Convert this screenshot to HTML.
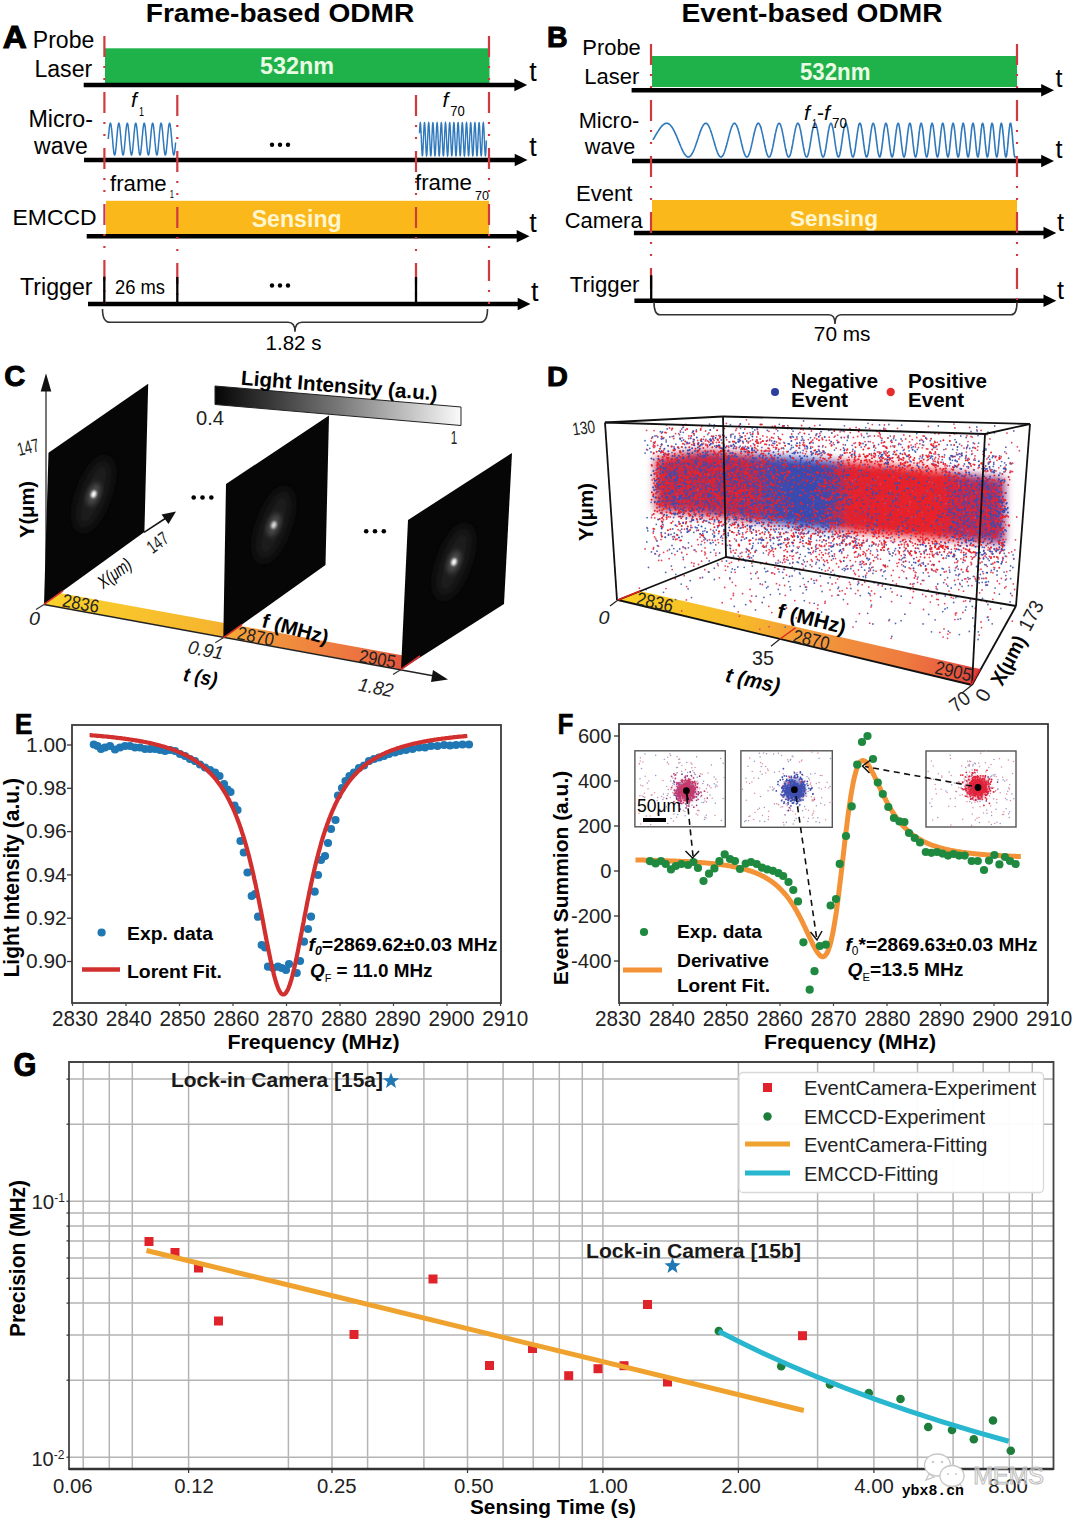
<!DOCTYPE html>
<html><head><meta charset="utf-8"><title>ODMR figure</title>
<style>
html,body{margin:0;padding:0;background:#fff;}
body{width:1080px;height:1520px;overflow:hidden;}
svg{display:block;font-family:"Liberation Sans","Noto Sans CJK SC",sans-serif;}
</style></head><body>
<svg width="1080" height="1520" viewBox="0 0 1080 1520">
<defs>
<linearGradient id="cbar" x1="0" y1="0" x2="1" y2="0"><stop offset="0" stop-color="#050505"/><stop offset="0.5" stop-color="#777"/><stop offset="1" stop-color="#fafafa"/></linearGradient>
<linearGradient id="tbar" gradientUnits="userSpaceOnUse" x1="44" y1="606" x2="418" y2="671"><stop offset="0" stop-color="#fad22a"/><stop offset="0.45" stop-color="#f6b52e"/><stop offset="0.55" stop-color="#f39a3c"/><stop offset="0.85" stop-color="#ec7240"/><stop offset="1" stop-color="#e2483a"/></linearGradient>
<linearGradient id="dbar" gradientUnits="userSpaceOnUse" x1="618" y1="600" x2="980" y2="680"><stop offset="0" stop-color="#f9cf22"/><stop offset="0.35" stop-color="#f7b72a"/><stop offset="0.5" stop-color="#f39c3a"/><stop offset="0.8" stop-color="#ee7a40"/><stop offset="0.93" stop-color="#e9573e"/><stop offset="1" stop-color="#d83a3a"/></linearGradient>
<filter id="b6" x="-1" y="-1" width="3" height="3"><feGaussianBlur stdDeviation="6"/></filter>
<filter id="b3" x="-1" y="-1" width="3" height="3"><feGaussianBlur stdDeviation="2.6"/></filter>
<filter id="b1" x="-1" y="-1" width="3" height="3"><feGaussianBlur stdDeviation="1"/></filter>
<clipPath id="cf1"><polygon points="44,604.4 48.5,452.7 148.2,383.8 144.4,532"/></clipPath>
<clipPath id="cf2"><polygon points="223.3,637.8 226,484 329,415.5 325.5,565"/></clipPath>
<clipPath id="cf3"><polygon points="401,669.5 408,520 512,453 504,604"/></clipPath>
<linearGradient id="dband" gradientUnits="userSpaceOnUse" x1="652" y1="0" x2="1008" y2="0"><stop offset="0" stop-color="#c2304f"/><stop offset="0.25" stop-color="#b02a58"/><stop offset="0.33" stop-color="#5a44a0"/><stop offset="0.40" stop-color="#3b48b0"/><stop offset="0.49" stop-color="#4046ac"/><stop offset="0.55" stop-color="#dc2433"/><stop offset="0.80" stop-color="#e6222a"/><stop offset="0.87" stop-color="#a82e68"/><stop offset="1" stop-color="#90387c"/></linearGradient>
<filter id="b4" x="-0.2" y="-0.5" width="1.4" height="2"><feGaussianBlur stdDeviation="4.5"/></filter>
<clipPath id="ins11"><rect x="634.9" y="750.8" width="90.4" height="76"/></clipPath>
<clipPath id="ins12"><rect x="740.9" y="750.8" width="91.4" height="76.5"/></clipPath>
<clipPath id="ins13"><rect x="926" y="751" width="90" height="76"/></clipPath>
</defs>
<rect width="1080" height="1520" fill="#fff"/>
<text x="280" y="21.7" font-size="26.5" font-weight="bold" text-anchor="middle" textLength="268.5" lengthAdjust="spacingAndGlyphs">Frame-based ODMR</text>
<text x="2.8" y="47.5" font-size="32" font-weight="bold" textLength="24" lengthAdjust="spacingAndGlyphs" stroke="#000" stroke-width="1.1">A</text>
<text x="32.8" y="48" font-size="23.5" textLength="61.5" lengthAdjust="spacingAndGlyphs">Probe</text>
<text x="34.4" y="76.9" font-size="23" textLength="57.8" lengthAdjust="spacingAndGlyphs">Laser</text>
<rect x="105" y="48.3" width="384.5" height="34.7" fill="#1fb24b" />
<text x="260" y="74.4" font-size="24" font-weight="bold" fill="#eafbe4" textLength="74" lengthAdjust="spacingAndGlyphs">532nm</text>
<line x1="83.7" y1="85" x2="515.4" y2="85" stroke="#000" stroke-width="4.5" />
<polygon points="527.2,85 514.4,78.8 514.4,91.2" fill="#000" />
<text x="529.3" y="80.5" font-size="27" textLength="7.5" lengthAdjust="spacingAndGlyphs">t</text>
<text x="28.5" y="126.5" font-size="23.3" textLength="64.5" lengthAdjust="spacingAndGlyphs">Micro-</text>
<text x="34" y="153.9" font-size="23.5" textLength="53.8" lengthAdjust="spacingAndGlyphs">wave</text>
<path d="M108.3 139 L108.4 137.7 L108.5 136.4 L108.6 135.1 L108.7 133.8 L108.9 132.6 L109 131.4 L109.1 130.3 L109.2 129.2 L109.3 128.2 L109.4 127.3 L109.5 126.5 L109.6 125.7 L109.8 125.1 L109.9 124.5 L110 124 L110.1 123.7 L110.2 123.5 L110.3 123.3 L110.4 123.3 L110.5 123.4 L110.7 123.6 L110.8 123.9 L110.9 124.3 L111 124.8 L111.1 125.5 L111.2 126.2 L111.3 127 L111.4 127.9 L111.6 128.8 L111.7 129.9 L111.8 131 L111.9 132.1 L112 133.3 L112.1 134.6 L112.2 135.9 L112.3 137.2 L112.5 138.5 L112.6 139.8 L112.7 141.1 L112.8 142.4 L112.9 143.7 L113 145 L113.1 146.2 L113.2 147.3 L113.4 148.5 L113.5 149.5 L113.6 150.5 L113.7 151.3 L113.8 152.1 L113.9 152.9 L114 153.5 L114.1 154 L114.3 154.4 L114.4 154.7 L114.5 154.9 L114.6 155 L114.7 155 L114.8 154.8 L114.9 154.6 L115 154.2 L115.2 153.8 L115.3 153.2 L115.4 152.6 L115.5 151.8 L115.6 151 L115.7 150.1 L115.8 149.1 L115.9 148 L116.1 146.9 L116.2 145.7 L116.3 144.5 L116.4 143.2 L116.5 141.9 L116.6 140.6 L116.7 139.3 L116.8 138 L117 136.6 L117.1 135.3 L117.2 134.1 L117.3 132.8 L117.4 131.6 L117.5 130.5 L117.6 129.4 L117.7 128.4 L117.9 127.5 L118 126.6 L118.1 125.9 L118.2 125.2 L118.3 124.6 L118.4 124.1 L118.5 123.8 L118.6 123.5 L118.7 123.3 L118.9 123.3 L119 123.4 L119.1 123.5 L119.2 123.8 L119.3 124.2 L119.4 124.7 L119.5 125.3 L119.6 126 L119.8 126.8 L119.9 127.7 L120 128.6 L120.1 129.6 L120.2 130.7 L120.3 131.9 L120.4 133.1 L120.5 134.3 L120.7 135.6 L120.8 136.9 L120.9 138.2 L121 139.5 L121.1 140.9 L121.2 142.2 L121.3 143.5 L121.4 144.7 L121.6 145.9 L121.7 147.1 L121.8 148.2 L121.9 149.3 L122 150.3 L122.1 151.2 L122.2 152 L122.3 152.7 L122.5 153.4 L122.6 153.9 L122.7 154.3 L122.8 154.7 L122.9 154.9 L123 155 L123.1 155 L123.2 154.9 L123.4 154.7 L123.5 154.3 L123.6 153.9 L123.7 153.4 L123.8 152.7 L123.9 152 L124 151.2 L124.1 150.3 L124.3 149.3 L124.4 148.2 L124.5 147.1 L124.6 145.9 L124.7 144.7 L124.8 143.5 L124.9 142.2 L125 140.9 L125.2 139.6 L125.3 138.2 L125.4 136.9 L125.5 135.6 L125.6 134.3 L125.7 133.1 L125.8 131.9 L125.9 130.7 L126.1 129.6 L126.2 128.6 L126.3 127.7 L126.4 126.8 L126.5 126 L126.6 125.3 L126.7 124.7 L126.8 124.2 L127 123.8 L127.1 123.5 L127.2 123.4 L127.3 123.3 L127.4 123.3 L127.5 123.5 L127.6 123.8 L127.7 124.1 L127.8 124.6 L128 125.2 L128.1 125.9 L128.2 126.6 L128.3 127.5 L128.4 128.4 L128.5 129.4 L128.6 130.5 L128.7 131.6 L128.9 132.8 L129 134.1 L129.1 135.3 L129.2 136.6 L129.3 137.9 L129.4 139.3 L129.5 140.6 L129.6 141.9 L129.8 143.2 L129.9 144.5 L130 145.7 L130.1 146.9 L130.2 148 L130.3 149.1 L130.4 150.1 L130.5 151 L130.7 151.8 L130.8 152.6 L130.9 153.2 L131 153.8 L131.1 154.2 L131.2 154.6 L131.3 154.8 L131.4 155 L131.6 155 L131.7 154.9 L131.8 154.7 L131.9 154.4 L132 154 L132.1 153.5 L132.2 152.9 L132.3 152.2 L132.5 151.4 L132.6 150.5 L132.7 149.5 L132.8 148.5 L132.9 147.4 L133 146.2 L133.1 145 L133.2 143.7 L133.4 142.5 L133.5 141.2 L133.6 139.8 L133.7 138.5 L133.8 137.2 L133.9 135.9 L134 134.6 L134.1 133.3 L134.3 132.1 L134.4 131 L134.5 129.9 L134.6 128.8 L134.7 127.9 L134.8 127 L134.9 126.2 L135 125.5 L135.2 124.8 L135.3 124.3 L135.4 123.9 L135.5 123.6 L135.6 123.4 L135.7 123.3 L135.8 123.3 L135.9 123.5 L136.1 123.7 L136.2 124 L136.3 124.5 L136.4 125.1 L136.5 125.7 L136.6 126.5 L136.7 127.3 L136.8 128.2 L137 129.2 L137.1 130.3 L137.2 131.4 L137.3 132.6 L137.4 133.8 L137.5 135.1 L137.6 136.4 L137.7 137.7 L137.8 139 L138 140.3 L138.1 141.6 L138.2 142.9 L138.3 144.2 L138.4 145.4 L138.5 146.6 L138.6 147.8 L138.7 148.8 L138.9 149.9 L139 150.8 L139.1 151.7 L139.2 152.4 L139.3 153.1 L139.4 153.7 L139.5 154.2 L139.6 154.5 L139.8 154.8 L139.9 155 L140 155 L140.1 154.9 L140.2 154.8 L140.3 154.5 L140.4 154.1 L140.5 153.6 L140.7 153 L140.8 152.3 L140.9 151.5 L141 150.7 L141.1 149.7 L141.2 148.7 L141.3 147.6 L141.4 146.4 L141.6 145.2 L141.7 144 L141.8 142.7 L141.9 141.4 L142 140.1 L142.1 138.8 L142.2 137.5 L142.3 136.2 L142.5 134.9 L142.6 133.6 L142.7 132.4 L142.8 131.2 L142.9 130.1 L143 129 L143.1 128.1 L143.2 127.2 L143.4 126.3 L143.5 125.6 L143.6 125 L143.7 124.4 L143.8 124 L143.9 123.7 L144 123.4 L144.1 123.3 L144.3 123.3 L144.4 123.4 L144.5 123.6 L144.6 124 L144.7 124.4 L144.8 124.9 L144.9 125.6 L145 126.3 L145.2 127.1 L145.3 128 L145.4 129 L145.5 130 L145.6 131.2 L145.7 132.3 L145.8 133.5 L145.9 134.8 L146.1 136.1 L146.2 137.4 L146.3 138.7 L146.4 140 L146.5 141.4 L146.6 142.7 L146.7 143.9 L146.8 145.2 L146.9 146.4 L147.1 147.5 L147.2 148.6 L147.3 149.7 L147.4 150.6 L147.5 151.5 L147.6 152.3 L147.7 153 L147.8 153.6 L148 154.1 L148.1 154.5 L148.2 154.7 L148.3 154.9 L148.4 155 L148.5 155 L148.6 154.8 L148.7 154.5 L148.9 154.2 L149 153.7 L149.1 153.1 L149.2 152.5 L149.3 151.7 L149.4 150.8 L149.5 149.9 L149.6 148.9 L149.8 147.8 L149.9 146.7 L150 145.5 L150.1 144.3 L150.2 143 L150.3 141.7 L150.4 140.4 L150.5 139.1 L150.7 137.7 L150.8 136.4 L150.9 135.1 L151 133.9 L151.1 132.6 L151.2 131.5 L151.3 130.3 L151.4 129.3 L151.6 128.3 L151.7 127.3 L151.8 126.5 L151.9 125.7 L152 125.1 L152.1 124.5 L152.2 124.1 L152.3 123.7 L152.5 123.5 L152.6 123.3 L152.7 123.3 L152.8 123.4 L152.9 123.6 L153 123.9 L153.1 124.3 L153.2 124.8 L153.4 125.4 L153.5 126.1 L153.6 126.9 L153.7 127.8 L153.8 128.8 L153.9 129.8 L154 130.9 L154.1 132.1 L154.3 133.3 L154.4 134.5 L154.5 135.8 L154.6 137.1 L154.7 138.4 L154.8 139.8 L154.9 141.1 L155 142.4 L155.2 143.7 L155.3 144.9 L155.4 146.1 L155.5 147.3 L155.6 148.4 L155.7 149.4 L155.8 150.4 L155.9 151.3 L156.1 152.1 L156.2 152.8 L156.3 153.4 L156.4 154 L156.5 154.4 L156.6 154.7 L156.7 154.9 L156.8 155 L156.9 155 L157.1 154.8 L157.2 154.6 L157.3 154.3 L157.4 153.8 L157.5 153.3 L157.6 152.6 L157.7 151.9 L157.8 151 L158 150.1 L158.1 149.1 L158.2 148.1 L158.3 146.9 L158.4 145.8 L158.5 144.5 L158.6 143.3 L158.7 142 L158.9 140.7 L159 139.3 L159.1 138 L159.2 136.7 L159.3 135.4 L159.4 134.1 L159.5 132.9 L159.6 131.7 L159.8 130.6 L159.9 129.5 L160 128.5 L160.1 127.5 L160.2 126.7 L160.3 125.9 L160.4 125.2 L160.5 124.6 L160.7 124.2 L160.8 123.8 L160.9 123.5 L161 123.3 L161.1 123.3 L161.2 123.4 L161.3 123.5 L161.4 123.8 L161.6 124.2 L161.7 124.7 L161.8 125.3 L161.9 126 L162 126.8 L162.1 127.6 L162.2 128.6 L162.3 129.6 L162.5 130.7 L162.6 131.8 L162.7 133 L162.8 134.3 L162.9 135.5 L163 136.8 L163.1 138.2 L163.2 139.5 L163.4 140.8 L163.5 142.1 L163.6 143.4 L163.7 144.7 L163.8 145.9 L163.9 147.1 L164 148.2 L164.1 149.2 L164.3 150.2 L164.4 151.1 L164.5 152 L164.6 152.7 L164.7 153.3 L164.8 153.9 L164.9 154.3 L165 154.6 L165.2 154.9 L165.3 155 L165.4 155 L165.5 154.9 L165.6 154.7 L165.7 154.3 L165.8 153.9 L165.9 153.4 L166 152.8 L166.2 152 L166.3 151.2 L166.4 150.3 L166.5 149.3 L166.6 148.3 L166.7 147.2 L166.8 146 L166.9 144.8 L167.1 143.5 L167.2 142.2 L167.3 140.9 L167.4 139.6 L167.5 138.3 L167.6 137 L167.7 135.7 L167.8 134.4 L168 133.1 L168.1 131.9 L168.2 130.8 L168.3 129.7 L168.4 128.7 L168.5 127.7 L168.6 126.8 L168.7 126 L168.9 125.3 L169 124.7 L169.1 124.2 L169.2 123.8 L169.3 123.6 L169.4 123.4 L169.5 123.3 L169.6 123.3 L169.8 123.5 L169.9 123.7 L170 124.1 L170.1 124.6 L170.2 125.2 L170.3 125.8 L170.4 126.6 L170.5 127.4 L170.7 128.4 L170.8 129.4 L170.9 130.5 L171 131.6 L171.1 132.8 L171.2 134 L171.3 135.3 L171.4 136.6 L171.6 137.9 L171.7 139.2 L171.8 140.5 L171.9 141.8 L172 143.1 L172.1 144.4 L172.2 145.6 L172.3 146.8 L172.5 147.9 L172.6 149 L172.7 150 L172.8 150.9 L172.9 151.8 L173 152.5 L173.1 153.2 L173.2 153.8 L173.4 154.2 L173.5 154.6 L173.6 154.8 L173.7 155 L173.8 155 L173.9 154.9 L174 154.7 L174.1 154.4 L174.3 154 L174.4 153.5 L174.5 152.9 L174.6 152.2 L174.7 151.4 L174.8 150.5 L174.9 149.5 L175 148.5 L175.2 147.4 L175.3 146.2 L175.4 145 L175.5 143.8 L175.6 142.5" fill="none" stroke="#2f78bb" stroke-width="1.5" />
<path d="M419.5 133.3 L419.6 131.6 L419.6 130 L419.7 128.6 L419.8 127.2 L419.9 126.1 L419.9 125.1 L420 124.2 L420.1 123.6 L420.2 123.1 L420.2 122.9 L420.3 122.8 L420.4 123 L420.5 123.3 L420.5 123.9 L420.6 124.6 L420.7 125.5 L420.8 126.6 L420.8 127.9 L420.9 129.3 L421 130.8 L421.1 132.4 L421.1 134.1 L421.2 135.9 L421.3 137.7 L421.4 139.6 L421.4 141.4 L421.5 143.2 L421.6 145 L421.7 146.6 L421.7 148.2 L421.8 149.7 L421.9 151.1 L422 152.3 L422 153.3 L422.1 154.2 L422.2 154.9 L422.3 155.4 L422.3 155.7 L422.4 155.8 L422.5 155.7 L422.6 155.4 L422.6 154.9 L422.7 154.2 L422.8 153.3 L422.8 152.2 L422.9 151 L423 149.6 L423.1 148.1 L423.1 146.5 L423.2 144.8 L423.3 143.1 L423.4 141.3 L423.4 139.4 L423.5 137.6 L423.6 135.8 L423.7 134 L423.7 132.3 L423.8 130.7 L423.9 129.2 L424 127.8 L424 126.6 L424.1 125.5 L424.2 124.6 L424.3 123.8 L424.3 123.3 L424.4 122.9 L424.5 122.8 L424.6 122.9 L424.6 123.1 L424.7 123.6 L424.8 124.3 L424.9 125.1 L424.9 126.1 L425 127.3 L425.1 128.7 L425.2 130.1 L425.2 131.7 L425.3 133.4 L425.4 135.1 L425.5 136.9 L425.5 138.7 L425.6 140.6 L425.7 142.4 L425.8 144.2 L425.8 145.9 L425.9 147.5 L426 149.1 L426 150.5 L426.1 151.8 L426.2 152.9 L426.3 153.9 L426.3 154.6 L426.4 155.2 L426.5 155.6 L426.6 155.8 L426.6 155.8 L426.7 155.5 L426.8 155.1 L426.9 154.5 L426.9 153.7 L427 152.7 L427.1 151.6 L427.2 150.3 L427.2 148.8 L427.3 147.3 L427.4 145.6 L427.5 143.9 L427.5 142.1 L427.6 140.3 L427.7 138.4 L427.8 136.6 L427.8 134.8 L427.9 133.1 L428 131.4 L428.1 129.8 L428.1 128.4 L428.2 127.1 L428.3 125.9 L428.4 124.9 L428.4 124.1 L428.5 123.5 L428.6 123.1 L428.7 122.8 L428.7 122.8 L428.8 123 L428.9 123.4 L429 123.9 L429 124.7 L429.1 125.7 L429.2 126.8 L429.2 128.1 L429.3 129.5 L429.4 131 L429.5 132.6 L429.5 134.3 L429.6 136.1 L429.7 137.9 L429.8 139.8 L429.8 141.6 L429.9 143.4 L430 145.2 L430.1 146.8 L430.1 148.4 L430.2 149.9 L430.3 151.2 L430.4 152.4 L430.4 153.5 L430.5 154.3 L430.6 155 L430.7 155.5 L430.7 155.7 L430.8 155.8 L430.9 155.7 L431 155.3 L431 154.8 L431.1 154.1 L431.2 153.2 L431.3 152.1 L431.3 150.8 L431.4 149.5 L431.5 148 L431.6 146.3 L431.6 144.6 L431.7 142.9 L431.8 141.1 L431.9 139.2 L431.9 137.4 L432 135.6 L432.1 133.8 L432.2 132.1 L432.2 130.5 L432.3 129 L432.4 127.7 L432.4 126.4 L432.5 125.4 L432.6 124.5 L432.7 123.8 L432.7 123.2 L432.8 122.9 L432.9 122.8 L433 122.9 L433 123.2 L433.1 123.7 L433.2 124.4 L433.3 125.2 L433.3 126.3 L433.4 127.5 L433.5 128.8 L433.6 130.3 L433.6 131.9 L433.7 133.6 L433.8 135.3 L433.9 137.1 L433.9 139 L434 140.8 L434.1 142.6 L434.2 144.4 L434.2 146.1 L434.3 147.7 L434.4 149.3 L434.5 150.7 L434.5 151.9 L434.6 153 L434.7 154 L434.8 154.7 L434.8 155.3 L434.9 155.6 L435 155.8 L435.1 155.7 L435.1 155.5 L435.2 155.1 L435.3 154.4 L435.4 153.6 L435.4 152.6 L435.5 151.4 L435.6 150.1 L435.6 148.6 L435.7 147.1 L435.8 145.4 L435.9 143.7 L435.9 141.9 L436 140 L436.1 138.2 L436.2 136.4 L436.2 134.6 L436.3 132.9 L436.4 131.2 L436.5 129.7 L436.5 128.2 L436.6 126.9 L436.7 125.8 L436.8 124.8 L436.8 124 L436.9 123.4 L437 123 L437.1 122.8 L437.1 122.8 L437.2 123 L437.3 123.4 L437.4 124 L437.4 124.8 L437.5 125.8 L437.6 126.9 L437.7 128.2 L437.7 129.6 L437.8 131.2 L437.9 132.8 L438 134.6 L438 136.3 L438.1 138.2 L438.2 140 L438.3 141.8 L438.3 143.6 L438.4 145.4 L438.5 147 L438.6 148.6 L438.6 150.1 L438.7 151.4 L438.8 152.6 L438.8 153.6 L438.9 154.4 L439 155 L439.1 155.5 L439.1 155.7 L439.2 155.8 L439.3 155.6 L439.4 155.3 L439.4 154.7 L439.5 154 L439.6 153 L439.7 151.9 L439.7 150.7 L439.8 149.3 L439.9 147.8 L440 146.1 L440 144.4 L440.1 142.7 L440.2 140.8 L440.3 139 L440.3 137.2 L440.4 135.4 L440.5 133.6 L440.6 131.9 L440.6 130.3 L440.7 128.8 L440.8 127.5 L440.9 126.3 L440.9 125.2 L441 124.4 L441.1 123.7 L441.2 123.2 L441.2 122.9 L441.3 122.8 L441.4 122.9 L441.5 123.2 L441.5 123.7 L441.6 124.5 L441.7 125.3 L441.8 126.4 L441.8 127.6 L441.9 129 L442 130.5 L442 132.1 L442.1 133.8 L442.2 135.6 L442.3 137.4 L442.3 139.2 L442.4 141 L442.5 142.8 L442.6 144.6 L442.6 146.3 L442.7 147.9 L442.8 149.4 L442.9 150.8 L442.9 152.1 L443 153.1 L443.1 154.1 L443.2 154.8 L443.2 155.3 L443.3 155.7 L443.4 155.8 L443.5 155.7 L443.5 155.5 L443.6 155 L443.7 154.3 L443.8 153.5 L443.8 152.4 L443.9 151.3 L444 149.9 L444.1 148.4 L444.1 146.9 L444.2 145.2 L444.3 143.4 L444.4 141.6 L444.4 139.8 L444.5 138 L444.6 136.2 L444.7 134.4 L444.7 132.7 L444.8 131 L444.9 129.5 L445 128.1 L445 126.8 L445.1 125.7 L445.2 124.7 L445.2 124 L445.3 123.4 L445.4 123 L445.5 122.8 L445.5 122.8 L445.6 123.1 L445.7 123.5 L445.8 124.1 L445.8 124.9 L445.9 125.9 L446 127.1 L446.1 128.4 L446.1 129.8 L446.2 131.4 L446.3 133 L446.4 134.8 L446.4 136.6 L446.5 138.4 L446.6 140.2 L446.7 142 L446.7 143.8 L446.8 145.6 L446.9 147.2 L447 148.8 L447 150.2 L447.1 151.5 L447.2 152.7 L447.3 153.7 L447.3 154.5 L447.4 155.1 L447.5 155.5 L447.6 155.8 L447.6 155.8 L447.7 155.6 L447.8 155.2 L447.9 154.6 L447.9 153.9 L448 152.9 L448.1 151.8 L448.2 150.5 L448.2 149.1 L448.3 147.6 L448.4 145.9 L448.4 144.2 L448.5 142.4 L448.6 140.6 L448.7 138.8 L448.7 137 L448.8 135.2 L448.9 133.4 L449 131.7 L449 130.1 L449.1 128.7 L449.2 127.3 L449.3 126.2 L449.3 125.1 L449.4 124.3 L449.5 123.6 L449.6 123.1 L449.6 122.9 L449.7 122.8 L449.8 122.9 L449.9 123.3 L449.9 123.8 L450 124.5 L450.1 125.5 L450.2 126.5 L450.2 127.8 L450.3 129.2 L450.4 130.7 L450.5 132.3 L450.5 134 L450.6 135.8 L450.7 137.6 L450.8 139.4 L450.8 141.2 L450.9 143.1 L451 144.8 L451.1 146.5 L451.1 148.1 L451.2 149.6 L451.3 151 L451.4 152.2 L451.4 153.3 L451.5 154.2 L451.6 154.9 L451.6 155.4 L451.7 155.7 L451.8 155.8 L451.9 155.7 L451.9 155.4 L452 154.9 L452.1 154.2 L452.2 153.4 L452.2 152.3 L452.3 151.1 L452.4 149.7 L452.5 148.3 L452.5 146.7 L452.6 145 L452.7 143.2 L452.8 141.4 L452.8 139.6 L452.9 137.8 L453 135.9 L453.1 134.2 L453.1 132.5 L453.2 130.8 L453.3 129.3 L453.4 127.9 L453.4 126.7 L453.5 125.6 L453.6 124.6 L453.7 123.9 L453.7 123.3 L453.8 123 L453.9 122.8 L454 122.9 L454 123.1 L454.1 123.6 L454.2 124.2 L454.3 125 L454.3 126 L454.4 127.2 L454.5 128.5 L454.5 130 L454.6 131.6 L454.7 133.2 L454.8 135 L454.8 136.8 L454.9 138.6 L455 140.4 L455.1 142.3 L455.1 144.1 L455.2 145.8 L455.3 147.4 L455.4 149 L455.4 150.4 L455.5 151.7 L455.6 152.8 L455.7 153.8 L455.7 154.6 L455.8 155.2 L455.9 155.6 L456 155.8 L456 155.8 L456.1 155.6 L456.2 155.2 L456.3 154.6 L456.3 153.8 L456.4 152.8 L456.5 151.6 L456.6 150.4 L456.6 148.9 L456.7 147.4 L456.8 145.7 L456.9 144 L456.9 142.2 L457 140.4 L457.1 138.6 L457.2 136.7 L457.2 134.9 L457.3 133.2 L457.4 131.5 L457.5 130 L457.5 128.5 L457.6 127.2 L457.7 126 L457.7 125 L457.8 124.2 L457.9 123.5 L458 123.1 L458 122.9 L458.1 122.8 L458.2 123 L458.3 123.3 L458.3 123.9 L458.4 124.7 L458.5 125.6 L458.6 126.7 L458.6 127.9 L458.7 129.3 L458.8 130.9 L458.9 132.5 L458.9 134.2 L459 136 L459.1 137.8 L459.2 139.6 L459.2 141.5 L459.3 143.3 L459.4 145 L459.5 146.7 L459.5 148.3 L459.6 149.8 L459.7 151.1 L459.8 152.3 L459.8 153.4 L459.9 154.2 L460 154.9 L460.1 155.4 L460.1 155.7 L460.2 155.8 L460.3 155.7 L460.4 155.4 L460.4 154.8 L460.5 154.1 L460.6 153.2 L460.7 152.2 L460.7 150.9 L460.8 149.6 L460.9 148.1 L460.9 146.5 L461 144.8 L461.1 143 L461.2 141.2 L461.2 139.4 L461.3 137.5 L461.4 135.7 L461.5 134 L461.5 132.3 L461.6 130.6 L461.7 129.1 L461.8 127.8 L461.8 126.5 L461.9 125.4 L462 124.5 L462.1 123.8 L462.1 123.3 L462.2 122.9 L462.3 122.8 L462.4 122.9 L462.4 123.2 L462.5 123.6 L462.6 124.3 L462.7 125.2 L462.7 126.2 L462.8 127.4 L462.9 128.7 L463 130.2 L463 131.8 L463.1 133.5 L463.2 135.2 L463.3 137 L463.3 138.8 L463.4 140.7 L463.5 142.5 L463.6 144.3 L463.6 146 L463.7 147.6 L463.8 149.1 L463.9 150.6 L463.9 151.8 L464 152.9 L464.1 153.9 L464.1 154.7 L464.2 155.2 L464.3 155.6 L464.4 155.8 L464.4 155.8 L464.5 155.5 L464.6 155.1 L464.7 154.5 L464.7 153.7 L464.8 152.7 L464.9 151.5 L465 150.2 L465 148.7 L465.1 147.2 L465.2 145.5 L465.3 143.8 L465.3 142 L465.4 140.2 L465.5 138.3 L465.6 136.5 L465.6 134.7 L465.7 133 L465.8 131.3 L465.9 129.8 L465.9 128.3 L466 127 L466.1 125.9 L466.2 124.9 L466.2 124.1 L466.3 123.5 L466.4 123.1 L466.5 122.8 L466.5 122.8 L466.6 123 L466.7 123.4 L466.8 124 L466.8 124.8 L466.9 125.7 L467 126.8 L467.1 128.1 L467.1 129.5 L467.2 131.1 L467.3 132.7 L467.3 134.4 L467.4 136.2 L467.5 138 L467.6 139.9 L467.6 141.7 L467.7 143.5 L467.8 145.2 L467.9 146.9 L467.9 148.5 L468 150 L468.1 151.3 L468.2 152.5 L468.2 153.5 L468.3 154.3 L468.4 155 L468.5 155.5 L468.5 155.7 L468.6 155.8 L468.7 155.7 L468.8 155.3 L468.8 154.8 L468.9 154 L469 153.1 L469.1 152 L469.1 150.8 L469.2 149.4 L469.3 147.9 L469.4 146.3 L469.4 144.6 L469.5 142.8 L469.6 141 L469.7 139.1 L469.7 137.3 L469.8 135.5 L469.9 133.7 L470 132.1 L470 130.4 L470.1 129 L470.2 127.6 L470.3 126.4 L470.3 125.3 L470.4 124.4 L470.5 123.7 L470.5 123.2 L470.6 122.9 L470.7 122.8 L470.8 122.9 L470.8 123.2 L470.9 123.7 L471 124.4 L471.1 125.3 L471.1 126.3 L471.2 127.5 L471.3 128.9 L471.4 130.4 L471.4 132 L471.5 133.7 L471.6 135.4 L471.7 137.2 L471.7 139.1 L471.8 140.9 L471.9 142.7 L472 144.5 L472 146.2 L472.1 147.8 L472.2 149.3 L472.3 150.7 L472.3 152 L472.4 153.1 L472.5 154 L472.6 154.7 L472.6 155.3 L472.7 155.6 L472.8 155.8 L472.9 155.7 L472.9 155.5 L473 155 L473.1 154.4 L473.2 153.5 L473.2 152.5 L473.3 151.3 L473.4 150 L473.5 148.6 L473.5 147 L473.6 145.3 L473.7 143.6 L473.7 141.8 L473.8 139.9 L473.9 138.1 L474 136.3 L474 134.5 L474.1 132.8 L474.2 131.1 L474.3 129.6 L474.3 128.2 L474.4 126.9 L474.5 125.8 L474.6 124.8 L474.6 124 L474.7 123.4 L474.8 123 L474.9 122.8 L474.9 122.8 L475 123 L475.1 123.5 L475.2 124.1 L475.2 124.9 L475.3 125.8 L475.4 127 L475.5 128.3 L475.5 129.7 L475.6 131.3 L475.7 132.9 L475.8 134.6 L475.8 136.4 L475.9 138.2 L476 140.1 L476.1 141.9 L476.1 143.7 L476.2 145.4 L476.3 147.1 L476.4 148.7 L476.4 150.1 L476.5 151.4 L476.6 152.6 L476.7 153.6 L476.7 154.4 L476.8 155.1 L476.9 155.5 L476.9 155.8 L477 155.8 L477.1 155.6 L477.2 155.3 L477.2 154.7 L477.3 153.9 L477.4 153 L477.5 151.9 L477.5 150.6 L477.6 149.2 L477.7 147.7 L477.8 146.1 L477.8 144.3 L477.9 142.6 L478 140.8 L478.1 138.9 L478.1 137.1 L478.2 135.3 L478.3 133.5 L478.4 131.9 L478.4 130.3 L478.5 128.8 L478.6 127.4 L478.7 126.2 L478.7 125.2 L478.8 124.3 L478.9 123.7 L479 123.2 L479 122.9 L479.1 122.8 L479.2 122.9 L479.3 123.2 L479.3 123.8 L479.4 124.5 L479.5 125.4 L479.6 126.5 L479.6 127.7 L479.7 129.1 L479.8 130.6 L479.9 132.2 L479.9 133.9 L480 135.6 L480.1 137.4 L480.1 139.3 L480.2 141.1 L480.3 142.9 L480.4 144.7 L480.4 146.4 L480.5 148 L480.6 149.5 L480.7 150.9 L480.7 152.1 L480.8 153.2 L480.9 154.1 L481 154.8 L481 155.3 L481.1 155.7 L481.2 155.8 L481.3 155.7 L481.3 155.4 L481.4 155 L481.5 154.3 L481.6 153.4 L481.6 152.4 L481.7 151.2 L481.8 149.9 L481.9 148.4 L481.9 146.8 L482 145.1 L482.1 143.4 L482.2 141.6 L482.2 139.7 L482.3 137.9 L482.4 136.1 L482.5 134.3 L482.5 132.6 L482.6 130.9 L482.7 129.4 L482.8 128 L482.8 126.7 L482.9 125.6 L483 124.7 L483.1 123.9 L483.1 123.4 L483.2 123 L483.3 122.8 L483.3 122.8 L483.4 123.1 L483.5 123.5 L483.6 124.1 L483.6 125 L483.7 126 L483.8 127.1 L483.9 128.4 L483.9 129.9 L484 131.5 L484.1 133.1 L484.2 134.9 L484.2 136.6 L484.3 138.5 L484.4 140.3 L484.5 142.1 L484.5 143.9 L484.6 145.6 L484.7 147.3 L484.8 148.9 L484.8 150.3 L484.9 151.6 L485 152.7 L485.1 153.7 L485.1 154.5 L485.2 155.1 L485.3 155.6 L485.4 155.8 L485.4 155.8 L485.5 155.6 L485.6 155.2 L485.7 154.6 L485.7 153.8 L485.8 152.9 L485.9 151.7 L486 150.5 L486 149 L486.1 147.5 L486.2 145.9 L486.3 144.1 L486.3 142.4 L486.4 140.5" fill="none" stroke="#2f78bb" stroke-width="1.4" />
<line x1="84" y1="160" x2="515.7" y2="160" stroke="#000" stroke-width="4.5" />
<polygon points="527.5,160 514.7,153.8 514.7,166.2" fill="#000" />
<text x="529.3" y="155.5" font-size="27" textLength="7.5" lengthAdjust="spacingAndGlyphs">t</text>
<text x="131" y="106.5" font-size="21" font-style="italic">f</text>
<text x="139" y="116" font-size="13" textLength="5" lengthAdjust="spacingAndGlyphs">1</text>
<text x="442.5" y="106.5" font-size="21" font-style="italic">f</text>
<text x="450.3" y="116.3" font-size="14" textLength="14.5" lengthAdjust="spacingAndGlyphs">70</text>
<circle cx="272" cy="144.8" r="2.2" fill="#000"/>
<circle cx="280" cy="144.8" r="2.2" fill="#000"/>
<circle cx="288" cy="144.8" r="2.2" fill="#000"/>
<text x="110" y="190.8" font-size="22" textLength="56.7" lengthAdjust="spacingAndGlyphs">frame</text>
<text x="169.8" y="198.3" font-size="10" textLength="4.2" lengthAdjust="spacingAndGlyphs">1</text>
<text x="415" y="190" font-size="21.5" textLength="57" lengthAdjust="spacingAndGlyphs">frame</text>
<text x="475" y="200.2" font-size="12" textLength="14" lengthAdjust="spacingAndGlyphs">70</text>
<text x="12.5" y="225.3" font-size="22.5" textLength="84.2" lengthAdjust="spacingAndGlyphs">EMCCD</text>
<rect x="106" y="200.8" width="383" height="33.5" fill="#fbb81b" />
<text x="251.7" y="227.2" font-size="23" font-weight="bold" fill="#fff6d0" textLength="90" lengthAdjust="spacingAndGlyphs">Sensing</text>
<line x1="86.7" y1="236.3" x2="517.7" y2="236.3" stroke="#000" stroke-width="4.5" />
<polygon points="529.5,236.3 516.7,230.1 516.7,242.5" fill="#000" />
<text x="529.3" y="231.8" font-size="27" textLength="7.5" lengthAdjust="spacingAndGlyphs">t</text>
<text x="20" y="295" font-size="23.3" textLength="72.5" lengthAdjust="spacingAndGlyphs">Trigger</text>
<line x1="88" y1="304" x2="518.7" y2="304" stroke="#000" stroke-width="4.5" />
<polygon points="530.5,304 517.7,297.8 517.7,310.2" fill="#000" />
<text x="531" y="300.5" font-size="27" textLength="7.5" lengthAdjust="spacingAndGlyphs">t</text>
<text x="115" y="294.2" font-size="19.8" textLength="50" lengthAdjust="spacingAndGlyphs">26 ms</text>
<circle cx="272" cy="285.5" r="2.2" fill="#000"/>
<circle cx="280" cy="285.5" r="2.2" fill="#000"/>
<circle cx="288" cy="285.5" r="2.2" fill="#000"/>
<path d="M102.5 309 Q102.5 322.3 110 322.3 L288 322.3 Q295 322.3 295 331.7 Q295 322.3 302 322.3 L480 322.3 Q487.5 322.3 487.5 309" fill="none" stroke="#333" stroke-width="1.6" />
<text x="265.5" y="350" font-size="20" textLength="56" lengthAdjust="spacingAndGlyphs">1.82 s</text>
<line x1="104.4" y1="36" x2="104.4" y2="310" stroke="#cf3a3f" stroke-width="2.2" stroke-dasharray="21 9 2 10 2 12" stroke-dashoffset="0"/>
<line x1="177.3" y1="95" x2="177.3" y2="300" stroke="#cf3a3f" stroke-width="2.2" stroke-dasharray="21 9 2 10 2 12" stroke-dashoffset="0"/>
<line x1="416" y1="95" x2="416" y2="300" stroke="#cf3a3f" stroke-width="2.2" stroke-dasharray="21 9 2 10 2 12" stroke-dashoffset="0"/>
<line x1="489" y1="36" x2="489" y2="310" stroke="#cf3a3f" stroke-width="2.2" stroke-dasharray="21 9 2 10 2 12" stroke-dashoffset="0"/>
<line x1="104.3" y1="276.7" x2="104.3" y2="304" stroke="#000" stroke-width="2.3" />
<line x1="177.3" y1="277" x2="177.3" y2="304" stroke="#000" stroke-width="2.3" />
<line x1="416" y1="277" x2="416" y2="304" stroke="#000" stroke-width="2.3" />
<text x="812" y="22" font-size="26.5" font-weight="bold" text-anchor="middle" textLength="261" lengthAdjust="spacingAndGlyphs">Event-based ODMR</text>
<text x="547" y="47.4" font-size="29" font-weight="bold" textLength="20.6" lengthAdjust="spacingAndGlyphs" stroke="#000" stroke-width="1">B</text>
<text x="582.3" y="55" font-size="22" textLength="58.5" lengthAdjust="spacingAndGlyphs">Probe</text>
<text x="584.3" y="83.6" font-size="21.5" textLength="55" lengthAdjust="spacingAndGlyphs">Laser</text>
<rect x="652" y="56" width="365" height="31" fill="#1fb24b" />
<text x="800" y="80" font-size="24" font-weight="bold" fill="#eafbe4" textLength="70.5" lengthAdjust="spacingAndGlyphs">532nm</text>
<line x1="631.6" y1="90.2" x2="1042.2" y2="90.2" stroke="#000" stroke-width="4.5" />
<polygon points="1054,90.2 1041.2,84 1041.2,96.4" fill="#000" />
<text x="1055.5" y="87" font-size="25" textLength="7" lengthAdjust="spacingAndGlyphs">t</text>
<text x="578.7" y="127.9" font-size="21.5" textLength="60.6" lengthAdjust="spacingAndGlyphs">Micro-</text>
<text x="584.8" y="154.3" font-size="21.5" textLength="50.4" lengthAdjust="spacingAndGlyphs">wave</text>
<path d="M653 139.8 L653.1 139.5 L653.3 139.3 L653.4 139 L653.6 138.8 L653.7 138.5 L653.9 138.3 L654 138 L654.2 137.8 L654.3 137.5 L654.5 137.3 L654.6 137.1 L654.7 136.8 L654.9 136.6 L655 136.3 L655.2 136.1 L655.3 135.8 L655.5 135.6 L655.6 135.3 L655.8 135.1 L655.9 134.8 L656 134.6 L656.2 134.3 L656.3 134.1 L656.5 133.8 L656.6 133.6 L656.8 133.4 L656.9 133.1 L657.1 132.9 L657.2 132.6 L657.4 132.4 L657.5 132.2 L657.6 131.9 L657.8 131.7 L657.9 131.5 L658.1 131.2 L658.2 131 L658.4 130.8 L658.5 130.6 L658.7 130.3 L658.8 130.1 L658.9 129.9 L659.1 129.7 L659.2 129.5 L659.4 129.3 L659.5 129 L659.7 128.8 L659.8 128.6 L660 128.4 L660.1 128.2 L660.3 128 L660.4 127.8 L660.5 127.7 L660.7 127.5 L660.8 127.3 L661 127.1 L661.1 126.9 L661.3 126.8 L661.4 126.6 L661.6 126.4 L661.7 126.3 L661.8 126.1 L662 125.9 L662.1 125.8 L662.3 125.6 L662.4 125.5 L662.6 125.4 L662.7 125.2 L662.9 125.1 L663 125 L663.2 124.8 L663.3 124.7 L663.4 124.6 L663.6 124.5 L663.7 124.4 L663.9 124.3 L664 124.2 L664.2 124.1 L664.3 124 L664.5 123.9 L664.6 123.8 L664.7 123.8 L664.9 123.7 L665 123.6 L665.2 123.6 L665.3 123.5 L665.5 123.5 L665.6 123.4 L665.8 123.4 L665.9 123.4 L666.1 123.3 L666.2 123.3 L666.3 123.3 L666.5 123.3 L666.6 123.3 L666.8 123.3 L666.9 123.3 L667.1 123.3 L667.2 123.3 L667.4 123.4 L667.5 123.4 L667.7 123.4 L667.8 123.5 L667.9 123.5 L668.1 123.6 L668.2 123.6 L668.4 123.7 L668.5 123.8 L668.7 123.9 L668.8 123.9 L669 124 L669.1 124.1 L669.2 124.2 L669.4 124.3 L669.5 124.4 L669.7 124.6 L669.8 124.7 L670 124.8 L670.1 124.9 L670.3 125.1 L670.4 125.2 L670.6 125.4 L670.7 125.6 L670.8 125.7 L671 125.9 L671.1 126.1 L671.3 126.2 L671.4 126.4 L671.6 126.6 L671.7 126.8 L671.9 127 L672 127.2 L672.1 127.5 L672.3 127.7 L672.4 127.9 L672.6 128.1 L672.7 128.4 L672.9 128.6 L673 128.9 L673.2 129.1 L673.3 129.4 L673.5 129.6 L673.6 129.9 L673.7 130.2 L673.9 130.4 L674 130.7 L674.2 131 L674.3 131.3 L674.5 131.6 L674.6 131.9 L674.8 132.2 L674.9 132.5 L675 132.8 L675.2 133.1 L675.3 133.4 L675.5 133.7 L675.6 134.1 L675.8 134.4 L675.9 134.7 L676.1 135.1 L676.2 135.4 L676.4 135.7 L676.5 136.1 L676.6 136.4 L676.8 136.7 L676.9 137.1 L677.1 137.4 L677.2 137.8 L677.4 138.1 L677.5 138.5 L677.7 138.8 L677.8 139.2 L677.9 139.6 L678.1 139.9 L678.2 140.3 L678.4 140.6 L678.5 141 L678.7 141.4 L678.8 141.7 L679 142.1 L679.1 142.4 L679.3 142.8 L679.4 143.1 L679.5 143.5 L679.7 143.9 L679.8 144.2 L680 144.6 L680.1 144.9 L680.3 145.3 L680.4 145.6 L680.6 146 L680.7 146.3 L680.9 146.7 L681 147 L681.1 147.3 L681.3 147.7 L681.4 148 L681.6 148.3 L681.7 148.6 L681.9 149 L682 149.3 L682.2 149.6 L682.3 149.9 L682.4 150.2 L682.6 150.5 L682.7 150.8 L682.9 151.1 L683 151.4 L683.2 151.7 L683.3 151.9 L683.5 152.2 L683.6 152.5 L683.8 152.7 L683.9 153 L684 153.2 L684.2 153.5 L684.3 153.7 L684.5 153.9 L684.6 154.1 L684.8 154.3 L684.9 154.5 L685.1 154.7 L685.2 154.9 L685.3 155.1 L685.5 155.3 L685.6 155.5 L685.8 155.6 L685.9 155.8 L686.1 155.9 L686.2 156 L686.4 156.2 L686.5 156.3 L686.7 156.4 L686.8 156.5 L686.9 156.6 L687.1 156.7 L687.2 156.7 L687.4 156.8 L687.5 156.9 L687.7 156.9 L687.8 156.9 L688 157 L688.1 157 L688.2 157 L688.4 157 L688.5 157 L688.7 157 L688.8 156.9 L689 156.9 L689.1 156.8 L689.3 156.8 L689.4 156.7 L689.6 156.6 L689.7 156.5 L689.8 156.5 L690 156.3 L690.1 156.2 L690.3 156.1 L690.4 156 L690.6 155.8 L690.7 155.7 L690.9 155.5 L691 155.3 L691.2 155.1 L691.3 154.9 L691.4 154.7 L691.6 154.5 L691.7 154.3 L691.9 154.1 L692 153.8 L692.2 153.6 L692.3 153.3 L692.5 153.1 L692.6 152.8 L692.7 152.5 L692.9 152.2 L693 151.9 L693.2 151.6 L693.3 151.3 L693.5 151 L693.6 150.6 L693.8 150.3 L693.9 150 L694.1 149.6 L694.2 149.3 L694.3 148.9 L694.5 148.5 L694.6 148.2 L694.8 147.8 L694.9 147.4 L695.1 147 L695.2 146.6 L695.4 146.2 L695.5 145.8 L695.6 145.4 L695.8 145 L695.9 144.6 L696.1 144.1 L696.2 143.7 L696.4 143.3 L696.5 142.9 L696.7 142.4 L696.8 142 L697 141.6 L697.1 141.1 L697.2 140.7 L697.4 140.2 L697.5 139.8 L697.7 139.4 L697.8 138.9 L698 138.5 L698.1 138 L698.3 137.6 L698.4 137.2 L698.5 136.7 L698.7 136.3 L698.8 135.9 L699 135.4 L699.1 135 L699.3 134.6 L699.4 134.2 L699.6 133.7 L699.7 133.3 L699.9 132.9 L700 132.5 L700.1 132.1 L700.3 131.7 L700.4 131.3 L700.6 130.9 L700.7 130.6 L700.9 130.2 L701 129.8 L701.2 129.5 L701.3 129.1 L701.4 128.8 L701.6 128.5 L701.7 128.1 L701.9 127.8 L702 127.5 L702.2 127.2 L702.3 126.9 L702.5 126.6 L702.6 126.4 L702.8 126.1 L702.9 125.9 L703 125.6 L703.2 125.4 L703.3 125.2 L703.5 125 L703.6 124.8 L703.8 124.6 L703.9 124.4 L704.1 124.2 L704.2 124.1 L704.4 124 L704.5 123.8 L704.6 123.7 L704.8 123.6 L704.9 123.5 L705.1 123.5 L705.2 123.4 L705.4 123.4 L705.5 123.3 L705.7 123.3 L705.8 123.3 L705.9 123.3 L706.1 123.3 L706.2 123.4 L706.4 123.4 L706.5 123.5 L706.7 123.5 L706.8 123.6 L707 123.7 L707.1 123.8 L707.3 124 L707.4 124.1 L707.5 124.3 L707.7 124.4 L707.8 124.6 L708 124.8 L708.1 125 L708.3 125.2 L708.4 125.5 L708.6 125.7 L708.7 126 L708.8 126.2 L709 126.5 L709.1 126.8 L709.3 127.1 L709.4 127.4 L709.6 127.8 L709.7 128.1 L709.9 128.5 L710 128.8 L710.2 129.2 L710.3 129.6 L710.4 130 L710.6 130.4 L710.7 130.8 L710.9 131.2 L711 131.6 L711.2 132 L711.3 132.5 L711.5 132.9 L711.6 133.4 L711.7 133.8 L711.9 134.3 L712 134.8 L712.2 135.3 L712.3 135.7 L712.5 136.2 L712.6 136.7 L712.8 137.2 L712.9 137.7 L713.1 138.2 L713.2 138.7 L713.3 139.2 L713.5 139.7 L713.6 140.2 L713.8 140.8 L713.9 141.3 L714.1 141.8 L714.2 142.3 L714.4 142.8 L714.5 143.3 L714.6 143.8 L714.8 144.3 L714.9 144.8 L715.1 145.3 L715.2 145.8 L715.4 146.2 L715.5 146.7 L715.7 147.2 L715.8 147.7 L716 148.1 L716.1 148.6 L716.2 149 L716.4 149.5 L716.5 149.9 L716.7 150.3 L716.8 150.7 L717 151.1 L717.1 151.5 L717.3 151.9 L717.4 152.3 L717.6 152.6 L717.7 153 L717.8 153.3 L718 153.6 L718.1 153.9 L718.3 154.2 L718.4 154.5 L718.6 154.8 L718.7 155 L718.9 155.3 L719 155.5 L719.1 155.7 L719.3 155.9 L719.4 156.1 L719.6 156.3 L719.7 156.4 L719.9 156.5 L720 156.7 L720.2 156.8 L720.3 156.8 L720.5 156.9 L720.6 157 L720.7 157 L720.9 157 L721 157 L721.2 157 L721.3 156.9 L721.5 156.9 L721.6 156.8 L721.8 156.7 L721.9 156.6 L722 156.5 L722.2 156.4 L722.3 156.2 L722.5 156 L722.6 155.8 L722.8 155.6 L722.9 155.4 L723.1 155.2 L723.2 154.9 L723.4 154.6 L723.5 154.3 L723.6 154 L723.8 153.7 L723.9 153.4 L724.1 153 L724.2 152.7 L724.4 152.3 L724.5 151.9 L724.7 151.5 L724.8 151.1 L724.9 150.7 L725.1 150.2 L725.2 149.8 L725.4 149.3 L725.5 148.8 L725.7 148.3 L725.8 147.9 L726 147.4 L726.1 146.8 L726.3 146.3 L726.4 145.8 L726.5 145.3 L726.7 144.7 L726.8 144.2 L727 143.6 L727.1 143.1 L727.3 142.5 L727.4 142 L727.6 141.4 L727.7 140.8 L727.8 140.3 L728 139.7 L728.1 139.1 L728.3 138.6 L728.4 138 L728.6 137.4 L728.7 136.9 L728.9 136.3 L729 135.8 L729.2 135.2 L729.3 134.7 L729.4 134.1 L729.6 133.6 L729.7 133.1 L729.9 132.5 L730 132 L730.2 131.5 L730.3 131 L730.5 130.6 L730.6 130.1 L730.8 129.6 L730.9 129.2 L731 128.7 L731.2 128.3 L731.3 127.9 L731.5 127.5 L731.6 127.1 L731.8 126.8 L731.9 126.4 L732.1 126.1 L732.2 125.8 L732.3 125.5 L732.5 125.2 L732.6 125 L732.8 124.7 L732.9 124.5 L733.1 124.3 L733.2 124.1 L733.4 123.9 L733.5 123.8 L733.7 123.6 L733.8 123.5 L733.9 123.4 L734.1 123.4 L734.2 123.3 L734.4 123.3 L734.5 123.3 L734.7 123.3 L734.8 123.4 L735 123.4 L735.1 123.5 L735.2 123.6 L735.4 123.7 L735.5 123.9 L735.7 124 L735.8 124.2 L736 124.4 L736.1 124.6 L736.3 124.9 L736.4 125.1 L736.6 125.4 L736.7 125.7 L736.8 126.1 L737 126.4 L737.1 126.8 L737.3 127.1 L737.4 127.5 L737.6 127.9 L737.7 128.4 L737.9 128.8 L738 129.3 L738.1 129.7 L738.3 130.2 L738.4 130.7 L738.6 131.2 L738.7 131.8 L738.9 132.3 L739 132.8 L739.2 133.4 L739.3 134 L739.5 134.6 L739.6 135.1 L739.7 135.7 L739.9 136.3 L740 136.9 L740.2 137.5 L740.3 138.2 L740.5 138.8 L740.6 139.4 L740.8 140 L740.9 140.6 L741.1 141.3 L741.2 141.9 L741.3 142.5 L741.5 143.1 L741.6 143.7 L741.8 144.3 L741.9 144.9 L742.1 145.5 L742.2 146.1 L742.4 146.7 L742.5 147.3 L742.6 147.8 L742.8 148.4 L742.9 148.9 L743.1 149.5 L743.2 150 L743.4 150.5 L743.5 151 L743.7 151.5 L743.8 151.9 L744 152.4 L744.1 152.8 L744.2 153.2 L744.4 153.6 L744.5 154 L744.7 154.3 L744.8 154.7 L745 155 L745.1 155.3 L745.3 155.5 L745.4 155.8 L745.5 156 L745.7 156.2 L745.8 156.4 L746 156.6 L746.1 156.7 L746.3 156.8 L746.4 156.9 L746.6 157 L746.7 157 L746.9 157 L747 157 L747.1 156.9 L747.3 156.9 L747.4 156.8 L747.6 156.7 L747.7 156.5 L747.9 156.4 L748 156.2 L748.2 156 L748.3 155.8 L748.4 155.5 L748.6 155.2 L748.7 154.9 L748.9 154.6 L749 154.2 L749.2 153.9 L749.3 153.5 L749.5 153.1 L749.6 152.6 L749.8 152.2 L749.9 151.7 L750 151.2 L750.2 150.7 L750.3 150.2 L750.5 149.7 L750.6 149.1 L750.8 148.5 L750.9 148 L751.1 147.4 L751.2 146.8 L751.3 146.1 L751.5 145.5 L751.6 144.9 L751.8 144.2 L751.9 143.6 L752.1 142.9 L752.2 142.3 L752.4 141.6 L752.5 140.9 L752.7 140.3 L752.8 139.6 L752.9 138.9 L753.1 138.2 L753.2 137.6 L753.4 136.9 L753.5 136.3 L753.7 135.6 L753.8 135 L754 134.3 L754.1 133.7 L754.3 133.1 L754.4 132.5 L754.5 131.9 L754.7 131.3 L754.8 130.7 L755 130.2 L755.1 129.6 L755.3 129.1 L755.4 128.6 L755.6 128.1 L755.7 127.6 L755.8 127.2 L756 126.8 L756.1 126.4 L756.3 126 L756.4 125.6 L756.6 125.3 L756.7 125 L756.9 124.7 L757 124.4 L757.2 124.2 L757.3 124 L757.4 123.8 L757.6 123.6 L757.7 123.5 L757.9 123.4 L758 123.4 L758.2 123.3 L758.3 123.3 L758.5 123.3 L758.6 123.4 L758.7 123.4 L758.9 123.5 L759 123.7 L759.2 123.8 L759.3 124 L759.5 124.2 L759.6 124.5 L759.8 124.7 L759.9 125 L760.1 125.4 L760.2 125.7 L760.3 126.1 L760.5 126.5 L760.6 126.9 L760.8 127.3 L760.9 127.8 L761.1 128.3 L761.2 128.8 L761.4 129.4 L761.5 129.9 L761.6 130.5 L761.8 131.1 L761.9 131.7 L762.1 132.3 L762.2 132.9 L762.4 133.6 L762.5 134.2 L762.7 134.9 L762.8 135.6 L763 136.3 L763.1 137 L763.2 137.7 L763.4 138.4 L763.5 139.1 L763.7 139.8 L763.8 140.5 L764 141.2 L764.1 142 L764.3 142.7 L764.4 143.4 L764.5 144.1 L764.7 144.8 L764.8 145.5 L765 146.2 L765.1 146.8 L765.3 147.5 L765.4 148.1 L765.6 148.8 L765.7 149.4 L765.9 150 L766 150.5 L766.1 151.1 L766.3 151.7 L766.4 152.2 L766.6 152.7 L766.7 153.1 L766.9 153.6 L767 154 L767.2 154.4 L767.3 154.8 L767.5 155.1 L767.6 155.5 L767.7 155.8 L767.9 156 L768 156.3 L768.2 156.5 L768.3 156.6 L768.5 156.8 L768.6 156.9 L768.8 156.9 L768.9 157 L769 157 L769.2 157 L769.3 156.9 L769.5 156.8 L769.6 156.7 L769.8 156.6 L769.9 156.4 L770.1 156.2 L770.2 155.9 L770.4 155.6 L770.5 155.3 L770.6 155 L770.8 154.6 L770.9 154.2 L771.1 153.8 L771.2 153.4 L771.4 152.9 L771.5 152.4 L771.7 151.9 L771.8 151.3 L771.9 150.7 L772.1 150.1 L772.2 149.5 L772.4 148.9 L772.5 148.2 L772.7 147.6 L772.8 146.9 L773 146.2 L773.1 145.5 L773.3 144.8 L773.4 144 L773.5 143.3 L773.7 142.5 L773.8 141.8 L774 141 L774.1 140.3 L774.3 139.5 L774.4 138.8 L774.6 138 L774.7 137.2 L774.8 136.5 L775 135.8 L775.1 135 L775.3 134.3 L775.4 133.6 L775.6 132.9 L775.7 132.2 L775.9 131.5 L776 130.9 L776.2 130.3 L776.3 129.6 L776.4 129.1 L776.6 128.5 L776.7 127.9 L776.9 127.4 L777 126.9 L777.2 126.5 L777.3 126 L777.5 125.6 L777.6 125.2 L777.7 124.9 L777.9 124.6 L778 124.3 L778.2 124.1 L778.3 123.8 L778.5 123.7 L778.6 123.5 L778.8 123.4 L778.9 123.3 L779.1 123.3 L779.2 123.3 L779.3 123.3 L779.5 123.4 L779.6 123.5 L779.8 123.7 L779.9 123.8 L780.1 124.1 L780.2 124.3 L780.4 124.6 L780.5 124.9 L780.7 125.3 L780.8 125.7 L780.9 126.1 L781.1 126.5 L781.2 127 L781.4 127.5 L781.5 128 L781.7 128.6 L781.8 129.2 L782 129.8 L782.1 130.4 L782.2 131.1 L782.4 131.8 L782.5 132.5 L782.7 133.2 L782.8 133.9 L783 134.7 L783.1 135.4 L783.3 136.2 L783.4 137 L783.6 137.8 L783.7 138.6 L783.8 139.4 L784 140.2 L784.1 141 L784.3 141.8 L784.4 142.6 L784.6 143.4 L784.7 144.1 L784.9 144.9 L785 145.7 L785.1 146.4 L785.3 147.2 L785.4 147.9 L785.6 148.6 L785.7 149.3 L785.9 150 L786 150.6 L786.2 151.2 L786.3 151.8 L786.5 152.4 L786.6 153 L786.7 153.5 L786.9 153.9 L787 154.4 L787.2 154.8 L787.3 155.2 L787.5 155.5 L787.6 155.9 L787.8 156.1 L787.9 156.4 L788 156.6 L788.2 156.7 L788.3 156.9 L788.5 156.9 L788.6 157 L788.8 157 L788.9 157 L789.1 156.9 L789.2 156.8 L789.4 156.6 L789.5 156.4 L789.6 156.2 L789.8 155.9 L789.9 155.6 L790.1 155.3 L790.2 154.9 L790.4 154.4 L790.5 154 L790.7 153.5 L790.8 153 L791 152.4 L791.1 151.8 L791.2 151.2 L791.4 150.6 L791.5 149.9 L791.7 149.2 L791.8 148.5 L792 147.8 L792.1 147 L792.3 146.3 L792.4 145.5 L792.5 144.7 L792.7 143.9 L792.8 143 L793 142.2 L793.1 141.4 L793.3 140.5 L793.4 139.7 L793.6 138.9 L793.7 138 L793.9 137.2 L794 136.4 L794.1 135.6 L794.3 134.7 L794.4 134 L794.6 133.2 L794.7 132.4 L794.9 131.7 L795 130.9 L795.2 130.3 L795.3 129.6 L795.4 128.9 L795.6 128.3 L795.7 127.7 L795.9 127.2 L796 126.6 L796.2 126.1 L796.3 125.7 L796.5 125.3 L796.6 124.9 L796.8 124.5 L796.9 124.2 L797 124 L797.2 123.8 L797.3 123.6 L797.5 123.4 L797.6 123.4 L797.8 123.3 L797.9 123.3 L798.1 123.3 L798.2 123.4 L798.3 123.6 L798.5 123.7 L798.6 123.9 L798.8 124.2 L798.9 124.5 L799.1 124.8 L799.2 125.2 L799.4 125.6 L799.5 126.1 L799.7 126.6 L799.8 127.1 L799.9 127.7 L800.1 128.3 L800.2 128.9 L800.4 129.6 L800.5 130.3 L800.7 131 L800.8 131.7 L801 132.5 L801.1 133.3 L801.2 134.1 L801.4 134.9 L801.5 135.8 L801.7 136.6 L801.8 137.5 L802 138.3 L802.1 139.2 L802.3 140.1 L802.4 141 L802.6 141.8 L802.7 142.7 L802.8 143.6 L803 144.4 L803.1 145.3 L803.3 146.1 L803.4 146.9 L803.6 147.7 L803.7 148.5 L803.9 149.3 L804 150 L804.2 150.7 L804.3 151.4 L804.4 152 L804.6 152.6 L804.7 153.2 L804.9 153.8 L805 154.3 L805.2 154.7 L805.3 155.2 L805.5 155.5 L805.6 155.9 L805.7 156.2 L805.9 156.4 L806 156.6 L806.2 156.8 L806.3 156.9 L806.5 157 L806.6 157 L806.8 157 L806.9 156.9 L807.1 156.8 L807.2 156.6 L807.3 156.4 L807.5 156.1 L807.6 155.8 L807.8 155.5 L807.9 155.1 L808.1 154.6 L808.2 154.1 L808.4 153.6 L808.5 153 L808.6 152.4 L808.8 151.8 L808.9 151.1 L809.1 150.4 L809.2 149.7 L809.4 148.9 L809.5 148.2 L809.7 147.3 L809.8 146.5 L810 145.7 L810.1 144.8 L810.2 143.9 L810.4 143 L810.5 142.1 L810.7 141.2 L810.8 140.3 L811 139.4 L811.1 138.5 L811.3 137.6 L811.4 136.7 L811.5 135.8 L811.7 134.9 L811.8 134 L812 133.2 L812.1 132.3 L812.3 131.5 L812.4 130.8 L812.6 130 L812.7 129.3 L812.9 128.6 L813 127.9 L813.1 127.3 L813.3 126.7 L813.4 126.2 L813.6 125.7 L813.7 125.3 L813.9 124.8 L814 124.5 L814.2 124.2 L814.3 123.9 L814.4 123.7 L814.6 123.5 L814.7 123.4 L814.9 123.3 L815 123.3 L815.2 123.3 L815.3 123.4 L815.5 123.6 L815.6 123.7 L815.8 124 L815.9 124.3 L816 124.6 L816.2 125 L816.3 125.4 L816.5 125.9 L816.6 126.4 L816.8 127 L816.9 127.6 L817.1 128.3 L817.2 128.9 L817.4 129.7 L817.5 130.4 L817.6 131.2 L817.8 132 L817.9 132.9 L818.1 133.7 L818.2 134.6 L818.4 135.5 L818.5 136.4 L818.7 137.3 L818.8 138.3 L818.9 139.2 L819.1 140.2 L819.2 141.1 L819.4 142.1 L819.5 143 L819.7 144 L819.8 144.9 L820 145.8 L820.1 146.7 L820.3 147.5 L820.4 148.4 L820.5 149.2 L820.7 150 L820.8 150.8 L821 151.5 L821.1 152.2 L821.3 152.8 L821.4 153.4 L821.6 154 L821.7 154.5 L821.8 155 L822 155.4 L822.1 155.8 L822.3 156.1 L822.4 156.4 L822.6 156.6 L822.7 156.8 L822.9 156.9 L823 157 L823.2 157 L823.3 156.9 L823.4 156.8 L823.6 156.7 L823.7 156.5 L823.9 156.2 L824 155.9 L824.2 155.5 L824.3 155.1 L824.5 154.6 L824.6 154.1 L824.7 153.5 L824.9 152.9 L825 152.2 L825.2 151.5 L825.3 150.8 L825.5 150 L825.6 149.2 L825.8 148.4 L825.9 147.5 L826.1 146.6 L826.2 145.7 L826.3 144.8 L826.5 143.8 L826.6 142.9 L826.8 141.9 L826.9 140.9 L827.1 139.9 L827.2 138.9 L827.4 138 L827.5 137 L827.6 136 L827.8 135.1 L827.9 134.1 L828.1 133.2 L828.2 132.3 L828.4 131.5 L828.5 130.6 L828.7 129.8 L828.8 129.1 L829 128.4 L829.1 127.7 L829.2 127 L829.4 126.4 L829.5 125.9 L829.7 125.4 L829.8 124.9 L830 124.5 L830.1 124.2 L830.3 123.9 L830.4 123.7 L830.6 123.5 L830.7 123.4 L830.8 123.3 L831 123.3 L831.1 123.4 L831.3 123.5 L831.4 123.7 L831.6 123.9 L831.7 124.2 L831.9 124.6 L832 125 L832.1 125.4 L832.3 125.9 L832.4 126.5 L832.6 127.1 L832.7 127.8 L832.9 128.5 L833 129.2 L833.2 130 L833.3 130.8 L833.5 131.7 L833.6 132.6 L833.7 133.5 L833.9 134.4 L834 135.4 L834.2 136.4 L834.3 137.4 L834.5 138.4 L834.6 139.4 L834.8 140.4 L834.9 141.4 L835 142.4 L835.2 143.4 L835.3 144.4 L835.5 145.4 L835.6 146.4 L835.8 147.3 L835.9 148.2 L836.1 149.1 L836.2 149.9 L836.4 150.8 L836.5 151.5 L836.6 152.3 L836.8 153 L836.9 153.6 L837.1 154.2 L837.2 154.7 L837.4 155.2 L837.5 155.6 L837.7 156 L837.8 156.3 L837.9 156.6 L838.1 156.8 L838.2 156.9 L838.4 157 L838.5 157 L838.7 156.9 L838.8 156.8 L839 156.6 L839.1 156.4 L839.3 156.1 L839.4 155.7 L839.5 155.3 L839.7 154.8 L839.8 154.3 L840 153.7 L840.1 153 L840.3 152.3 L840.4 151.6 L840.6 150.8 L840.7 150 L840.9 149.1 L841 148.2 L841.1 147.3 L841.3 146.3 L841.4 145.4 L841.6 144.4 L841.7 143.3 L841.9 142.3 L842 141.3 L842.2 140.2 L842.3 139.2 L842.4 138.1 L842.6 137.1 L842.7 136.1 L842.9 135 L843 134.1 L843.2 133.1 L843.3 132.1 L843.5 131.2 L843.6 130.4 L843.8 129.5 L843.9 128.7 L844 128 L844.2 127.3 L844.3 126.6 L844.5 126 L844.6 125.5 L844.8 125 L844.9 124.5 L845.1 124.2 L845.2 123.9 L845.3 123.6 L845.5 123.5 L845.6 123.3 L845.8 123.3 L845.9 123.3 L846.1 123.4 L846.2 123.6 L846.4 123.8 L846.5 124.1 L846.7 124.4 L846.8 124.9 L846.9 125.3 L847.1 125.9 L847.2 126.5 L847.4 127.1 L847.5 127.8 L847.7 128.6 L847.8 129.4 L848 130.2 L848.1 131.1 L848.2 132 L848.4 133 L848.5 134 L848.7 135 L848.8 136 L849 137.1 L849.1 138.1 L849.3 139.2 L849.4 140.3 L849.6 141.4 L849.7 142.4 L849.8 143.5 L850 144.6 L850.1 145.6 L850.3 146.6 L850.4 147.6 L850.6 148.5 L850.7 149.5 L850.9 150.4 L851 151.2 L851.1 152 L851.3 152.7 L851.4 153.4 L851.6 154.1 L851.7 154.7 L851.9 155.2 L852 155.6 L852.2 156 L852.3 156.4 L852.5 156.6 L852.6 156.8 L852.7 156.9 L852.9 157 L853 157 L853.2 156.9 L853.3 156.7 L853.5 156.5 L853.6 156.2 L853.8 155.8 L853.9 155.4 L854.1 154.9 L854.2 154.3 L854.3 153.7 L854.5 153 L854.6 152.3 L854.8 151.5 L854.9 150.7 L855.1 149.8 L855.2 148.9 L855.4 147.9 L855.5 146.9 L855.6 145.9 L855.8 144.8 L855.9 143.8 L856.1 142.7 L856.2 141.6 L856.4 140.5 L856.5 139.4 L856.7 138.3 L856.8 137.2 L857 136.1 L857.1 135 L857.2 134 L857.4 132.9 L857.5 132 L857.7 131 L857.8 130.1 L858 129.2 L858.1 128.4 L858.3 127.6 L858.4 126.9 L858.5 126.2 L858.7 125.6 L858.8 125.1 L859 124.6 L859.1 124.2 L859.3 123.9 L859.4 123.6 L859.6 123.5 L859.7 123.3 L859.9 123.3 L860 123.3 L860.1 123.4 L860.3 123.6 L860.4 123.9 L860.6 124.2 L860.7 124.6 L860.9 125.1 L861 125.6 L861.2 126.2 L861.3 126.9 L861.4 127.6 L861.6 128.4 L861.7 129.3 L861.9 130.1 L862 131.1 L862.2 132.1 L862.3 133.1 L862.5 134.1 L862.6 135.2 L862.8 136.3 L862.9 137.4 L863 138.5 L863.2 139.7 L863.3 140.8 L863.5 141.9 L863.6 143.1 L863.8 144.2 L863.9 145.3 L864.1 146.3 L864.2 147.4 L864.3 148.4 L864.5 149.4 L864.6 150.3 L864.8 151.2 L864.9 152 L865.1 152.8 L865.2 153.5 L865.4 154.2 L865.5 154.8 L865.7 155.3 L865.8 155.8 L865.9 156.2 L866.1 156.5 L866.2 156.7 L866.4 156.9 L866.5 157 L866.7 157 L866.8 156.9 L867 156.8 L867.1 156.5 L867.3 156.2 L867.4 155.8 L867.5 155.4 L867.7 154.9 L867.8 154.3 L868 153.6 L868.1 152.9 L868.3 152.1 L868.4 151.2 L868.6 150.3 L868.7 149.4 L868.8 148.4 L869 147.4 L869.1 146.3 L869.3 145.2 L869.4 144.1 L869.6 142.9 L869.7 141.8 L869.9 140.6 L870 139.5 L870.2 138.3 L870.3 137.1 L870.4 136 L870.6 134.9 L870.7 133.8 L870.9 132.7 L871 131.7 L871.2 130.7 L871.3 129.7 L871.5 128.9 L871.6 128 L871.7 127.2 L871.9 126.5 L872 125.8 L872.2 125.3 L872.3 124.7 L872.5 124.3 L872.6 123.9 L872.8 123.7 L872.9 123.5 L873.1 123.3 L873.2 123.3 L873.3 123.3 L873.5 123.5 L873.6 123.7 L873.8 124 L873.9 124.3 L874.1 124.8 L874.2 125.3 L874.4 125.9 L874.5 126.6 L874.6 127.3 L874.8 128.1 L874.9 129 L875.1 129.9 L875.2 130.8 L875.4 131.9 L875.5 132.9 L875.7 134 L875.8 135.1 L876 136.3 L876.1 137.4 L876.2 138.6 L876.4 139.8 L876.5 141 L876.7 142.2 L876.8 143.4 L877 144.5 L877.1 145.7 L877.3 146.8 L877.4 147.9 L877.5 148.9 L877.7 149.9 L877.8 150.9 L878 151.8 L878.1 152.6 L878.3 153.4 L878.4 154.1 L878.6 154.7 L878.7 155.3 L878.9 155.8 L879 156.2 L879.1 156.5 L879.3 156.8 L879.4 156.9 L879.6 157 L879.7 157 L879.9 156.9 L880 156.7 L880.2 156.4 L880.3 156.1 L880.5 155.6 L880.6 155.1 L880.7 154.5 L880.9 153.8 L881 153.1 L881.2 152.3 L881.3 151.4 L881.5 150.5 L881.6 149.5 L881.8 148.5 L881.9 147.4 L882 146.3 L882.2 145.1 L882.3 143.9 L882.5 142.8 L882.6 141.5 L882.8 140.3 L882.9 139.1 L883.1 137.9 L883.2 136.7 L883.4 135.5 L883.5 134.3 L883.6 133.2 L883.8 132.1 L883.9 131.1 L884.1 130 L884.2 129.1 L884.4 128.2 L884.5 127.4 L884.7 126.6 L884.8 125.9 L884.9 125.3 L885.1 124.7 L885.2 124.3 L885.4 123.9 L885.5 123.6 L885.7 123.4 L885.8 123.3 L886 123.3 L886.1 123.4 L886.3 123.5 L886.4 123.8 L886.5 124.1 L886.7 124.6 L886.8 125.1 L887 125.7 L887.1 126.3 L887.3 127.1 L887.4 127.9 L887.6 128.8 L887.7 129.7 L887.8 130.7 L888 131.8 L888.1 132.9 L888.3 134 L888.4 135.2 L888.6 136.4 L888.7 137.6 L888.9 138.8 L889 140.1 L889.2 141.3 L889.3 142.6 L889.4 143.8 L889.6 145 L889.7 146.2 L889.9 147.3 L890 148.4 L890.2 149.5 L890.3 150.5 L890.5 151.5 L890.6 152.4 L890.8 153.2 L890.9 154 L891 154.6 L891.2 155.2 L891.3 155.8 L891.5 156.2 L891.6 156.5 L891.8 156.8 L891.9 156.9 L892.1 157 L892.2 157 L892.3 156.8 L892.5 156.6 L892.6 156.3 L892.8 155.9 L892.9 155.4 L893.1 154.8 L893.2 154.2 L893.4 153.4 L893.5 152.6 L893.7 151.8 L893.8 150.8 L893.9 149.8 L894.1 148.7 L894.2 147.6 L894.4 146.5 L894.5 145.3 L894.7 144 L894.8 142.8 L895 141.5 L895.1 140.3 L895.2 139 L895.4 137.7 L895.5 136.5 L895.7 135.2 L895.8 134 L896 132.9 L896.1 131.7 L896.3 130.6 L896.4 129.6 L896.6 128.7 L896.7 127.8 L896.8 126.9 L897 126.2 L897.1 125.5 L897.3 124.9 L897.4 124.4 L897.6 124 L897.7 123.7 L897.9 123.5 L898 123.3 L898.1 123.3 L898.3 123.4 L898.4 123.5 L898.6 123.8 L898.7 124.2 L898.9 124.6 L899 125.2 L899.2 125.8 L899.3 126.5 L899.5 127.3 L899.6 128.2 L899.7 129.1 L899.9 130.1 L900 131.2 L900.2 132.3 L900.3 133.5 L900.5 134.7 L900.6 135.9 L900.8 137.2 L900.9 138.5 L901 139.8 L901.2 141.1 L901.3 142.4 L901.5 143.7 L901.6 144.9 L901.8 146.1 L901.9 147.3 L902.1 148.5 L902.2 149.6 L902.4 150.6 L902.5 151.6 L902.6 152.6 L902.8 153.4 L902.9 154.2 L903.1 154.8 L903.2 155.4 L903.4 155.9 L903.5 156.4 L903.7 156.7 L903.8 156.9 L904 157 L904.1 157 L904.2 156.9 L904.4 156.7 L904.5 156.4 L904.7 156 L904.8 155.5 L905 154.9 L905.1 154.3 L905.3 153.5 L905.4 152.7 L905.5 151.8 L905.7 150.8 L905.8 149.7 L906 148.6 L906.1 147.4 L906.3 146.2 L906.4 145 L906.6 143.7 L906.7 142.4 L906.9 141.1 L907 139.8 L907.1 138.4 L907.3 137.1 L907.4 135.8 L907.6 134.6 L907.7 133.3 L907.9 132.2 L908 131 L908.2 129.9 L908.3 128.9 L908.4 127.9 L908.6 127.1 L908.7 126.3 L908.9 125.6 L909 124.9 L909.2 124.4 L909.3 124 L909.5 123.7 L909.6 123.4 L909.8 123.3 L909.9 123.3 L910 123.4 L910.2 123.6 L910.3 123.9 L910.5 124.3 L910.6 124.8 L910.8 125.4 L910.9 126.1 L911.1 126.9 L911.2 127.7 L911.3 128.7 L911.5 129.7 L911.6 130.8 L911.8 131.9 L911.9 133.1 L912.1 134.4 L912.2 135.6 L912.4 136.9 L912.5 138.3 L912.7 139.6 L912.8 141 L912.9 142.3 L913.1 143.6 L913.2 144.9 L913.4 146.2 L913.5 147.5 L913.7 148.6 L913.8 149.8 L914 150.9 L914.1 151.9 L914.2 152.8 L914.4 153.6 L914.5 154.4 L914.7 155.1 L914.8 155.7 L915 156.1 L915.1 156.5 L915.3 156.8 L915.4 156.9 L915.6 157 L915.7 156.9 L915.8 156.8 L916 156.5 L916.1 156.1 L916.3 155.6 L916.4 155.1 L916.6 154.4 L916.7 153.6 L916.9 152.7 L917 151.8 L917.2 150.8 L917.3 149.7 L917.4 148.5 L917.6 147.3 L917.7 146 L917.9 144.7 L918 143.4 L918.2 142.1 L918.3 140.7 L918.5 139.3 L918.6 138 L918.7 136.6 L918.9 135.3 L919 134 L919.2 132.7 L919.3 131.5 L919.5 130.4 L919.6 129.3 L919.8 128.3 L919.9 127.3 L920.1 126.5 L920.2 125.7 L920.3 125.1 L920.5 124.5 L920.6 124 L920.8 123.7 L920.9 123.5 L921.1 123.3 L921.2 123.3 L921.4 123.4 L921.5 123.6 L921.6 123.9 L921.8 124.4 L921.9 124.9 L922.1 125.5 L922.2 126.3 L922.4 127.1 L922.5 128 L922.7 129 L922.8 130.1 L923 131.2 L923.1 132.4 L923.2 133.7 L923.4 135 L923.5 136.3 L923.7 137.7 L923.8 139.1 L924 140.5 L924.1 141.9 L924.3 143.2 L924.4 144.6 L924.5 145.9 L924.7 147.2 L924.8 148.5 L925 149.6 L925.1 150.8 L925.3 151.8 L925.4 152.8 L925.6 153.7 L925.7 154.4 L925.9 155.1 L926 155.7 L926.1 156.2 L926.3 156.6 L926.4 156.8 L926.6 157 L926.7 157 L926.9 156.9 L927 156.7 L927.2 156.4 L927.3 155.9 L927.4 155.4 L927.6 154.7 L927.7 154 L927.9 153.1 L928 152.2 L928.2 151.2 L928.3 150.1 L928.5 148.9 L928.6 147.7 L928.8 146.4 L928.9 145 L929 143.7 L929.2 142.3 L929.3 140.9 L929.5 139.5 L929.6 138 L929.8 136.7 L929.9 135.3 L930.1 133.9 L930.2 132.7 L930.4 131.4 L930.5 130.2 L930.6 129.1 L930.8 128.1 L930.9 127.1 L931.1 126.3 L931.2 125.5 L931.4 124.9 L931.5 124.3 L931.7 123.9 L931.8 123.6 L931.9 123.4 L932.1 123.3 L932.2 123.3 L932.4 123.5 L932.5 123.8 L932.7 124.2 L932.8 124.7 L933 125.3 L933.1 126 L933.3 126.9 L933.4 127.8 L933.5 128.8 L933.7 129.9 L933.8 131.1 L934 132.3 L934.1 133.6 L934.3 135 L934.4 136.3 L934.6 137.7 L934.7 139.2 L934.8 140.6 L935 142 L935.1 143.5 L935.3 144.8 L935.4 146.2 L935.6 147.5 L935.7 148.8 L935.9 150 L936 151.1 L936.2 152.2 L936.3 153.1 L936.4 154 L936.6 154.8 L936.7 155.4 L936.9 156 L937 156.4 L937.2 156.7 L937.3 156.9 L937.5 157 L937.6 156.9 L937.7 156.8 L937.9 156.5 L938 156 L938.2 155.5 L938.3 154.9 L938.5 154.1 L938.6 153.2 L938.8 152.3 L938.9 151.2 L939.1 150.1 L939.2 148.9 L939.3 147.6 L939.5 146.3 L939.6 144.9 L939.8 143.5 L939.9 142.1 L940.1 140.6 L940.2 139.2 L940.4 137.7 L940.5 136.3 L940.7 134.9 L940.8 133.5 L940.9 132.2 L941.1 130.9 L941.2 129.8 L941.4 128.6 L941.5 127.6 L941.7 126.7 L941.8 125.9 L942 125.1 L942.1 124.5 L942.2 124 L942.4 123.7 L942.5 123.4 L942.7 123.3 L942.8 123.3 L943 123.5 L943.1 123.7 L943.3 124.1 L943.4 124.6 L943.6 125.2 L943.7 126 L943.8 126.8 L944 127.8 L944.1 128.8 L944.3 130 L944.4 131.2 L944.6 132.4 L944.7 133.8 L944.9 135.2 L945 136.6 L945.1 138 L945.3 139.5 L945.4 141 L945.6 142.5 L945.7 143.9 L945.9 145.3 L946 146.7 L946.2 148.1 L946.3 149.3 L946.5 150.5 L946.6 151.7 L946.7 152.7 L946.9 153.6 L947 154.5 L947.2 155.2 L947.3 155.8 L947.5 156.3 L947.6 156.7 L947.8 156.9 L947.9 157 L948 157 L948.2 156.8 L948.3 156.5 L948.5 156.1 L948.6 155.6 L948.8 154.9 L948.9 154.1 L949.1 153.3 L949.2 152.3 L949.4 151.2 L949.5 150 L949.6 148.8 L949.8 147.5 L949.9 146.1 L950.1 144.7 L950.2 143.2 L950.4 141.7 L950.5 140.2 L950.7 138.7 L950.8 137.3 L950.9 135.8 L951.1 134.4 L951.2 133 L951.4 131.7 L951.5 130.4 L951.7 129.2 L951.8 128.1 L952 127.1 L952.1 126.2 L952.3 125.4 L952.4 124.8 L952.5 124.2 L952.7 123.8 L952.8 123.5 L953 123.3 L953.1 123.3 L953.3 123.4 L953.4 123.7 L953.6 124 L953.7 124.5 L953.9 125.2 L954 125.9 L954.1 126.8 L954.3 127.7 L954.4 128.8 L954.6 130 L954.7 131.2 L954.9 132.5 L955 133.9 L955.2 135.3 L955.3 136.8 L955.4 138.3 L955.6 139.8 L955.7 141.3 L955.9 142.8 L956 144.3 L956.2 145.8 L956.3 147.2 L956.5 148.5 L956.6 149.8 L956.8 151 L956.9 152.1 L957 153.1 L957.2 154.1 L957.3 154.9 L957.5 155.5 L957.6 156.1 L957.8 156.5 L957.9 156.8 L958.1 157 L958.2 157 L958.3 156.9 L958.5 156.6 L958.6 156.2 L958.8 155.7 L958.9 155.1 L959.1 154.3 L959.2 153.4 L959.4 152.4 L959.5 151.3 L959.7 150.1 L959.8 148.8 L959.9 147.5 L960.1 146.1 L960.2 144.6 L960.4 143.1 L960.5 141.6 L960.7 140.1 L960.8 138.6 L961 137 L961.1 135.5 L961.2 134.1 L961.4 132.7 L961.5 131.3 L961.7 130.1 L961.8 128.9 L962 127.8 L962.1 126.8 L962.3 125.9 L962.4 125.2 L962.6 124.5 L962.7 124 L962.8 123.6 L963 123.4 L963.1 123.3 L963.3 123.3 L963.4 123.5 L963.6 123.9 L963.7 124.3 L963.9 124.9 L964 125.6 L964.1 126.5 L964.3 127.5 L964.4 128.5 L964.6 129.7 L964.7 130.9 L964.9 132.3 L965 133.7 L965.2 135.1 L965.3 136.6 L965.5 138.2 L965.6 139.7 L965.7 141.3 L965.9 142.8 L966 144.3 L966.2 145.8 L966.3 147.2 L966.5 148.6 L966.6 149.9 L966.8 151.2 L966.9 152.3 L967.1 153.3 L967.2 154.2 L967.3 155 L967.5 155.7 L967.6 156.2 L967.8 156.6 L967.9 156.9 L968.1 157 L968.2 157 L968.4 156.8 L968.5 156.5 L968.6 156 L968.8 155.4 L968.9 154.7 L969.1 153.8 L969.2 152.9 L969.4 151.8 L969.5 150.6 L969.7 149.4 L969.8 148 L970 146.6 L970.1 145.1 L970.2 143.6 L970.4 142 L970.5 140.5 L970.7 138.9 L970.8 137.4 L971 135.8 L971.1 134.3 L971.3 132.9 L971.4 131.5 L971.5 130.2 L971.7 129 L971.8 127.8 L972 126.8 L972.1 125.9 L972.3 125.1 L972.4 124.5 L972.6 124 L972.7 123.6 L972.9 123.4 L973 123.3 L973.1 123.4 L973.3 123.6 L973.4 123.9 L973.6 124.4 L973.7 125.1 L973.9 125.9 L974 126.8 L974.2 127.8 L974.3 128.9 L974.4 130.1 L974.6 131.5 L974.7 132.8 L974.9 134.3 L975 135.8 L975.2 137.4 L975.3 138.9 L975.5 140.5 L975.6 142.1 L975.8 143.7 L975.9 145.2 L976 146.7 L976.2 148.1 L976.3 149.5 L976.5 150.8 L976.6 152 L976.8 153 L976.9 154 L977.1 154.8 L977.2 155.6 L977.3 156.1 L977.5 156.6 L977.6 156.8 L977.8 157 L977.9 157 L978.1 156.8 L978.2 156.5 L978.4 156 L978.5 155.4 L978.7 154.7 L978.8 153.8 L978.9 152.8 L979.1 151.7 L979.2 150.5 L979.4 149.2 L979.5 147.8 L979.7 146.4 L979.8 144.8 L980 143.3 L980.1 141.7 L980.3 140.1 L980.4 138.5 L980.5 136.9 L980.7 135.4 L980.8 133.9 L981 132.4 L981.1 131 L981.3 129.7 L981.4 128.5 L981.6 127.4 L981.7 126.4 L981.8 125.5 L982 124.8 L982.1 124.2 L982.3 123.8 L982.4 123.5 L982.6 123.3 L982.7 123.3 L982.9 123.5 L983 123.8 L983.2 124.3 L983.3 124.9 L983.4 125.6 L983.6 126.5 L983.7 127.5 L983.9 128.6 L984 129.9 L984.2 131.2 L984.3 132.6 L984.5 134.1 L984.6 135.6 L984.7 137.2 L984.9 138.8 L985 140.4 L985.2 142 L985.3 143.6 L985.5 145.2 L985.6 146.7 L985.8 148.2 L985.9 149.5 L986.1 150.8 L986.2 152 L986.3 153.1 L986.5 154.1 L986.6 155 L986.8 155.7 L986.9 156.2 L987.1 156.6 L987.2 156.9 L987.4 157 L987.5 156.9 L987.6 156.7 L987.8 156.4 L987.9 155.9 L988.1 155.2 L988.2 154.4 L988.4 153.5 L988.5 152.4 L988.7 151.2 L988.8 149.9 L989 148.6 L989.1 147.1 L989.2 145.6 L989.4 144 L989.5 142.4 L989.7 140.8 L989.8 139.2 L990 137.6 L990.1 136 L990.3 134.4 L990.4 132.9 L990.6 131.4 L990.7 130.1 L990.8 128.8 L991 127.7 L991.1 126.6 L991.3 125.7 L991.4 124.9 L991.6 124.3 L991.7 123.8 L991.9 123.5 L992 123.3 L992.1 123.3 L992.3 123.5 L992.4 123.8 L992.6 124.2 L992.7 124.8 L992.9 125.6 L993 126.5 L993.2 127.5 L993.3 128.7 L993.5 129.9 L993.6 131.3 L993.7 132.7 L993.9 134.2 L994 135.8 L994.2 137.4 L994.3 139.1 L994.5 140.7 L994.6 142.3 L994.8 144 L994.9 145.5 L995 147.1 L995.2 148.6 L995.3 149.9 L995.5 151.2 L995.6 152.4 L995.8 153.5 L995.9 154.4 L996.1 155.2 L996.2 155.9 L996.4 156.4 L996.5 156.8 L996.6 157 L996.8 157 L996.9 156.9 L997.1 156.6 L997.2 156.1 L997.4 155.5 L997.5 154.8 L997.7 153.9 L997.8 152.8 L997.9 151.7 L998.1 150.4 L998.2 149.1 L998.4 147.6 L998.5 146.1 L998.7 144.5 L998.8 142.9 L999 141.2 L999.1 139.6 L999.3 137.9 L999.4 136.3 L999.5 134.7 L999.7 133.1 L999.8 131.7 L1000 130.3 L1000.1 129 L1000.3 127.8 L1000.4 126.7 L1000.6 125.8 L1000.7 125 L1000.8 124.3 L1001 123.8 L1001.1 123.5 L1001.3 123.3 L1001.4 123.3 L1001.6 123.5 L1001.7 123.8 L1001.9 124.3 L1002 124.9 L1002.2 125.7 L1002.3 126.6 L1002.4 127.7 L1002.6 128.9 L1002.7 130.2 L1002.9 131.6 L1003 133.1 L1003.2 134.6 L1003.3 136.2 L1003.5 137.9 L1003.6 139.5 L1003.8 141.2 L1003.9 142.9 L1004 144.5 L1004.2 146.1 L1004.3 147.7 L1004.5 149.1 L1004.6 150.5 L1004.8 151.8 L1004.9 152.9 L1005.1 154 L1005.2 154.8 L1005.3 155.6 L1005.5 156.2 L1005.6 156.6 L1005.8 156.9 L1005.9 157 L1006.1 156.9 L1006.2 156.7 L1006.4 156.3 L1006.5 155.8 L1006.7 155 L1006.8 154.2 L1006.9 153.2 L1007.1 152 L1007.2 150.8 L1007.4 149.4 L1007.5 148 L1007.7 146.4 L1007.8 144.9 L1008 143.2 L1008.1 141.5 L1008.2 139.9 L1008.4 138.2 L1008.5 136.5 L1008.7 134.9 L1008.8 133.3 L1009 131.8 L1009.1 130.4 L1009.3 129 L1009.4 127.8 L1009.6 126.7 L1009.7 125.8 L1009.8 125 L1010 124.3 L1010.1 123.8 L1010.3 123.5 L1010.4 123.3 L1010.6 123.3 L1010.7 123.5 L1010.9 123.8 L1011 124.4 L1011.1 125 L1011.3 125.8 L1011.4 126.8 L1011.6 127.9 L1011.7 129.2 L1011.9 130.5 L1012 131.9 L1012.2 133.5 L1012.3 135 L1012.5 136.7 L1012.6 138.4 L1012.7 140.1 L1012.9 141.8 L1013 143.4 L1013.2 145.1 L1013.3 146.7 L1013.5 148.2 L1013.6 149.7 L1013.8 151 L1013.9 152.3 L1014 153.4 L1014.2 154.4 L1014.3 155.2 L1014.5 155.9 L1014.6 156.4 L1014.8 156.8 L1014.9 157 L1015.1 157 L1015.2 156.8 L1015.4 156.5 L1015.5 156" fill="none" stroke="#2f78bb" stroke-width="1.6" />
<line x1="632" y1="161" x2="1042.2" y2="161" stroke="#000" stroke-width="4.5" />
<polygon points="1054,161 1041.2,154.8 1041.2,167.2" fill="#000" />
<text x="1055.5" y="158" font-size="25" textLength="7" lengthAdjust="spacingAndGlyphs">t</text>
<text x="804" y="120" font-size="21" font-style="italic">f</text>
<text x="812" y="128" font-size="13" textLength="5" lengthAdjust="spacingAndGlyphs">1</text>
<text x="817" y="120" font-size="21" textLength="7" lengthAdjust="spacingAndGlyphs">-</text>
<text x="824" y="120" font-size="21" font-style="italic">f</text>
<text x="832" y="128" font-size="14" textLength="15" lengthAdjust="spacingAndGlyphs">70</text>
<text x="575.9" y="200.5" font-size="22" textLength="56.5" lengthAdjust="spacingAndGlyphs">Event</text>
<text x="564.7" y="228" font-size="21.5" textLength="77.9" lengthAdjust="spacingAndGlyphs">Camera</text>
<rect x="652" y="200" width="365" height="31.5" fill="#fbb81b" />
<text x="790" y="225.5" font-size="22.5" font-weight="bold" fill="#fff6d0" textLength="88" lengthAdjust="spacingAndGlyphs">Sensing</text>
<line x1="633.9" y1="233" x2="1044.5" y2="233" stroke="#000" stroke-width="4.5" />
<polygon points="1056.3,233 1043.5,226.8 1043.5,239.2" fill="#000" />
<text x="1057" y="231" font-size="25" textLength="7" lengthAdjust="spacingAndGlyphs">t</text>
<text x="569.8" y="291.6" font-size="21.5" textLength="69.7" lengthAdjust="spacingAndGlyphs">Trigger</text>
<line x1="634.4" y1="300.8" x2="1044.5" y2="300.8" stroke="#000" stroke-width="4.5" />
<polygon points="1056.3,300.8 1043.5,294.6 1043.5,307" fill="#000" />
<text x="1057" y="298.5" font-size="25" textLength="7" lengthAdjust="spacingAndGlyphs">t</text>
<path d="M654 302 Q654 314.8 660 314.8 L829 314.8 Q835 314.8 835 324 Q835 314.8 841 314.8 L1011 314.8 Q1017 314.8 1017 302" fill="none" stroke="#333" stroke-width="1.6" />
<text x="813.8" y="340.8" font-size="21" textLength="56.7" lengthAdjust="spacingAndGlyphs">70 ms</text>
<line x1="651" y1="44" x2="651" y2="300" stroke="#cf3a3f" stroke-width="2.2" stroke-dasharray="21 9 2 10 2 12" stroke-dashoffset="0"/>
<line x1="1017" y1="44" x2="1017" y2="300" stroke="#cf3a3f" stroke-width="2.2" stroke-dasharray="21 9 2 10 2 12" stroke-dashoffset="0"/>
<line x1="651.2" y1="275.3" x2="651.2" y2="300.5" stroke="#000" stroke-width="2.3" />
<text x="4.3" y="385.8" font-size="29" font-weight="bold" textLength="21" lengthAdjust="spacingAndGlyphs" stroke="#000" stroke-width="1">C</text>
<line x1="46" y1="604" x2="46" y2="388" stroke="#555" stroke-width="1.6" />
<polygon points="46,373.2 40.7,391.5 51.3,391.5" fill="#111" />
<text x="28" y="447" font-size="18.5" text-anchor="middle" dominant-baseline="central" fill="#222" textLength="22" lengthAdjust="spacingAndGlyphs" transform="rotate(-14 28 447)">147</text>
<text x="26.5" y="509.5" font-size="19.5" text-anchor="middle" dominant-baseline="central" font-weight="bold" textLength="57" lengthAdjust="spacingAndGlyphs" transform="rotate(-90 26.5 509.5)">Y(μm)</text>
<polygon points="44,604.4 60,592.9 417,658 401,669.5" fill="url(#tbar)" />
<line x1="44" y1="604.4" x2="437" y2="676.5" stroke="#222" stroke-width="1.5" />
<polygon points="448,679.5 433,670 431,682" fill="#111" />
<line x1="44" y1="604.4" x2="36" y2="609.4" stroke="#333" stroke-width="1.2" />
<line x1="223.3" y1="637.8" x2="215.3" y2="642.8" stroke="#333" stroke-width="1.2" />
<line x1="401" y1="669.5" x2="393" y2="674.5" stroke="#333" stroke-width="1.2" />
<polygon points="44,604.4 48.5,452.7 148.2,383.8 144.4,532" fill="#060606" />
<g clip-path="url(#cf1)"><g transform="translate(93.7 494.2) rotate(20)"><ellipse cx="0" cy="0" rx="13" ry="38" fill="#1e1e1e" filter="url(#b6)"/><ellipse cx="0" cy="0" rx="6" ry="12" fill="#484848" filter="url(#b3)"/><ellipse cx="0" cy="0" rx="2.6" ry="3.8" fill="#fff" opacity="1" filter="url(#b1)"/></g></g>
<line x1="44" y1="604.4" x2="63" y2="590.9" stroke="#d63030" stroke-width="1.6" />
<polygon points="223.3,637.8 226,484 329,415.5 325.5,565" fill="#060606" />
<g clip-path="url(#cf2)"><g transform="translate(273.8 525) rotate(20)"><ellipse cx="0" cy="0" rx="13" ry="38" fill="#1e1e1e" filter="url(#b6)"/><ellipse cx="0" cy="0" rx="6" ry="12" fill="#484848" filter="url(#b3)"/><ellipse cx="0" cy="0" rx="2.6" ry="3.8" fill="#fff" opacity="0.8" filter="url(#b1)"/></g></g>
<line x1="223.3" y1="637.8" x2="242.3" y2="624.3" stroke="#d63030" stroke-width="1.6" />
<polygon points="401,669.5 408,520 512,453 504,604" fill="#060606" />
<g clip-path="url(#cf3)"><g transform="translate(454 562) rotate(20)"><ellipse cx="0" cy="0" rx="13" ry="38" fill="#1e1e1e" filter="url(#b6)"/><ellipse cx="0" cy="0" rx="6" ry="12" fill="#484848" filter="url(#b3)"/><ellipse cx="0" cy="0" rx="2.6" ry="3.8" fill="#fff" opacity="1" filter="url(#b1)"/></g></g>
<line x1="401" y1="669.5" x2="420" y2="656" stroke="#d63030" stroke-width="1.6" />
<line x1="144" y1="532.3" x2="166" y2="518" stroke="#111" stroke-width="1.5" />
<polygon points="176,511.5 161.5,514.5 168.5,524" fill="#111" />
<text x="157.5" y="542.5" font-size="18.5" text-anchor="middle" dominant-baseline="central" fill="#222" textLength="22" lengthAdjust="spacingAndGlyphs" transform="rotate(-36 157.5 542.5)">147</text>
<text x="114.5" y="573" font-size="18.5" text-anchor="middle" dominant-baseline="central" font-style="italic" textLength="37" lengthAdjust="spacingAndGlyphs" transform="rotate(-36 114.5 573)">X(μm)</text>
<polygon points="215,386 461,407 461,425.5 215,404.5" fill="url(#cbar)" stroke="#222" stroke-width="1"/>
<text x="339.4" y="385.2" font-size="20.5" text-anchor="middle" dominant-baseline="central" font-weight="bold" textLength="197" lengthAdjust="spacingAndGlyphs" transform="rotate(4.6 339.4 385.2)">Light Intensity (a.u.)</text>
<text x="210" y="418" font-size="19.5" text-anchor="middle" dominant-baseline="central" fill="#222" textLength="28" lengthAdjust="spacingAndGlyphs">0.4</text>
<text x="454" y="437" font-size="18.5" text-anchor="middle" dominant-baseline="central" fill="#222" textLength="6.5" lengthAdjust="spacingAndGlyphs">1</text>
<circle cx="193.7" cy="497.5" r="2.3" fill="#000"/>
<circle cx="202.5" cy="497.5" r="2.3" fill="#000"/>
<circle cx="211.3" cy="497.5" r="2.3" fill="#000"/>
<circle cx="366.2" cy="531.3" r="2.3" fill="#000"/>
<circle cx="375" cy="531.3" r="2.3" fill="#000"/>
<circle cx="383.8" cy="531.3" r="2.3" fill="#000"/>
<text x="34.5" y="618.6" font-size="19" text-anchor="middle" dominant-baseline="central" font-style="italic" fill="#222" textLength="11" lengthAdjust="spacingAndGlyphs">0</text>
<text x="80.8" y="603.3" font-size="18.5" text-anchor="middle" dominant-baseline="central" fill="#222" textLength="37" lengthAdjust="spacingAndGlyphs" transform="rotate(10.5 80.8 603.3)">2836</text>
<text x="205.8" y="650" font-size="19" text-anchor="middle" dominant-baseline="central" font-style="italic" fill="#222" textLength="36" lengthAdjust="spacingAndGlyphs" transform="rotate(11 205.8 650)">0.91</text>
<text x="200.5" y="676.7" font-size="20" text-anchor="middle" dominant-baseline="central" font-weight="bold" font-style="italic" textLength="34" lengthAdjust="spacingAndGlyphs" transform="rotate(10 200.5 676.7)">t (s)</text>
<text x="295.5" y="628.8" font-size="20" text-anchor="middle" dominant-baseline="central" font-weight="bold" textLength="68" lengthAdjust="spacingAndGlyphs" transform="rotate(15 295.5 628.8)">f (MHz)</text>
<text x="255.8" y="636.3" font-size="18.5" text-anchor="middle" dominant-baseline="central" fill="#222" textLength="37" lengthAdjust="spacingAndGlyphs" transform="rotate(12 255.8 636.3)">2870</text>
<text x="377.5" y="658.8" font-size="18.5" text-anchor="middle" dominant-baseline="central" fill="#222" textLength="37" lengthAdjust="spacingAndGlyphs" transform="rotate(10 377.5 658.8)">2905</text>
<text x="376" y="687.5" font-size="19" text-anchor="middle" dominant-baseline="central" font-style="italic" fill="#222" textLength="35" lengthAdjust="spacingAndGlyphs" transform="rotate(11 376 687.5)">1.82</text>
<text x="547" y="385.8" font-size="28.5" font-weight="bold" textLength="20.9" lengthAdjust="spacingAndGlyphs" stroke="#000" stroke-width="1">D</text>
<circle cx="775" cy="392" r="4" fill="#2c3e9e"/>
<circle cx="890.7" cy="392" r="4.2" fill="#e52b2b"/>
<text x="791" y="388" font-size="19.5" font-weight="bold" textLength="87" lengthAdjust="spacingAndGlyphs">Negative</text>
<text x="791" y="407" font-size="19.5" font-weight="bold" textLength="57" lengthAdjust="spacingAndGlyphs">Event</text>
<text x="908" y="388" font-size="19.5" font-weight="bold" textLength="79" lengthAdjust="spacingAndGlyphs">Positive</text>
<text x="908" y="407" font-size="19.5" font-weight="bold" textLength="56" lengthAdjust="spacingAndGlyphs">Event</text>
<polygon points="618,600 640,591 980,669 971,685" fill="url(#dbar)" />
<path d="M655 458 L667.1 455.9 L679.1 453.7 L691.2 451.6 L703.3 450.3 L715.3 451.2 L727.4 452.2 L739.5 453.2 L751.6 454.1 L763.6 455.1 L775.7 456.1 L787.8 457 L799.8 458 L811.9 459 L824 459.9 L836 460.9 L848.1 461.8 L860.2 462.8 L872.2 463.8 L884.3 464.7 L896.4 465.7 L908.4 467 L920.5 468.3 L932.6 469.7 L944.7 471.1 L956.7 472.5 L968.8 473.9 L980.9 475.2 L992.9 476.6 L1005 478 L1005 544 L992.9 543.1 L980.9 542.2 L968.8 541.2 L956.7 540.3 L944.7 539.4 L932.6 538.5 L920.5 537.6 L908.4 536.6 L896.4 535.7 L884.3 534.6 L872.2 533.5 L860.2 532.4 L848.1 531.3 L836 530.2 L824 529.2 L811.9 528.1 L799.8 527 L787.8 525.5 L775.7 524.1 L763.6 522.6 L751.6 521.2 L739.5 519.7 L727.4 518.3 L715.3 516.8 L703.3 515.4 L691.2 514 L679.1 512.7 L667.1 511.3 L655 510Z" fill="url(#dband)" filter="url(#b4)"/>
<path d="M681.2 540.3h0M971.5 552.9h0M898.2 550.8h0M792.7 558.9h0M841.6 553.3h0M678.7 433.7h0M1006 586.6h0M763.2 545.5h0M713.3 439h0M918.5 447.6h0M922.3 447.8h0M891.9 460.7h0M646.6 449.4h0M762.4 584.5h0M849.4 536.3h0M966.4 452.1h0M704.8 552.1h0M975.5 579.6h0M866.4 456.2h0M906 461.5h0M829.6 455h0M705.8 445.3h0M704.6 537.9h0M970.4 463.6h0M750.7 445.9h0M935.9 553.3h0M766.5 444.5h0M837.6 435.1h0M669.2 558.7h0M881.4 443h0M767.7 542.6h0M900.6 431.2h0M907.4 544.3h0M825.6 553.4h0M731.9 445.9h0M827.5 454.5h0M971 436.4h0M719.6 446.2h0M685.3 547.9h0M901.8 564.6h0M929.6 554.2h0M957.8 561h0M935 433.6h0M805 448.7h0M862.2 584.7h0M862.3 563.3h0M938.5 458.9h0M878.7 544.4h0M720.1 436.6h0M954.6 465.3h0M789.2 539.2h0M706 439.5h0M674.9 554.7h0M824.7 561.5h0M668.4 516.8h0M847 452.7h0M745.8 532.5h0M912.5 584.2h0M703.3 443.5h0M930.6 551.3h0M1011.6 463.8h0M801.6 425.5h0M784.6 585.5h0M957 562.5h0M685.5 430h0M886.1 451.1h0M822.2 454.8h0M666.8 518.8h0M693.3 439.5h0M1006.2 556.6h0M810.7 446.7h0M739.6 533.9h0M1006.4 453.4h0M663.5 450.4h0M838.7 567h0M900 458.9h0M716.5 442.4h0M671.6 429.9h0M718.2 440.3h0M994.4 592.9h0M767 437h0M988.8 462.4h0M958.8 574.6h0M723.1 524.5h0M784.5 569.4h0M854.4 547.1h0M831.9 432.9h0M884.7 459.3h0M773.5 438.1h0M885.4 567.3h0M1002.7 550.2h0M963.5 465.8h0M927.8 448.9h0M869.6 428.6h0M868.6 549.2h0M796.2 553h0M656.5 540.4h0M729.5 545h0M987.3 585.1h0M973.6 469.6h0M672.6 536.8h0M819.3 446.4h0M977.5 450.2h0M944.9 579.8h0M823.9 540.1h0M658.5 546.2h0M752 448.8h0M688.7 438.5h0M697.5 539.7h0M904.2 547.1h0M748.8 441.8h0M885.7 429.1h0M880.6 570.5h0M839.7 591.2h0M811.3 559.7h0M760.9 563.7h0M752.6 439.8h0M661.5 433h0M935.6 457.5h0M760.4 443h0M818 548.3h0M885.1 453.8h0M707.4 440.9h0M837.5 537.2h0M703.7 443.8h0M1009.9 463.6h0M861.2 544.5h0M833.4 546.2h0M950.9 553.3h0M990 556.9h0M822.1 437.9h0M722.7 538.1h0M715.3 540.4h0M963.3 559.5h0M895.6 554.5h0M733.9 532.7h0M859.2 539.8h0M902.3 540.9h0M1005.8 470h0M919.5 559.9h0M776.2 429.2h0M646.6 430.3h0M910.2 568.6h0M822.9 450.9h0M955 545.2h0M1012.5 471.6h0M709.5 539.7h0M769.1 626.7h0M918.6 548.7h0M827.8 562.7h0M921.9 544.3h0M780 443.4h0M816.4 434.3h0M844.4 431.5h0M774.2 433.7h0M873.5 455.9h0M922 563.1h0M750.5 440.8h0M802.8 444.7h0M793.6 555.9h0M983.5 557.4h0M735.7 585.6h0M824.9 603.2h0M884.6 544.6h0M1009.8 472.3h0M999.1 549.2h0M969.3 459.2h0M655.7 538.6h0M883.8 547.1h0M737.5 527.7h0M864.1 564.5h0M653.6 453.7h0M805.4 453.8h0M931.6 549.2h0M908.9 447h0M909.1 459.1h0M961 552.4h0M800.8 542h0M777.9 569.1h0M673.8 438.5h0M911.1 445.1h0M965.9 578.8h0M653.6 547.7h0M865.9 575.1h0M965.8 456.6h0M655.2 441.7h0M708.4 571.8h0M785.6 549.7h0M738.2 524.8h0M903.6 551.4h0M795.2 439.6h0M808.6 540.3h0M757.2 439.9h0M820.8 585.9h0M708.8 441.5h0M985.1 556h0M882.2 586h0M865.6 555.9h0M912.2 439.6h0M747.6 447h0M730.9 445.4h0M692 527.5h0M725.5 570.3h0M735.2 572.3h0M840.6 449.7h0M870.3 569.1h0M909.5 441.9h0M819.4 544.9h0M973.1 552.4h0M855 545.4h0M722.1 443h0M727.8 566.7h0M988.9 444.5h0M947.4 466h0M714.5 532.8h0M704.1 436.6h0M1000.3 552.1h0M697.7 440.5h0M716.1 435.6h0M653.4 445h0M914 463h0M925.9 546h0M778.6 569.2h0M771.6 573h0M770.2 551.4h0M1001.4 578.4h0M735.5 553.1h0M882 438.4h0M972 545.8h0M983.8 550.5h0M887.6 566.4h0M937.9 461.2h0M841.7 542.9h0M801.9 531.8h0M679 522.1h0M924.5 436.2h0M705.4 553.3h0M1013.3 583.9h0M742 552.5h0M1001.2 456.7h0M722.2 602.7h0M661.7 526.9h0M902.2 440.9h0M804.1 536.3h0M731 552.3h0M985.9 577.9h0M892.8 457.7h0M792.8 543.6h0M834.4 554h0M880.5 437.6h0M672.2 569.6h0M767.2 543.1h0M864.7 446.7h0M782.5 434.4h0M693.4 430.9h0M709 442.4h0M821.4 545.6h0M977 546.5h0M984.6 467.8h0M844.3 437.5h0M939.4 456.7h0M690.9 525.3h0M998.1 558.8h0M872.6 555.1h0M773.5 447.3h0M939.4 543.9h0M661.6 438.5h0M846.8 544.5h0M762.5 546.3h0M680.1 530.7h0M864.4 552.4h0M915.9 572.6h0M734.9 527.6h0M1012.1 595.7h0M736.5 447.2h0M926.4 448.8h0M828.7 538.6h0M1011.7 551.8h0M823 445.7h0M933.7 460.8h0M936.1 445.8h0M965 560.8h0M922.7 594.3h0M693.5 442.6h0M1010.4 472.5h0M1010.8 463.1h0M877.5 451.9h0M677.1 538.9h0M994 567.5h0M891 585.3h0M864.8 582h0M921.3 439.5h0M778.3 560.5h0M912.4 542.9h0M1003.3 550.5h0M904.1 554.4h0M738.7 560.6h0M927.1 460.6h0M854.9 557.2h0M683.5 547.4h0M762.8 441.2h0M784 550.6h0M787.9 532.6h0M878.1 435.9h0M717.4 439.6h0M766.4 545.4h0M799.7 542.4h0M681.7 552.3h0M910 554.5h0M975 455.8h0M772.4 549.6h0M982.2 464.3h0M859.4 454.7h0M811.3 541.6h0M705.3 440.9h0M670.2 517h0M758.9 530.6h0M750.4 552.9h0M955.2 456.4h0M654.6 536.9h0M696.1 551.6h0M840.1 431.8h0M866.8 455.7h0M783.7 560h0M747 531.4h0M983.8 578.5h0M808.9 541.7h0M874.1 456.9h0M889.6 553.9h0M955.6 567.8h0M662.2 518h0M1010.4 471.2h0M865.7 554h0M855.4 574.6h0M774.9 567.3h0M654.8 517.9h0M921.5 460.7h0M973.9 447.4h0M715.9 553.1h0M914 558.6h0M718.8 435.6h0M935.1 570.9h0M997.8 549.3h0M966.9 435.8h0M701.7 550.9h0M710.5 523.3h0M920.4 556.9h0M880.2 434.3h0M796.1 450.7h0M800.6 533.7h0M938.9 454.6h0M850.3 432.6h0M898.7 562.6h0M930.3 561.2h0M843.5 536.1h0M925.8 570.3h0M792.7 563h0M937.5 543.4h0M677 526.2h0M997 460.3h0M949.1 552.2h0M783.8 542.7h0M819.9 550.4h0M749.8 557.4h0M719.4 577.8h0M821.6 552.6h0M738.3 532.7h0M743.2 537.1h0M936.3 588.4h0M973.2 464.3h0M772.8 572.8h0M963.6 601.3h0M663.4 519.5h0M934.8 546.3h0M974.4 576.6h0M992.8 563.4h0M868.1 455.3h0M884.8 452.2h0M785.3 567.2h0M973.8 459.9h0M945.9 449h0M710.8 440.8h0M1008.9 552.8h0M964.7 578.8h0M1010.6 471.2h0M913.2 545.7h0M849.8 544.7h0M995.3 457.5h0M933.8 565.4h0M779.1 443.1h0M785.3 595.4h0M920.3 456.5h0M769.2 549.6h0M995.9 471h0M887.9 459.4h0M700.1 537.1h0M855.6 561.7h0M890.8 441h0M929.8 456.3h0M837.6 579.1h0M924.3 553.6h0M933.4 443.9h0M722.4 543.9h0M734.9 553.1h0M737.9 525.6h0M829 542.7h0M786.1 539.7h0M870.3 570.5h0M934 453.9h0M717.9 539.6h0M984 470.2h0M966.5 571.1h0M762.9 435.9h0M916.9 443.3h0M885.4 566.7h0M846.7 450.3h0M839.2 538.3h0M844.6 539.4h0M963.8 557.4h0M1002.9 557.3h0M963.5 560.1h0M744.8 429h0M769.5 451.2h0M946.1 571.5h0M1006.5 578.8h0M951.4 549.3h0M841.1 456.6h0M662.4 524.1h0M756 530.6h0M812.8 440h0M923.8 464.4h0M741.9 536.9h0M947.7 553.8h0M771.7 445.1h0M965 560.4h0M857.7 436.5h0M815.9 435.6h0M768.4 554.8h0M748.9 424.1h0M736.4 541.1h0M776.4 441.9h0M666.3 432.8h0M979.5 464.8h0M687.9 443.7h0M988.1 549.9h0M841.3 437.5h0M967.4 446.8h0M661 539.6h0M750.1 531.1h0M935.2 461.5h0M846.9 537.4h0M864.7 456.4h0M878.1 546.1h0M870.4 595.5h0M870.7 600.7h0M880.1 436h0M933.2 461.1h0M908.4 447.9h0M694 563.5h0M802.8 543.6h0M929.6 453h0M701.6 561.2h0M949.1 567.4h0M954.5 580.5h0M986 471.7h0M732.3 582.3h0M866.8 541h0M998.8 467.8h0M662.8 527h0M842.2 455.3h0M842.6 537.5h0M972.4 453.6h0M651.5 517.5h0M746.4 548.7h0M979.3 467.3h0M739.3 425.3h0M905 557.5h0M819.3 554.5h0M913.5 591.5h0M667.5 550.7h0M652 437.7h0M656.7 435.8h0M883.2 442.6h0M672.8 521.5h0M874.6 593.7h0M652.2 515h0M885.5 447.1h0M672.2 436.6h0M894.2 436h0M683.1 522.5h0M811.5 441.4h0M704.7 542.6h0M971.9 585.7h0M986.1 585h0M974.1 469.9h0M773.7 427.6h0M876.9 549.6h0M1011.1 471.5h0M842.7 548.8h0M824.6 453.4h0M980.1 563h0M800.1 534.4h0M837.1 440.5h0M700.6 430.2h0M944.3 572h0M829.1 546h0M826.5 550h0M845.8 545.5h0M804.9 445.2h0M870.3 553.5h0M653.9 447.5h0M892.8 580.8h0M766.4 538h0M843.2 444.6h0M909.8 436h0M749.1 540.9h0M911.6 551.2h0M874.9 557.4h0M906 548.2h0M921.2 460.9h0M966.1 553.2h0M764 547.2h0M832.1 584h0M966 457.4h0M985.7 466h0M691.7 546.1h0M1013.8 559h0M801.3 533.4h0M1014.4 609.3h0M890.6 446.5h0M779.6 540h0M907.7 550.7h0M923.6 445.4h0M803.2 440.3h0M731.5 562.3h0M957.9 465.7h0M928.1 572.7h0M783.3 452.1h0M858.4 581.7h0M834.3 556.1h0M786.3 559.6h0M968.4 468.2h0M816.3 580.2h0M945 465.9h0M766.4 550.7h0M756 539.5h0M833.7 539.6h0M884.4 425h0M830.1 443.6h0M803.2 534.2h0M661.9 536.4h0M860.4 548.9h0M961 545.6h0M1010.4 463.6h0M975.5 554.2h0M904.6 453h0M899.7 548h0M987.2 566.4h0M972.1 559.2h0M746.3 449.7h0M668.5 534.1h0M655.4 553.9h0M812.2 561.2h0M686.7 443.6h0M713.6 524h0M954.8 562.6h0M675.5 433.6h0M964 448.1h0M928.1 564h0M757.8 446.1h0M798.9 448h0M757.5 429.6h0M917.3 579h0M658.7 560.4h0M917.6 582.3h0M829.4 556.4h0M884.3 545.4h0M859.7 564.4h0M679 524.1h0M722.6 434.9h0M740 435.7h0M875.9 544.8h0M824.6 546.3h0M894.9 445.8h0M916.6 557.4h0M1007 433.1h0M701.7 426.5h0M831.8 444.9h0M705.9 444.2h0M1014.8 549.9h0M780.5 532.7h0M698.5 564.5h0M844.3 452.9h0M799.1 558.4h0M829.4 440.2h0M1012.3 621.2h0M830.9 545.6h0M779.3 536.9h0M1005.1 471.5h0M688.9 435.9h0M877.6 554.8h0M690.1 521.5h0M663.9 437.8h0M828.3 553.9h0M915.3 572.2h0M995.3 550.5h0M848.8 457.4h0M923.8 580.5h0M920.8 583.9h0M816.4 544.7h0M791.7 434h0M836.2 448.2h0M909.1 567.8h0M843.2 535.1h0M708.9 433h0M956.4 567.5h0M870.2 441.7h0M934.1 464.2h0M1006.1 562.1h0M954 555.4h0M1004.7 587.9h0M872.9 567.2h0M741.6 556.3h0M852.5 451.2h0M902.3 447.4h0M653.3 446.7h0M661.3 535h0M718.5 542.7h0M750.7 540.3h0M899 443.5h0M757 440.8h0M1014.6 589.5h0M896.9 563.3h0M825.4 570.9h0M703.1 536h0M739.6 557.7h0M691.7 444.7h0M677.9 447.4h0M684.5 529.2h0M666.5 425.1h0M936.1 572.1h0M663.6 552.4h0M735.8 430.4h0M876.1 571.2h0M858.3 555.9h0M654.5 529.1h0M731.3 434.5h0M840 560.5h0M1010.3 462.7h0M785.6 532.3h0M823.5 559.9h0M843.6 550.2h0M956.5 452.8h0M949.3 552.4h0M990.9 572.2h0M909.5 457.6h0M724.8 530.8h0M880.5 559.1h0M971.4 564.7h0M813.6 551h0M819.8 433.3h0M1001.4 550.9h0M747.2 433.4h0M982.9 466.3h0M798.7 533h0M742.8 534.7h0M994.8 567.8h0M748.2 443h0M865 441.6h0M736.5 428.7h0M861.7 435.8h0M785 562h0M834.2 437.1h0M772.6 538.1h0M988.1 616.9h0M983.4 573.6h0M787.7 543.7h0M682.1 437.8h0M929.4 557.4h0M981 622h0M893.5 542.5h0M757.8 431.8h0M651 441.1h0M694.1 549.9h0M734.6 538.8h0M1012.7 463.2h0M654.8 445.6h0M693.7 566.2h0M852.6 565.7h0M661.4 532.9h0M881.5 543h0M846.3 544.2h0M698.3 544.7h0M879.8 541h0M982.9 454.3h0M779.6 585.1h0M904.2 449.5h0M671.9 446.4h0M902.1 570.3h0M803 533.3h0M1002.7 560.2h0M745.1 435.9h0M818.5 449.6h0M704.8 569.7h0M910.3 584h0M828.3 453.9h0M850.2 560.6h0M704 539.9h0M982 589.9h0M814.2 450.7h0M916.8 437.5h0M974.9 556.6h0M730.8 545.6h0M685.6 424.5h0M818.8 533.2h0M756.4 440h0M768.9 431.3h0M802.9 564.4h0M954.6 548.7h0M1006.5 556.5h0M915.5 576.4h0M750.8 573.4h0M873.1 442.8h0M946.7 465.3h0M894.6 541.4h0M960.9 558.8h0M776.9 537.1h0M847.6 436.9h0M992.8 563.9h0M722 561.1h0M853.4 437.4h0M925.2 550.5h0M914.1 460.3h0M942 546.2h0M738.4 545.1h0M653.3 549h0M689.5 442.9h0M915.3 553.3h0M958.7 545.5h0M893.2 570.4h0M974.7 458.4h0M775.5 447.5h0M693.4 444.9h0M760.3 538.5h0M1006.7 571.7h0M1000.5 458.4h0M925.7 546.7h0M772.8 445.4h0M904.4 544.8h0M683.3 559.5h0M797.2 547.1h0M654.1 430.6h0M910.6 568.7h0M863.2 551.6h0M816.6 580.5h0M691.6 562.7h0M780.7 439.6h0M657.7 445.4h0M839.3 577.2h0M739.2 433.4h0M814.6 437.9h0M743.2 443h0M653.2 533h0M934.7 441.4h0M884.5 446.2h0M930.3 602.1h0M680.4 430.9h0M913.7 570.5h0M937.1 449.3h0M926.1 455.4h0M886 459h0M784.2 558.8h0M756.8 437h0M936.7 599.3h0M855.4 442.9h0M997.3 581h0M871.5 590.9h0M857.2 557.2h0M705.7 521h0M767.9 450.9h0M986.3 578.4h0M961.5 550.5h0M903.8 571.7h0M881 452.4h0M974 557.1h0M693.6 441.6h0M967 549.6h0M773.9 556.4h0M918.2 560.9h0M959 459h0M842.3 541.3h0M700.1 578h0M832.9 570.4h0M659.7 554.6h0M887.3 456.6h0M742.9 447h0M866.9 573.1h0M700.7 440.7h0M875.5 455.6h0M938.5 458.9h0M872.3 424.6h0M854.8 452.5h0M819.6 451.3h0M847.7 568.8h0M954.9 428h0M674.6 537.1h0M971.7 450.9h0M988.3 547.6h0M991.7 553.6h0M999.5 583.7h0M783.9 442.4h0M806.4 451.5h0M824.2 546.2h0M821.6 557.7h0M982 562h0M923.1 436h0M860.2 456.2h0M705.6 431h0M779.1 528.9h0M987 434.5h0M718.8 531.4h0M826.3 440.4h0M759.6 539.2h0M753 560.2h0M972.6 557.9h0M992.9 572.8h0M985.6 470.5h0M645.1 548.9h0M991.1 557h0M869.3 448.2h0M899.4 458.4h0M885.8 451.3h0M802.8 453.1h0M789.8 555.6h0M971.1 556.6h0M1005 467.2h0M899.2 553.6h0M923.7 523.9h0M866.3 541.3h0M786.5 575.1h0M773.4 551.6h0M853.6 570.8h0M836.5 563.7h0M931.1 471.4h0M963.5 591.2h0M924.8 484.5h0M950.3 595.3h0M958.8 485.7h0M922 512.3h0M805.7 526.2h0M910.3 502h0M961.7 445.6h0M743.6 458.4h0M717 507.8h0M756 448.7h0M958.2 579.3h0M772.1 523.2h0M800.6 459.7h0M944.7 603.6h0M823.3 452.5h0M766.3 492.1h0M892.1 522h0M948.3 540.7h0M724.3 436.2h0M707.3 451.4h0M840.6 497.2h0M901.2 555.6h0M736.2 495h0M866 444.7h0M969.3 512.7h0M729.8 578.9h0M979.1 635.1h0M963.7 512.8h0M811.1 554.1h0M752.6 477.7h0M949 591.1h0M847.7 526.2h0M821.8 546.5h0M814.1 502.9h0M943.2 531.8h0M891.1 638.3h0M990.9 471.3h0M816.6 548.5h0M741.5 498.4h0M850.6 497.6h0M728.7 447.3h0M682.7 459.1h0M725.2 566.1h0M876.9 431.4h0M978.7 570h0M1019.4 450.7h0M893.9 501.7h0M820.1 435.3h0M835 436.2h0M746.8 441.4h0M819.8 460.2h0M720.9 472.7h0M878.1 477.2h0M773.4 554.6h0M897.1 497.1h0M915.1 516.8h0M975.2 608.2h0M866.9 550.7h0M748.7 556.4h0M885.1 504h0M795.2 517.6h0M896.4 584h0M799.9 432.4h0M926.9 505.3h0M874.6 536.2h0M986.5 602.1h0M791.4 551h0M945 513.8h0M965.6 490.2h0M949.9 435.7h0M968.7 579.1h0M729.1 451.4h0M794.9 518.6h0M950 632.6h0M946.5 584.1h0M750.4 505.1h0M744 499.9h0M881.5 498.8h0M770.6 539.4h0M939.5 495.5h0M981.1 600.6h0M925.8 596.5h0M854 443.4h0M906.3 578h0M811.6 453.1h0M828 513.2h0M759.8 629.1h0M877.8 558.8h0M938.8 433.8h0M851.1 537.4h0M787.8 425.6h0M862.1 561.1h0M962.9 612.5h0M784.3 473.2h0M937.6 462h0M733.4 595.5h0M996 520.9h0M715.9 555.4h0M808.3 439.6h0M686.7 586.6h0M968 566.3h0M654.8 446.7h0M708.9 474.7h0M907.9 515.2h0M950.5 594.2h0M761.1 442h0M742.6 593.7h0M747.3 529.1h0M866 478.3h0M1005.7 524.8h0M670.7 462.1h0M669.5 428h0M803.2 429.8h0M854.6 573.2h0M956.3 567.3h0M782.6 525.9h0M878 585.1h0M855 461.3h0M989.2 456h0M992.8 599.4h0M853 627.1h0M675.3 578.7h0M756 520.2h0M707.3 482.6h0M829.2 437.2h0M825.6 447.2h0M849.4 582.3h0M769.8 440.5h0M989.3 556.3h0M978.7 557.2h0M946 474h0M731.1 598.8h0M731.6 496.3h0M828 570.3h0M707.8 487.6h0M686.9 554.3h0M867.2 539.5h0M944 628.9h0M932.2 482.9h0M812.5 533.7h0M786.4 514.1h0M811.4 431h0M968 441.6h0M856.3 548h0M958.8 589.6h0M757.4 466.8h0M814.7 425.7h0M782.5 562.7h0M789 471.2h0M893.3 476.7h0M938.2 599.6h0M744.1 451.2h0M846.2 566.4h0M870.7 562.9h0M780.2 474.5h0M741.7 437.3h0M934.5 447.4h0M842.3 590.7h0M701.9 541.3h0M663.6 519.8h0M697.7 489.9h0M1011.7 442.7h0M890.2 491h0M926.7 439h0M760.6 459.5h0M966.6 545.3h0M885.4 526h0M783.4 453.9h0M859.6 454.3h0M956.5 612.8h0M975.3 578.4h0M922.4 544h0M676.4 494.2h0M912.5 525.9h0M751 601.8h0M796.3 617.9h0M807.6 460h0M892.7 509.5h0M688.5 472.6h0M770.1 495.5h0M927.2 554.4h0M769.8 439.1h0M933.6 556.9h0M981.1 430.4h0M898.8 480.4h0M906.9 487.1h0M883.5 458h0M930.6 496.7h0M887.1 462h0M859.4 613.7h0M736.7 464.8h0M811.4 579h0M885 542.5h0M912.6 597.5h0M951.5 469.2h0M920 541.9h0M940.9 475.1h0M700 464.4h0M956.8 519.3h0M790.9 438h0M683.4 427.1h0M853.4 546.4h0M865 520.2h0M701.5 518.5h0M761.4 464.8h0M750.1 529.5h0M985.6 470.5h0M751.6 518.9h0M710.2 510.4h0M865.2 466.4h0M746.9 451.7h0M893.9 437h0M738.2 611.8h0M758.3 578.2h0M815.8 545.8h0M856.1 427.5h0M738.2 515.7h0M830 589.8h0M893.1 465.7h0M944.2 515h0M842.6 543.3h0M766.4 562.6h0M730.7 551.1h0M980.5 522.1h0M768.9 606.3h0M847.6 603.9h0M848.2 517.7h0M904.4 542.9h0M915.3 575.2h0M883.3 498.6h0M757.1 572h0M804 546.4h0M988.3 433h0M940.9 542.2h0M706.8 558.1h0M874.4 436h0M856.2 506.3h0M889.4 553.6h0M931.9 596h0M824.8 545.5h0M922.4 493.3h0M786.5 608h0M850.4 584.5h0M784.7 458.6h0M771.3 550.8h0M770.7 512.2h0M965.7 494.8h0M911.8 517.2h0M803.5 568.5h0M846.7 557.6h0M830.7 457.3h0M719.7 438.2h0M979.1 577.8h0M727.1 498.3h0M960.3 454.1h0M909.6 504.3h0M811.8 566.5h0M924.5 543.2h0M807.5 504.8h0M910 603.2h0M708.7 572.2h0M858.4 570h0M1015.5 539.8h0M733.4 593.4h0M938.4 604.8h0M932.2 554.1h0M915.4 446.9h0M933.2 522.2h0M968.6 458.5h0M711.5 436.2h0M820 519h0M943.1 637.1h0M933.8 446.2h0M816.8 439h0M978.1 468.1h0M929 482h0M681.8 552.8h0M652.2 479.9h0M835.7 582.8h0M1016.7 517h0M974.9 517.7h0M951.5 495.2h0M869.7 623.2h0M686.4 599.9h0M900.8 463.8h0M930.2 500.2h0M915.4 444.7h0M934.1 554.7h0M936.4 569.4h0M728.5 450.1h0M869.7 516h0M905.7 439h0M860.2 479.6h0M661.5 560.4h0M907.8 551.1h0M770.6 485.5h0M800.1 495.1h0M982.1 478.7h0M738.5 526.2h0M807.2 561.7h0M718.2 565.5h0M674.7 477.4h0M943 518.6h0M769.9 450.4h0M731.6 505.8h0M892.1 592h0M845.4 479.3h0M958.9 483.2h0M760.2 439h0M900.7 527.9h0M903.8 435h0M817.8 501.5h0M787.1 525.7h0M781.4 487.2h0M756.5 463.3h0M843.4 461h0M741.3 460.2h0M896.7 493.2h0M704.9 554.8h0M972.2 437.1h0M757.8 441.8h0M936.8 446h0M726.4 423.4h0M960.2 584.6h0M897.5 428.3h0M955.4 536.5h0M892.2 536.6h0M795.4 527h0M933.5 570.8h0M967.7 510.5h0M651.7 438.3h0M934.6 459.1h0M726.6 523.5h0M974.8 539h0M954.9 545.9h0M903.2 562.1h0M822.8 479.4h0M859 576.2h0M791.4 530.4h0M820.2 478.8h0M820.2 546.2h0M806.6 587.1h0M859.1 528.8h0M714 440.4h0M852.7 480.9h0M875.1 528.8h0M971.4 564.1h0M686.6 465.5h0M809.6 602.8h0M926 482.1h0M680.5 452h0M835.4 525.9h0M871.1 606.9h0M721.1 463.9h0M740.5 440.5h0M759.2 495.5h0M777.9 499.4h0M954.3 556.7h0M939.9 632.4h0M761.1 498.5h0M774.6 574h0M746.4 419.8h0M935.6 453.9h0M878.1 528.2h0M963.4 536.5h0M831.9 595.8h0M917.3 503.4h0M833.8 529.7h0M837.5 595.1h0M922.2 498.3h0M727.7 479.1h0M957.1 467h0M989.9 438.9h0M663.5 458.7h0M976.8 429.9h0M904.4 525.4h0M954 424.1h0M861.3 434.1h0M990.4 609.2h0M923.5 609.5h0M981 569.2h0M977.8 446.6h0M680.2 485h0M966.1 499.5h0M891.6 601.6h0M981.3 536.1h0M806.4 499.1h0M713.9 531.8h0M900.7 506.4h0M710.6 529.4h0M757.9 432.4h0M928.7 455.1h0M970.6 599.7h0M937.2 442.3h0M785.6 476.5h0M817.6 608.7h0M1009.7 479.7h0M787.2 557.5h0M845.1 594h0M767.6 474.2h0M798.4 468.3h0M804.4 584.6h0M918 500.1h0M875.7 448.1h0M900.9 459.2h0M678.2 529.7h0M956.4 499.9h0M797 439h0M888.9 620.7h0M931.7 565.1h0M728.9 491.2h0M919.2 462.8h0M768 448.2h0M724.7 587.5h0M866.7 558.2h0M961.4 529.6h0M915.1 488.5h0M1003.3 558.4h0M817.6 511.7h0M761.8 537.5h0M747.1 468.6h0M812.9 552.5h0M947.9 634.1h0M836.2 524.5h0M919.9 443.8h0M754.8 517.7h0M823.1 481.2h0M712.4 540.1h0M739.4 616.1h0M819.7 540.3h0M920.2 456.2h0M981 509.4h0M639.4 588.2h0M826.1 499.9h0M965.5 600.8h0M897.4 566.3h0M923 515.3h0M753 501.4h0M836.5 522.5h0M886.5 531.9h0M858 590.5h0M706.1 508.5h0M768.4 469.4h0M776.5 583.7h0M868.6 494.1h0M815.9 476.1h0M960.4 481.9h0M751.7 595.9h0M666.5 519.1h0M923.8 551.4h0M926.4 473.2h0M681.7 611h0M891.1 540.9h0M705 547.9h0M893.6 476.9h0M732.4 472.9h0M684.2 575.7h0M910.3 589.4h0M740.8 449.5h0M815.3 514.7h0M899.2 577.4h0M880.1 430.5h0M953.4 598.3h0M975.9 492.7h0M794.8 497.8h0M736.2 549.9h0M912.4 490.8h0M986.2 554.2h0M1005.7 539.5h0M857.3 459.6h0M767.9 515.6h0M928.3 589.9h0M707.6 455.8h0M812.5 447.1h0M801.3 503.7h0M751.8 563.2h0M772.3 426.3h0M974.5 443.7h0M940 523.6h0M839 528.7h0M810.8 495.1h0M990.6 479.6h0M799 506.8h0M716.2 468.2h0M997.9 557.5h0M779.4 526.1h0M947.5 638.3h0M823.9 638.3h0M826.3 543.8h0M729.4 563.3h0M723.5 534.7h0M979 578.9h0M786.7 464.1h0M696.9 467.4h0M915 493.8h0M882.2 544.9h0M859.2 429h0M908.4 511h0M874.7 521.7h0M822.3 498.5h0M794.8 600.6h0M871.5 525.9h0M825.2 601.5h0M949.1 529.1h0M700.5 440.2h0M826.7 483.1h0M784.5 493.3h0M880.3 483.9h0M875.5 461h0M926.5 569.4h0M839.8 543.8h0M677.6 497.2h0M752.6 477.9h0M666 588.6h0M928.4 426.4h0M850 428.5h0M785.8 492.6h0M897.2 595.1h0M846.9 588.2h0M954.9 619.6h0M976.8 488.4h0M877.9 555.3h0M986.9 458.9h0M944.2 457.2h0M787.7 539.7h0M940.5 498.7h0M725.1 456.2h0M833.3 442.8h0M837.9 534.4h0M981.5 627.6h0M984.9 509.8h0M988.3 462.9h0M784.3 510.9h0M898.2 510h0M858.6 529.8h0M957.8 522.2h0M948.1 472.6h0M818 605h0M965.3 475.8h0M733.3 550.4h0M891.4 575.4h0M914.3 578h0M789 539.1h0M785.8 517.9h0M763 455.8h0M799.1 546.9h0M726.7 439.8h0M742 516.3h0M699.4 514.2h0M831.5 560.2h0M813.3 481.4h0M881.7 543.8h0M743.5 524.9h0M967.3 581.7h0M748.6 550.3h0M1017.4 446.8h0M709.6 488.1h0M868.7 485h0M916.4 589.7h0M771.8 612.6h0M829.5 491.8h0M847.8 555.5h0M1001.1 603.6h0M968 491.5h0M723 511h0M920.1 540h0M750.1 432.7h0M979.6 592.9h0M879.1 452h0M750 589.4h0M969.6 427.5h0M746.2 552h0M717.4 512.6h0M945.6 495.1h0M750 600.7h0M747.6 556.7h0M774.2 530.5h0M903.9 458.3h0M855.5 495.4h0M929.5 554.3h0M955.4 613.3h0M945.8 503.7h0M869.9 435.9h0M913.1 586.4h0M776.8 565.3h0M971.5 563.6h0M903.2 460.2h0M922.3 440.3h0M946.2 468.4h0M769 553h0M729 441.9h0M782.6 521.1h0M746.6 490.1h0M790.3 428.2h0M695.6 497.8h0M908.8 446.2h0M943.1 558.3h0M853.4 578.3h0M758.5 506.3h0M936.5 594.3h0M792.1 556.4h0M738.9 503.9h0M884 451.5h0M806.3 533.8h0M883.9 429.5h0M835.5 558.6h0M951.3 597.3h0M954.4 433.9h0M829.3 568h0M936.1 586.6h0M832.7 540.9h0M955.6 614.9h0M855.5 593.6h0M851 566.5h0M967.8 531.2h0M905 539.4h0M885.1 514.5h0M788.5 427.3h0M829.2 517.6h0M868.8 587h0M971 562.3h0M849.4 543.6h0M708.6 492.2h0M969.5 483.1h0" stroke="#e5455c" stroke-width="1.8" stroke-linecap="round" fill="none"/>
<path d="M982.2 555h0M993.8 464.2h0M991.1 547.3h0M801.4 440.3h0M742.6 532.9h0M981.4 554.7h0M681.6 440.9h0M989.2 560.6h0M803.2 546.1h0M982.2 582.3h0M678.8 521.7h0M714.3 424.8h0M773.6 529.2h0M867.7 613.3h0M881.5 550.2h0M800.3 554.3h0M717.7 527.6h0M752.7 546h0M955 570.5h0M915.6 452h0M932 570h0M778.6 532.3h0M913.7 558.7h0M959.9 456.8h0M953.7 602.5h0M1004.5 549.7h0M882.9 584.3h0M728.7 446.1h0M714.7 446.1h0M819.3 451.3h0M721.6 536h0M993.3 466.4h0M788 560.2h0M714.6 536.5h0M938.3 426h0M833 536.4h0M675.9 444.2h0M869.9 564.5h0M1013.7 558.7h0M710.9 543.4h0M1013.1 554.9h0M645.1 453.1h0M791.5 447.9h0M855.7 542.9h0M1004.8 451.8h0M888.9 424.5h0M937.1 552.4h0M917.4 449.4h0M909.7 541h0M770.3 539.9h0M998.1 549.9h0M841.3 437.6h0M962.9 562.4h0M771.8 547.8h0M905.2 555.2h0M696.4 430h0M748.6 438.4h0M944.6 454.9h0M997 561.6h0M803.4 560.1h0M697.3 519.9h0M805.2 556.3h0M903.5 565.9h0M797.2 562h0M967.8 445.2h0M1005.5 580h0M712.6 438.5h0M665.2 533.2h0M701.9 443.9h0M867 433.5h0M799.6 448.2h0M657.8 437h0M687.6 529.8h0M738.4 556.1h0M767.3 430.4h0M771.7 440.8h0M959.6 549.8h0M996.8 550.2h0M992 469.7h0M872.1 545.1h0M890 554.2h0M678.7 448.2h0M1010.7 593.5h0M683.6 440h0M657 541h0M711.4 440.2h0M885.5 589h0M671.8 553.3h0M997 575h0M976 555.2h0M911.8 565.1h0M943.2 462.4h0M806.4 589.7h0M673.8 548.6h0M646.2 589.6h0M647.6 445.2h0M774.6 443.7h0M753.4 443.8h0M1010.1 570.6h0M906.4 455.6h0M1010.9 463.7h0M960.8 436h0M784.6 443.2h0M967.9 577.6h0M923.3 562.7h0M964.4 464h0M878.6 444.5h0M833.2 545.9h0M874.1 445.3h0M1004.6 462.8h0M722.9 435.1h0M997.1 571h0M937.7 584h0M940.6 575h0M942.1 568.5h0M868.5 593.1h0M761.9 447.4h0M865.7 427.6h0M945.2 596h0M797.5 535.9h0M752.4 566.1h0M967.1 567.9h0M755.8 573.5h0M674 536.5h0M962.1 586.4h0M913.8 562.4h0M986.5 557.3h0M892.6 542.3h0M730 524.6h0M741.9 436.9h0M822.7 533.4h0M828.6 537.5h0M805.7 566.1h0M800.2 574.1h0M752.3 428.3h0M957.3 449.8h0M821.6 612h0M662.1 432.4h0M840.4 455.1h0M1000.3 551.7h0M676.8 534.6h0M702.5 577.5h0M845.3 445h0M727 545.3h0M782.7 426h0M789.5 576.5h0M696.7 530.5h0M905.2 567h0M743.2 448.7h0M987.3 468.9h0M860.2 562h0M809 549.3h0M717.5 525.8h0M757.2 428.7h0M751.4 532h0M651.4 551.9h0M946.1 558.1h0M828.9 549.1h0M976.6 566.7h0M934.8 544h0M955 439.6h0M677.4 551.2h0M958.4 575.7h0M917.6 548.1h0M986.5 572.6h0M816.4 562.3h0M830.2 577.5h0M849.5 544.6h0M987.9 604.5h0M647.8 530.8h0M1012.9 567.5h0M852.9 565.3h0M984.3 547.5h0M666.2 441.9h0M709.7 439.6h0M906.6 578.6h0M821.6 452.8h0M704.8 530.8h0M740.3 437.6h0M763.4 553.1h0M825.3 549.7h0M870.6 550.9h0M999.7 455.8h0M978 568.5h0M766 546.9h0M909.1 450.8h0M949.5 570.1h0M692.4 432.7h0M755.5 550.7h0M799.5 572.9h0M861 564.5h0M772.8 548.1h0M831.3 547.1h0M973.3 443h0M653.5 442.7h0M985.6 465.8h0M843.5 448h0M974.2 469.9h0M808 548.3h0M709.2 560.9h0M957.3 566.1h0M931.3 456h0M729.8 441.8h0M828.8 430.4h0M681.1 532.5h0M712.7 534.1h0M779.9 533.7h0M845.7 569.2h0M752 450.1h0M914.9 450.9h0M684.9 567.4h0M657.5 545.7h0M694.2 435.1h0M863.2 576.7h0M686.2 519.1h0M949.5 465.8h0M767.5 440.4h0M751.7 548.6h0M730.8 436.9h0M751.6 557.8h0M646.8 541.9h0M816 452.3h0M660.3 431.7h0M992.8 456h0M797.6 552.3h0M709.5 424.1h0M1005.9 447.2h0M713.8 427.8h0M896.9 450.6h0M801.9 563.8h0M867.1 540.8h0M993.9 456.1h0M658.9 555.9h0M737.8 567h0M947.3 547.5h0M711.1 425.3h0M935.7 447.4h0M718.3 445.8h0M1010.6 565.9h0M900.8 444.4h0M936.6 465.8h0M719.9 435.3h0M871.7 545.9h0M943.9 449.6h0M653.5 531.2h0M748.6 554.5h0M1004.3 553.4h0M783.3 448h0M749.5 558.2h0M909.3 562.1h0M893.2 553.2h0M903.4 450.4h0M768.5 531.7h0M968.6 467h0M779.1 571.8h0M739.3 439.4h0M874.6 450.3h0M783.4 578.2h0M707.4 540.5h0M792.3 453.3h0M959.7 583.4h0M1008.6 458.2h0M657 551.2h0M820.5 453.3h0M751.3 578.8h0M804.8 446.8h0M740.2 528.2h0M793.5 545.8h0M923.3 442.1h0M844.5 570.6h0M675.8 574.3h0M719.6 553h0M705.5 539h0M960.2 468.7h0M1004.1 572.1h0M710.3 439h0M730 545.5h0M950.6 463.2h0M965.5 458.3h0M908.4 551.8h0M798.2 548.3h0M869.8 593.8h0M731.8 531.9h0M988.7 463.7h0M713.1 542.4h0M1000.9 608.5h0M702.8 533.7h0M724.2 529.8h0M796.9 437h0M883.8 571.8h0M874.7 453.3h0M966.1 606.9h0M793.3 447.3h0M769.3 445h0M935.5 545.2h0M943.4 568.9h0M846.6 537.9h0M844.1 568.3h0M834.5 450.1h0M656.3 524.3h0M740.3 553.4h0M965.8 554.6h0M846.6 544.7h0M765.1 531.9h0M789.6 546.1h0M669.8 436.9h0M683 427.6h0M819.4 568.1h0M1004 471.9h0M924.3 552.4h0M962.2 580.3h0M707.7 434.4h0M690.2 580.7h0M861.6 567.2h0M985.9 448.9h0M911.6 447.7h0M876.7 557.1h0M815.9 549.3h0M683.2 557.3h0M831 542.9h0M714.5 521.7h0M823.6 564.5h0M935.1 619.8h0M875.9 544.1h0M994.7 426h0M893 445.9h0M1005.8 575.6h0M831.5 551.2h0M721.3 426.2h0M745.4 446.5h0M865.7 577.6h0M978.6 443.1h0M982.5 598.5h0M985.9 585.3h0M982.5 547.2h0M819.2 560.5h0M684.6 444.4h0M718.6 533.6h0M654.9 553.7h0M871.3 453.9h0M838.5 536.1h0M966.6 448.5h0M750.8 434.6h0M959.6 444.1h0M865.5 576.1h0M770.4 540.4h0M738.1 441.5h0M919.6 551.7h0M695 550.1h0M926.1 550.7h0M906.7 456.3h0M662.5 431.9h0M894.6 550.8h0M908 588.2h0M822.6 446.8h0M984.7 564.6h0M799.4 557.6h0M779.3 424.3h0M851.3 536.9h0M938.4 593.8h0M911.1 461.8h0M693.8 532.4h0M844.7 449.3h0M933.1 463.3h0M652.7 436.8h0M977.1 566.2h0M941.6 555h0M833.8 544.4h0M852.2 445.3h0M1000 473.1h0M847.8 568.8h0M713.2 530.5h0M681.7 429.1h0M710.3 542.9h0M673.6 517.5h0M680.5 432.2h0M691.2 521.6h0M969.9 601.4h0M790.6 589.9h0M666.1 440.1h0M971 431.4h0M947.6 577.7h0M922.6 456.5h0M890.4 458.5h0M898.7 457.5h0M809 434.3h0M674 446.8h0M885.2 570.8h0M847.1 565.6h0M752.4 548h0M887.6 549.8h0M854.9 451.1h0M967 466.7h0M966.2 455.4h0M929 576.2h0M901.3 559.8h0M679.6 434.8h0M661.2 532.7h0M856.2 536.1h0M725.5 556.8h0M796 445.3h0M984.7 470.6h0M706.7 520.9h0M791.5 445.5h0M959.2 453.7h0M850.8 568.7h0M874.2 582.7h0M793.9 453.1h0M708.4 425.8h0M869.5 559h0M767.3 529.7h0M726.4 537.4h0M688.5 542.8h0M647 527.6h0M919.4 458.7h0M886.3 544.8h0M891.6 440.2h0M672.8 528.9h0M680 438.2h0M889.4 560.6h0M792.9 562.3h0M976.8 427h0M794.6 570.6h0M880.5 459.7h0M855.9 541.7h0M1010.7 578.7h0M919.8 440.5h0M971.6 454.3h0M818.4 446.3h0M647.1 517.7h0M716.5 445.7h0M922 457.9h0M930.9 457.5h0M844.1 541.3h0M923.3 564h0M932.6 555.3h0M932.5 456.4h0M669.5 549.5h0M732.3 568.9h0M761 542.9h0M813.1 442.9h0M679.7 549h0M993.8 462.4h0M881.7 440.5h0M848.2 435.7h0M908 456.4h0M756.5 550.4h0M961.6 455.6h0M985.1 552.8h0M851.9 456.9h0M996.3 550.2h0M942.3 459.7h0M807.4 447.1h0M767 530.1h0M681.7 529.2h0M655 436h0M986.1 565h0M773.4 537.5h0M892.2 555.8h0M663.3 524.8h0M969.7 448.4h0M1001.6 461.6h0M778.3 451.3h0M939.3 546.4h0M740.2 446.1h0M704.1 537.3h0M736.2 540.2h0M926.2 549.7h0M918.5 565.3h0M840 545.4h0M950.7 455.9h0M884.1 540.5h0M824.3 565.4h0M956 574.9h0M846.3 536.5h0M697.3 527.8h0M843.1 431h0M973.4 576.4h0M992.3 551.9h0M786.2 532.4h0M842.5 454.9h0M753.2 543.3h0M991.2 564.2h0M989.7 551h0M649.8 448.3h0M1005.3 556.1h0M910.1 460.9h0M726.5 561h0M790.5 449.4h0M696.1 527.7h0M663.5 592.3h0M723.9 444.5h0M1010.1 601.9h0M775.2 532h0M645 440.7h0M647.4 528.5h0M793.1 431.2h0M830.8 546.6h0M957.7 596.6h0M1002.7 558.7h0M967.6 459.1h0M966.2 437.5h0M933.7 447.5h0M794.1 452.5h0M665.7 572.4h0M816.3 434.5h0M932.6 459.1h0M773.5 543.4h0M987.4 585.1h0M895.5 548.7h0M787.9 539.9h0M713 443.5h0M781.8 543.7h0M714.1 549.8h0M673.2 539.2h0M923.3 572.8h0M980.4 574.4h0M982.7 571.7h0M955.5 460.5h0M819.9 425.2h0M787.7 428.6h0M808.2 581.6h0M898.6 444.5h0M949.8 572.2h0M871.5 605.2h0M648.5 567.4h0M1005.8 469.1h0M773 443.2h0M920 564.2h0M683.3 432.3h0M993.5 471.6h0M860.3 595.6h0M716.3 530.1h0M799.7 442.7h0M858.7 583.1h0M890.3 436.1h0M752.3 448.3h0M735 436.4h0M856.8 539.2h0M986.3 582.1h0M688.4 547.8h0M868.4 441.6h0M993.7 472.2h0M850.9 588.5h0M992 472h0M802.1 436.7h0M839.9 457.1h0M793.4 437.1h0M867.6 558.4h0M958.2 569.1h0M869.1 568h0M681.9 536.4h0M913.2 446.7h0M784.8 540.2h0M881.5 569.6h0M901.1 439h0M788.1 443.6h0M981.9 578.4h0M778.6 540.3h0M900.4 541.7h0M770.9 545.9h0M864.7 570.2h0M893.6 438.6h0M955.9 597.6h0M730.4 424.7h0M672 545.5h0M902.5 558.3h0M810.5 437.7h0M861.2 447.1h0M995.1 588.1h0M914.8 551.1h0M807.5 448.1h0M693.1 441.6h0M780.2 562.1h0M712.8 436.5h0M758.6 539.4h0M784.1 556.4h0M868.8 571.2h0M721.2 440h0M843.5 548.6h0M819 450.2h0M703.5 439.3h0M815.6 546.9h0M992.4 457.5h0M723.8 445h0M816.9 433.8h0M789.8 563.5h0M730.7 435.2h0M938.4 454.7h0M647.5 449.9h0M886 447.7h0M728.2 533h0M899.6 547.6h0M904.1 557.5h0M753 431.9h0M989.9 468.8h0M713.9 537.1h0M959.6 574.2h0M1006.1 464.9h0M837.9 588.6h0M667.2 428.9h0M873.5 570.4h0M978.2 577.4h0M873.7 447.2h0M800.4 452.4h0M853.2 548h0M932.9 564.3h0M893.2 454.2h0M978.1 566.1h0M863 443.5h0M803.2 578.3h0M913.9 583.7h0M745.5 561.2h0M788.2 451.5h0M930.2 458.2h0M651 452h0M804.4 561.8h0M764.6 568.5h0M789.9 586.8h0M1006.2 531h0M760.4 539.3h0M754.8 429.9h0M762.1 465.8h0M871.3 480.5h0M922.5 444.9h0M948.4 631.2h0M975.1 460.2h0M895.5 623.4h0M702.6 516.1h0M805.2 509.8h0M717.5 563.7h0M841.3 430.6h0M831 572.1h0M830.4 454.4h0M889 551.8h0M947.8 586h0M951.2 588h0M955.3 584.7h0M729 501.3h0M832.9 534.2h0M957.7 474.4h0M699.6 499.3h0M962.5 529.4h0M970.2 506.3h0M868 499.8h0M705.3 528.3h0M890.4 500h0M944.7 488.7h0M858.7 554.1h0M875.3 522.9h0M845.6 507.5h0M842.9 537.4h0M926.3 489.8h0M733.5 556.1h0M940.2 536.4h0M946.9 555.8h0M765.9 571.7h0M786.4 531.8h0M793.7 518.5h0M1000.6 465.8h0M804.3 600.7h0M758.2 543.1h0M935.9 499.1h0M844.9 512.7h0M884.1 469.8h0M966.8 447.5h0M778.3 436.8h0M917.3 531.1h0M739.2 534.1h0M771.5 468.7h0M800.2 586.3h0M814.2 603.3h0M708.5 477.2h0M792.2 567h0M833.1 508.4h0M916.8 433.6h0M698.5 525.1h0M802.6 438.8h0M853.7 496.2h0M683 546.8h0M714.3 568.2h0M885.8 513h0M744.5 539.1h0M771.9 506.5h0M799.7 569.5h0M847.2 440.4h0M890.8 588.3h0M885.6 502.2h0M925.1 495.1h0M671 534.4h0M927.5 491h0M930.3 440.7h0M802.6 529.4h0M811.2 470.2h0M755.3 480.9h0M956.6 454.6h0M783.6 569.3h0M799.9 443.1h0M821.2 455.6h0M956.3 433.4h0M810 543.2h0M963 572.1h0M720.7 537.4h0M885.2 565.2h0M959.4 634.6h0M985.3 433.9h0M762.4 539.2h0M838.6 595.2h0M783.7 448.6h0M815.8 563.9h0M875.6 484.1h0M859.7 471.9h0M839.8 536.2h0M672 452.6h0M701.1 544.5h0M723 456.4h0M728.6 521.6h0M792.7 520h0M708.9 572.2h0M732.2 531.8h0M884.7 468.9h0M989.2 462.4h0M943.7 582.7h0M942.8 611.6h0M988.4 464h0M808.5 552.7h0M879.7 453.5h0M923.1 623.9h0M822.1 591.5h0M746.9 449h0M753.3 555.8h0M729.9 577.9h0M813 493.1h0M734.6 524.3h0M836.6 468.3h0M760.2 583.9h0M651.1 502.3h0M977.2 430.9h0M987.3 617.3h0M994.2 569.4h0M795 452.3h0M865.7 445h0M890.5 537.8h0M911.3 535.6h0M750.9 481.2h0M725.9 504.5h0M978 435.6h0M680.7 499.3h0M989.3 527.3h0M884 453h0M988 558.9h0M769.7 493.1h0M804 440.5h0M895.8 440.1h0M872.7 499.3h0M873 532.7h0M916.5 471h0M722.2 509.7h0M734.8 438.1h0M732.4 523.5h0M973.4 538.1h0M681.2 584.1h0M732.8 516h0M690.8 527.5h0M815.7 530.5h0M907.9 479.1h0M755.1 525.5h0M801.8 436.8h0M811 474.8h0M755.5 609.9h0M848.2 437.7h0M688.1 588.9h0M951.1 444.9h0M867.7 484.3h0M928.7 614.4h0M731.3 496.9h0M940.6 441.1h0M822.1 541.9h0M762.7 499.8h0M700.8 444.8h0M918 577.1h0M807.1 448.8h0M742.8 477.7h0M803 593.1h0M734.3 606.4h0M860.8 522.2h0M860.1 547.5h0M821.8 569.6h0M691.5 597.6h0M914.5 483.3h0M786.7 511.9h0M841.8 552h0M715.8 544.8h0M890.3 469.1h0M863 465h0M665.4 474.6h0M936.5 486.4h0M949.3 499.6h0M877.5 551.1h0M981.2 499.6h0M951.2 477.5h0M731.3 572.1h0M842.3 569.3h0M978.3 631.8h0M853.9 579.3h0M934.9 526.1h0M972.3 606.4h0M807.8 474h0M745.7 604.7h0M983.5 554.3h0M960.5 618.7h0M744.3 480.2h0M965.4 610.1h0M702.4 455.9h0M862.8 483h0M972.8 618h0M801 532.8h0M872.9 573.4h0M786.3 464.6h0M813.9 580.6h0M923.5 441.4h0M944.4 533.3h0M847.2 482.7h0M943 529.7h0M989.8 459.4h0M834.1 444.6h0M864.8 510.7h0M683.7 512.6h0M985.9 450h0M867.4 525h0M798.5 433.8h0M820.3 576.1h0M738.2 439.4h0M817.9 481.8h0M673.6 436.2h0M880.6 597h0M831.7 433.1h0M735.9 454.6h0M827.9 484.3h0M722 526.1h0M784.3 425.8h0M904.9 550.5h0M779.8 593.9h0M947.3 445h0M931.5 631.8h0M792.9 550.2h0M904.9 614.2h0M772.4 474.1h0M860.2 490.4h0M937 554h0M838.6 587.1h0M778.8 492.8h0M689.2 443.2h0M873.9 527.1h0M779.7 565.6h0M888.9 451.8h0M889.5 619.6h0M968.4 585.7h0M739.5 462.8h0M868.1 436.5h0M757.4 501h0M733 434.1h0M741.9 437h0M723.6 489.7h0M989.6 525.9h0M889.5 458h0M798.4 536.6h0M768 586.6h0M867.5 529.5h0M855.4 479.5h0M875.5 480.4h0M902.2 467.2h0M937.3 589.3h0M991.3 570.3h0M695.3 527.2h0M978.5 531h0M930.1 548.2h0M705.5 453h0M803.6 420.9h0M994.4 432.8h0M901.1 620.7h0M819.7 488.5h0M803.2 450.4h0M805.5 587h0M988.1 432.1h0M760 503.2h0M767.7 571.2h0M892.9 552.8h0M961.7 455.2h0M922.6 467.5h0M878.6 584.1h0M843.4 599.6h0M791.8 429.1h0M867 558.5h0M844.4 425.8h0M947.5 520.7h0M955.4 551.1h0M785.2 627.1h0M904.7 507h0M891.8 636.5h0M685.5 548.6h0M691.4 469.6h0M903.7 561.7h0M734.5 479.8h0M741.2 527.8h0M884.1 519.3h0M792.9 477.3h0M821.3 431.7h0M999.4 594.1h0M782.3 529h0M940.9 541.9h0M965.3 478.9h0M762.2 602.5h0M863.9 437.4h0M792.5 513.1h0M776.3 473.6h0M763.9 597.4h0M722.4 540.6h0M778.3 589.4h0M957.9 454.6h0M829 552.7h0M800.3 539.5h0M874.7 534.4h0M874.2 496.6h0M751.9 448.2h0M704.8 476.7h0M836.6 543.9h0M945 609h0M768.3 486.8h0M934.6 497.2h0M897.8 507.2h0M944.1 471.4h0M941.9 525h0M705.2 467.6h0M832.1 532h0M868.9 506.3h0M834.3 574.5h0M901.2 475.6h0M675.6 599.6h0M780.9 485.2h0M714.4 579.5h0M988.6 620h0M839.2 456.9h0M734.8 569.6h0M756.1 596.2h0M702.9 531.4h0M932.4 480.4h0M814.4 583.2h0M710.6 552.3h0M813.4 506.6h0M817.3 494.9h0M978.1 639.5h0M974.3 626.1h0M776.4 493h0M820.8 431.6h0M770.4 594.6h0M871.4 486h0M914.2 484.1h0M766.6 587.8h0M724 500.5h0M985.5 582.4h0M882.6 472.5h0M885.7 578.8h0M782.7 572.3h0M770.4 540.6h0M708.4 484.1h0M947.3 607.8h0M909.3 508.4h0M714.9 499.4h0M856.9 511.8h0M852.9 449.4h0M778.7 486.9h0M979.2 582.8h0M788.7 581.6h0M922.4 580.4h0M752.8 538.2h0M742.5 525.7h0M805.7 523.3h0M810.2 564.8h0M774.1 538.4h0M661.4 438.9h0M868.4 560.1h0M894.2 472.7h0M1006.2 492.9h0M839.4 518.8h0M928.9 468.9h0M996.5 490.8h0M740.5 428.4h0M791.2 486.9h0M815.7 551.4h0M901.2 596.2h0M775.8 562.9h0M988.4 581.7h0M814.2 499h0M944.5 528.9h0M890.7 468.7h0M871.7 567.6h0M952.7 449.4h0M744.2 567.3h0M765.8 450.9h0M841.8 477.7h0M843.7 540.5h0M883.9 428.2h0M901.6 425.2h0M907.8 473.6h0M952.4 460.3h0M736.8 469.9h0M976.1 581.2h0M775 426.9h0M760.7 454.5h0M817.9 528.9h0M778 563.1h0M833.3 558.7h0M920.9 496.4h0M660.6 446.7h0M816.6 540.4h0M855.7 515.5h0M992.2 623.8h0M948.5 542.3h0M933.3 464.9h0M898.8 535.2h0M728.3 533.8h0M743.3 558.8h0M792.1 436.5h0M810.1 511.9h0M972.8 447.7h0M721.6 525.6h0M935.9 495.2h0M825 452.6h0M869.4 546h0M970 578.6h0M796 568.7h0M777.7 430.8h0M739.2 447.5h0M746.7 441h0M793.2 623.9h0M765.4 582h0M804.5 463.7h0M879.5 424.9h0M857.7 584.5h0M1013.8 430.9h0M775.8 449.1h0M671.4 566.1h0M872.9 624h0M878.6 455.8h0M985.7 521.6h0M784.1 466.6h0M864.3 498.4h0M785.5 466.5h0M856.1 621.6h0M801.1 525.2h0M982 468.7h0M988.3 457.4h0M958 619.3h0M828.1 583h0M749.3 461.7h0M819.1 454h0M885.1 508h0M798.4 562.7h0M791.4 491.1h0M788.8 511h0M882.5 575.9h0M819.3 518h0M969.3 631.4h0M808.9 538.2h0M674.3 533.2h0M917.1 511.7h0M792.1 576h0M749.2 438.2h0M852.6 483.8h0M868 423.3h0" stroke="#5566b8" stroke-width="1.8" stroke-linecap="round" fill="none"/>
<path d="M886.2 470h0M741.9 499h0M678.8 512.9h0M726.7 499.1h0M995.9 527.4h0M814.6 511h0M841.5 502h0M907.5 513.9h0M752.9 486h0M953.5 528.8h0M700.3 496.4h0M717.8 439.4h0M732.7 490.5h0M885.5 471.1h0M693.4 494.6h0M690.5 491.5h0M852.9 467.4h0M812.7 500h0M853.8 507.5h0M850.9 514.5h0M881.2 475.4h0M776.6 487h0M922.3 493.6h0M784 482.6h0M911 532.1h0M691.7 501.3h0M887.1 500.3h0M660.5 475.7h0M933.3 526.6h0M846.6 475.5h0M887.8 511.6h0M1002.5 501.8h0M900.1 475.1h0M914.6 494.1h0M657.5 464.6h0M703.1 474.3h0M843 523.8h0M747.3 510.5h0M947.3 517.1h0M707.9 491.6h0M883.6 494.3h0M858.6 459.2h0M751.2 465.4h0M867.6 509.3h0M932.9 481h0M751.5 492.8h0M984.4 492.3h0M933.9 490.6h0M843 502.1h0M880 510.5h0M969.6 503.1h0M860.1 492.5h0M668.7 453.9h0M822.4 494.3h0M686.3 489.7h0M674.7 508.1h0M775 517.1h0M909.7 508.7h0M683.4 483.3h0M958.2 542.2h0M737.2 496.8h0M878.5 486.6h0M713.7 478.6h0M776.4 484.9h0M921.6 471.9h0M770.2 465.9h0M772 518.7h0M745.4 497.2h0M836.2 489.2h0M813 496.5h0M708 507.1h0M951.9 505.3h0M716 493.6h0M901.9 534h0M712.4 486.9h0M938.8 499.3h0M839.2 501.9h0M922 523.2h0M871.1 488.6h0M945.4 507.4h0M999.6 499.7h0M917.7 503.7h0M920.6 487.7h0M908.6 465.8h0M695.4 482.3h0M884.4 511h0M999.6 520.4h0M787.8 500.9h0M1008.2 516.7h0M910.3 497.3h0M803.6 442.7h0M810.1 544.4h0M689.8 456.1h0M926.7 506h0M918.7 521.8h0M966.5 516.2h0M866.1 523.1h0M956.6 485.6h0M823.7 539.9h0M889.2 472h0M854.8 495.7h0M932.5 516.2h0M956.3 548.9h0M666.4 479.2h0M710.2 507.4h0M671.4 461.1h0M664.5 455.9h0M883.9 550.3h0M962.1 481.9h0M919.5 499.7h0M961.6 514.2h0M899.2 496.3h0M904.3 519.6h0M836.1 507.5h0M740.2 504.8h0M983.4 524.9h0M891.9 510.1h0M734.6 496.5h0M663 501.9h0M736.3 470.9h0M836.3 470.1h0M755.2 487.2h0M948.4 492.4h0M920.8 491.8h0M706.4 506.8h0M716.6 470.1h0M892.2 458.1h0M938.9 549.1h0M960.2 497.3h0M941.6 546.9h0M877.7 484.1h0M835.3 517.9h0M998.8 521.1h0M902.9 500.9h0M994.8 486.1h0M876 499.5h0M827 560.4h0M875.3 454h0M683.4 458.5h0M945.2 511h0M725.6 490.2h0M877.8 469.6h0M1000 508.1h0M765.7 495.9h0M765.9 450.5h0M886.8 448.2h0M747.3 461.4h0M892.1 475.9h0M838.7 442.2h0M924.5 514.5h0M880.6 525.5h0M655.1 485.6h0M681.7 488.3h0M675.5 471.9h0M892.4 522.7h0M690 505.6h0M742.4 522.6h0M775.6 502.9h0M946.3 494.7h0M884.9 494.4h0M843.4 516.1h0M733 491.1h0M915.3 552.2h0M679.4 511.9h0M701.6 501.1h0M837.8 471.6h0M670.3 463.3h0M931.3 486.3h0M973.5 508.2h0M994 536.2h0M988.5 487.7h0M735.8 492.3h0M714.7 453.3h0M915 485.9h0M974.7 484.5h0M661.7 451.3h0M754.7 447.4h0M675.9 496.2h0M713.7 470.6h0M720.7 513.3h0M944.7 549.5h0M935.4 518.6h0M721.4 474.7h0M884.4 507.8h0M718.9 514h0M842.3 495.2h0M786.2 472.3h0M853.5 524.5h0M953 503.6h0M931 471.2h0M922.4 462.5h0M662.8 480.2h0M797.5 519.5h0M855.8 477.4h0M662.7 487.5h0M983.8 490.2h0M662.9 484.1h0M770.4 472h0M692.9 502.6h0M830 472.7h0M904.1 508.4h0M770.6 465.7h0M839.6 492.6h0M856.3 506.1h0M946.6 516.4h0M811.8 521.6h0M667.6 472h0M670.3 512.3h0M957.2 490h0M947.8 479h0M665.8 464.8h0M929.1 488.4h0M930.1 501.7h0M990.9 558.3h0M948.8 526.1h0M733.6 488.2h0M904.7 513.6h0M666.6 517.2h0M786.5 509.8h0M713.1 489.7h0M672.9 487.7h0M940.7 491.8h0M963.7 514.8h0M699.1 498.9h0M946.5 499.4h0M902.7 464.1h0M700 465.3h0M940.1 503h0M886.7 533.1h0M912.7 467.7h0M713.4 500h0M840.9 495.2h0M755.8 499.2h0M725.7 509.1h0M954.5 491.1h0M892.9 499.3h0M902.8 467.9h0M772.1 484.3h0M934.7 506.2h0M798 529.9h0M899.4 559.5h0M900.4 522.7h0M868.9 526.3h0M721 451.1h0M692 500.1h0M873.3 494h0M666.3 487.5h0M895.4 454.6h0M914 525.6h0M831.4 455h0M771.7 500.7h0M884.3 543.6h0M838.5 483.8h0M964.5 495.9h0M817.9 468.7h0M657.2 465.7h0M738.6 485.1h0M915.8 472.4h0M922.9 489.3h0M938.4 463.2h0M744.1 487.7h0M938 466h0M932.4 502.3h0M762.3 532.4h0M918.7 504.2h0M971 508.1h0M871.9 475.3h0M930.6 496.3h0M956.5 504.3h0M900.6 505.1h0M880.5 499.1h0M860.8 522.6h0M690.5 511.1h0M837.2 486.9h0M663.2 452.2h0M864.8 464.4h0M842.7 540.3h0M997.6 492.8h0M813.6 528.3h0M969.7 525h0M927.2 509.9h0M869.7 490.1h0M896.2 515.9h0M935.5 540.9h0M935.4 514.3h0M917.3 492.3h0M751.4 503.2h0M931 482.3h0M679.7 511.2h0M850.4 490.9h0M780.1 501.6h0M908.3 519.7h0M658.9 468h0M785.6 496.7h0M937.7 503.1h0M837.5 544.8h0M829.8 531h0M876.7 492.4h0M912.4 530.2h0M956.1 511.3h0M683.5 508.3h0M825.3 487.1h0M713.9 473h0M929.2 506.6h0M766.7 485.3h0M926.4 492.9h0M865.9 457.6h0M727.8 517.4h0M913.4 500h0M854.4 453.6h0M672.4 486.3h0M878.6 495.6h0M768.9 448.4h0M838.5 510.3h0M737.8 493.6h0M681.7 475.5h0M690.8 489.6h0M928.7 543.3h0M780.6 491.9h0M934.9 527.4h0M958 544.7h0M880.9 476.9h0M957.3 520.5h0M947.4 522.2h0M975 497.7h0M751.5 478.6h0M927.2 484.9h0M983.6 541.5h0M846.3 506.3h0M719.3 475h0M886.9 532.5h0M775.1 483.6h0M868.5 499.3h0M833.7 526.4h0M660.5 476.7h0M973.7 490.1h0M959.3 527.3h0M663.6 508.9h0M754.3 463.5h0M941.5 482.1h0M944 509.8h0M913.7 493.8h0M674.3 490.2h0M707.9 513.4h0M956 501.8h0M770.8 510.3h0M764.6 527.9h0M762 477h0M899.8 468h0M861.2 513.4h0M874.9 518.8h0M859.5 545.3h0M1001.8 542.9h0M905.7 509.5h0M751.6 516.8h0M987.7 524.2h0M667.5 473.2h0M694.7 509.7h0M826.3 529.2h0M946.3 537.7h0M873.4 508.1h0M839.3 522h0M770.1 482.2h0M848 490.4h0M698.4 504.9h0M759.7 508.7h0M984.8 525.6h0M846.3 534h0M804.5 484.9h0M675.8 509.2h0M886 475.2h0M943.4 463.9h0M927.5 481.8h0M695.9 485.7h0M929.9 502.5h0M721.9 483.1h0M902 501.7h0M769.9 537.2h0M786.1 545h0M662.4 491.6h0M873.6 485h0M742.1 486.2h0M968.6 529h0M774.8 480.7h0M724 531.4h0M931.6 530.6h0M865.2 460.2h0M876.9 509.8h0M793.1 492.2h0M949.9 516.1h0M679 516.6h0M863.8 542.7h0M822.6 515.8h0M949.8 500.3h0M906 498.5h0M748.2 451.1h0M923.7 459.4h0M977.9 504h0M891.3 532.9h0M928 530.7h0M930.8 523.1h0M720.4 461h0M993.6 497h0M795.6 513.7h0M882.4 477h0M752.2 469.3h0M718.9 461.2h0M858.9 510.3h0M779.8 482h0M781.4 459.4h0M1003.9 500.1h0M840.9 561.8h0M894 505.3h0M882.3 533.4h0M821.9 509.7h0M935.1 502.6h0M722 469.9h0M660.2 477.7h0M903.6 524.3h0M772.9 477.3h0M735.6 475.1h0M835.7 523.3h0M666.8 463.6h0M716.3 476.3h0M966.4 530.3h0M981.9 462.9h0M756.9 502.4h0M965 489.4h0M742.4 463.3h0M927.9 456.4h0M722.7 460.5h0M882.8 519.7h0M871.7 477.2h0M864.4 502.1h0M912.2 511.7h0M900.8 493.5h0M1008.7 525.2h0M920.9 565.7h0M999.7 553.2h0M834.7 503.4h0M954.2 534.5h0M751.5 479.2h0M988.9 487.1h0M678.4 512.4h0M875.2 515.5h0M981.2 463.2h0M962.2 525.1h0M679.9 502h0M658.4 469h0M1000.8 485.6h0M719.1 452.2h0M946.1 531.9h0M920.2 500.3h0M753.9 470.8h0M963.6 548.3h0M659.8 519h0M912.5 473.7h0M772.7 503.2h0M932.9 513.2h0M942.4 499.5h0M887 492.4h0M994.6 562.6h0M905.4 477.5h0M893.5 495.4h0M913.9 489.4h0M747.1 470.4h0M757.1 519.1h0M938.5 501.2h0M721.2 494.7h0M743 491.8h0M739 475.4h0M969.5 549.4h0M890.3 507.6h0M904.5 472h0M955.1 535.8h0M994.1 506.7h0M891.7 473.8h0M993 529.2h0M684.5 496.9h0M707.1 454.6h0M659.9 487.9h0M758.5 506.6h0M761.6 508.2h0M891.4 482.2h0M838.1 474.3h0M867.9 530.1h0M711.7 468h0M720.4 468.3h0M938.8 483.2h0M994.9 517.5h0M937 514h0M855.4 488.5h0M942 496.7h0M881.8 478.4h0M923.1 542.5h0M885.3 525.5h0M682.4 457.5h0M939.2 561.6h0M854.7 457.8h0M977.8 515.3h0M996 512.2h0M832.9 511.1h0M734.4 479h0M710.2 471.8h0M747.9 505.1h0M677.4 535.3h0M770.7 499.2h0M982.9 510.2h0M770.8 485.2h0M945 476.3h0M937.2 496.5h0M901.6 496.2h0M779 516.4h0M675.4 487.7h0M915.8 490.2h0M960.7 503.9h0M920.3 461.2h0M717.2 468.8h0M667.8 460.1h0M676 467.5h0M885.4 492.1h0M684.3 475.3h0M801.8 481.7h0M710.7 478.1h0M928.2 473h0M864.4 484.3h0M848.9 509.1h0M945.2 468.6h0M816.2 556.8h0M889.9 493.3h0M885 513.6h0M761.5 450.8h0M1002.7 498.2h0M819 440.3h0M942 529h0M922.7 537.8h0M954.8 519.7h0M924.3 501.6h0M838.1 473.5h0M993 524.9h0M935.2 483.5h0M979.4 528.2h0M962.4 509.3h0M1002.3 473.9h0M917 502.1h0M964.3 496.6h0M964.5 524h0M946.4 515.3h0M822.9 526.6h0M905.9 541.7h0M934.7 510.7h0M872.9 467.5h0M895.8 485.1h0M850.5 501.3h0M987.6 471.1h0M770.3 493.1h0M748.2 477.8h0M774 459.6h0M901 496.8h0M757.1 482.4h0M844.4 466.1h0M744.3 477.1h0M830.7 489.2h0M922.3 486.9h0M727 457.5h0M731.1 491.7h0M794.4 490.7h0M758.9 495.4h0M930.2 506.3h0M678.6 509.9h0M949.5 539.9h0M701.5 535.1h0M932.7 493h0M746 488.9h0M907.5 509.3h0M913.3 460h0M947.9 518.3h0M852.6 524.4h0M730.1 504.2h0M687.1 472.1h0M668 482.5h0M738.7 497h0M859.3 500.2h0M761.8 453.5h0M896.1 505h0M762 487.6h0M892.1 492.3h0M907.8 532.4h0M980.2 528.9h0M892 495h0M956.1 512.5h0M893.4 504.9h0M695.3 485.8h0M873.4 510.7h0M833.6 502.5h0M871.5 455.5h0M986.7 535.6h0M941.7 506h0M825.7 510.2h0M703 522h0M921.9 518.2h0M654.6 443h0M750.4 456.5h0M940.4 535.4h0M958.1 513.4h0M745.5 456h0M880.7 517.7h0M762.2 488.3h0M897.6 457.6h0M849.9 533.2h0M665.3 494.6h0M822.5 486.4h0M804.8 477h0M988.3 479.8h0M926.5 500.9h0M973.2 493.4h0M988.9 527.9h0M989.9 549h0M818.8 493.3h0M685.3 441.5h0M889.2 489.4h0M939.1 479.5h0M713.9 486.2h0M902.4 454.3h0M764.3 479.2h0M881.3 491.6h0M952.5 495.5h0M723.5 470.6h0M940.3 480.3h0M843.6 500.4h0M980.4 497.5h0M715.1 469h0M829.3 485.9h0M764 495.2h0M694.1 501.6h0M673.9 471.6h0M927.1 500.5h0M884.3 516.5h0M979.4 523.4h0M699.8 507.4h0M746.3 492.2h0M920.7 479.1h0M924.9 530.6h0M989.8 525.6h0M854.7 473.2h0M771.7 498.2h0M884.5 464.1h0M863.7 507.8h0M957.5 518.2h0M983.1 485.5h0M692.5 468.5h0M737.4 490.8h0M661 477.6h0M911.4 508.3h0M938 512.6h0M778.8 449.6h0M858.3 500.9h0M680.2 451.9h0M951.9 496h0M979.7 498.7h0M922.7 478.2h0M965.8 504.2h0M888.3 497.1h0M930.5 514.4h0M970.6 505.3h0M953.1 497.2h0M827.7 508.4h0M696.2 481.5h0M896.5 499.5h0M692.7 476.5h0M759.2 485.1h0M742.7 458.4h0M835.3 518.5h0M668.5 457.9h0M851.6 484.8h0M868.1 448.5h0M943.2 545.8h0M877.7 526.9h0M675.6 509.9h0M864.7 460.5h0M883.9 489.8h0M895.4 518.5h0M885.2 495.3h0M895.6 469.9h0M740.1 501.6h0M742.9 524.5h0M695 481.2h0M989.2 515.5h0M860.1 478.8h0M927.6 538.5h0M858.1 511.4h0M900 470.1h0M946.8 481.2h0M958.1 514.6h0M772.9 506h0M846.7 472.5h0M801.5 536.9h0M723.5 484.9h0M820.5 521.7h0M670.6 476.3h0M858.6 479.3h0M1004.4 479.6h0M889 494.8h0M820.2 530.5h0M685.2 511.2h0M1001.9 503.2h0M729.4 478.8h0M894.3 447.1h0M680.7 481.6h0M876.4 482.3h0M914.6 526.6h0M990.5 525.9h0M793.1 542.8h0M686.1 480.7h0M787.3 511.3h0M763 505.6h0M870.8 500.3h0M719.2 531.5h0M926.4 470.2h0M869.4 454.1h0M904 509.6h0M753.5 498.2h0M677.8 478.9h0M1000.9 514.2h0M985.5 504.6h0M848.4 504h0M825.9 483.5h0M890.3 503.8h0M700.9 474.4h0M871.1 506.6h0M901.5 544.4h0M706.5 481h0M936.7 499.8h0M855.2 540.3h0M736.8 485.2h0M824.2 502.6h0M860 483.6h0M679.9 523.7h0M799.6 525.9h0M848 490.9h0M962.1 508.4h0M763.2 477.3h0M940.5 546.6h0M799 515.2h0M662 513.6h0M916.8 470.5h0M924.4 531.1h0M972.4 500.9h0M707.3 486.2h0M785.6 465.5h0M896 531.2h0M930.2 492.2h0M659.4 501h0M870 501.3h0M931 515.4h0M886.5 517.3h0M1000.6 488.6h0M966.6 496.9h0M966.2 509.4h0M836.4 493.9h0M815.8 454h0M859.5 482.6h0M664.3 475.1h0M811.2 470.6h0M870.1 526.6h0M666.6 482.6h0M904.2 516.5h0M928.7 503h0M957.1 514h0M656.1 473h0M907.6 520.6h0M724.3 428.6h0M901.3 480.6h0M793.8 535.2h0M756.6 475.5h0M925.5 505.3h0M745.3 466.6h0M738.5 525.7h0M809.4 462.8h0M880.9 549.7h0M776 471.5h0M871.9 479.2h0M669.4 493h0M910.6 541.7h0M752.7 452.3h0M999.6 513.1h0M920 469.9h0M858.6 489.1h0M973.9 552.1h0M855.4 456.5h0M813.5 524.5h0M669.7 506.9h0M851.5 479.5h0M971 509.6h0M834.7 521.1h0M928.8 502.1h0M909.3 515.9h0M862.2 491h0M761 467h0M830.3 457.2h0M945.2 498.8h0M920.1 533.1h0M878.6 531.9h0M685 492.2h0M742.4 462.2h0M926.6 475.8h0M651.6 464.9h0M816.5 522.7h0M834.5 487.3h0M757.7 504.9h0M924.6 557.4h0M999.5 525.1h0M877.9 511.6h0M929.8 507.7h0M715.8 465.1h0M818 535.2h0M930.9 549.3h0M666.1 484h0M704.4 474.6h0M696.4 484.9h0M798.1 505.8h0M907.6 532.8h0M852 468.2h0M908.4 446.4h0M788.9 473.8h0M932.8 489.2h0M757.5 497.8h0M881.9 521.8h0M759.4 512.7h0M916.6 502.8h0M733.3 458.4h0M866 491.1h0M752.4 489.7h0M876.6 493.2h0M740.5 460.2h0M975.2 530.9h0M874.5 498.2h0M917.4 483.9h0M717.9 462.7h0M755.1 551.9h0M974.8 507.4h0M954.3 486.1h0M821.6 476.4h0M654.1 483.3h0M855.8 551.7h0M966.6 507.3h0M874 509.6h0M658 477.9h0M967.9 571.6h0M757.1 443.1h0M838.7 472.9h0M777.1 500.9h0M912.7 472.3h0M874.5 502h0M787.1 451.7h0M705.2 484.4h0M962.4 516.1h0M680.4 482h0M763.3 524.2h0M888.7 527.2h0M918 510.6h0M779.4 497.2h0M990.2 505.7h0M862.4 524.6h0M861.3 508.9h0M986.2 545.5h0M962.6 482.7h0M731.5 467.1h0M916 481.4h0M970.1 544.9h0M853 479h0M855.9 506.7h0M852 491.8h0M858.2 519.7h0M913 482.4h0M938.1 522.2h0M800.2 517h0M908.1 514.8h0M708 461.7h0M956.9 488.4h0M923.2 498.4h0M839.2 498.1h0M855.9 521h0M868.9 488.7h0M890.4 526.4h0M729 475.6h0M910.7 485.9h0M943.1 531.1h0M842 516.5h0M949.3 484.1h0M683.3 457.4h0M880.9 520.5h0M846.2 544.2h0M937.8 462.2h0M785.3 464h0M1002.6 547.1h0M855.6 532.2h0M850.8 479.5h0M658.8 464.6h0M958.3 521.8h0M701.1 491.1h0M817.5 559.6h0M758.4 501.1h0M823.1 458.4h0M874.6 503.2h0M891.1 508.5h0M978.2 491.8h0M681.7 487.4h0M865.7 532.9h0M885.4 482.7h0M929.4 503.6h0M782.1 461.1h0M889.6 493.2h0M719.3 478.2h0M954.5 476h0M757.3 509.2h0M876.8 484.1h0M926.5 482.2h0M782.1 485.8h0M998.8 505.5h0M872.8 511.4h0M950 514.6h0M895.7 506.5h0M942.3 472.3h0M971.1 466.1h0M849.8 508.9h0M993.6 499.2h0M860.5 496h0M853.9 469.2h0M974.7 520.2h0M834.8 516h0M830.4 455.8h0M814.4 497.7h0M883.8 515.2h0M907.5 521.8h0M919.3 511.2h0M911.7 468.3h0M930 488.6h0M914.8 491.4h0M746.4 484.8h0M960.2 506.4h0M697.6 467.5h0M690.9 486.8h0M979.2 515.3h0M943.4 440.2h0M902.7 479.5h0M944.8 528.2h0M896 509.8h0M658.6 479.4h0M889.1 455.6h0M692.5 510h0M712.7 500.3h0M938.7 487h0M878.9 506.8h0M855.5 447.2h0M1001.5 549.5h0M697.4 509.8h0M966.6 527h0M766.5 441.1h0M898.8 460.3h0M683.4 501.8h0M725.6 498.8h0M957.9 508.1h0M979.6 483.4h0M851.7 511.4h0M746.9 518.1h0M709.5 501.4h0M690.6 466.3h0M688.2 490.8h0M876.1 504.8h0M778.4 454h0M831.4 486.3h0M749.3 494h0M982.4 510.5h0M690.2 474.9h0M992.9 515h0M782.8 470.5h0M784.9 539h0M963 505.2h0M973.7 545.4h0M860.6 480.6h0M955 492.2h0M896.8 505h0M833.9 492.2h0M753.8 480.8h0M993.2 535.4h0M917.6 519.4h0M924.9 507.6h0M772.2 516.5h0M689.3 447.2h0M823.6 480.8h0M688.5 508.9h0M808.5 466h0M888.3 485.2h0M765.7 511.4h0M913 470.9h0M998 522.3h0M673 482.2h0M896.3 534.1h0M919.2 484.1h0M736 448.4h0M873.7 517.1h0M862.6 498.6h0M771.8 437.5h0M747.6 513.9h0M770.9 455.2h0M792.7 537h0M695.8 514h0M934.3 500.8h0M974.1 499.6h0M708.4 493.1h0M970.1 514.5h0M845 453.1h0M894.3 452h0M884.3 541.4h0M987.8 521.8h0M730.1 507.2h0M905.2 454.2h0M935 442.6h0M903.8 516.8h0M969.7 504.3h0M847.2 460.2h0M932.2 521.2h0M991.1 452.4h0M911.1 508.3h0M848 479.5h0M840 471.8h0M921.5 522.3h0M716.6 455.7h0M912.8 488.2h0M840.2 470.7h0M873.3 499.4h0M927.1 470.6h0M708.3 489.5h0M666.7 508.4h0M699.4 470.8h0M721.8 490.2h0M717.3 446.3h0M933.3 465.1h0M875.3 487.8h0M744.6 471.9h0M855.1 496.9h0M967.1 522.9h0M979.6 523.3h0M951.6 525.7h0M758.8 480.9h0M809.5 527.1h0M921.4 503.3h0M921 554.1h0M921.9 507.9h0M700.7 480.8h0M880.2 461.2h0M942.9 547.9h0M919.6 532.3h0M990.8 509h0M937.6 506.3h0M861.8 545.8h0M725.8 453.6h0M718.3 526h0M748.2 513.7h0M867.1 503.2h0M652 465.7h0M753 497.5h0M960.7 536h0M920.5 501h0M920.9 525.4h0M951.4 490.9h0M915.4 506.7h0M855.9 491.2h0M886.1 496h0M686.9 503.1h0M995.4 501h0M903.6 527.7h0M870.5 517.9h0M816.9 478.4h0M690.2 515.6h0M806.2 543h0M874.6 471.6h0M971.2 503.7h0M891.2 527.6h0M717.3 519.2h0M880.3 467.1h0M676.8 491.5h0M972.8 533.5h0M863.9 484.1h0M712.9 481.6h0M705.5 489.8h0M957.5 477.2h0M692.8 516.9h0M985.5 481.2h0M1001.5 518.4h0M790.6 479.1h0M772.9 492.1h0M874.3 472.8h0M695.6 499.7h0M867.9 464.6h0M919.6 515.9h0M910.1 513.7h0M750 498.6h0M969.4 512.6h0M848.8 464h0M783 465.1h0M660 448.8h0M739.3 545.7h0M899 537.6h0M928.5 468.2h0M765.9 504.3h0M738.3 502.4h0M736.3 494.3h0M719.1 507.3h0M903.6 478.2h0M909.2 508.9h0M917 533.7h0M876.7 525.2h0M765.5 455.6h0M952.2 494.2h0M902.9 479.2h0M874 453.5h0M886.1 507.9h0M988.3 526.4h0M939.5 534.6h0M722.3 459.6h0M959.9 532.1h0M882.2 482.6h0M940.6 521.8h0M828.7 531.7h0M893.7 523.7h0M937.8 484.8h0M917.7 544.8h0M881.5 481.2h0M944.1 482.6h0M879.9 473h0M894.4 539.6h0M659.9 503.9h0M815.2 450.2h0M697.5 497.4h0M701.2 489.7h0M750.9 493.3h0M871 506.9h0M754.6 444.9h0M694 480.8h0M742.6 477.8h0M882.7 527.9h0M885.6 521.2h0M874.9 511.6h0M851.3 455.4h0M689.8 490.6h0M904.9 522.7h0M851.7 496.3h0M927.3 502.4h0M947.1 518.2h0M764.4 507.8h0M973 507.4h0M747.6 468.1h0M915.8 536.5h0M864.1 486.7h0M670.4 464.6h0M707.9 479.2h0M713.7 469.3h0M653.4 528.8h0M919.6 514.5h0M849.5 501.6h0M964.1 503h0M887.7 497.9h0M754.7 517.5h0M916.9 524.4h0M865.6 506.6h0M777.3 468.7h0M917.2 480.3h0M898.3 495.8h0M703.1 535.4h0M721.2 499h0M756.6 517.4h0M878.4 499.5h0M682.4 509.7h0M680 474h0M875.5 532.5h0M678.1 447.2h0M850.1 521.6h0M690.8 495.7h0M883.2 446h0M946.9 516.1h0M887.7 482.6h0M989.2 516.2h0M854.5 510.4h0M866.4 499.4h0M657.7 467.7h0M815.2 478.4h0M926.7 521.9h0M687.1 429.1h0M920.7 537.3h0M927.3 466h0M811 507.5h0M925.5 488.8h0M936.3 513.3h0M788.7 523.2h0M931.9 464h0M893.2 461.7h0M828 499.1h0M903.1 539.9h0M904.7 520.3h0M953.6 499.7h0M704.8 477.6h0M867.3 517.8h0M907.2 528.7h0M888.1 462.5h0M949.3 513.8h0M856.3 545.5h0M971.6 518.6h0M934.3 480.6h0M857 477.2h0M713.7 486.5h0M976.9 534.1h0M989 529.6h0M935.5 506.6h0M998.6 478.9h0M872 532.4h0M688 483.1h0M686.7 471.7h0M661.9 484.9h0M884.5 442h0M689.2 487.1h0M873.5 504.2h0M730.5 476.4h0M777.7 512.5h0M859 466.7h0M833.5 507.5h0M937 525h0M712.1 509.1h0M847.7 494.6h0M896.8 492.6h0M698 483.1h0M946.2 514.6h0M957 486.1h0M979.7 499h0M992 513.4h0M944 486.7h0M915.1 491.9h0M867.5 525.8h0M963.4 520.9h0M945.6 546.6h0M946.7 479h0M945.3 478.3h0M688.7 481.8h0M909.3 552.9h0M854.6 504.3h0M709.3 469.8h0M933.1 445.9h0M996.4 531.6h0M891.1 485.3h0M878.8 530.5h0M662.2 510.6h0M944.2 551.7h0M754.5 472.2h0M853.6 492.3h0M895.3 475h0M858 511.8h0M962.2 519.2h0M925.9 488.1h0M924.6 480.7h0M875.7 531.3h0M849.4 475.7h0M892.6 475.3h0M778.5 545h0M684.8 499.7h0M918.9 468.2h0M755 497.2h0M746.6 496.3h0M696.7 479h0M658.1 472.3h0M888.3 464.3h0M745.7 478.4h0M851.5 501.7h0M915.6 507.8h0M747.1 520.7h0M891.9 507.1h0M653.7 453.1h0M746.3 465.4h0M824.9 458.9h0M686.6 473.8h0M878.1 523.2h0M742.7 490.8h0M834.5 510.9h0M942.5 483.5h0M681.7 480.6h0M897.1 491.8h0M897.7 495.2h0M698.7 473.8h0M764.5 527.7h0M786.8 546.8h0M842.6 524.6h0M927.9 478.5h0M760.4 424.5h0M909.6 473.2h0M902.9 523h0M900 472.5h0M880.7 512.5h0M725.2 504.9h0M751.6 452.7h0M922.9 534.5h0M822.5 439.5h0M752.3 481.9h0M858.6 489.2h0M952.3 456.7h0M769.1 507.7h0M920.6 496.9h0M732.4 470.2h0M790.4 501.6h0M910.5 456.9h0M950.3 519h0M847.4 449.3h0M992.9 493.9h0M910.4 508.8h0M887.8 501.8h0M892.6 490.7h0M989 520.8h0M762.9 488.9h0M667.4 489.2h0M918.8 511.4h0M946.1 477.3h0M891.1 507.6h0M890 504.9h0M694.5 485.7h0M776.9 502.8h0M848.5 504.5h0M957.1 505.7h0M891.8 480.3h0M656.3 497.5h0M866.9 478.5h0M712.8 517.5h0M747.4 475.8h0M739.5 491.5h0M1000.4 500.6h0M683.1 458.7h0M998.4 480.9h0M963.3 521.4h0M714.3 483h0M710.8 496h0M749.6 483.6h0M937 504h0M932.5 501.2h0M785.6 515h0M789.6 522.7h0M854.1 494.9h0M762.9 441h0M858.5 543.3h0M821.5 485.1h0M742.6 495.9h0M724.5 490h0M730.3 488h0M680.1 457h0M990.1 506.8h0M782.9 464.4h0M896.4 454.4h0M809.7 474.6h0M762.7 486.9h0M992.6 528.4h0M745.4 439.1h0M851.7 491.6h0M926.2 501.1h0M702.2 468.6h0M817.7 473.4h0M890.9 494.2h0M656.9 476.3h0M968 513.6h0M700.2 494.2h0M663.8 467.5h0M881.7 500.2h0M928.9 473.5h0M961.2 534.1h0M738.4 471.5h0M700.9 464.3h0M932.8 502h0M741.9 476h0M742.3 473.1h0M709.2 487.5h0M937.9 554.5h0M973.1 487.8h0M861.2 502.1h0M753.9 491.3h0M973.6 495.8h0M776.9 510.7h0M913.9 509.3h0M843.8 476.5h0M726.8 446.3h0M902.9 506.6h0M874.2 484.5h0M873.8 502h0M907.6 519.1h0M834.6 484.1h0M735.9 494h0M901.4 469.5h0M892.4 495.8h0M720.4 436.7h0M688.5 468.1h0M883.6 517.6h0M836.3 516.2h0M947.6 480.9h0M801.7 510.7h0M978.4 540.2h0M774.7 509.6h0M907.7 503.2h0M737.1 492.9h0M920.1 475h0M722.2 497.5h0M958.3 519.3h0M880.9 464.7h0M686.6 484.6h0M910.1 465.6h0M897.4 531.2h0M920 480.9h0M883 495.7h0M932 485.7h0M898.4 493h0M953.3 469.2h0M960.1 533.8h0M683.6 476.5h0M969.2 551.3h0M914.4 493.7h0M657.2 475.7h0M879.1 473.2h0M883.5 514.2h0M737.4 505.5h0M902 508.8h0M841.6 478.2h0M986.8 479.3h0M708.7 458.4h0M727.2 474.3h0M738.8 489h0M813.7 512.1h0M854.9 497.2h0M1005.4 499.9h0M757.3 465.3h0M737 519.7h0M944.8 498.4h0M867.1 480.4h0M935.2 478.8h0M984.1 504.6h0M679.9 485.6h0M788.7 526.8h0M782.3 497.9h0M970.3 530.1h0M745.2 487.1h0M751.1 477.7h0M1000.5 530.2h0M690.4 479h0M658.3 456.3h0M922.8 514.2h0M667.2 491.2h0M999.7 496h0M659.2 487.4h0M965.7 525.8h0M928.4 502.6h0M999.1 500.6h0M1001.4 545.2h0M885.8 511.7h0M980.1 509.8h0M883.2 494.8h0M834 471.5h0M763 473.4h0M826.1 472.8h0M978.2 512.6h0M912.2 508.2h0M778.2 474.7h0M852.7 503.5h0M915.9 486.4h0M954.9 537.4h0M953.6 525.7h0M659.1 498.8h0M975.2 552.5h0M804.3 472.2h0M888.7 534.8h0M860.8 462.6h0M860.3 484.3h0M708.5 500.6h0M977.6 521.9h0M873.7 543h0M935.4 516.4h0M872.9 504.2h0M666.7 457.6h0M893.4 489.4h0M675 449.8h0M991.5 519.9h0M848.1 524h0M840.5 523.7h0M693.1 498.7h0M694.4 509h0M871.6 527.3h0M710.2 478.3h0M834.1 538.7h0M751.4 509.9h0M920.5 512.8h0M858.9 514.1h0M745.3 526.7h0M755.4 471h0M873.6 482h0M729.2 511.2h0M968.1 504.4h0M714.6 479.8h0M730.5 483.4h0M764.2 546.9h0M852.9 511.5h0M880.8 502h0M849.3 469.5h0M699.3 478.7h0M907.6 462.2h0M661 504h0M895.3 521.6h0M858.9 489.9h0M956.1 475.5h0M996.5 548.4h0M817 516.3h0M960.4 530.4h0M750.2 517.1h0M919.2 518.9h0M822.3 473.2h0M661.7 444.8h0M704.6 508.2h0M836.6 482.6h0M1001.6 492.7h0M988.4 531.1h0M726.8 485.9h0M935.5 529.3h0M787.1 507.1h0M766.9 461.9h0M658.8 459.6h0M789.8 491.8h0M938.1 500.3h0M774.2 477.4h0M892.8 466.3h0M822.5 532.3h0M865.3 522.8h0M781 481.1h0M749.6 540.3h0M730.5 478.4h0M831.3 517.4h0M885.8 504.7h0M901.4 488.1h0M697.5 451.8h0M732.5 494.6h0M871.4 518.6h0M942.4 511.8h0M963.9 511.6h0M846.2 477.9h0M752.7 434.1h0M872.5 511.6h0M739.8 470.4h0M983.2 523.6h0M671.3 501.1h0M883.2 523.8h0M953.9 554.3h0M894.9 472.9h0M854.3 505.4h0M850 452.7h0M656.9 479.6h0M916.3 495.7h0M749.5 489.8h0M936.9 518.9h0M872 458.3h0M738.9 498.5h0M677.2 472h0M921.5 493.9h0M893.5 487.4h0M918.2 530.2h0M913.9 523.8h0M692 519.1h0M911.5 508.7h0M678.3 484.3h0M923 529.1h0M769.6 488.7h0M995.5 514.1h0M678.7 489.5h0M885.3 471.2h0M687.3 476.9h0M831.7 490.8h0M988.2 510.4h0M850.5 506.7h0M669.3 498.8h0M846 514.6h0M699.6 481.1h0M929.3 519.6h0M713.7 487.9h0M944.1 496.7h0M761.2 518.6h0M966.1 517.4h0M885.7 484.7h0M975.8 506.3h0M940.6 517.1h0M768.2 501.7h0M997 510.1h0M731 513.8h0M772.5 460.8h0M755.8 492.4h0M712.2 478.9h0M881.1 520.6h0M741.9 448h0M878.9 473.8h0M756.2 481.4h0M945.7 491.4h0M884.6 508h0M707.3 475.8h0M875.2 512.9h0M840.4 472h0M662.1 459.5h0M895.4 481.6h0M943.8 506h0M751.2 507.7h0M840 508.5h0M973 516.8h0M785.1 445.8h0M868.7 484.3h0M877.1 511.5h0M727.2 502.5h0M922.1 497.9h0M777.6 497.6h0M931.5 490.1h0M741.4 470.3h0M980.2 508.6h0M746.6 464.3h0M876.7 503.1h0M758.6 520.6h0M840 470.1h0M884.4 528.2h0M987.5 511h0M733.4 503.1h0M925.9 522.7h0M757.5 450.2h0M895.3 486h0M850.2 543.3h0M848.3 477.4h0M747.2 498.7h0M772.7 485.2h0M682.6 516.5h0M904.4 503.8h0M959.3 536.9h0M926.7 481.2h0M741.8 465.8h0M928.1 485.1h0M878.3 513.5h0M872.7 484.2h0M947.9 506.4h0M760.5 483.8h0M861.1 460.8h0M708.2 490.9h0M882.8 513.9h0M707.9 494h0M731.2 472.6h0M866.1 495.7h0M855.2 468h0M968.2 517h0M875.4 502.7h0M933 490.5h0M855.7 522.8h0M790.4 511h0M740.9 479.7h0M879.3 480.9h0M854.3 488.2h0M759.4 510.2h0M681.9 491.7h0M743.5 519.1h0M941.9 495.3h0M914.9 502.1h0M931.1 444.3h0M836.1 494.6h0M859.4 442.7h0M980.3 525.3h0M724.4 467.5h0M911.9 486.2h0M917.3 511.6h0M683.2 473.2h0M929.3 507.7h0M952.5 497h0M762 466.8h0M854.5 532h0M773.7 513.4h0M791.4 535.7h0M954.1 445h0M878.4 464.3h0M673.1 474.3h0M774.6 490.1h0M732.3 486.6h0M683.3 488.2h0M957.9 523.3h0M898.4 505.3h0M873.1 536.6h0M835.8 494.6h0M800.3 504.2h0M872.9 490.4h0M931 522h0M768.3 524.6h0M883.3 495.2h0M693.1 481.1h0M675.1 481h0M758.1 433.9h0M804.4 433.4h0M730 487.4h0M874.4 476.1h0M946.4 508.8h0M958.7 539.3h0M657.3 511.5h0M904.4 484.3h0M878.9 536.4h0M676.4 460.6h0M737.5 474.3h0M953.7 492.9h0M925.4 540.1h0M855.1 545.6h0M876.5 492.7h0M867 502.3h0M899.3 493.3h0M897.3 516.6h0M944.1 527.2h0M854.2 533.2h0M823.1 466.3h0M909.6 479h0M919.5 488.6h0M749.1 502.8h0M848.9 502.2h0M943.5 494.3h0M751.1 507.8h0M793.4 533.2h0M743.6 495.4h0M752.8 516.3h0M683.9 503h0M879 494.2h0M773.4 478.6h0M896.8 502.7h0M686 465.6h0M916.3 526.9h0M861.7 503.9h0M800.9 429h0M702.3 482.8h0M951.7 494.9h0M737 480.3h0M864.3 489.1h0M926.2 485h0M813.7 513.4h0M965.5 541.6h0M904.4 462.8h0M919.2 508.4h0M889.3 509.2h0M920.1 500.4h0M898.4 498.8h0M877 496.3h0M996.6 527.6h0M835.6 531.5h0M864.1 477.6h0M833.1 499.4h0M821 504.7h0M871.9 484.3h0M744.7 503.9h0M993.7 512.7h0M882.3 494.1h0M717.3 479.3h0M838.5 494.6h0M963 479.7h0M670.2 479.2h0M681.4 480.2h0M981.9 502.5h0M992.3 522.5h0M792.8 457.7h0M936.2 512h0M729.8 530.6h0M768.6 525.9h0M931.5 444.9h0M749.9 505h0M974.2 488.6h0M844.1 557.4h0M973.6 532.7h0M866.8 477.9h0M811.7 548.1h0M893.5 504h0M914.4 458h0M942.2 456.8h0M979.8 558.5h0M722.4 512.8h0M855.3 507.1h0M831.1 482.5h0M694.1 443.7h0M687.5 494h0M761.9 522.3h0M687.8 471.3h0M775.7 504h0M841.8 486.1h0M873.6 521.5h0M874.5 495.7h0M986.8 504.6h0M720.1 447.9h0M888.2 497.4h0M697.2 487.7h0M682.4 493.4h0M996.9 520.5h0M697 459.9h0M1001.3 506.1h0M889.9 486.5h0M858.7 431.5h0M897.3 477.7h0M993.5 503.6h0M879.3 433.1h0M706.1 480.4h0M992.5 507.3h0M1004.7 506.6h0M1000.2 518.1h0M898.7 486.9h0M973.1 513.6h0M699.1 456.6h0M778.3 489.1h0M965.8 460.3h0M915.8 477.6h0M762.4 517.7h0M658.4 482.2h0M840.6 458.2h0M968.5 490.6h0M908.3 504.6h0M952.7 490.9h0M909 486.6h0M773.7 485.4h0M905.3 463.1h0M778.9 438.5h0M992.4 480.1h0M668.5 477.8h0M669.4 499.5h0M963.8 476.5h0M682.1 509.3h0M771.7 493.5h0M781.3 516.9h0M709 480.3h0M892.6 524.7h0M863.8 505.5h0M966.3 556.8h0M795.8 520.1h0M686.1 483.1h0M985.7 520.7h0M907.1 514.7h0M928 487.6h0M736.1 499.4h0M887.3 485.2h0M984.6 491.2h0M831.6 525.7h0M831.9 511.9h0M1003.9 501.9h0M934 484.7h0M705.8 489h0M976.9 504.5h0M934.6 507.4h0M654.8 502.5h0M895 488.5h0M906 502.1h0M765.9 480.8h0M681.6 512h0M892.9 512h0M852.3 496.3h0M831.1 485.5h0M929 492.2h0M725.2 473.7h0M903 487.7h0M760.5 486.1h0M692.4 471.3h0M739.3 507.7h0M875.4 473.8h0M686.5 502.7h0M965.8 494.2h0M861.6 480.8h0M712.9 476.8h0M1002.7 543.3h0M893.7 507.1h0M892.6 494.2h0M746.7 502.6h0M943 521.9h0M671.1 477.1h0M899.6 501.7h0M964.6 510.4h0M735.2 459.9h0M839 462.9h0M951.6 524.3h0M730 456.8h0M946.2 502.3h0M830.6 498.7h0M962.2 481h0M808.2 544h0M766.8 457.9h0M923.4 504.5h0M771.2 494.6h0M907.4 466.8h0M876.8 512h0M811.1 535.6h0M761.1 494.4h0M1003.9 534.3h0M924.6 523.2h0M954 508.4h0M942.2 494.6h0M947.8 546.7h0M912.6 487.4h0M846 495.8h0M928.2 459.6h0M722.8 469.5h0M703.2 498.8h0M931.4 498h0M1008.2 484.9h0M699.6 475.5h0M735.3 453.8h0M719.4 477.4h0M826.8 460.8h0M870 489.8h0M876.3 533.1h0M874.5 483h0M841.1 473.3h0M836.8 498.4h0M857.5 535.3h0M695.9 470.4h0M887.7 512.9h0M956.2 488.5h0M764 464.5h0M928.8 516.4h0M912 494.1h0M857.4 514.7h0M704.7 459.5h0M756.7 499.9h0M922.5 525.1h0M736.1 459.8h0M948.9 528.7h0M867.7 520.7h0M990.8 533.8h0M904.7 487.5h0M736.1 472.3h0M773.5 489.9h0M664.6 471.7h0M905 505.5h0M863.1 554.2h0M981.8 497.6h0M978.2 537.6h0M733.4 465.8h0M931 517h0M930.1 549.3h0M831.7 496.4h0M901.5 492.8h0M666.3 504.8h0M857.4 532.7h0M670.4 529.3h0M911.5 555.5h0M828.5 485.8h0M885.2 527h0M735.3 476.6h0M882 457.1h0M765.8 518.1h0M871.4 487.3h0M737.7 498.2h0M689.3 453.7h0M683 443.7h0M700 473.8h0M969.5 507.6h0M987.6 506.6h0M825.8 469.7h0M852.4 541.2h0M899.1 525.7h0M976.9 516.5h0M723 450h0M946.9 508.8h0M887.5 499.9h0M673.5 479.9h0M769.1 516.7h0M695.3 515.5h0M922.5 506.1h0M821.6 483.7h0M999.2 526.2h0M953.3 540.7h0M950 510.2h0M695 497.7h0M662.1 518h0M993.6 509.7h0M942.7 505.2h0M661.5 476.8h0M911.8 526.3h0M731.7 482.4h0M891 533.7h0M674.2 450.3h0M672 459.4h0M739.3 499.1h0M711.7 461.6h0M967.8 502.8h0M855.5 493.5h0M930 506.9h0M907 514h0M938.1 502.5h0M689.3 490.2h0M838.3 508.5h0M950 526.6h0M956.3 521.3h0M951.5 509.6h0M867.5 487h0M996.6 519.1h0M657.3 474.7h0M820.9 536.6h0M708.9 490.2h0M933.8 538.7h0M776.7 522.4h0M822.2 515.5h0M745.6 489.4h0M871.8 462.1h0M728.9 476.7h0M744 511.1h0M975.3 448.2h0M935.9 500.4h0M837.7 504.2h0M709.9 519.3h0M860.4 476.3h0M854.9 494h0M892.1 466.6h0M880.5 491.6h0M778.9 482.3h0M657 507.7h0M724.5 485.6h0M656 493.5h0M671.7 464h0M749.4 498.5h0M700.2 466.7h0M932.9 518.4h0M976.9 505.9h0M976.5 516.1h0M670.9 485.1h0M945.7 525.4h0M665.1 484h0M959.7 512.1h0M708.4 459.2h0M977.6 501.5h0M755.9 478.6h0M871.8 480.6h0M878.7 533.5h0M662.5 505.8h0M763.7 480.6h0M893.8 498h0M900 482.8h0M671.6 474.2h0M889.3 491.4h0M701.5 439.3h0M1003.1 539.7h0M708.1 499.2h0M848.4 462.4h0M754.3 488.3h0M846.4 471.4h0M870.3 483.7h0M943.1 489h0M920.1 479.9h0M868.2 472.6h0M912.9 489.6h0M842.8 463.3h0M657.5 485.7h0M770.1 505.2h0M990.7 470.3h0M903.3 457.8h0M698.4 463.5h0M660.2 469.8h0M662.7 457h0M967.5 509.9h0M981.2 544.9h0M894.1 495.2h0M981.3 529.2h0M764.8 487.7h0M847.8 515h0M909 495.1h0M930.3 495.2h0M877.2 507h0M998.3 541.3h0M773.9 475.7h0M711.9 457.9h0M927 506.9h0M848.2 500.1h0M762.6 490h0M909.3 454.9h0M731.1 475.5h0M915.6 548.2h0M843.6 491.2h0M923.9 476.7h0M703.3 484.3h0M926.5 483.5h0M955.7 494.3h0M756.6 484.9h0M857.9 496.3h0M868 479.1h0M983.5 512.6h0M979.6 488.9h0M673.2 498.7h0M897.1 526h0M833.5 496.9h0M675.6 539.4h0M974.6 509.1h0M991.3 541.7h0M690.7 507.7h0M927.2 522.5h0M984.2 522.8h0M915.6 523.4h0M890.4 513.4h0M766.6 494.4h0M839.5 516.5h0M651.9 492.2h0M739.5 499.7h0M876.8 538h0M895 474.1h0M956.9 499h0M690.2 500.6h0M851.2 519.4h0M698.5 471.8h0M883.4 530.6h0M834.1 513.3h0M658.6 489h0M945.6 534.4h0M899.4 514.5h0M887.9 488.1h0M784.1 498.7h0M914.1 511.8h0M716.8 517.6h0M891.1 507.7h0M732.4 474.5h0M837.5 507.7h0M654.2 478.7h0M690.4 499.4h0M914.3 511.2h0M927.2 456.3h0M941.6 478.2h0M860.7 443.5h0M855 500h0M793.6 458.4h0M874.5 518.2h0M823.8 498.6h0M774 494.8h0M997.4 499.8h0M827 504.7h0M856.6 505.2h0M796.6 515.3h0M714.5 480.4h0M930.4 515.1h0M903.4 487.7h0M703.1 509.4h0M695.9 472.4h0M944.7 515.6h0M732 509.9h0M940.6 507.6h0M973.1 544.9h0M904.8 469.1h0M935.1 541.5h0M895.5 494.8h0M882.5 547.8h0M899.9 483h0M910.6 507.4h0M846.8 511.4h0M991.8 482.9h0M788.5 501.9h0M851.4 490.8h0M830.3 529.3h0M873.5 486h0M884.3 547h0M765.7 499h0M942.1 478.4h0M958.6 464.5h0M884.4 481.5h0M788.9 527.1h0M735.1 479.4h0M700.8 506.9h0M978.6 542.4h0M763.5 453.7h0M927.8 487.6h0M731 497h0M911.3 475.7h0M814 473h0M699 479.6h0M986.8 511.7h0M879.9 472.1h0M669.2 487.2h0M684.2 493.8h0M888.4 480h0M896.7 494.3h0M926.2 526.2h0M935.9 470.8h0M814.3 479.8h0M758.2 443.3h0M762 461.3h0M929.9 506h0M691.3 435.9h0M941 545.3h0M907.5 520.5h0M748.8 500.5h0M882.1 509h0M893.3 479.6h0M916.5 530.2h0M764 459.4h0M969.3 536.4h0M752.5 469.6h0M749.8 462.9h0M741.1 470.1h0M981.3 517.2h0M758.4 512.8h0M982.8 498.4h0M979.8 538.4h0M932.1 551.7h0M958.5 509.6h0M747.7 452.7h0M698.4 463h0M870.2 461.8h0M749.9 527.5h0M705.7 475h0M903.2 530.6h0M982.5 506.6h0M895 486.4h0M755.5 451.9h0M946.6 515.5h0M947.6 502h0M848.1 533.4h0M692.8 482.7h0M727.9 483.9h0M967.8 460.4h0M922.7 455.1h0M955.9 517.8h0" stroke="#e8232b" stroke-width="2" stroke-linecap="round" fill="none"/>
<path d="M828.1 494.8h0M741.9 510.5h0M991.3 508.9h0M702.5 479.3h0M775 516.5h0M801.9 525.4h0M768.5 506.7h0M927.8 484.9h0M1004.6 510.8h0M728.2 490.3h0M818.6 506.2h0M772.3 487.4h0M802.1 458.2h0M951.6 523.1h0M981.9 534h0M692.3 453.1h0M671.3 484.9h0M964.5 496.1h0M753.7 476h0M775.4 486h0M790 492.3h0M902.8 531h0M1003.3 510.1h0M718.4 491.6h0M743.6 486.2h0M673.7 505.4h0M788.4 474.8h0M701.5 441.3h0M798.9 476.7h0M957 523.4h0M877 493.3h0M989.5 467h0M724 492h0M719.6 481.5h0M885.6 462.9h0M689.9 511h0M729.5 514.8h0M661.4 526.5h0M924.8 496.8h0M802.4 500.6h0M774.3 483.9h0M951 496.9h0M725.6 513h0M777.8 498.5h0M798.2 481h0M809.1 467.2h0M1001.7 492.1h0M788 476.3h0M903.3 526h0M944.1 535.7h0M696 485.7h0M990.8 531.5h0M750.8 505.2h0M690.5 495.7h0M757.8 475.2h0M717.1 472.6h0M768.3 502.8h0M780.3 475h0M918.5 487.4h0M657.4 502.5h0M967.5 521.1h0M792.2 479.1h0M785.8 489.2h0M674.7 473.4h0M692.1 520.2h0M674.1 479.3h0M780.7 476.6h0M795.5 499.4h0M715.6 437.9h0M692 510.4h0M974 527.7h0M795 493.1h0M1000.9 522.4h0M835.6 499.1h0M968.1 505.2h0M653.2 487.4h0M915.5 498.8h0M915.3 496.9h0M724.7 500h0M953.6 527.5h0M818.8 436.8h0M884.4 493.9h0M707.8 502.5h0M678.3 461.9h0M683.8 468.6h0M846.2 495.7h0M777.4 508.5h0M811.5 469.5h0M748.5 447.9h0M816.2 485.8h0M668.1 485.6h0M771.9 470.2h0M675.3 513.4h0M711.1 500.1h0M986 469h0M871 488.9h0M681.2 475.7h0M756 452.2h0M883.4 530.6h0M970 490.1h0M821.6 526.2h0M745.6 487h0M715.5 478.5h0M838.9 498.9h0M904.4 490.8h0M815.8 475.2h0M816.4 466.7h0M778.7 472.4h0M724.2 471.4h0M744.7 487h0M695.1 499.7h0M794.9 517.9h0M692.5 501.2h0M766.8 495.9h0M662.6 460.9h0M978.9 523.3h0M805.7 500.4h0M689.8 449.7h0M982.4 492.6h0M781.5 485.8h0M757.1 464.1h0M735.3 477.8h0M954.8 529.2h0M670.2 473.5h0M788.3 466h0M745.9 500.9h0M767 493.9h0M813.7 458.1h0M678.7 499.3h0M766.6 507h0M667.4 479.3h0M677.9 482.1h0M728.5 511.8h0M982.5 524.7h0M780.4 470.4h0M994.5 510.6h0M756.5 500.5h0M925.5 565.9h0M961.9 535.8h0M743.1 514.4h0M695.5 503.9h0M761.5 474.7h0M812.1 524.6h0M714.5 520.1h0M747.1 492.2h0M798 479.4h0M902.3 522.2h0M952.1 502.5h0M820 487.2h0M683.1 514.2h0M925.5 505.1h0M763.2 490.4h0M793.2 475.8h0M701.1 477.3h0M780.2 470.3h0M922.7 498.8h0M999.1 499.7h0M790 485.7h0M809.9 483.6h0M807.5 494.3h0M762.6 469.6h0M800.4 462.4h0M761.8 540.3h0M863.3 475.4h0M834.9 519.7h0M943.4 513.5h0M995.9 526.9h0M728.5 489.9h0M846.5 503.4h0M714.2 463h0M797.7 468.8h0M733.6 448.3h0M803.9 492.4h0M810.3 482.8h0M955.6 507h0M969.5 503.7h0M761.5 492.3h0M905.8 520.8h0M742.8 480.8h0M807.4 524.8h0M782.4 508h0M740.7 474.1h0M794.4 468.7h0M676.4 463.2h0M754 513.4h0M697.7 502.1h0M776.8 480.5h0M791.4 475.3h0M782.9 486.3h0M679 537.5h0M741 509.8h0M817 479.3h0M769.5 520h0M711.1 440.8h0M836.3 494.5h0M868 495.4h0M954.7 492h0M677.4 513.9h0M1000.4 508.8h0M991.8 497.8h0M831 489.1h0M789.8 477.8h0M989.5 512.6h0M830.2 491.5h0M704.9 505.5h0M803.6 475.9h0M717.6 484.5h0M960.6 481h0M785.7 518.4h0M760.1 462.2h0M951.4 527.2h0M795.2 472.5h0M954.3 531h0M698.3 468.9h0M794.5 490.4h0M775.3 498.6h0M798 487h0M899.6 483.3h0M734.8 513.3h0M732 496h0M829.4 510.1h0M957.5 447h0M748.1 476.1h0M833.8 510.8h0M969.5 504.9h0M749.7 467.8h0M820.1 492.2h0M808.3 493.8h0M768.7 471.6h0M786.6 492.7h0M836.4 476.5h0M706 453.4h0M803 492.5h0M776.9 484.1h0M828.7 502.5h0M693.2 494h0M808.4 496.9h0M983.7 468.2h0M947.1 487.9h0M852.1 525.2h0M806.2 520.6h0M956.8 514.3h0M709.7 490.6h0M768.8 453.4h0M680.8 483.3h0M872.5 493.4h0M660.6 483.7h0M695.8 482.3h0M899.4 518.8h0M882.5 454.8h0M950.4 514.2h0M714 475.4h0M977.4 501.8h0M817.4 463.1h0M790.1 511.9h0M841.4 499.7h0M778.1 488.1h0M959.9 488.7h0M978.6 517h0M1001 481.1h0M976.3 513.1h0M962.9 483.6h0M960.8 487.3h0M723.3 474.4h0M834.1 487.2h0M780.3 543.9h0M653.1 487.2h0M819.4 492.2h0M875.9 508.5h0M807.4 490.7h0M733.5 444.4h0M834.7 518.6h0M991.4 518.4h0M742.4 509.3h0M791.3 502.4h0M702.7 510.3h0M691.1 470.1h0M789.5 489.9h0M765.8 510.3h0M996.6 501.1h0M992.2 538.5h0M769 502.8h0M809.7 523.1h0M837.2 485.1h0M768.5 474.9h0M949.8 531.6h0M771.6 503.9h0M687.6 491.2h0M804.2 493.5h0M976.6 489.9h0M991.1 514.3h0M685.6 474.3h0M802.2 493h0M796.1 505h0M897.9 494.9h0M728.3 535.4h0M832.8 475.1h0M793.4 495.1h0M754.6 492.8h0M822.9 522.6h0M867.9 523.5h0M802.7 469h0M708.1 477.8h0M742.6 501.8h0M824.8 513.4h0M861.4 470.5h0M904.7 465.7h0M877.5 493.4h0M815.6 533.5h0M788.3 475.6h0M843.7 560.9h0M728.8 513.8h0M953.4 508.4h0M802.7 481.2h0M832 508.7h0M799 506.3h0M820.9 476.8h0M804.9 490.1h0M887.9 457.2h0M963.4 502.8h0M665.2 537.2h0M890.8 514.9h0M966.8 493.7h0M996.1 516.3h0M803.7 489.5h0M732.7 461.6h0M766.3 480.6h0M826.1 487.9h0M801.5 490.4h0M758.2 492.2h0M752.9 457.7h0M900.3 453.5h0M673.9 503.3h0M715.1 494h0M893.5 500.8h0M757.3 484.9h0M953.2 514.7h0M799.9 464.7h0M830.7 479.9h0M826.6 504.8h0M664.7 474.4h0M982.7 498.1h0M794.6 474.9h0M755.5 500.2h0M798.2 474.6h0M919.7 501.6h0M696 490.6h0M662.5 501h0M770.6 479.6h0M835.4 472.7h0M892.6 502h0M805.5 481.6h0M771.7 502.5h0M964.7 483.7h0M828.3 482.9h0M796 460.8h0M659.8 488.4h0M962.6 523.8h0M826.5 516.3h0M789.6 503h0M781.3 512.3h0M791.7 498.6h0M825.1 489h0M775.4 487.7h0M981.3 534.7h0M769.1 472.2h0M957.4 513.3h0M966.3 517h0M960 517.7h0M965.4 488.2h0M757 523.3h0M920.3 544.8h0M669.6 464.5h0M818.7 494.8h0M672.8 496.6h0M999.3 492.2h0M655.9 486.7h0M837.9 495.6h0M961.9 455.5h0M805.1 506.2h0M840.6 464.8h0M821.2 522h0M978.9 546.2h0M690 485.6h0M801.5 519.4h0M699 512h0M893.9 471.9h0M716.7 513.8h0M773.3 482.6h0M955.3 460.4h0M984.1 476.4h0M838.6 479.1h0M808 500.6h0M927.8 495.6h0M889 475.6h0M739.4 478.8h0M983.8 511.5h0M780.6 473.9h0M815.2 513.5h0M781.6 498.4h0M795 481.2h0M899.1 506.4h0M715.8 484h0M730.3 548.6h0M970.6 502.1h0M996.7 499.3h0M789.7 487.2h0M696.8 437.4h0M765.6 472.8h0M907.1 528.6h0M1001.3 563.7h0M698 501.2h0M751.9 471.3h0M949.6 490.4h0M785.5 526.1h0M806.3 482.9h0M658.5 484.7h0M717.9 505.1h0M821.7 479.8h0M700.3 491.8h0M957 515.1h0M787.9 518.4h0M952.2 536.8h0M768 497.8h0M784.1 494.9h0M781.3 495.4h0M766.4 496.8h0M789.6 477.1h0M956.7 508.5h0M659.7 461h0M725 472.5h0M789.9 511.8h0M768.7 477.3h0M834.8 521.5h0M783.5 498.7h0M766.9 483.3h0M660.7 470.8h0M968.3 481h0M947.9 475.6h0M711.2 496.1h0M816 480h0M788.2 482.5h0M943.4 488.2h0M827.1 503.8h0M744.2 474.9h0M736 469.8h0M770.6 503.2h0M1002.7 505.5h0M918.1 511.2h0M791.2 500.5h0M741 512.9h0M985.9 510.3h0M867.1 489.8h0M820.1 537h0M839.9 508.6h0M811.9 527.5h0M818.1 528.5h0M802.7 526.2h0M804.4 478h0M657.1 492.3h0M773.8 491.4h0M869.5 466.7h0M725.5 475.9h0M663.5 467.8h0M790.8 477.1h0M720.8 482.2h0M919.8 510.7h0M808.6 492.8h0M867.4 472.7h0M800.1 505.4h0M932.7 500.9h0M704.6 469.6h0M823.2 494.2h0M978.4 508h0M775.4 494.1h0M897.1 486.9h0M841.1 509.5h0M688.7 457.5h0M757.9 477.6h0M968.6 492.3h0M685.7 471.8h0M957.5 523.2h0M745.7 491.9h0M875.8 513.5h0M1002.7 515.4h0M759.4 493.1h0M999.3 485.9h0M779.6 471.5h0M954.7 491h0M777.6 469.5h0M997.6 522.9h0M777 475.6h0M671.1 475.8h0M837.9 462.3h0M704.1 497.9h0M770.2 499.4h0M861.1 474.6h0M982.6 536.9h0M714.8 496.5h0M762.3 491.4h0M812.9 484.2h0M730.4 453.2h0M746.4 537.9h0M956.3 496.9h0M674.2 498.2h0M1005.3 469.1h0M969.5 474.5h0M975.4 499.9h0M872.7 496.4h0M807.6 500.5h0M739.6 460.1h0M743.4 503.7h0M690.1 478.5h0M669.1 474.9h0M697.9 447.6h0M822.6 483.9h0M804.6 482h0M771 494.6h0M843.8 495.5h0M991.7 541.7h0M811.3 516.9h0M828.6 506.9h0M747.3 525.4h0M866.9 475.6h0M805.6 495.7h0M966.2 472.5h0M831.2 476.5h0M717.4 470.8h0M976.5 527.6h0M772.8 480.9h0M661.9 483.4h0M792.3 484.2h0M973 538.5h0M954.1 513.1h0M792.2 486.6h0M788.1 498.2h0M791.8 496h0M797.3 527h0M959.1 501.1h0M668.3 451.2h0M767.3 464.3h0M806.1 466.5h0M731.6 505.2h0M746.6 476.9h0M811.6 454.7h0M814 508.3h0M971 543.6h0M797.4 520.6h0M936.5 494.7h0M745.3 461.1h0M659.3 485h0M761 504.8h0M970.7 495.9h0M954.3 522.3h0M951.9 455.7h0M832.4 487.1h0M810.9 508.7h0M755.8 458.2h0M676.9 490.8h0M796.6 492.5h0M824.2 493.6h0M773.5 452.2h0M797.5 480.8h0M664.8 493.8h0M739.7 502.2h0M811 451.7h0M708.2 493.3h0M777.9 483.3h0M841.7 508.1h0M789.8 456h0M758.6 502.8h0M686.2 474.8h0M945.4 543.6h0M666.8 515.3h0M882.2 523.9h0M868 513.5h0M773.2 466.6h0M809.5 427.8h0M953.5 537.1h0M959.7 502h0M743.4 477.4h0M689.6 476.8h0M810.2 463.6h0M913.8 516.6h0M796.7 503.4h0M978.5 498.3h0M962.6 505.4h0M738 495.5h0M799.9 490h0M702.7 496.3h0M949.2 502.3h0M795.4 508.8h0M947.8 496.3h0M727.3 457.2h0M843.2 516.1h0M663.6 489.5h0M987.7 494h0M800.7 527.2h0M697.1 509.3h0M994.1 483.9h0M996 519.6h0M813.7 518.5h0M960.7 538.7h0M782.1 476.4h0M660.5 468h0M683.3 457.6h0M887.9 516.3h0M724.2 529.7h0M820.6 523.2h0M753.1 475.8h0M992.5 494h0M819.1 519.6h0M810.8 484h0M810.3 502.1h0M656.1 489.6h0M931.1 488.9h0M956.4 559.1h0M703.7 480.5h0M696.6 478.7h0M951.5 517.8h0M696.3 479.4h0M787.8 518.9h0M966.2 542.4h0M669.5 481.5h0M752.4 436.4h0M925.6 545.9h0M891.2 498.6h0M765.4 496.5h0M959.6 530.3h0M803.1 474.2h0M777.5 498.2h0M887.2 464h0M786.9 514.3h0M691.1 484.3h0M699.9 445.7h0M897.2 483.4h0M676.2 473h0M697.5 461.2h0M961.9 512.5h0M797.8 499.6h0M956.6 504.6h0M798.4 479.2h0M777.5 469.1h0M983.5 485.5h0M793.3 469.8h0M792.1 467.3h0M727.4 492.3h0M871.3 499.1h0M984.8 520.8h0M684.5 489.6h0M994.8 514.3h0M714.5 459h0M794.7 497.9h0M749.1 486h0M978.2 509.6h0M932.8 507.6h0M730.1 471.5h0M779.7 477.1h0M999 514.4h0M801 494.8h0M799.6 481.1h0M679.3 486h0M808.9 521.6h0M746 515.1h0M713.7 488.3h0M803.4 493.4h0M679.1 488.6h0M998.9 479.5h0M961.8 453.2h0M770.9 493.3h0M709 522.4h0M675 479.7h0M839.1 478.7h0M779.8 506.1h0M662.7 472.8h0M715.5 507.8h0M812.8 471.9h0M709.7 445h0M719.4 445.5h0M687.8 450.6h0M778.2 461.6h0M947.5 496.6h0M694.3 514.3h0M789.5 514.9h0M792.5 498.4h0M664 483.9h0M840.9 500.5h0M657.8 487.2h0M667.2 497.1h0M731.9 486.3h0M878.4 513.8h0M922.6 497.8h0M741.4 504.5h0M912.9 528.8h0M798.8 508.9h0M821.5 479.2h0M792.5 494h0M978.2 499.9h0M862.1 542.9h0M788.3 527.7h0M815.3 502.5h0M760 478.7h0M993.8 522.4h0M807.2 508.8h0M687.1 442.4h0M736.4 473.4h0M921.6 507.6h0M709.6 497.6h0M990.2 499.9h0M854.6 455.1h0M804.2 533.4h0M778.3 520.5h0M991.8 540.8h0M740.7 475.2h0M728.1 450.9h0M707.3 485.5h0M971 515.2h0M829.1 486.4h0M689.4 450.1h0M1001.2 522h0M868.6 517.1h0M831.1 500.8h0M677.1 468.8h0M824.5 497.5h0M958.3 496.2h0M814.9 489.1h0M955.1 514.2h0M725.6 496h0M987.9 534.7h0M744.4 516.4h0M1002.4 549.4h0M791.8 495.8h0M704.8 503.1h0M737.2 485.2h0M799.4 484.3h0M818.4 502.1h0M771.5 493.9h0M737.8 466.4h0M721.3 508.5h0M728.3 496.2h0M756.7 504.9h0M947.2 496.9h0M968.6 503.1h0M759.9 488.7h0M937.3 520.1h0M955.5 465.9h0M791.4 441h0M812.3 475.3h0M989.9 513.5h0M738.7 473.3h0M840.7 521.4h0M733.1 470.7h0M775.7 477.2h0M668.3 500.5h0M722.6 451h0M849.7 482.6h0M788.5 466h0M806.5 467.9h0M715.1 463.2h0M962.2 509.6h0M998.7 520.1h0M736.1 519.3h0M803.2 491.1h0M777.5 504.4h0M834.6 489.4h0M987.1 487.1h0M795.1 505h0M961.4 498.6h0M800.3 499.1h0M706.2 487.8h0M937.9 498.2h0M987.8 506.3h0M672.9 504.1h0M857.7 486.8h0M952.5 495.1h0M836.3 488.1h0M675.1 485.6h0M823 489.5h0M818.9 512.1h0M653.3 496.4h0M701.5 469.9h0M832.5 510h0M786.4 487.8h0M982.5 494.9h0M709.8 497.5h0M762.7 472.8h0M657 483.5h0M666.3 485.3h0M790.8 468.6h0M682.8 510.3h0M699.4 492.2h0M780.3 476h0M663.2 468.9h0M893.6 503h0M804 466.3h0M671.9 477.4h0M809.3 486.9h0M787.7 509.3h0M789.1 487.3h0M828.3 501h0M846.7 495.3h0M796.2 498.8h0M797 504.2h0M741.4 540.3h0M790.3 475.3h0M804.9 496h0M811.8 460.9h0M994 499.5h0M825.8 529h0M901 517.3h0M827.8 500.9h0M834 508h0M658.1 519.5h0M802.8 524.9h0M1000.2 482.4h0M989.1 498.3h0M800 519.1h0M734.6 455.6h0M833.6 488h0M848.8 504.6h0M871.7 518.3h0M784.4 469.5h0M994.1 531.1h0M807.9 509.2h0M817.3 509h0M961.9 486.6h0M719.3 472.7h0M759.9 509.1h0M974.8 521.8h0M873.2 529.4h0M832.4 471.4h0M663.8 454.5h0M718.1 497.5h0M784.1 489.6h0M706.4 500.7h0M954.6 555.2h0M796 532.4h0M839.7 508.2h0M806.9 525.8h0M755.7 469.6h0M837.6 503h0M763.7 477.7h0M912.8 477.9h0M862.8 512h0M990.1 476.4h0M659.7 479.4h0M984.2 506h0M709.9 493.8h0M951.3 552.2h0M973.9 526.9h0M784.4 503h0M968.5 518.6h0M871.3 522.9h0M821.5 504.2h0M803.6 483.7h0M998.9 475.3h0M708.4 480.4h0M830.9 515.1h0M732.8 453.3h0M971.9 513h0M728.4 483.3h0M848.7 499.6h0M851.3 493.5h0M780.3 502.1h0M804.3 518.2h0M655.9 480.7h0M988.4 488.6h0M780.1 512.4h0M982 492.6h0M807.8 478.8h0M841.6 542.7h0M1003 544.4h0M971.9 539.8h0M945 475h0M999.8 502.1h0M823.4 527.2h0M993.3 526.4h0M1002.8 496.5h0M840.2 508.9h0M729.5 486.3h0M772.3 489h0M888.3 493.1h0M672.5 466h0M766.9 504.8h0M907 524.2h0M806.4 505h0M794.8 494.7h0M794 500.1h0M829.1 511h0M705.6 492.6h0M685.7 490.8h0M823.9 494.3h0M790.5 508.7h0M700.1 534h0M806.5 489.9h0M953.5 492.6h0M968.9 462.7h0M736.7 474.6h0M777.3 509.6h0M690.5 504.1h0M829.2 488.6h0M667.6 499.3h0M759.5 488.1h0M811.6 481.6h0M956.4 531.3h0M780.1 455.6h0M725.4 493.2h0M780.1 473.3h0M802.4 477h0M874.7 524.6h0M670.7 504h0M720.7 505.5h0M907.9 526.5h0M830.6 493.4h0M786.5 516.9h0M777.8 515.3h0M752.7 500.9h0M817.1 476.1h0M923.6 518.4h0M851.2 499.6h0M965.5 490.3h0M813 453.2h0M801.4 503.6h0M785.4 481.1h0M793.5 488.4h0M976.9 553h0M734.9 481.1h0M696 484.4h0M743.5 487.5h0M741.4 518.7h0M806.5 486.6h0M770.9 487.2h0M974.5 493.4h0M895.8 498.1h0M740.9 469.5h0M788.3 495.1h0M768.9 478.6h0M768.4 482.5h0M697 477.7h0M768.4 512.2h0M741.9 473.9h0M822.2 477.8h0M797.1 481.8h0M799.2 490.4h0M800.5 469h0M702.6 478.2h0M760.7 470.7h0M667.2 487.6h0M810.1 467.6h0M727.6 468.5h0M707.7 455.4h0M836.6 493.3h0M728.2 462.7h0M821.1 484.7h0M809.7 443.2h0M666.4 476.6h0M791.7 468.7h0M762.5 457.7h0M684.6 467.1h0M966 506.7h0M964.3 514.1h0M654.9 480.4h0M722.7 464.4h0M667.8 454.6h0M807.1 526.5h0M777.7 490.9h0M925.8 516.4h0M665 481h0M776.1 487h0M863.4 522.3h0M831.1 471.1h0M794.9 519.9h0M839.7 480.5h0M898 494.3h0M831.8 486h0M778.3 477.5h0M731.1 445.9h0M727.2 469.6h0M739.7 440.5h0M794.7 522.1h0M969.1 527.1h0M942.9 524h0M980.6 498.5h0M791.1 499.9h0M1000 512.2h0M956.2 466.4h0M950.6 526.5h0M788.6 476.8h0M805.4 481.5h0M688.9 454.1h0M813.1 483.8h0M858.8 476.9h0M914.5 478.3h0M986 504.6h0M787.3 491.9h0M716.6 492.3h0M697.7 486.8h0M677.5 502.9h0M919.2 482.1h0M804.6 464h0M811.8 481.9h0M725.3 513.6h0M796.1 495.1h0M736 522.2h0M781.1 504.5h0M739.3 494.5h0M804.8 508.9h0M890 494.5h0M787.2 522.6h0M963.7 537.7h0M999.1 513.1h0M978.8 461.3h0M786.1 469.1h0M689 497.3h0M992.2 521h0M906.3 497.5h0M718.9 503.5h0M976 520.2h0M1003 511.9h0M670.3 510.4h0M797.7 511.9h0M805.2 470.9h0M666.4 471.4h0M995.8 525.2h0M835.9 488.1h0M983.1 493.2h0M723 466.9h0M966.2 540.3h0M785.4 516.2h0M683.9 510.7h0M968.8 540.5h0M830.9 429.4h0M743.6 459.1h0M680.2 439h0M797.2 503.4h0M789.8 501.8h0M799.1 530.3h0M838.9 474.7h0M796 492.3h0M726.5 460.6h0M724.4 482.7h0M780.3 491.4h0M719.4 475.7h0M806.4 508.6h0M794.6 501.3h0M832.1 523.3h0M1003 532h0M790.5 513.1h0M789.5 469.9h0M827 505.1h0M748.2 454.7h0M836.5 482.8h0M818.9 501.9h0M844 470.1h0M693.4 520.1h0M853.8 541.6h0M796.8 518.5h0M813.1 460.4h0M806.7 514.8h0M890.3 513.4h0M822.4 510.4h0M971.7 475.9h0M751.5 471.7h0M751.8 526.1h0M751.1 510.4h0M715.4 465.2h0M755.9 489.5h0M827.2 479h0M1002.2 511h0M975.1 506.5h0M898.8 465.8h0M719.6 478h0M825.6 525.4h0M809.7 466.6h0M672.2 490.2h0M778 516.2h0M770.1 535.1h0M698.1 444.5h0M827.7 525.7h0M670.5 477.3h0M705.5 477.1h0M661.6 444.3h0M668.5 534.9h0M949 512.1h0M989.2 501.2h0M933.3 490.6h0M965.3 513.6h0M762.3 472.6h0M988.7 490.2h0M685.1 492.4h0M818.6 512.4h0M725.6 447.4h0M742.9 494.6h0M778.6 505.9h0M755.6 521.2h0M918 501.5h0M683.7 463.4h0M790.3 516.9h0M967.1 546h0M997.7 511.7h0M826.1 540.8h0M900.8 478h0M703.9 462.3h0M758.9 492.3h0M845 486.3h0M756.6 491.5h0M897.2 488.9h0M938.8 524.5h0M962 475.8h0M782.4 468h0M955.5 533.8h0M891.9 492.4h0M800.9 458.5h0M710.2 513.6h0M959.4 517.6h0M779.6 506.7h0M753.4 529.7h0M767.1 512.7h0M826.7 508.2h0M658.3 478.5h0M778.7 478.3h0M866.8 526.1h0M670.5 475.2h0M977 518.6h0M800.5 489.1h0M819.1 500.6h0M777.6 502.3h0M808 496.6h0M771.4 458.1h0M752.5 470.5h0M785.4 467.1h0M841.4 461.5h0M973.8 502.8h0M788.7 480.3h0M736.8 502.5h0M674.4 482.2h0M973.8 491.3h0M836.4 510h0M681.4 474.5h0M762.1 491.4h0M1001.7 549.1h0M790.3 437.1h0M802.2 521.6h0M967.3 528.1h0M768.2 461.5h0M957.3 519.7h0M748.1 470.9h0M669.8 463.2h0M727 474.5h0M776.2 529.3h0M772 486.4h0M701.4 489.7h0M907.1 480.1h0M999.8 526h0M892.7 503.4h0M831.8 498.8h0M891.9 494.5h0M775.8 501.4h0M807.2 487.6h0M816.2 460.9h0M707.4 496h0M1005 530.1h0M793.4 492.4h0M799.4 503.2h0M849.3 503.5h0M962.3 485.8h0M745.7 475.3h0M773.8 499.5h0M757.5 478.4h0M831.6 511h0M793.5 523.3h0M706.1 501h0M856.2 481.9h0M829 487.3h0M1006.8 502.9h0M666.1 493h0M812.1 494.3h0M687 528.8h0M676.9 480.6h0M960.6 481.4h0M807.8 512.2h0M788.3 472.7h0M731.9 474.5h0M728.5 458.2h0M754.4 480.6h0M787 493.1h0M787.3 498h0M675.1 468.7h0M850.3 495.3h0M971 484.7h0M747.7 493.7h0M712.7 510.9h0M704.1 484.7h0M1000.2 527.4h0M816.8 502.5h0M959.5 510.5h0M715 491.8h0M983.3 451.5h0M889.3 524.6h0M752.1 449.7h0M804.2 496.6h0M956.4 485.7h0M983.6 481.1h0M810.3 484.1h0M735.9 491.1h0M792.4 474.8h0M710.7 490.6h0M855.8 488.5h0M703.5 465.7h0M659.4 501.4h0M754.1 483.1h0M780.4 484h0M692.3 481.7h0M752 501.5h0M913.4 530.3h0M703 452.6h0M676.6 478.2h0M823.8 451.2h0M913.9 487.5h0M976.8 487.9h0M787.6 494.4h0M843.6 487.2h0M796.8 488.4h0M754.3 488.1h0M951.1 517.4h0M837.2 520.7h0M776.1 505h0M796 498.1h0M699.4 507.1h0M791.1 505.2h0M1004.9 508.5h0M779.3 478.9h0M825.4 479.5h0M654.8 501.7h0M948.9 480.2h0M748.7 497.5h0M787.9 493.8h0M692.8 465.4h0M979 478.6h0M741.5 437h0M769.4 491.5h0M744.1 448h0M723.1 475h0M913.5 568.2h0M970.1 507h0M675.1 493h0M784.7 483.2h0M788.8 481.1h0M983 542.4h0M806.6 470.6h0M848 536.1h0M734.8 456.5h0M760.3 494.8h0M701.1 466.5h0M733.9 490.9h0M781.3 536.8h0M797.8 537.3h0M734.1 495.3h0M741.8 504h0M986.3 533.1h0M814.7 518.1h0M774.8 455.6h0M784.2 479.6h0M843.6 492.8h0M711.4 468.7h0M812.5 483.5h0M672.2 492h0M739.3 489.4h0M759.3 502h0M916.9 511.2h0M731.1 482.6h0M846.9 472.2h0M801.1 519.9h0M1002 562.1h0M786.2 485.9h0M727.9 471.7h0M919.3 505h0M941 504.9h0M789.2 474h0M800.6 489.4h0M756.7 490.1h0M710.3 494.7h0M838.9 494.1h0M982.3 517.4h0M949.6 458.1h0M685.6 447.4h0M721.2 459.2h0M940.9 502.7h0M965.9 539.3h0M692.5 516.4h0M669.3 474h0M664.4 448.7h0M779.9 471.5h0M701 479.7h0M972.2 508h0M766.8 516h0M806.2 524.8h0M753.9 493.9h0M784.6 477.7h0M797.3 478.6h0M986.1 529.6h0M908 479.8h0M770.6 469.4h0M797.7 452.8h0M693.1 431.4h0M690.5 482.8h0M991 503.1h0M688.9 456.2h0M928.9 504.9h0M809.8 522.2h0M789.6 482.5h0M961.9 543h0M651.2 475.2h0M783.2 467.9h0M674 481.3h0M700.4 489h0M797 510.8h0M806 498.5h0M654.1 490.1h0M673.5 473.5h0M675.9 488.2h0M687.4 463.3h0M800.5 486.7h0M852 454.6h0M773 504.5h0M743.6 483.2h0M761.9 477.3h0M988.1 494.3h0M965.4 522.5h0M664.8 504.4h0M731.5 495.7h0M967.4 525.5h0M809.5 472.9h0M786.5 466.6h0M692.9 486.7h0M965.6 503.5h0M813.9 505.9h0M782.6 460.3h0M778.3 501.7h0M801.6 493.4h0M955.6 479.9h0M831.8 489.7h0M690.3 490h0M875.7 493.6h0M949 505.2h0M804 490.1h0M984.5 490.1h0M967.3 520.6h0M674.6 475.4h0M724.8 487.8h0M1002.2 521.2h0M820.5 492.2h0M742.4 511.1h0M839.5 507.7h0M983.9 502.1h0M772.7 495.1h0M741.6 507.6h0M945.2 508.4h0M991.9 527.8h0M915.1 530h0M809.9 506.7h0M764.5 495.3h0M798.8 516.6h0M720.1 485.5h0M669.9 470h0M949.5 472.3h0M838.4 518.6h0M714.3 499.1h0M966.1 512.5h0M722 473.6h0M996.3 507.1h0M707.5 477.7h0M863.7 504h0M813.4 514.8h0M809.7 496.5h0M968 480.2h0M825 502h0M977 481.1h0M1003.6 509.7h0M817.4 467.1h0M695.7 462.6h0M976.4 505.9h0M795.7 466.6h0M708 476.5h0M673.4 472.1h0M793.1 493h0M771 475.7h0M685.8 486.3h0M989.8 496.6h0M673.4 475.6h0M818.3 477.5h0M983.7 529.9h0M831.3 475.1h0M757.9 494.8h0M736 466.4h0M990.5 518.8h0M769.8 489.4h0M777.7 489.1h0M822.9 511.2h0M806.5 500.1h0M907 505.6h0M701.6 515.2h0M991.2 496.4h0M782.6 493.5h0M991.6 524.9h0M768.3 476.5h0M821.6 488.8h0M872.2 485.4h0M836.9 517h0M798.6 506.6h0M861.9 500.2h0M792.8 527h0M718.3 487.6h0M738.5 497.7h0M686.4 503.1h0M799.8 487.8h0M773.9 509.3h0M992.5 505.2h0M685.6 472.4h0M712.3 477.6h0M990.6 519.8h0M828.9 483.9h0M773.8 480.9h0M799.4 507.2h0M1002.5 502.5h0M833.9 492.1h0M814 510.7h0M830.3 483.3h0M912.6 449.8h0M964.1 501.6h0M739.2 463.2h0M969.9 526.3h0M723.3 487.4h0M707.8 477.9h0M675.2 473.7h0M821.5 468.6h0M806.2 484h0M961 503.6h0M732.2 498h0M719.7 482.2h0M653.6 459.5h0M762.6 487.9h0M759.2 523.1h0M728.1 497.9h0M771 522.4h0M858.5 470.6h0M964.5 483h0M791.9 493.1h0M820.2 464.9h0M776.6 476.5h0M658.7 482.6h0M932.8 509.2h0M742.7 519.3h0M793.3 465.7h0M898.1 497.8h0M721 506.1h0M824.4 487.5h0M783.6 490.1h0M950.7 486.3h0M816.7 509.5h0M958.9 490h0M683.5 471.2h0M718.4 502.5h0M966.9 490.4h0M729 479.1h0M682.1 482.1h0M785.4 513h0M683.2 475.3h0M799.4 469.7h0M735.3 517.2h0M808.9 494.4h0M700.4 456.5h0M792.1 551.4h0M807.8 491.1h0M723.8 473.5h0M769.1 490.8h0M830.7 490.6h0M990.3 524.5h0M692 508.6h0M950.3 516.3h0M830.3 461.7h0M795.8 472.1h0M778.9 465.9h0M810.3 483.4h0M794.5 487.4h0M677.9 474.9h0M720.1 515.2h0M736.9 482.5h0M843.6 521.8h0M953 500.6h0M754.5 486.4h0M897.9 507.9h0M966.9 480.8h0M782.1 497.3h0M665.2 477.4h0M718.3 488.1h0M837.2 475.8h0M683.1 523h0M686.7 494.9h0M672.5 456h0M685.6 493.4h0M807.4 468.6h0M818.5 505.4h0M827.1 473.3h0M790.6 513.5h0M990.2 515.9h0M788 490.1h0M907.1 488.2h0M813.7 484.4h0M686.9 494h0M810.7 472.1h0M694.4 496.7h0M950.2 515.4h0M672.2 463.8h0M994.1 525.5h0M663.3 484.3h0M828.7 527.6h0M834.5 501h0M954.9 508.6h0M814.5 484.5h0M674.4 448.4h0M762.5 500.9h0M748.1 489h0M719.1 497.7h0M945.4 483.1h0M761.3 472.8h0M738.9 506.5h0M806.8 446.2h0M835.4 503.8h0M669.9 476.6h0M705.2 457.1h0M761.8 526h0M681.2 486.6h0M699.9 508.2h0M873 494.9h0M776.7 477.5h0M887.4 466.7h0M959.5 528.5h0M768.9 477.6h0M668.2 467.7h0M797 443.3h0M685.4 480.1h0M796.7 503.6h0M974.2 501h0M705.1 455.5h0M695.2 487.2h0M990.4 513.9h0M805.8 513.2h0M948.5 491.1h0M803 540.8h0M745.7 461.7h0M662.6 481.8h0M967.7 517.7h0M774.6 463.7h0M795.3 473.5h0M760.1 497.6h0M972.7 494.1h0M782.2 481h0M774.2 503.2h0M826.9 502.3h0M777.7 511.2h0M936.4 543.7h0M699.9 448.8h0M685.2 484h0M965.7 515.6h0M815 497.6h0M774.3 507.7h0M852.1 486.8h0M982.3 511h0M690.9 511h0M771.2 488.7h0M923.2 494.2h0M860.8 507.9h0M975 527.6h0M784 491h0M954.1 477.1h0M954 517.6h0M740.2 503.8h0M763.9 472.2h0M885.6 498.4h0M692.1 448.2h0M780.6 547.5h0M993.5 515.3h0M761.7 500.2h0M759.4 455.9h0M944.4 518.2h0M739.6 475.9h0M975.5 475.2h0M684.1 482.8h0M813.5 505.3h0M955.5 481.9h0M806.9 486.6h0M765.9 461.7h0M998.3 516.5h0M665.8 468.3h0M677.5 476.3h0M918.3 483.1h0M707.8 504.3h0M867.6 530.2h0M779.6 494.1h0M998.5 524.4h0M776.7 486.6h0M790.4 476h0M659.1 451.1h0M762.4 477.5h0M717.9 479.9h0M850.2 468.7h0M666 493.5h0M767.2 475.9h0M797.5 483.5h0M1000.5 481.9h0M684.4 507.7h0M973.6 494.6h0M897 524.2h0M756.7 490.2h0M826.9 515.7h0M734.3 519.4h0M820.4 501.6h0M796.3 493.3h0M985.6 524.8h0M751.4 500.1h0M681.3 495.6h0M798.2 527.9h0M692.4 474.4h0M683 499.6h0M794.5 467.3h0M771.4 485.9h0M801.3 512.2h0M841.6 465.2h0M662.5 521.9h0M743 500.9h0M873 479.3h0M832.6 546.6h0M1001.4 534.1h0M783.1 502.5h0M739.4 501.6h0M710.9 491.3h0M1000.6 509.1h0M831.2 441.7h0M667.8 471.5h0M974.1 515.1h0M831.5 522h0M957.5 533.6h0M838.9 499h0M801 504.1h0M826 478.7h0M788.9 498.7h0M755.3 490h0M988.2 519.3h0M810.6 538.9h0M835.8 468.1h0M659.5 480.7h0M804.3 498.6h0M999.7 527.1h0M949.3 476.9h0M970.1 506.2h0M872.9 491.6h0M953.9 522.9h0M765.2 493.1h0M703.1 455.8h0M674.8 514.6h0M788.2 484.8h0M992.1 496.3h0M675.1 498.6h0M884.9 480.7h0M738.3 524.6h0M812.8 472.9h0M715.4 513.6h0M733.5 483.5h0M837.8 442.4h0M710 472.5h0M805.3 477.4h0M722.2 504.4h0M970.7 540.2h0M775.7 503.9h0M1001.5 485h0M955.2 473.1h0M681.2 497.8h0M788 498.4h0M993.8 544.7h0M763.7 522.7h0M802 503.4h0M950 529.5h0M996.5 506.9h0M840.3 519.7h0M777.3 470.2h0M782.9 517.1h0M805.5 520.4h0M676.5 477.2h0M834.1 497h0M688.5 480.8h0M1007.8 508.1h0M857.1 545.3h0M898 529.3h0M789.1 482.2h0M948.3 509.5h0M965 514h0M818.4 486.2h0M807.2 492.8h0M948.9 556h0M706.3 465.5h0M960.1 498.3h0M824.4 518.4h0M800.5 486.8h0M795.4 509.3h0M836 495.2h0M782.1 479h0M973.7 541.1h0M990.7 523.1h0M752.3 448.5h0M675.4 483.4h0M701.7 497.5h0M767.8 472.4h0M823.8 524.1h0M696.6 464.2h0M792.5 488.6h0M782.4 488.8h0M790.3 521.6h0M977.7 518.2h0M755 494.6h0M726.3 462.2h0M736.8 456.8h0M983.7 551h0M851 489h0M732.5 452.8h0M841.5 486.6h0M769.3 487h0M959.1 527.1h0M783 488h0M911.8 470.2h0M722.3 501h0M794.9 519.2h0M841.9 508.4h0M680.4 516.5h0M703 457.5h0M988.4 488.7h0M729.1 527.4h0M750.7 527.9h0M853 490.5h0M996.3 551.4h0M827.8 471.9h0M833.9 471.8h0M976 496.2h0M802.3 513.1h0M746.7 492.1h0M806.9 520.7h0M695.6 501.8h0M870.7 502.8h0M658.2 458.7h0M773.5 471.4h0M777.9 457.7h0M833.5 507h0M987.2 572.7h0M807.3 487.6h0M989.2 539h0M715.5 460.3h0M750.2 518.4h0M768.8 491.5h0M741.3 451.5h0M977.1 499.3h0M810.6 494.3h0M838.1 525.3h0M990.8 551.4h0M989.8 478.7h0M738.7 530.8h0M749.9 526.2h0M829.2 490.5h0M778.3 493.5h0M780.7 509.9h0M703.6 508.3h0M681.5 473.1h0M709.8 466.8h0M722.6 481.6h0M838.6 524.1h0M916.8 512.7h0M760.2 494.5h0M771.5 467.5h0M702.5 500.5h0M725 522.4h0M666.1 501.6h0M795.3 481.9h0M700.8 480.2h0M894.7 483.5h0M827 469.4h0M752.9 485h0M716 481h0M715.4 460.9h0M815.5 500.8h0M969 472.4h0M961.4 532.6h0M810.1 552.7h0M818 501.9h0M807.1 463.7h0M755.3 497.3h0M843.3 509.5h0M816.3 470.7h0M978.3 509h0M823.2 506.2h0M968.4 487.2h0M716.3 447.3h0M809.4 461.9h0M1004.3 545.5h0M709.1 495.1h0M952.6 521.7h0M676.4 480.6h0M963.2 520.8h0M819.1 487.2h0M1004.1 511.9h0M996.6 489.9h0M985.9 482.3h0M833.1 502.2h0M990.6 490.4h0M789.5 486.4h0M951.3 495.6h0M812.9 480.1h0M824.5 503.6h0M670.5 478.5h0M817.7 498.7h0M782.8 460.5h0M757.9 497.3h0M666.8 477.9h0M710.7 487.4h0M956.2 505.4h0M668.6 488.5h0M714.7 466.4h0M848.6 489.8h0M839.5 551.3h0M773.3 498.1h0M805 498.9h0M657.4 468.9h0M964.3 524.6h0M987.8 543.8h0M727.7 485.4h0M779.4 492.8h0M971.8 523.2h0M987.6 504.4h0M682.9 458.6h0M795.1 486.5h0M664.9 469h0M999.2 544h0M843.9 535.1h0M797.5 511.6h0M756.5 485.6h0M965.4 485.6h0M789.5 483.5h0M785.9 494.7h0M950.6 526.3h0M831.4 480.5h0M777.5 487.5h0M665.9 500.9h0M834.3 506.4h0M936.1 521.4h0M972.9 506.5h0M700.2 519.1h0M774.5 441.4h0M702 444.7h0M892.7 494.2h0M995.2 505.2h0M977.6 511.4h0M678.8 504.3h0M811.4 490.9h0M987.5 480.1h0M681.2 464.1h0M757.1 489.1h0M687.6 498.3h0M963.7 505.7h0M843.2 476h0M707 532h0M767.4 475h0M926.9 481.6h0M783.3 484.3h0M785.7 498.2h0M799.9 486.6h0M784.2 500.9h0M678.5 474.7h0M990.9 485.1h0M719.4 473.5h0M745.2 451.8h0M725.6 504.6h0M843.7 505.5h0M721.5 479.6h0M960.1 545.9h0M1006.4 509.5h0M791.4 471.9h0M833.7 492h0M682.3 478.8h0M868.8 525.6h0M680.3 462.7h0M700.4 471.4h0M802.4 501.5h0M772.4 499.3h0M965 509.7h0M814.3 483.1h0M703.8 474.8h0M802.6 517.1h0M790.5 496.9h0M820.3 479.7h0M964.2 517.1h0M750.6 467h0M678.9 497.9h0M815 482.6h0M703.2 473.7h0M824.7 437h0M787 481h0M720.7 478h0M984.8 516.6h0M743.3 433.1h0M822.7 481.5h0M847.5 472.5h0M957.3 523.3h0M866.5 489.8h0M790.1 456.2h0M674.3 470.2h0M723.7 486.6h0M796.4 493.3h0M936.6 500.9h0M994.4 533.5h0M680.4 508.9h0M792.8 483.8h0M963.4 496.7h0M697.5 474.7h0M925.4 522.6h0M730.2 478.4h0M655.4 497.6h0M720 490.7h0M844.1 471.6h0M758.6 506.2h0M772 495.3h0M788.3 509.1h0M832.4 485.6h0M972.1 487.1h0M965.7 495.7h0M742.3 496.3h0M963.9 555h0M823.2 505.7h0M709.8 504.8h0M787.7 484.7h0M981.9 504.6h0M788 495.2h0M946.7 514.8h0M789.6 480.8h0M797.3 511h0M959.8 473.7h0M825.6 493.9h0M719.3 489.4h0M749.5 463.7h0M807.7 514.4h0M785.1 503.8h0M953.8 456.4h0M888.1 462.4h0M878 502.1h0M671.1 472.5h0M808.6 476.8h0M657.7 502h0M973.4 510.6h0M913.5 489.2h0M777.4 471.4h0M805.6 521.8h0M757.2 482h0M778.5 483.7h0M698.8 511.4h0M907.9 518.3h0M811.5 518.9h0M992.8 554h0M790.9 494h0M742.8 480.9h0M817 451.8h0M990.8 509.2h0M898.7 531.9h0M779.2 505.6h0M791.2 466.5h0M801.7 497.8h0M746.2 468.3h0M773.1 458.8h0M724.9 499.4h0M783.1 474.6h0M833.7 491.4h0M735.9 443h0M988.2 507.5h0M989.8 494.1h0M987.1 514.3h0M768.3 519.2h0M950.4 491.1h0M764 476h0M760 477.7h0M700 468.7h0M660.2 473.4h0M751.5 461.3h0M797.3 481h0M803.4 497h0M780.5 474h0M880.9 456.8h0M782.7 515.4h0M718.5 488.7h0M777.8 508.8h0M984.8 523.8h0M657.9 485.7h0M732.4 456.3h0M982.7 474.4h0M696.6 458.8h0M829.9 490.3h0M912 497.7h0M715.4 496.3h0M669 470.8h0M825.3 479.1h0M749.2 451.8h0M977.6 501h0M801.7 525.9h0M985.1 539h0M922.9 544.8h0M747.2 549.7h0M725.6 476.8h0M690.4 478.4h0M794.3 510.5h0M720.7 480.8h0M801.3 505.2h0M796.3 509.3h0M900.3 477.7h0M762.4 477.2h0M783.4 494h0M805.6 478.4h0M890.2 508h0M695 451h0M972.9 490.7h0M887.2 460.1h0M711.2 473.4h0M970.2 502.2h0M796.6 509.6h0M774.4 490.4h0M826.5 503.2h0M721.2 512.3h0M949.8 490.1h0M677.8 486.3h0M979.4 483.8h0M739.6 462.3h0M842.7 504.1h0M658.3 487.8h0M725.8 474.6h0M808 532.9h0M837.7 503.3h0M845.8 494.7h0M677.9 486.4h0M709.4 507.1h0M804.2 481.4h0M990.1 534.6h0M753.7 468.3h0M714.3 535.8h0M833.8 497.6h0M834.5 496.3h0M914.7 497.4h0M905.3 518.3h0M782.3 470.5h0M745.9 468.7h0M970.7 485h0M1004.4 542h0M719 504h0M741 470.1h0M745.5 482h0M773.3 514.4h0M709.5 510.3h0M982.2 509h0M654.5 474.1h0M984.4 553.2h0M662.9 438.4h0M663 463.7h0M994.2 470.4h0M778 491.4h0M747.6 511.9h0M851.9 531.5h0M951.4 512.5h0M974.4 535h0M950 515.8h0M743.6 487.8h0M998.4 497.1h0M993.4 522.7h0M729.7 489.3h0M981.7 524.7h0M906.7 474.3h0M689.8 489.1h0M760.9 497.6h0M770.6 478.8h0M796.9 480.5h0M782.5 459.9h0M698.6 443.1h0M993.1 523.2h0M765.6 488h0M676.3 490.3h0M733.8 472.1h0M764 518.3h0M787.9 516.9h0M692 501.1h0M867.9 487h0M814.6 492.5h0M979.4 523.4h0M752.2 495h0M842.7 477.1h0M959.2 499.3h0M807.1 456.4h0M925.8 438h0M890.3 505.8h0M805.2 490.4h0M730.3 478.4h0M977.9 516.4h0M778.3 493.5h0M789.8 500.9h0M809.9 504.1h0M697.4 450.7h0M728.2 479.6h0M674.3 474.2h0M738.7 442.1h0M872 529.4h0M983 472.3h0M958.5 496.7h0M812.2 485.3h0M810.7 467.3h0M813.8 514.2h0M693 492.8h0M744.2 498.2h0M746.4 519.3h0M776.9 488.3h0M695.3 461.1h0M816.5 478.3h0M821.2 502.6h0M957.1 510.3h0M722.4 448.6h0M1006.2 515.7h0M999.5 496.7h0M899.6 501.4h0M822.7 501.5h0M829.4 481.4h0M794.4 453.6h0M797.1 519.6h0M678 477.8h0M964.4 476.2h0M695.2 471.1h0M898.4 526.8h0M881.5 455.1h0M711.2 478.7h0M669.3 493.5h0M814.2 516.5h0M697.3 468.6h0M823.3 486.4h0M752.3 493.4h0M956.8 525.7h0M738.9 464.4h0M798.3 503.1h0M818.4 467.5h0M957.3 518.9h0M752.5 517.1h0M956.3 442.2h0M832.1 501.1h0M810.6 480.6h0M836.8 503.1h0M808.9 484.4h0M823.5 480.7h0M728.4 460h0M797 505.1h0M758 512.6h0M684.9 471.5h0M694.8 463.3h0M892.3 510.1h0M818 491.9h0M786.6 504.8h0M675.1 508.5h0M789.3 501.3h0M679.9 482.4h0M978.1 515.9h0M949.4 501.1h0M775.4 493h0M799.2 498.5h0M780.3 486.4h0M950.2 527.4h0M700.1 470.7h0M783.1 476.3h0M678.5 460.2h0M996.1 510.9h0M882.9 492.4h0M787.6 505.7h0M909.2 489.6h0M766 458.7h0M740.7 461.9h0M995.6 496h0M774.6 473.4h0M768.4 513h0M752.3 503.9h0M725.3 464.2h0M952.2 527h0M706.1 479.6h0M835.3 524.4h0M697 457.8h0M837.3 494h0M668.4 493.8h0M815.8 497.2h0M762.6 491.2h0M692.4 509.6h0M779.6 487h0M809.6 498.7h0M820.7 502.6h0M990.1 507.6h0M784.6 473.8h0M752.5 478.6h0M803.8 492.8h0M796.2 529.5h0M814.3 470.5h0M692.3 480.1h0M777.6 537.8h0M750 505.5h0M824.1 479.1h0M764.8 508.1h0M733.3 513.1h0M724.6 500.4h0M741.8 472.7h0M742.1 479.5h0M791.3 476.7h0M828.6 537.1h0M679.7 496.2h0M700.8 471h0M794.3 479.3h0M810.1 508.9h0M787.6 463.8h0M749.9 520.3h0M673.9 500.7h0M723.8 446.1h0M876.2 485.3h0M694.4 502.3h0M726.1 437.6h0M721.4 448.3h0M837 500.6h0M800.7 477.8h0M752 470.8h0M743.3 512.2h0M861.1 513.5h0M799.4 483.8h0M705.8 487.8h0M677.8 507.8h0M912.9 478.9h0M767.3 508.2h0M772.9 487.8h0M799 506h0M816.3 477.4h0M980.4 521.3h0M737.6 481.3h0M729.4 519.5h0M736.1 517.5h0M683.4 463.4h0M806.2 462.2h0M991.8 508.4h0M706.3 489.5h0M773.7 469.2h0M687 485.1h0M746.1 485.1h0M726.7 479.6h0M832.3 556.1h0M726.2 479.6h0M814.2 507.9h0M744.3 481.3h0M822.1 506h0M790.8 506.8h0M770.7 470h0M998.2 562h0M799 497.8h0M824.3 514.3h0M983.5 558.7h0M959.2 509.8h0M960.6 519.9h0M993.7 522.5h0M991.9 519.8h0M768.3 525.5h0M672.1 500.6h0M792.4 496h0M729.3 486.7h0M687.1 476.9h0M694.2 468.3h0M859.3 496.8h0M950.5 510.1h0M697.5 503.4h0M965.9 516.5h0M790.1 479.8h0M800.3 485.9h0M795.6 475.4h0M796.8 497.9h0M771.6 497.5h0M943.7 530h0M908.9 477.2h0M687.4 472.3h0M674.6 455.9h0M1001.6 500.3h0M840.5 550h0M957 539h0M790.3 488.4h0M900.5 495.7h0M843.1 496.1h0M787.5 538h0M703.6 502.7h0M749.5 520.9h0M715.1 467.3h0M868.2 515.4h0M758.6 478.4h0M707.4 477.2h0M659.3 485.2h0M782.2 504.5h0M766.3 491.5h0M718 502.3h0M694.4 445.2h0M695.4 485h0M697.3 499.1h0M792.1 542.6h0M975.4 546.7h0M808.2 498.4h0M1001.9 503h0M757.8 472.8h0M669.9 491.4h0M744.4 478.8h0M934.3 484.2h0M723.9 477.5h0M990.7 510.3h0M718.8 520.8h0M708.3 486.5h0M734.5 481.2h0M958.2 549.6h0M675.7 503.7h0M814.3 484.4h0M754.2 450.5h0M983.3 496.6h0M855.4 511.7h0M742.8 441.5h0M792 492.3h0M798.1 505.4h0M798.8 489h0M686.6 484.6h0M736.3 474.2h0M724.2 500.7h0M799.8 456.3h0M756.3 535h0M941.6 517.1h0M659.6 506.8h0M707.8 495.6h0M690.7 438.2h0M703.1 487.7h0M681.7 486.4h0M817.9 532h0M802.6 485.4h0M755.5 503h0M980.6 490h0M715.4 482.1h0M795.4 480.3h0M843.8 471.8h0M721.6 454.3h0M781.5 496.4h0M985.8 497.7h0M717.1 473.3h0M1000.8 524.6h0M831 483.9h0M769.2 494.9h0M789.4 486.8h0M934.6 533h0M698.2 477.3h0M675 506.8h0M960.8 490.2h0M738.7 508.8h0M908.1 488.3h0M747 483.2h0M707 482.6h0M984.5 501.6h0M678.2 476.8h0M799.8 493.1h0M958.3 523.6h0M686.2 469.6h0M725.6 465.8h0M675.5 525.2h0M693.1 474h0M802 512.6h0M716.2 494.2h0M670.5 493.5h0M667 498.5h0M784.5 494.3h0M933.4 491.7h0M964.8 508.5h0M988.5 486.2h0M838.9 494.9h0M734.6 446.3h0M704 520.5h0M721.6 495.3h0M784.4 484.6h0M809.8 486.6h0M718.7 521.9h0M776.8 497.5h0M814.3 503.5h0M714.5 465.2h0M794.9 496.7h0M717.8 465.7h0M928.4 478.2h0M662.9 460.4h0M854.8 538.3h0M691.7 460.1h0M745.4 492.5h0M710 477.9h0M756.6 495.6h0M722.5 493.6h0M670.3 480h0M730.1 480.4h0M960.1 483h0M995.6 502.7h0M685.1 498.3h0M790.1 497h0M810.6 480.4h0M851.5 502.1h0M694.1 439.8h0M948.1 548.6h0M945.9 471.4h0M727.4 515.4h0M978 532.4h0M1002.4 515.3h0M708.4 467.8h0M751.5 521.4h0M846.6 500.7h0M879.7 490.8h0M669.3 508.7h0M829.9 503.5h0M846.3 478.1h0M718.8 445.2h0M971.3 498.9h0M714.6 485.2h0M870.7 502.7h0M786.2 467.5h0M706.4 471.9h0M782.8 487.9h0M680.4 481.6h0M693.2 496.1h0M722.1 463.5h0M999.7 540.6h0M739.3 504h0M661.1 466.8h0M918.6 466.8h0M976.9 503.9h0M739.2 470.6h0M999.4 547.3h0M824.5 487.1h0M796.3 491.2h0M708.8 497.3h0M718.7 483.6h0M738.6 477.6h0M688.5 463.7h0M985.8 497.3h0M781.4 520.1h0M657.8 491.5h0M781.8 480.9h0M836.9 488h0M734.2 468.4h0M714 464.9h0M986.6 516.4h0M824.7 535.8h0M876.9 519.9h0M841.4 523.1h0M687.3 532.1h0M832.9 485.2h0M989.7 504.9h0M661.7 528.6h0M765.5 491.5h0M684.2 477.1h0M842.7 489h0M876.1 516.2h0M971.5 490.1h0M715.2 476.8h0M747.1 472.5h0M675.5 468.6h0M795 481.1h0M742.2 486.6h0M931.1 526.1h0M782.8 473.6h0M832.7 466.1h0M793.3 465.1h0M681.2 473.2h0M808.7 531.5h0M689.4 476.5h0M686.5 494h0M709.4 476.9h0M691.4 489.1h0M796.1 484.6h0M677.3 459.9h0M660.3 466.4h0M678.8 455.7h0M717.9 454.2h0M697.9 454.7h0M701.6 526.5h0M696.9 478.9h0M804.8 483h0M786.1 495h0M681.4 477.3h0M804.6 493.1h0M824.6 531.4h0M754 489.6h0M750.3 514.3h0M800.5 509.8h0M955.5 500.4h0M984.4 456h0M693.2 465h0M837 520h0M661.2 451.4h0M926.7 470.9h0M668.1 445.8h0M989.2 521.9h0M683.1 451h0M803.4 488.7h0M789.1 443.9h0M801.8 470.5h0M695.9 471.6h0M713.4 454.6h0M663.2 464h0M979.5 510.7h0M992.2 519.9h0M661.6 512.8h0M989.1 519.4h0M844.2 450.5h0M775 471.5h0M923.5 518.4h0M763.2 455.7h0M651.4 458.4h0M729.6 457.9h0M767.1 501.3h0M801.1 524.6h0M934.4 530.2h0M953 556.6h0M822.7 483.2h0M1000.6 501.5h0M948.4 490.7h0M997.2 511.2h0M812.5 493.6h0M814.6 500.8h0M895.7 505.9h0M741.9 468.9h0M666.2 497.4h0M698 483.4h0M931.2 525.9h0M961.2 469h0M991.3 490.8h0M664.1 514.8h0M872.1 516.9h0M784 478.4h0M703.4 509h0M783.5 505.3h0M797.9 485.6h0M841.2 496.1h0M998.6 502.3h0M786 460.8h0M779 525.8h0M677.2 483.4h0M763.5 540h0M796.4 490.2h0M968.2 528.3h0M873.9 498.7h0M979 465.7h0M843 498.3h0M785.8 477.1h0M711.2 474.3h0M833.9 491h0M979.7 489h0M928.3 510.2h0M961.6 514.9h0M696.2 475.9h0M717.5 457.3h0M674.4 498.6h0M775.4 509.9h0M759.4 469.2h0M707.8 451.8h0M994.2 549h0M673.8 490.9h0M665.5 507h0M787 512.4h0M981.1 480.9h0M746.9 493.4h0M746.3 507.3h0M659.5 498.3h0M768.5 475.3h0M706.2 463h0M785.2 473.8h0M959.3 529h0M765.6 529h0M712.6 505.4h0M796.6 478.5h0M771.7 515.3h0M987.3 517.6h0M695.8 493h0M697.5 476h0M843.7 488.3h0M896 499.9h0M979.6 484.9h0M700.2 488.7h0M807.1 507.2h0M677.1 457.8h0M794.9 452.5h0M685.2 498.3h0M730.6 465.5h0M679.7 513.1h0M711 465.4h0M799.8 507.5h0M939.5 510.8h0M710.9 443.8h0M709.5 507.8h0M669.8 475.3h0M734.8 497.8h0M813 495h0M783.5 496.6h0M977.8 478.1h0M685.2 470.5h0M747.8 485.3h0M915.6 562.8h0M956.8 481.6h0M1007.9 512.5h0M808.1 517.6h0M837.4 481.3h0M702.5 514.8h0M918.1 526.5h0M967.1 520.8h0M713.8 508.9h0M817.1 465.6h0M694.7 490h0M706.6 463.8h0M977.7 504.7h0M731.5 478.1h0M812.4 490h0M830.2 489.7h0M941.1 514.8h0M671.4 500.7h0M797.2 498.9h0M1000.7 529.1h0M998.9 512.5h0M771.9 520.3h0M662.4 484.9h0M953.9 467.3h0M808 507h0M753.8 458.8h0M684.1 491.5h0M673.5 500.5h0M778.3 544.5h0M742.8 492.9h0M832.5 521.3h0M739.9 474.2h0M792.2 496.7h0M950.4 499.1h0M816.7 516.5h0M750.3 482.1h0M689.7 499.4h0M733.1 475.9h0M682.4 503.9h0M835.6 502.5h0M741 484.3h0M688.8 531.3h0M680.1 497.9h0M817.7 493.5h0M715 501.6h0M777.3 517.5h0M856.9 500.4h0M782.5 463.3h0M817.7 469.2h0M806.3 495.9h0M813.1 514.9h0M830.3 469.5h0M888.1 519.8h0M831.4 506.5h0M831.3 477h0M703.5 493.7h0M842.7 531.6h0M818.7 497.9h0M776.2 468.2h0M984.5 484h0M917.2 465.3h0M744.1 475h0M949.7 507.5h0M653.4 470.9h0M745.8 497.4h0M767.3 495.1h0M730.7 501.7h0M827.6 484.3h0M778 513.6h0M777.3 510.1h0M957.2 520.6h0M800.7 460.5h0M910.3 494.6h0M795.9 510.3h0M969.2 463.1h0M765.7 497.3h0M976.2 512.8h0M773.3 473.9h0M913.6 525.2h0M818.8 511h0M998.2 516.7h0M957.1 461.5h0M666 500.3h0M958.6 473.7h0M876.7 525.4h0M797.7 515.3h0M835 482.1h0M802.8 492h0M760.9 507.2h0M820.8 499.7h0M851.4 484.7h0M690.7 469.2h0M736.7 486h0M673.6 513.6h0M810 484.4h0M798.3 472.7h0M810.7 448.3h0M983.4 509.6h0M738.2 489.1h0M705.5 464.6h0M997.5 511.5h0M968.1 512.3h0M728.4 477.1h0M732.1 469.7h0M797.1 476.8h0M675.7 472h0M790.8 457.5h0M994 472.5h0M774.1 498.9h0M803.7 518h0M962.6 535.2h0M953.9 521.8h0M759.1 484h0M781.8 504.7h0M809.8 469.9h0M857.2 511.1h0M964 533.4h0M869 508.7h0M986.4 490.4h0M938.1 515.2h0M693.6 499.6h0M852.7 504h0M846.5 475.2h0M955.2 495.2h0M1004.6 481.1h0M683.8 483h0M939.5 502.1h0M815.4 473.3h0M839.7 485.5h0M1001.1 536.6h0M965.7 535.6h0M762.6 471h0M798.3 492.8h0M726.4 485.4h0M753.5 485.9h0M984.8 535.8h0M675.2 497.1h0M776.8 511.7h0M812.7 510.3h0M966.7 515.8h0M694.7 503.1h0M783.5 502.6h0M979 547.9h0M694.2 478h0M710.2 430h0M784.9 489.8h0M670.7 481.1h0M797.3 504h0M792.1 481.2h0M687.7 453.4h0M665.4 505.1h0M838.5 510.9h0M703.3 464.6h0M939.4 517.3h0M809.8 482.2h0M762.4 513.8h0M698.6 497.8h0M820.9 503.7h0M671.6 458.9h0M763.8 479.9h0M834.3 502.5h0M820.5 486h0M785.5 489.2h0M847.9 475h0M805.8 501.9h0M765.7 517h0M768.6 513.8h0M950.1 459.6h0M823.3 485.8h0M941.4 502.7h0M718.3 489.6h0M740.3 424.1h0M798.3 516.8h0M787.3 481.9h0M832.6 504.5h0M739.2 501h0M781.7 498.6h0M810.1 492h0M956.5 508.9h0M689.1 464.8h0M703.3 494.1h0M979.9 552.5h0M1003.7 468.5h0M728.9 455.9h0M772.8 464.5h0M830.5 510.4h0M804.4 496h0M983.6 518.3h0M1002.4 480.2h0M793 481.5h0M924.4 485.6h0M822.5 487.4h0M985.7 518.8h0M800 507.2h0M678.4 479.4h0M736.2 481.7h0M724.6 476.4h0M830.1 502.2h0M702 483.6h0M762.6 502.5h0M794.2 467.8h0M985.3 505.1h0M783.9 468.6h0M812.1 491h0M796.5 500.8h0M804.6 474.5h0M807.6 496.4h0M994.1 485.5h0M677.9 466.4h0M777.5 468h0M800.3 474.9h0M661.2 489h0M970.6 526.2h0M750.7 482.6h0M970 496.6h0M753.5 503.9h0M802.1 479.7h0M982.5 513.7h0M942.3 494.4h0M804.5 456h0M798 498.1h0M838.9 521.7h0M689.9 482.5h0M739.2 502.7h0M686.4 518h0M729.4 502h0M1006.2 503.7h0M765.7 473.9h0M793.7 495.6h0M840.1 498.8h0M760.1 493.2h0M788.5 483.5h0M798.5 481.7h0M751.4 520.2h0M663.2 472.1h0M951.6 517.1h0M835.3 491.3h0M661.9 496.3h0M730 508h0M829.6 491.9h0M976.8 515.7h0M753.2 462.3h0M805.7 520.9h0M953.2 504.3h0M996.6 506.6h0M807.6 490.9h0M848.9 474.9h0" stroke="#3a4cb0" stroke-width="2" stroke-linecap="round" fill="none"/>
<path d="M977.1 483.1h0M776.8 478.6h0M978.7 503.1h0M854.2 477h0M760.4 495h0M885 525.9h0M735.5 464.4h0M788.1 480.8h0M861 493.3h0M891.3 504.3h0M920.9 473.5h0M662.8 486h0M788.4 542.8h0M966.7 569.8h0M945 542.6h0M906.6 523.9h0M905.2 532.3h0M892.4 493.3h0M810.8 442.5h0M911 479.5h0M762.1 500.4h0M888.7 528.5h0M911.1 505.7h0M879.1 498.5h0M660.4 487.8h0M931.5 519.8h0M934 496.5h0M957.2 497.4h0M1000 495.1h0M742.1 490.4h0M787 466.3h0M678.9 502h0M740.3 490h0M1002.1 516.1h0M912.3 508h0M714.6 494.3h0M940.4 499.8h0M875 505.8h0M989.7 492h0M943.5 532.4h0M849.5 515.8h0M872.9 482.9h0M835.2 528h0M707.4 478h0M900.7 463.1h0M711.5 473.2h0M691.6 471.6h0M977 528.8h0M776.9 470.1h0M931.7 569.3h0M766.5 505.2h0M900.6 464.6h0M881 486.1h0M817.5 488.1h0M731.8 455.5h0M703.5 487.7h0M923.6 541.5h0M866.1 470.9h0M807.9 525.9h0M918.3 500.5h0M923.4 492.2h0M679.3 481.1h0M929.5 483.7h0M920.4 478.8h0M829.5 481.1h0M900.2 501.8h0M680 450.9h0M668.1 467.7h0M848.5 510.3h0M691.8 461.2h0M925.7 467.3h0M712.9 489.3h0M994.1 556.8h0M974.3 514.4h0M894.4 497.8h0M960 498.4h0M823.7 521h0M851.8 506.5h0M982.5 492.5h0M886.1 525.2h0M834 522.9h0M769.6 509.4h0M935.7 484.7h0M710.4 482.1h0M961.7 521.5h0M772.5 500.7h0M764.3 477.1h0M756 441.6h0M812.3 517.6h0M763.3 476h0M946.1 531.2h0M942.1 546.1h0M926.5 501.8h0M862.3 479.8h0M844.6 480.9h0M781.4 516.6h0M950.6 503.9h0M722.6 511.2h0M920.1 486.3h0M960.4 503.1h0M917.3 476.9h0M929.3 509.2h0M725.8 470.5h0M980.6 525.6h0M851.1 486.4h0M890.7 495.2h0M850.6 480.7h0M853.4 500.9h0M686.1 510.7h0M690.5 515.1h0M824.4 487.7h0M706.4 492.1h0M719.7 463h0M722.1 479.4h0M671.9 485.2h0M906.8 532.8h0M807.6 480.3h0M719.8 481.5h0M963.3 487.9h0M958.7 501.4h0M1003 545.4h0M1003.9 516.4h0M907.5 544.5h0M734.5 522.7h0M860.7 504h0M889.3 459.8h0M955.5 498.8h0M872.3 500.4h0M980.2 507.5h0M707.7 469.9h0M921.4 482.6h0M689.2 481.5h0M905.7 548.7h0M982.9 519.5h0M921.4 526.4h0M939.7 552.2h0M700.7 477h0M997.3 499.2h0M720.7 504.8h0M861.7 475.4h0M760.3 490.7h0M682.9 425.2h0M760.6 488h0M892.3 527.8h0M812.7 459.6h0M884.8 520.3h0M855.4 512.9h0M842.9 511.5h0M920.9 471.5h0M764.5 473.1h0M749 551.1h0M935.5 523.5h0M775.4 548.7h0M977 493.7h0M984.2 514.5h0M854.8 496.8h0M724.2 533.7h0M930.7 492.3h0M979.7 508.8h0M966.4 526.7h0M711.1 468.1h0M852.6 504.8h0M986.8 504.2h0M898.8 545.1h0M922.2 503.5h0M902 477h0M727.5 512.6h0M653.2 495.2h0M943.5 518.6h0M797.7 514.2h0M713.5 436.6h0M651.6 499.7h0M724.3 477.6h0M934 533.3h0M733.4 517.5h0M854 518.5h0M929 540.2h0M770.6 534.7h0M728.9 466.1h0M936 464.9h0M782.6 498.7h0M903.7 495.4h0M735.5 509.7h0M994.6 506.8h0M906.8 502.1h0M949.9 441.1h0M954.9 483.2h0M980.7 525.8h0M777 445.2h0M970.7 496.3h0M921 493.5h0M840.6 536.1h0M770.7 512.2h0M755.8 511.9h0M967.9 479.9h0M721.2 450.7h0M891 501.1h0M871.2 462.2h0M907.1 490.4h0M861.5 484.6h0M830.9 498.2h0M747.2 514.4h0M816.8 463h0M953 469.9h0M893.2 513.1h0M914.5 483.1h0M798.7 475.7h0M694.4 497.3h0M675.3 476.8h0M978.5 518.5h0M903.3 493.5h0M691.4 504.3h0M720.4 469.1h0M887.3 480.6h0M944.1 501h0M796.2 522.1h0M937.8 516.9h0M912.4 487.4h0M656.7 451.8h0M894.6 503.5h0M992.1 502.6h0M957.5 519.6h0M961.5 507.1h0M922.8 480.2h0M942 484.3h0M855.8 521.3h0M758.2 505.5h0M883.8 498.6h0M808 468.5h0M890.3 458.8h0M830.9 485.5h0M940.1 506.6h0M813.7 520.4h0M897.7 500.4h0M901 512.5h0M894.8 472.7h0M753.1 512.1h0M930 452.1h0M920.5 497.5h0M864.2 476.8h0M973.1 531h0M906.4 507.2h0M838.7 475h0M947.5 520.8h0M878.2 505.3h0M803.5 467.1h0M871.7 505.9h0M886 455h0M883.4 491.6h0M992.4 490h0M990.3 461.8h0M910 553.5h0M965 526.1h0M978.5 478.9h0M749.1 514.8h0M737.6 470.2h0M770.3 498.3h0M925.8 494.5h0M760 533.8h0M731.2 496.9h0M784.5 555.9h0M868.8 486.4h0M985.8 495h0M987 491.2h0M766.6 512.5h0M928.9 494.9h0M996.8 556.9h0M825.3 479.5h0M822.1 466.4h0M945.4 470.6h0M932.2 449.6h0M860.7 503.5h0M861.4 479.5h0M951.3 516.8h0M836.5 491.6h0M831.3 509.7h0M872.6 497.8h0M982.6 503h0M938.9 477.3h0M672 480.4h0M664.6 473.2h0M713.8 486.1h0M927 498.1h0M922 478.9h0M1008.6 477.1h0M904.3 517.9h0M854 497.9h0M674.2 462.4h0M734.5 479.1h0M728 488.7h0M853 498h0M856.6 503.8h0M928.6 508.1h0M771.1 526.5h0M867.4 468.4h0M937.6 506.5h0M993.8 504.7h0M970 507.1h0M1001.1 484.1h0M724.3 513.1h0M906.2 481.3h0M754.9 505.3h0M856.5 503.2h0M919.1 493.6h0M885.3 495.8h0M836.6 533h0M952.7 524h0M674.1 482.9h0M853.9 511.2h0M852 512.2h0M881.7 471.1h0M848.2 518.1h0M718.1 498.1h0M888.3 548.8h0M906.6 485.8h0M787.5 476.1h0M980.3 498.4h0M954.8 501.3h0M747.2 472.6h0M973.1 503.2h0M946.5 529.1h0M729.5 490.1h0M854.5 496.5h0M953.7 527.3h0M837.3 479.7h0M831.6 517.2h0M989.4 510.5h0M854.6 503.8h0M902.4 488.1h0M678.8 489.5h0M914.6 501.6h0M944.5 524.9h0M962 496.8h0M690.5 483h0M943.9 522.6h0M913 522.7h0M925.7 491.8h0M839.2 474.5h0M999.3 567.7h0M779.1 500.4h0M695.9 490h0M871.1 499.9h0M731.8 494.7h0M946.5 547.6h0M995.5 529.6h0M880.6 521h0M702.3 480.8h0M717.4 505.2h0M804 445.6h0M699.4 446.6h0M918.3 539.5h0M737.5 465.6h0M884.8 505.8h0M974.5 533.9h0M828.2 474.7h0M915.8 495.8h0M958.8 486.9h0M854.7 527.2h0M939 444.5h0M851.8 511.9h0M902.9 519.9h0M854.7 475.6h0M907.7 498.2h0M700.2 506.2h0M884.8 507.2h0M703.6 490.3h0M771.5 511.1h0M688.4 495.3h0M667 494h0M863.5 561.9h0M881.6 516.8h0M686.7 485.7h0M816.9 472.2h0M889.7 507.8h0M880.7 492.8h0M843.6 490.8h0M918.3 473.8h0M941.7 486.5h0M918.8 480.9h0M744.9 449.3h0M886 510.7h0M739.6 481.7h0M961.4 536.1h0M987.5 523.6h0M693.6 464.3h0M744.3 461.2h0M751.8 533h0M843.5 526.1h0M688.1 472.5h0M948.4 492.5h0M859.3 479.4h0M675.5 459h0M696.1 495h0M861.5 491.5h0M881.2 507.9h0M727.4 483.6h0M979.7 497.1h0M667.2 457.9h0M776.5 503.6h0M883.4 489.8h0M957 503.7h0M871.8 523.3h0M888 480.7h0M863.9 505.9h0M751.1 488.4h0M719.3 516.1h0M998.4 487.4h0M899.6 486.1h0M884.8 487.6h0M737.5 479.9h0M807.7 474.6h0M930 512.2h0M904.6 495.3h0M946.8 484.3h0M990.7 521.5h0M932.6 480.7h0M898.9 470.2h0M892.6 471.1h0M708.5 488.9h0M927.3 500.6h0M830.2 506.2h0M902.2 512.6h0M752.8 509h0M669.6 503.3h0M941 515.2h0M917.3 463.2h0M774.8 510.6h0M932.2 523.9h0M895.7 512.5h0M853.1 485.6h0M701.9 518h0M734 476.1h0M965.6 470.7h0M930.8 521h0M778.2 475.2h0M825.2 480.3h0M999.2 457.5h0M980.6 524.6h0M840.7 508.6h0M916.1 498.4h0M912.8 525.8h0M956.5 493.9h0M887.5 507.1h0M775.3 520.1h0M913.3 482.9h0M971.1 534.7h0M997.7 520.3h0M679.5 479.7h0M901.9 486.9h0M964.5 480.3h0M891.2 487.8h0M977 528.7h0M930.7 500.4h0M706.4 504.2h0M908.1 506.7h0M887.7 456.3h0M971 491.2h0M726.8 517.9h0M996.3 519.9h0M656.9 484.8h0M986.9 511.6h0M917.4 528.1h0M865.6 483.2h0M953.9 484.8h0M980.6 488.7h0M705.8 506.4h0M782 472.9h0M898.6 455.9h0M944 519.7h0M913.1 510.1h0M894 524h0M885.8 507.6h0M880 528.9h0M830 472.5h0M741.3 505.8h0M828.7 483.3h0M850.4 493.2h0M671.5 446.4h0M773.4 519.9h0M744.8 506h0M870.1 503.1h0M881 460.5h0M921.4 513.9h0M708.7 480.3h0M657 489h0M690.2 466.3h0M854 516.4h0M830.5 518.3h0M894.7 528.3h0M949.5 490.6h0M844.1 512h0M763.1 464.1h0M866.9 473.8h0M886.4 447.3h0M684 469.2h0M658 463.2h0M683.9 476.3h0M661.7 436.7h0M749 452.7h0M681.1 463.1h0M695.1 474.5h0M1001.8 530.3h0M952.9 515.6h0M750.2 495.7h0M821.6 461.1h0M883.4 565.3h0M671.2 523h0M935.6 467.6h0M965.6 487.5h0M936.2 528.1h0M853.3 542.3h0M863.4 531.7h0M905.7 516.6h0M925.5 490.4h0M905.8 500.2h0M950 481.6h0M729.1 493.2h0M703.6 497.7h0M876.5 471.6h0M712.1 483.2h0M696.4 458.1h0M958.6 478.1h0M919.4 474.8h0M965.7 549.3h0M904.9 499h0M759.2 490.1h0M742.1 484.6h0M989.4 525.1h0M834.1 503.7h0M939.3 526h0M923 504.6h0M860 500.2h0M773.6 507.9h0M970.4 489.1h0M945.9 498.5h0M755.5 509.5h0M670 479.7h0M964.6 513.8h0M968.5 528.2h0M795.2 466.5h0M685.1 477h0M664.8 475.5h0M799.8 526.8h0M878.5 494.9h0M688.3 477h0M970.2 464h0M869.8 479.8h0M965.4 518.2h0M829.2 500h0M713.3 486h0M746.3 489.6h0M749.1 468.9h0M906.7 495.2h0M992.1 519.8h0M665.1 432.6h0M921.9 525.6h0M910.7 507.8h0M834.3 492.5h0M854.8 482.3h0M824.2 487.2h0M927.6 526.5h0M917.6 493.9h0M717.9 495h0M718.1 454.6h0M979 500.7h0M992.8 500.1h0M941.7 484h0M983.6 506.9h0M661.1 493.9h0M748.5 476.6h0M971.3 497.5h0M884.5 496.3h0M937.7 534.5h0M740.8 505.4h0M890.1 509.1h0M848.4 478.8h0M945.1 526.9h0M837.7 516.8h0M665.5 499.2h0M749 506.7h0M883.2 473.3h0M929 526.2h0M997.7 493.5h0M794.2 482.4h0M738.8 501.2h0M747.7 501.7h0M696.1 498.4h0M931.1 438.7h0M933.6 532.9h0M964 486.9h0M918.9 521.5h0M940.1 479h0M921.2 530.7h0M912.7 477.6h0M803.3 466h0M924 523h0M992.8 528.3h0M844 516h0M935.4 546.1h0M691 480.6h0M656.9 504.1h0M941.1 483h0M784.6 479h0M943.9 508.7h0M755 481.6h0M712.5 473.3h0M946 480.3h0M967.5 510.2h0M849.4 491.1h0M948.3 500.9h0M709.7 489.7h0M881.5 500h0M759 499.2h0M758.5 463h0M1005 517.1h0M685.5 491.7h0M935.1 547.6h0M887.6 491h0M846.8 489.8h0M710.5 469.6h0M914.2 489h0M741.9 449h0M887.5 479h0M861.1 484.3h0M913.7 527.9h0M866.1 519.8h0M953.2 482.4h0M782.5 492.1h0M923.9 500.6h0M737.9 495.6h0M922.9 534.3h0M728 489.2h0M915 488.4h0M701.3 490.9h0M723.7 524.7h0M758.9 518.2h0M966.9 508.8h0M770.9 529.5h0M687.8 526.6h0M689.2 500.7h0M896 525.1h0M972.7 487.5h0M1005.2 493h0M873.4 532.5h0M938.7 488.6h0M890.9 499h0M915.6 503h0M995.9 456.5h0M824.3 482.9h0M895.3 492h0M1003.1 517.1h0M690.8 472.1h0M989.5 490.5h0M934.3 490.4h0M950.5 531.4h0M824.2 519.3h0M793.5 466.6h0M801.3 495.4h0M857.4 501.9h0M972.9 495.2h0M857.3 490.8h0M715.6 484.8h0M931.2 453.3h0M975.7 484.8h0M874.9 531.2h0M854.1 484h0M995.5 498.8h0M883.2 488.8h0M934.1 508.3h0M667.9 530.3h0M756.1 490.1h0M751.5 476.3h0M864.8 523.2h0M781.6 472.9h0M963.3 507.1h0M840.9 496.4h0M761.8 424.5h0M849.3 465.4h0M937.1 548.9h0M945.1 501.2h0M890.8 522h0M959.5 487.9h0M867.4 531h0M842.6 492.8h0M835.6 506h0M932.3 492.9h0M829.4 489.2h0M977.3 510.7h0M749.8 471.4h0M680 478.9h0M897.7 520h0M755.7 507.9h0M866.1 564.1h0M902 533.9h0M830.7 497.7h0M708.1 473h0M883.8 518.3h0M897.5 505.9h0M688.5 483.2h0M925.9 493.8h0M998.2 503.7h0M775.5 492.7h0M904.1 506.2h0M979.8 520.9h0M975.6 506.7h0M873.4 499.9h0M833.9 511.2h0M880.3 502.9h0M961.4 569.6h0M694.9 490.7h0M903.5 495.4h0M900 505.4h0M817.8 461.3h0M698.5 474.9h0M926.4 478.5h0M715.3 493.4h0M679.2 475.8h0M770.8 517.7h0M854 461.7h0M926.8 512.5h0M758 497.3h0M930.5 486.5h0M744.8 486h0M778.1 517.4h0M744.9 461.6h0M680.9 505.7h0M709 481.1h0M938.8 535.1h0M855.6 490.5h0M859.8 473.4h0M865.8 497.7h0M893.7 506.6h0M877.8 513.1h0M699.6 492.6h0M947.2 536.8h0M659.4 460.6h0M883.5 481.8h0M933.7 509.7h0M930.3 519.6h0M847.7 487.3h0M702.1 511.6h0M964 483.8h0M734.4 441.7h0M971.1 531.6h0M986.6 480.9h0M863.3 540.6h0M989.5 518.5h0M743.2 448.9h0M777.9 486.3h0M993.7 535h0M907.7 519.9h0M720.9 508.7h0M932 493.8h0M773.4 500h0M860.8 510.9h0M989 516.1h0M718.9 492.7h0M900.6 486.2h0M745.1 484.2h0M962.1 499.6h0M670.4 513h0M810.7 483.2h0M926.3 517h0M667.8 487.5h0M866.7 501.5h0M737.1 495.6h0M744.2 490.3h0M884.4 496.1h0M880 500.6h0M782.5 517.6h0M908.6 529.6h0M978.4 503.4h0M930.9 487.4h0M874.7 484.6h0M982.7 517.1h0M678.4 502h0M825.3 513.3h0M741.5 505.8h0M699.3 488h0M841.8 488.2h0M921.5 487.8h0M992.7 490.2h0M826.5 505.1h0M877.2 484.2h0M862.7 528.8h0M887.9 486.6h0M708.7 481.1h0M855.3 483h0M962.4 487h0M867.8 482h0M725.7 455.7h0M895.7 467.2h0M858.8 468.9h0M787.3 474.5h0M899.2 511.1h0M697.1 488.6h0M679.8 505.4h0M918.6 516.7h0M956.3 485.5h0M897.3 524.5h0M774.1 458h0M910.5 531.7h0M982.2 509.6h0M943.5 558.2h0M879.5 457.9h0M874.3 475.2h0M934.3 500.5h0M881.8 461.1h0M994.9 511.6h0M978.7 496.4h0M907.3 503.9h0M798.6 484.3h0M783.2 495.9h0M929 502.1h0M929 491.7h0M911.7 513.9h0M984.1 521h0M982.1 514.7h0M676.5 484.8h0M977.3 525.6h0M902.4 500.8h0M1003.3 527.8h0M847.1 472.5h0M927 486.9h0M868.2 524.4h0M711.8 478.7h0M827.8 511.9h0M859.5 490.3h0M887.4 518h0M864 494.8h0M932.8 555.7h0M707.6 446.8h0M1009.2 525.8h0M930.2 545.8h0M861.9 492.1h0M680.2 540.4h0M942.3 476.7h0M976 490h0M693.7 510.2h0M870.2 517.9h0M955.6 500.3h0M710.5 493.1h0M836.6 502.9h0M688.2 486.1h0M980.9 522.3h0M865.2 477.8h0M937.5 532h0M771.7 457h0M720.2 468.4h0M835 471.1h0M755.2 493.6h0M704 493h0M831.3 475.6h0M677 459.8h0M857.5 470h0M890.4 479.4h0M752.5 455.2h0M918 496.3h0M883.4 491.2h0M933 505h0M696.8 519.1h0M855.5 507.4h0M710.2 460.7h0M894.5 451.6h0M775.4 467.4h0M853.9 494.5h0M1001.2 521.7h0M717.7 472.8h0M715.2 478.6h0M666.2 499.8h0M880.2 472.6h0M856.4 504.5h0M659.3 480h0M987.2 516h0M899.1 495.8h0M940.1 533.6h0M993.9 537.7h0M704.6 478.8h0M845.7 470.3h0M1000.9 506.9h0M862.5 523.6h0M813.9 509.4h0M930.1 483.9h0M874.3 479.6h0M667.3 463.1h0M704 480.2h0M946.3 501h0M939.1 537.4h0M935.3 452.1h0M895.7 493.7h0M916 508.9h0M844.8 499.8h0M750.8 483.7h0M654.5 473.6h0M860.3 500.1h0M764.8 513.7h0M956 486.8h0M982.1 507.1h0M735.4 475.3h0M851 507.5h0M809.7 465.9h0M671.1 484h0M765.6 510.5h0M994.8 487.7h0M939.8 512.2h0M890.4 470.4h0M931 500.1h0M710.9 450.9h0M863.3 536.1h0M777 501.7h0M767.8 498.2h0M776 512.7h0M999.6 542.9h0M880.3 521.4h0M849.8 494.4h0M895.2 475.6h0M707.2 478.2h0M719.8 498.6h0M783.9 506.6h0M901.6 515.2h0M859 456.6h0M972.6 518h0M920.6 531.3h0M985 539.5h0M965.9 474.7h0M836.3 512.8h0M809.5 526.9h0M656.7 492.3h0M688.5 473.3h0M940.3 514.4h0M745.1 477.1h0M883 492.9h0M864.9 456.4h0M908.7 486.4h0M940.8 480.2h0M898.6 523.6h0M750.4 521.9h0M951.3 523.6h0M990.4 485.4h0M981 534.5h0M723.5 488.2h0M874 468.7h0M758.1 480h0M867.4 504.7h0M764.6 471.1h0M716.8 506.9h0M885.4 494.6h0M824 498h0M917.3 519.2h0M771.1 489.4h0M970.7 501.9h0M772 510.4h0M870.6 494.6h0M883.4 536.2h0M717.1 463.5h0M828.8 458.6h0M866.6 460h0M916.7 495.4h0M964.4 533.1h0M688.2 472.4h0M989.4 509.9h0M1000 529.1h0M723.9 486h0M857 548h0M886 508.5h0M976.4 489.6h0M681.7 526h0M904.1 465.2h0M945.9 529.7h0M945.4 535.1h0M693.9 501.8h0M666.2 454.4h0M951.4 498.3h0M928.2 495.4h0M864.7 521.4h0M893.1 490.6h0M949.6 490.5h0M894.4 476.2h0M961.4 514h0M712 505.1h0M958.8 472.9h0M851.7 497.1h0M945.6 478h0M714.7 493.6h0M986.7 507.5h0M869.1 517.1h0M899.3 552.1h0M932.9 543.4h0M940.5 524.5h0M965.4 539.9h0M725.6 466.3h0M995.1 512.9h0M660.6 512.9h0M726 480.7h0M919 503.6h0M774.5 495.2h0M761.9 509.9h0M747.1 464h0M727.5 502.9h0M852.8 466h0M749 492.6h0M724.2 504h0M852.2 493.6h0M923.9 530.8h0M834.2 431h0M737.6 503.4h0M849.6 514.2h0M901.2 496.3h0M921.1 526.1h0M924.4 480.5h0M963.7 552.4h0M918.8 489.5h0M756.3 531.9h0M817.9 454.4h0M1002.9 509.3h0M924.5 500.1h0M849.1 518.4h0M864.4 479.9h0M682.1 479.4h0M707.3 445.3h0M738.1 470.5h0M936.2 469.7h0M851.5 487.7h0M971.2 514.5h0M891.4 496.4h0M948.9 498.9h0M890.5 487.8h0M697.5 469.3h0M956.6 513.3h0M943.3 468.9h0M1004.2 521.9h0M890.6 502h0M870.6 524.3h0M831.9 522.7h0M719 479.9h0M839.9 466.2h0M956.6 504.8h0M885.6 542.3h0M934.7 511.3h0M687.5 481.5h0M666.6 491.1h0M700.7 429h0M689.3 515.8h0M881.1 495.9h0M783.3 425.9h0M971.5 498.8h0M913.9 483.9h0M893.5 503.4h0M859.7 478h0M668 455.3h0M778.6 490.9h0M987.1 499.4h0M955 508h0M710.6 450.9h0M938.2 502.5h0M870.7 527.9h0M994.3 480.2h0M908.2 484.7h0M889.3 524.7h0M824.3 516.5h0M699.1 449.9h0M863.3 507.6h0M769.1 522.5h0M986.7 509.6h0M857.2 504.2h0M977.3 520.1h0M764.3 451.2h0M726.6 502.7h0M964.3 514.1h0M981.9 490.2h0M720.5 500.5h0M938.8 529.1h0M920.5 516.5h0M681.4 469.6h0M802.8 529.9h0M900.2 518h0M776.5 448h0M665.2 480.1h0M695.6 471.1h0M888.2 497.1h0M937.1 517.2h0M950.5 492.8h0M697.7 472.6h0M667.9 471.1h0M934.1 513.9h0M883.3 493.8h0M689.1 473.1h0M660.3 482.5h0M843.7 502.9h0M882.2 493.4h0M858.8 504h0M854.2 492.6h0M700.6 496.2h0M923.7 495.8h0M709 488.5h0M934.4 465.8h0M959.8 499h0M889.9 498.3h0M673.9 465.8h0M751.3 496.5h0M718.9 496.7h0M754.8 501.1h0M828.9 454.8h0M839.6 531.1h0M740.8 493.8h0M859.5 513.9h0M665.9 490.8h0M894.9 496h0M749.6 490.8h0M869.2 494.6h0M863.7 501.4h0M839.6 457.3h0M841.5 485.4h0M900.6 493h0M893.9 487.3h0M773.7 485.3h0M699.2 463.8h0M936 515.1h0M901.8 459.6h0M886.5 525.9h0M880.2 482.2h0M869.8 515.7h0M682.5 454.4h0M863 518.9h0M726.7 468.7h0M962.4 501.2h0M703.4 503.6h0M910 465h0M1001.8 518.2h0M882.3 458.5h0M993.7 528.4h0M789.1 505.3h0M862.1 523.5h0M845.3 536.2h0M654.8 510.7h0M839.6 509.8h0M851.5 496.5h0M889.1 530.3h0M872.6 508.2h0M691 480.8h0M683.6 470.7h0M917.8 509.8h0M719.1 525.3h0M906.9 497.8h0M901.1 490.1h0M888 474.3h0M873.8 544h0M752.3 495.3h0M754.4 498.7h0M695.9 482.6h0M712.3 447.2h0M823.2 467.6h0M1006.7 515.6h0M691.2 469.1h0M945.5 492h0M854.3 538h0M956.5 511.9h0M921.7 528.5h0M668.2 478.1h0M747.2 495.9h0M940.2 468.8h0M684.3 513.1h0M661.8 468.6h0M674 507.2h0M950.1 506.9h0M928 517.8h0M882.1 515.5h0M908.9 510.3h0M922.3 494.1h0M970.9 510.6h0M969.2 486.3h0M724.8 450.8h0M825.7 472.7h0M759.5 496.5h0M820.8 486.3h0M720.1 474.7h0M681.9 447h0M932 520.5h0M767.3 479.6h0M853.4 499.7h0M836.1 473.6h0M905.7 497h0M816.2 511.1h0M924.6 480.3h0M866.6 507h0M871.7 472.7h0M939.6 519h0M922.1 506.9h0M959.9 522.9h0M663.8 478h0M728 484.6h0M920.5 519.8h0M740.5 462.1h0M760.7 492.8h0M841.1 477.9h0M713.7 451.1h0M729.5 500.8h0M876.3 488.9h0M861.9 511h0M827.5 490.4h0M674.8 453.7h0M942.6 490.2h0M912 498.1h0M904.6 478.6h0M941.7 529.2h0M999.2 459.1h0M1001.1 490.5h0M898.9 498.2h0M849 484.7h0M855.6 460.4h0M986.7 518h0M926.3 477.6h0M770.9 474h0M863.6 454.3h0M859.5 496h0M678.9 475.7h0M998 527.2h0M884.4 522.6h0M818.2 490.5h0M918.4 487.1h0M857.7 511h0M865 498.7h0M892.1 478.3h0M663.4 516h0M971.1 518.4h0M717.3 495.2h0M728.1 478h0M806.6 481.5h0M846.6 508.1h0M934 530.9h0M681.2 518.3h0M697.6 498.7h0M880.8 501.5h0M848.9 507.7h0M875.9 482.9h0M674.5 490.2h0M784.4 555.9h0M950.9 522.4h0M908.7 498.7h0M865.3 487.4h0M922.6 539.7h0M853.2 506.9h0M858 475.2h0M853.1 487.8h0M995.8 522.5h0M980.6 542.3h0M765 444.3h0M736.2 500.7h0M664.9 487h0M962.1 488.9h0M879.3 465.2h0M907.1 525.9h0M755.6 496.1h0M860.8 487.4h0M707.3 513.9h0M689 476.7h0M853.8 506.1h0M817.9 528.5h0M929.5 521.6h0M747.4 468.3h0M672.8 478.2h0M679.5 476.4h0M705.2 451h0M814.1 533.7h0M940.3 478.1h0M949.6 473.2h0M669 482.9h0M993.2 498.9h0M936.7 517.9h0M983.7 492h0M958.8 535h0M953.9 495.4h0M757.2 510.4h0M939.5 508.7h0M693.9 433.8h0M924.2 517.1h0M954.8 524.9h0M689.6 461.6h0M743.8 481.2h0M843.6 491.1h0M732.9 441.5h0M927.6 457.3h0M729 487.8h0M802.2 504.3h0M737.1 460.1h0M788.7 472.7h0M905.6 477.1h0M947.6 497.2h0M653.5 494.3h0M969.9 498.4h0M906.1 498.5h0M915.3 543.7h0M869.4 460.1h0M766.2 490.2h0M954 510.4h0M712.8 442.3h0M882.5 510.2h0M691.1 468.8h0M679.9 493.8h0M675.7 494.7h0M855.6 496.6h0M905.8 499h0M860 517.1h0M861.5 544.7h0M942.9 488.7h0M942.4 488.2h0M850 478.8h0M733.7 492.6h0M885.3 510.6h0M941.2 492.6h0M740.4 474h0M984.7 514.3h0M931.5 547.7h0M937.3 504.2h0M889.2 478.7h0M881.2 493.1h0M798.4 465.7h0M742.9 496.6h0M939.5 521.8h0M915.1 533.8h0M720.5 502.3h0M712.5 475.5h0M667.1 484.7h0M948.9 476.3h0M857.9 492.8h0M919.7 499.8h0M865.5 497h0M971.5 526.6h0M887.1 470.5h0M784.8 477.4h0M972.7 510.2h0M665 453.6h0M908.9 531.1h0M754 478.6h0M942.4 482h0M928.7 498.2h0M815.7 491.2h0M728.8 481.2h0M867.3 492.9h0M715 481.3h0M956.9 482.4h0M1002.3 542.7h0M964.6 491.7h0M948.7 520.1h0M854.6 513.6h0M737.3 469.7h0M936 529.4h0M923.2 464.8h0M656.4 487h0M896.6 475.9h0M828.7 499.7h0M905.7 561.2h0M715.3 465.1h0M780.1 534.4h0M687.9 468.3h0M947.3 497.4h0M762.7 460.6h0M873.9 495.2h0M698.3 530.2h0M706.7 482.4h0M712 518.9h0M796.9 445.9h0M665.2 474.7h0M901 531.2h0M789.9 472.4h0M750.8 464.4h0M719.1 442.3h0M883 493.6h0M798.9 515.9h0M850.7 490.2h0M933.4 501.2h0M867.3 467.3h0M858.1 495h0M908.1 546h0M737.3 503.3h0M934.6 518.2h0M964.9 477.9h0M798.6 518.9h0M905 529.8h0M864.3 496.1h0M1000.6 509.8h0M670.3 469.6h0M714.3 464.6h0M737 465h0M905.7 494.9h0M819.4 483.9h0M805.6 493.1h0M893.8 488.1h0M794.4 536.6h0M853.8 500.2h0M952.9 467.1h0M980 512.3h0M714.3 452h0M854.1 481.2h0M681.3 482.3h0M823.1 555h0M705.9 498.8h0M763.7 480.7h0M977 483.2h0M838.5 459.5h0M820 531.9h0M659.1 504.5h0M696.3 431.5h0M895 522.3h0M994.4 475.5h0M851.1 473.9h0M909.6 489.8h0M869.5 495.3h0M825.2 481.7h0M936.8 510.2h0M801.3 511.6h0M753.8 475.3h0M899 519.6h0M924.1 489.8h0M881.7 482.9h0M689.8 485.7h0M889.3 509.9h0M912.6 506.5h0M946.7 486.2h0M896.5 467.2h0M966 528.7h0M938.3 493.4h0M879.7 466h0M886.8 496h0M967.4 492.5h0M970.3 501.6h0M934.8 483.1h0M937.1 485.7h0M871 500.1h0M939 499.6h0M845.3 476.7h0M918 498.4h0M939.7 501.7h0M756.6 484.4h0M830.9 527.8h0M907.1 498.1h0M963.2 506.5h0M819.8 490.6h0M959.7 515.2h0M915.1 482.4h0M787.3 551.8h0M781.7 503.3h0M789.6 498.2h0M959.4 529.2h0M666.4 480.7h0M968.8 486.7h0M860.3 555.4h0M834.1 468.2h0M815.6 516.8h0M760.1 496.7h0M844.6 514.2h0M884 513.1h0M735.5 495.8h0M933.4 503h0M683.1 485.6h0M975.1 520.8h0M762.3 511.1h0M912.8 493.2h0M978.7 502.5h0M734.7 513.8h0M953.8 526.9h0M707.2 515.5h0M780.3 439.4h0M771.5 517.1h0M748.7 494.2h0M962.2 497.4h0M921 475.8h0M915.1 529.6h0M726.4 519.6h0M855.8 473.9h0M742.6 487.3h0M994.3 500.7h0M918.6 505.3h0M719.9 501.1h0M764.1 501.1h0M929.9 495.9h0M844.8 505.9h0M702 479.4h0M864.3 518.3h0M955.1 480.1h0M935.6 478.7h0M775.2 502.7h0M934.3 492.2h0M892.8 484.6h0M719.3 447h0M879.7 453.3h0M720.3 452.5h0M966 505.9h0M821.2 497.1h0M870.8 527.1h0M884.9 478.8h0M945.2 464h0M968.4 550.7h0M990.6 521.4h0M872 507.1h0M870.3 509.1h0M862.2 505.8h0M893.5 529.1h0M740.8 491.3h0M948.9 504.6h0M959.8 528.5h0M918.6 561.3h0M986.3 515.5h0M761.7 470.8h0M708.2 461.3h0M936.3 479.5h0M855.3 503.5h0M900 506.4h0M830.7 508.8h0M747.8 463.5h0M877.7 478.6h0M910.7 551.3h0M997.5 526.2h0M820.5 492.2h0M909.5 531.1h0M929.5 498.1h0M921 498.2h0M848.4 531.3h0M855.1 494.6h0M927.7 485.1h0M680.3 477.9h0M873.6 560.7h0M999 542.7h0M702.5 481.6h0M985.9 511h0M853.3 490.5h0M877.5 508.6h0M802.8 490.3h0M930.8 491.9h0M860.1 478.5h0M745.8 472.6h0M955.4 509.5h0M693.9 473.1h0M658.4 497.5h0M893.1 481.1h0M709.2 515.9h0M888 438h0M917 482.2h0M728.6 473.3h0M994.7 491.5h0M683.6 489.1h0M943.7 490.1h0M982.8 508.1h0M897.1 512.5h0M848.5 525.7h0M975.8 541.2h0M758.8 492.2h0M713.3 490.4h0M930.5 504.9h0M929.5 503.3h0M925.1 477.8h0M927.3 466h0M706.2 474.7h0M838.5 464.2h0M744.9 474.2h0M715.7 453.9h0M776.6 474.1h0M880.8 488.7h0M854.6 520.7h0M735.1 479h0M874.3 446.1h0M873 500.2h0M674.8 492.4h0M897.8 515h0M942.2 494.8h0M946 489h0M907.9 507.3h0M935.6 464.8h0M974.3 509.1h0M1001.3 483.1h0M833 482.7h0M688.6 488.3h0M695.5 473.6h0M679.7 512.9h0M990 542.9h0M734.6 524.3h0M662.6 479.4h0M844.4 515.4h0M968.5 538.9h0M683.1 481h0M944.1 515.3h0M859.5 444.9h0M679.2 468.2h0M749.7 543.9h0M737.8 496.5h0M721.3 521.8h0M974.7 504.5h0M939.2 511.9h0M936.2 473h0M760.4 477.7h0M903.5 483.1h0M732.2 532.1h0M821.7 521.3h0M989.4 528h0M905.3 475.4h0M892.6 514.6h0M946.9 524.8h0M879.6 464.8h0M849.7 515.1h0M926.6 483.8h0M738.9 544.5h0M686.9 477.7h0M759.3 484.9h0M882.9 504.6h0M987.9 522.1h0M989.3 503.4h0M856.5 526.9h0M946.9 524.3h0M785.2 508.7h0M831.5 445.8h0M916.1 480.3h0M926 568.9h0M661.7 521.2h0M661.4 487.4h0M960.9 523.1h0M985.2 490.2h0M783 473.6h0M717.1 430.2h0M694.6 500.1h0M852.8 497.6h0M673.4 450.2h0M941 462.3h0M813.7 520.4h0M786.6 513.1h0M672.1 459.1h0M863.3 449.6h0M682.9 500.6h0M695.5 448.7h0M656.3 470.2h0M988.5 525.1h0M941.2 486.3h0M879.3 485.3h0M856.1 504h0M891.8 513.7h0M860.5 532.1h0M686.1 462h0M921.2 483.3h0M802.5 537.9h0M660.8 469.8h0M925.3 539.2h0M860 515.8h0M966.1 489.3h0M908.3 496.6h0M661.7 486.7h0M864 513.1h0M936.7 495.7h0M701.9 498.9h0M985.7 478.1h0M696 484.7h0M939.7 485.3h0M900.4 502.9h0M759.5 515.1h0M721.1 460.9h0M780.4 500.6h0M846 507.7h0M872.3 505.8h0M898.7 490h0M863.2 483h0M779.1 506h0M919.4 531.9h0M757.5 478h0M941.9 519.9h0M708.6 481h0M883.8 487.7h0M673 487.9h0M807.7 520.9h0M661.9 474.7h0M662.1 484h0M976.8 524.6h0M927.9 479.6h0M738.6 484h0M855.3 490.4h0M950.1 498.2h0M689.3 514.3h0M666.6 512.2h0M769.3 459.7h0M876.2 499.7h0M775 426.3h0M678.8 481.2h0M922.7 504.4h0M978.2 523.4h0M881 502.9h0M986.9 510.9h0M841.2 503.3h0M773.5 485.9h0M988.2 500.4h0M757.3 471.8h0M696.5 477.3h0M744.9 486.3h0M868.3 504.3h0M907.3 480.7h0M850.5 472.2h0M663.2 494.2h0M995 534.3h0M787.9 470.4h0M810.3 497.8h0M903.8 493.1h0M848.1 473h0M735.4 486.5h0M685.5 478.1h0M950.9 501.9h0M891.5 501.5h0M939.1 499.2h0M760 489h0M956.8 514.8h0M746.8 495.6h0M842.3 511.4h0M739.2 490.4h0M902.1 508.7h0M782.7 507.3h0M850.2 503.3h0M851.3 518.3h0M901.9 519.5h0M854.5 552.6h0M870.9 461.7h0M681.7 472.8h0M843.9 517.6h0M944.1 508.2h0M826.9 466.8h0M699.7 516.4h0M739.4 492.9h0M874.6 526.6h0M931.8 471.7h0M722.9 451.1h0M941.2 528h0M887.2 492h0M717.7 470.5h0M886.3 537.7h0M818 495.1h0M926.6 489.8h0M715.3 459.6h0M959.2 520.4h0M716.2 494.9h0M689.3 510.6h0M701.7 457.8h0M783.8 533.5h0M773.4 477.1h0M980.7 490.4h0M885.7 501.5h0M845.3 472.2h0M937.8 494.8h0M932.3 541.8h0M966.8 517.3h0M728.1 498.5h0M972.4 493h0M717.9 496.1h0M698.1 451.6h0M679.7 484.1h0M968.9 505.3h0M908.3 455.5h0M727.3 457.3h0M996.9 500.5h0M956.3 526.5h0M959.6 504.1h0M986.7 526.2h0M784.4 503.5h0M713.9 503h0M1002.2 528.6h0M933 522.8h0M980 522.8h0M885.2 500.5h0M658.5 481.9h0M671.8 513.8h0M841.3 507.4h0M889 522.6h0M867.2 527.9h0M750.8 498h0M906.2 507.9h0M823.3 485.9h0M742.1 480.2h0M793.9 477.5h0M768.8 532.7h0M946 511.2h0M784.2 467.8h0M910.6 538.5h0M717.7 463.3h0M914.6 528h0M937.4 569.7h0M900.6 513.2h0M741 474.6h0M833.4 480.4h0M903.4 493.9h0M941.9 524h0M673.8 489.3h0M860.8 487.4h0M950.5 516.9h0M992.8 491.6h0M834.7 481h0M1000.6 494.7h0M795.5 461.8h0M930.8 471.3h0M729.6 540.9h0M963.4 506.4h0M833.9 472.8h0M885.5 477.5h0M810.9 536.9h0M892.6 509.1h0M940.4 513.4h0M945.2 519.6h0M832 536.6h0M786 516.3h0M919.2 522.8h0M674.1 464.8h0M660.9 452.5h0M840.8 521.3h0M818.8 464.5h0M905.5 484.7h0M843.9 500.9h0M917.7 511.7h0M672.6 477.2h0M997.2 532.7h0M740.9 453.2h0M944.6 515.8h0M897.9 508.8h0M736 473h0M737.4 478.4h0M870.7 473.1h0M660.9 489.5h0M812.6 505.3h0M674.7 467.9h0M929.1 506.6h0M773.7 515.9h0M919.3 493.6h0M792.6 486.9h0M940.9 504h0M677.5 484.7h0M879.4 470.1h0M859.6 475.1h0M773 504.2h0M942.3 470.3h0M738.3 484h0M931.7 535.4h0M677.4 490.2h0M764.8 494.1h0M907.8 529.7h0M875.6 515.9h0M862.1 528.4h0M815 490.5h0M941.9 489.6h0M962.5 483.9h0M989.2 521.8h0M820.4 457.4h0M797.3 519.2h0M686.2 521.9h0M706.3 496h0M925.2 483.3h0M911.7 518.2h0M882.3 517.8h0M879.4 497.1h0M718.3 479.4h0M930.5 524.2h0M815.9 530.3h0M920.1 509.5h0M919.2 541.3h0M877.6 461.7h0M873.7 533.8h0M704.5 473.9h0M794.6 529h0M879.3 532.1h0M887.3 495.1h0M703.6 499.6h0M910.6 504.8h0M867.5 456.1h0M720.9 499.7h0M857.3 494.2h0M855.9 528.5h0M838.9 508.2h0M785.7 464h0M950.4 514.3h0M950.6 488.1h0M966 497.3h0M984.3 521.1h0M665 482.8h0M663.3 498.2h0M819.4 485h0M869.9 471.6h0M696.8 473.1h0M653.8 514h0M872.7 497.1h0M697.6 522.1h0M725.6 490.7h0M942.5 493.1h0M869.4 512.2h0M745.1 492.6h0M700.4 454h0M975.2 496.1h0M985.5 532.6h0M937.9 528.2h0M815.1 514.8h0M790.3 492.1h0M691.5 474.7h0M719.9 522.5h0M660 505.7h0M729 475.2h0M708 490.9h0M900.5 503h0M803.5 480h0M995.6 536.9h0M942.7 483.7h0M678.2 482h0M661.3 526.3h0M946.9 517.8h0M678 464.8h0M936.5 480.8h0M835 534.6h0M950.8 494.9h0M877.7 490.7h0M875.9 512.1h0M845.1 486.8h0M935.5 496.4h0M749.3 483.7h0M883.4 489.3h0M824 490.8h0M926.2 538.6h0M773.2 477.4h0M883.2 508.2h0M755.9 507h0M895.4 481.1h0M913.5 515h0M881 524.1h0M948.5 475.2h0M663 475h0M902.7 497.7h0M910.9 479.6h0M759.9 457.9h0M839.8 532.8h0M854.5 459.4h0M884.7 565.9h0M915.3 482.4h0M877.9 496.5h0M794.1 540.3h0M678.8 479.3h0M731.4 525.4h0M680.5 452.6h0M925.8 493h0M771.6 483.4h0M861.9 504.2h0M930.3 494.2h0M907.8 490.2h0M784.9 460.4h0M847.1 483.3h0M954.9 531.5h0M716.3 484.3h0M763.3 470.6h0M666.4 505.8h0M945.4 518.3h0M859.5 490.9h0M766.7 509.7h0M736.7 535h0M744.7 487.3h0M670.3 468.1h0M694.3 503.2h0M887.5 489.9h0M767.8 466.6h0M988.3 503.7h0M874.9 463.5h0M890 467.1h0M940.3 510.1h0M834.5 519.6h0M749.6 475.3h0M741.2 471.7h0M832.9 492.9h0M795.7 524h0M985.2 492.8h0M745.8 485.6h0M687.4 459.9h0M945.8 472.6h0M882.6 526.6h0M936.6 542.1h0M937.6 493.8h0M989.3 492.7h0M760.1 504.5h0M885.4 496.9h0M918.9 476.7h0M900 506.7h0M988.1 529.9h0M925 517.2h0M688.6 513.6h0M914.3 512.9h0M882.7 503.5h0M832.6 489.6h0M923.5 483.9h0M882.6 481.7h0M845.3 517.5h0M881.1 498.7h0M759.9 481.9h0M906.5 491.7h0M799.4 529.4h0M922.7 485.8h0M714.4 527.3h0M942.2 527.6h0M686.6 461.8h0M799.7 445.4h0M788 525.4h0M931.8 520.9h0M733.2 524.5h0M833.5 462.5h0M772.1 504.6h0M986.9 513.9h0M887.2 452.9h0M777.9 511.9h0M974 528.2h0M847.7 479h0M991.3 501.3h0M916.8 528.6h0M659.6 510.4h0M715.7 497.6h0M928.1 518.5h0M946.7 472.1h0M739.9 506.5h0M866.3 517.1h0M924.8 497.9h0M937.5 484.2h0M659.8 486.8h0M858.6 521.8h0M792.4 503.3h0M716.8 457.5h0M828.8 508.4h0M901.4 510.7h0M664.1 505.5h0M781.6 448.2h0M902 524.6h0M991.1 547.5h0M760.5 488.2h0M669.3 490.5h0M680.4 474.9h0M690.5 507.6h0M813.1 476.1h0M685.8 523.5h0M892.2 513.5h0M721.2 503.2h0M916.1 552.7h0M834.5 523.2h0M926.8 503.7h0M928.6 500.2h0M912.6 501.4h0M897 473.2h0M980.7 541.4h0M912.3 506.9h0M843.3 526.3h0M694.1 512h0M683.4 461.4h0M858.7 528.2h0M891.9 442.2h0M905.5 483h0M980.7 503.9h0M911.6 492.5h0M745.6 474.2h0M710.3 480.8h0M1003.6 482.6h0M859.7 465.3h0M985.2 495.7h0M682 475.1h0M699.1 478.8h0M826.9 518.9h0M941.6 507.9h0M678.3 482.5h0M920.8 509.6h0M954.4 525.1h0M908.9 478.8h0M952.3 477h0M687.2 502.1h0M851 493.2h0M856.8 484.5h0M928.8 508.9h0M802.8 515.6h0M748.6 465.7h0M859.6 507.2h0M868 504h0M721 490.5h0M916.7 521.8h0M818.3 472.6h0M872.9 521h0M839 502.5h0M703.3 447.9h0M934 564.8h0M682.6 475.9h0M729.2 501h0M953.5 477.1h0M974.5 464.7h0M849.2 460h0M847.9 483.2h0M862.3 488.5h0M761.8 506.4h0M941.6 507.9h0M924 515h0M694.7 471.8h0M700.1 493.2h0M983.5 529.9h0M698.5 479.1h0M687.1 476.4h0M880.1 522.8h0M928.2 515h0M719.2 522.7h0M854.3 464.8h0M870.3 501.1h0M825.1 485.8h0M700 498.3h0M928.7 500.4h0M1001.3 517.6h0M698 443.5h0M925.6 520.7h0M690.1 530h0M867.2 461.8h0M935.2 487.5h0M825.7 465.3h0M805.3 528.5h0M917.9 539.5h0M806.2 518.3h0M900.3 484.9h0M704.9 467.4h0M672.3 428.6h0M731.1 459.3h0M865.1 511.5h0M734.8 515.2h0M793.3 505.7h0M773.6 497.8h0M743.1 527.4h0M817.7 528.7h0M906.2 500.7h0M663.9 502.6h0M679.6 467.2h0M861.1 512.4h0M855.9 516.6h0M897.3 522.9h0M949.4 524h0M791.8 506.5h0M863.9 522.6h0M717.2 489.4h0M811.4 491.7h0M688.8 486.1h0M728.3 468.8h0M909.8 509.1h0M840.3 525h0M883.9 508.1h0M657.3 462.4h0M764.4 462.2h0M905.4 529.9h0M690.6 482.6h0M753.9 488.8h0M710.3 497.8h0M891.1 480.4h0M881.5 493.8h0M940.4 477.2h0M715.5 461h0M769 499.3h0M981.2 503.2h0M857 471.6h0M925.4 505.6h0M762.5 505.8h0M669.8 462h0M708.6 472.5h0M707.8 476.7h0M695.9 486.4h0M931.6 510.9h0M992.3 510.1h0M872.3 542h0M874.6 457h0M687.7 456.9h0M953.7 487.8h0M945.3 498.6h0M710.5 488.7h0M900.5 487.8h0M729.2 499.2h0M764.5 534.3h0M765.4 462h0M809.9 541.8h0M906.3 474.8h0M757.5 473.3h0M724 497.2h0M919.2 479.9h0M880.8 471.9h0M887.3 517.3h0M904.8 527.4h0M887.8 538h0M899 470.4h0M996.8 503.4h0M981 518.8h0M924.8 499.7h0M877.7 509h0M745.9 469.4h0M880.8 499.3h0M872.5 508.1h0M774.6 526.1h0M864.6 507.5h0M970.3 551.9h0M950.1 475.6h0M696 495.8h0M938.6 547.8h0M961.2 500.9h0M929.4 494.6h0M963.3 491h0M992.4 495.3h0M747.2 473.6h0M974.6 510.6h0M661.8 536.4h0M879.8 482.2h0M940.8 526.4h0M722.9 506h0M801 502.4h0M894 491.6h0M983.8 471h0M911.3 513.8h0M738.4 518.3h0M878 523.1h0M746.4 512.9h0M914 485.5h0M829.9 522.9h0M757.1 512.3h0M848 518.7h0M674.4 455.6h0M760.8 507.9h0" stroke="#e8232b" stroke-width="2" stroke-linecap="round" fill="none"/>
<line x1="605" y1="422.5" x2="985" y2="434" stroke="#111" stroke-width="1.8" />
<line x1="723" y1="416.5" x2="1030" y2="424" stroke="#111" stroke-width="1.8" />
<line x1="605" y1="422.5" x2="723" y2="416.5" stroke="#111" stroke-width="1.8" />
<line x1="985" y1="434" x2="1030" y2="424" stroke="#111" stroke-width="1.8" />
<line x1="605" y1="422.5" x2="617" y2="600" stroke="#111" stroke-width="1.8" />
<line x1="723" y1="416.5" x2="726" y2="557" stroke="#111" stroke-width="1.8" />
<line x1="985" y1="434" x2="972" y2="685" stroke="#111" stroke-width="1.8" />
<line x1="1030" y1="424" x2="1016" y2="606" stroke="#111" stroke-width="1.8" />
<line x1="618" y1="600" x2="726" y2="557" stroke="#111" stroke-width="1.8" />
<line x1="726" y1="557" x2="1016" y2="606" stroke="#111" stroke-width="1.8" />
<line x1="972" y1="685" x2="1016" y2="606" stroke="#111" stroke-width="1.8" />
<line x1="618" y1="600" x2="972" y2="685" stroke="#111" stroke-width="1.8" />
<line x1="618" y1="600" x2="640" y2="591" stroke="#d22" stroke-width="1.6" />
<line x1="971" y1="685" x2="980" y2="669" stroke="#d22" stroke-width="1.6" />
<line x1="780" y1="639" x2="795.6" y2="627.8" stroke="#d22" stroke-width="1.4" />
<line x1="618" y1="600" x2="610" y2="606" stroke="#222" stroke-width="1.2" />
<line x1="780" y1="639" x2="771" y2="646.3" stroke="#222" stroke-width="1.2" />
<line x1="972" y1="685" x2="962" y2="693" stroke="#222" stroke-width="1.2" />
<text x="583.7" y="428" font-size="18" text-anchor="middle" dominant-baseline="central" fill="#222" textLength="23" lengthAdjust="spacingAndGlyphs" transform="rotate(-8 583.7 428)">130</text>
<text x="586" y="512" font-size="20" text-anchor="middle" dominant-baseline="central" font-weight="bold" textLength="58" lengthAdjust="spacingAndGlyphs" transform="rotate(-90 586 512)">Y(μm)</text>
<text x="604" y="617" font-size="19" text-anchor="middle" dominant-baseline="central" font-style="italic" fill="#222" textLength="11" lengthAdjust="spacingAndGlyphs">0</text>
<text x="655" y="602" font-size="18.5" text-anchor="middle" dominant-baseline="central" fill="#222" textLength="37" lengthAdjust="spacingAndGlyphs" transform="rotate(13 655 602)">2836</text>
<text x="812" y="618.5" font-size="20.5" text-anchor="middle" dominant-baseline="central" font-weight="bold" textLength="70" lengthAdjust="spacingAndGlyphs" transform="rotate(14 812 618.5)">f (MHz)</text>
<text x="811.5" y="639.5" font-size="18.5" text-anchor="middle" dominant-baseline="central" fill="#222" textLength="37" lengthAdjust="spacingAndGlyphs" transform="rotate(13 811.5 639.5)">2870</text>
<text x="953.5" y="671" font-size="18.5" text-anchor="middle" dominant-baseline="central" fill="#222" textLength="37" lengthAdjust="spacingAndGlyphs" transform="rotate(13 953.5 671)">2905</text>
<text x="763" y="657.3" font-size="21" text-anchor="middle" dominant-baseline="central" fill="#222" textLength="22" lengthAdjust="spacingAndGlyphs">35</text>
<text x="753" y="680" font-size="21" text-anchor="middle" dominant-baseline="central" font-weight="bold" font-style="italic" textLength="55" lengthAdjust="spacingAndGlyphs" transform="rotate(12 753 680)">t (ms)</text>
<text x="959.7" y="701.5" font-size="20" text-anchor="middle" dominant-baseline="central" fill="#222" textLength="20" lengthAdjust="spacingAndGlyphs" transform="rotate(-38 959.7 701.5)">70</text>
<text x="983" y="695" font-size="20" text-anchor="middle" dominant-baseline="central" fill="#222" textLength="11" lengthAdjust="spacingAndGlyphs" transform="rotate(-60 983 695)">0</text>
<text x="1008" y="660" font-size="20.5" text-anchor="middle" dominant-baseline="central" font-weight="bold" textLength="53" lengthAdjust="spacingAndGlyphs" transform="rotate(-62 1008 660)">X(μm)</text>
<text x="1030.8" y="615.5" font-size="20" text-anchor="middle" dominant-baseline="central" fill="#222" textLength="31" lengthAdjust="spacingAndGlyphs" transform="rotate(-62 1030.8 615.5)">173</text>
<text x="14.8" y="734" font-size="29" font-weight="bold" textLength="17.8" lengthAdjust="spacingAndGlyphs" stroke="#000" stroke-width="0.5">E</text>
<rect x="72" y="725" width="429" height="278" fill="none" stroke="#3a3a3a" stroke-width="1.8"/>
<line x1="67" y1="745" x2="72" y2="745" stroke="#333" stroke-width="1.3" />
<text x="66.7" y="751.6" font-size="21" text-anchor="end" fill="#222" textLength="40.6" lengthAdjust="spacingAndGlyphs">1.00</text>
<line x1="67" y1="788.3" x2="72" y2="788.3" stroke="#333" stroke-width="1.3" />
<text x="66.7" y="794.9" font-size="21" text-anchor="end" fill="#222" textLength="40.6" lengthAdjust="spacingAndGlyphs">0.98</text>
<line x1="67" y1="831.6" x2="72" y2="831.6" stroke="#333" stroke-width="1.3" />
<text x="66.7" y="838.2" font-size="21" text-anchor="end" fill="#222" textLength="40.6" lengthAdjust="spacingAndGlyphs">0.96</text>
<line x1="67" y1="874.9" x2="72" y2="874.9" stroke="#333" stroke-width="1.3" />
<text x="66.7" y="881.5" font-size="21" text-anchor="end" fill="#222" textLength="40.6" lengthAdjust="spacingAndGlyphs">0.94</text>
<line x1="67" y1="918.2" x2="72" y2="918.2" stroke="#333" stroke-width="1.3" />
<text x="66.7" y="924.8" font-size="21" text-anchor="end" fill="#222" textLength="40.6" lengthAdjust="spacingAndGlyphs">0.92</text>
<line x1="67" y1="961.5" x2="72" y2="961.5" stroke="#333" stroke-width="1.3" />
<text x="66.7" y="968.1" font-size="21" text-anchor="end" fill="#222" textLength="40.6" lengthAdjust="spacingAndGlyphs">0.90</text>
<line x1="72.5" y1="1003" x2="72.5" y2="1006" stroke="#444" stroke-width="1.2" />
<text x="74.9" y="1026.1" font-size="21.3" text-anchor="middle" fill="#222" textLength="46" lengthAdjust="spacingAndGlyphs">2830</text>
<line x1="126" y1="1003" x2="126" y2="1006" stroke="#444" stroke-width="1.2" />
<text x="128.7" y="1026.1" font-size="21.3" text-anchor="middle" fill="#222" textLength="46" lengthAdjust="spacingAndGlyphs">2840</text>
<line x1="179.5" y1="1003" x2="179.5" y2="1006" stroke="#444" stroke-width="1.2" />
<text x="182.5" y="1026.1" font-size="21.3" text-anchor="middle" fill="#222" textLength="46" lengthAdjust="spacingAndGlyphs">2850</text>
<line x1="233" y1="1003" x2="233" y2="1006" stroke="#444" stroke-width="1.2" />
<text x="236.3" y="1026.1" font-size="21.3" text-anchor="middle" fill="#222" textLength="46" lengthAdjust="spacingAndGlyphs">2860</text>
<line x1="286.5" y1="1003" x2="286.5" y2="1006" stroke="#444" stroke-width="1.2" />
<text x="290.1" y="1026.1" font-size="21.3" text-anchor="middle" fill="#222" textLength="46" lengthAdjust="spacingAndGlyphs">2870</text>
<line x1="340" y1="1003" x2="340" y2="1006" stroke="#444" stroke-width="1.2" />
<text x="343.9" y="1026.1" font-size="21.3" text-anchor="middle" fill="#222" textLength="46" lengthAdjust="spacingAndGlyphs">2880</text>
<line x1="393.5" y1="1003" x2="393.5" y2="1006" stroke="#444" stroke-width="1.2" />
<text x="397.7" y="1026.1" font-size="21.3" text-anchor="middle" fill="#222" textLength="46" lengthAdjust="spacingAndGlyphs">2890</text>
<line x1="447" y1="1003" x2="447" y2="1006" stroke="#444" stroke-width="1.2" />
<text x="451.5" y="1026.1" font-size="21.3" text-anchor="middle" fill="#222" textLength="46" lengthAdjust="spacingAndGlyphs">2900</text>
<line x1="500.5" y1="1003" x2="500.5" y2="1006" stroke="#444" stroke-width="1.2" />
<text x="505.3" y="1026.1" font-size="21.3" text-anchor="middle" fill="#222" textLength="46" lengthAdjust="spacingAndGlyphs">2910</text>
<text x="313.5" y="1048.5" font-size="20" font-weight="bold" text-anchor="middle" textLength="172" lengthAdjust="spacingAndGlyphs">Frequency (MHz)</text>
<text x="18.8" y="977.5" font-size="21.5" font-weight="bold" textLength="199.5" lengthAdjust="spacingAndGlyphs" transform="rotate(-90 18.8 977.5)">Light Intensity (a.u.)</text>
<g fill="#1f77b4"><circle cx="93.8" cy="744.5" r="4.1"/><circle cx="97.5" cy="746" r="4.1"/><circle cx="101" cy="749" r="4.1"/><circle cx="105" cy="747.5" r="4.1"/><circle cx="110" cy="746" r="4.1"/><circle cx="115" cy="749.5" r="4.1"/><circle cx="120" cy="747.5" r="4.1"/><circle cx="125" cy="746" r="4.1"/><circle cx="130" cy="746" r="4.1"/><circle cx="135" cy="747.5" r="4.1"/><circle cx="140" cy="747.5" r="4.1"/><circle cx="145" cy="749" r="4.1"/><circle cx="150" cy="749" r="4.1"/><circle cx="155" cy="749" r="4.1"/><circle cx="160" cy="750" r="4.1"/><circle cx="165" cy="751" r="4.1"/><circle cx="170" cy="750" r="4.1"/><circle cx="175" cy="751" r="4.1"/><circle cx="180" cy="754" r="4.1"/><circle cx="185" cy="756" r="4.1"/><circle cx="190" cy="759" r="4.1"/><circle cx="195" cy="761" r="4.1"/><circle cx="200" cy="764.5" r="4.1"/><circle cx="205" cy="767.5" r="4.1"/><circle cx="210" cy="770" r="4.1"/><circle cx="215" cy="772.5" r="4.1"/><circle cx="219.5" cy="776" r="4.1"/><circle cx="224" cy="784" r="4.1"/><circle cx="227.5" cy="789.5" r="4.1"/><circle cx="230.5" cy="792" r="4.1"/><circle cx="234.5" cy="805.5" r="4.1"/><circle cx="237.5" cy="810" r="4.1"/><circle cx="240.5" cy="841" r="4.1"/><circle cx="243.8" cy="852.5" r="4.1"/><circle cx="247.5" cy="872.5" r="4.1"/><circle cx="251.7" cy="896" r="4.1"/><circle cx="255" cy="894" r="4.1"/><circle cx="258" cy="916.7" r="4.1"/><circle cx="261.7" cy="945" r="4.1"/><circle cx="265" cy="947.5" r="4.1"/><circle cx="268" cy="966.7" r="4.1"/><circle cx="273" cy="968" r="4.1"/><circle cx="278" cy="966.7" r="4.1"/><circle cx="281.7" cy="968" r="4.1"/><circle cx="286" cy="970" r="4.1"/><circle cx="289" cy="964" r="4.1"/><circle cx="296.7" cy="973" r="4.1"/><circle cx="300" cy="961" r="4.1"/><circle cx="304" cy="941.7" r="4.1"/><circle cx="308" cy="929" r="4.1"/><circle cx="311" cy="916.7" r="4.1"/><circle cx="314.7" cy="891.7" r="4.1"/><circle cx="318" cy="875" r="4.1"/><circle cx="321" cy="860" r="4.1"/><circle cx="325" cy="856" r="4.1"/><circle cx="328" cy="843" r="4.1"/><circle cx="331" cy="829" r="4.1"/><circle cx="335.5" cy="820" r="4.1"/><circle cx="338" cy="795.5" r="4.1"/><circle cx="342" cy="788" r="4.1"/><circle cx="345.5" cy="781" r="4.1"/><circle cx="349.5" cy="776" r="4.1"/><circle cx="354" cy="772.5" r="4.1"/><circle cx="359" cy="768" r="4.1"/><circle cx="364" cy="765.5" r="4.1"/><circle cx="369" cy="761" r="4.1"/><circle cx="374" cy="759" r="4.1"/><circle cx="379" cy="757.5" r="4.1"/><circle cx="384" cy="756" r="4.1"/><circle cx="389" cy="754" r="4.1"/><circle cx="395" cy="752.5" r="4.1"/><circle cx="400" cy="751" r="4.1"/><circle cx="406" cy="750" r="4.1"/><circle cx="412.5" cy="749" r="4.1"/><circle cx="419" cy="747.5" r="4.1"/><circle cx="425" cy="747.5" r="4.1"/><circle cx="431" cy="746" r="4.1"/><circle cx="437.5" cy="746" r="4.1"/><circle cx="444" cy="745" r="4.1"/><circle cx="450" cy="745.5" r="4.1"/><circle cx="456" cy="745" r="4.1"/><circle cx="462.5" cy="744.5" r="4.1"/><circle cx="469" cy="744.5" r="4.1"/></g>
<path d="M89.6 735.2 L90.6 735.2 L91.5 735.3 L92.5 735.4 L93.4 735.5 L94.4 735.5 L95.3 735.6 L96.2 735.7 L97.2 735.8 L98.1 735.8 L99.1 735.9 L100 736 L101 736.1 L101.9 736.2 L102.9 736.3 L103.8 736.4 L104.8 736.5 L105.7 736.5 L106.7 736.6 L107.6 736.7 L108.6 736.8 L109.5 736.9 L110.4 737 L111.4 737.1 L112.3 737.2 L113.3 737.3 L114.2 737.4 L115.2 737.5 L116.1 737.7 L117.1 737.8 L118 737.9 L119 738 L119.9 738.1 L120.9 738.2 L121.8 738.3 L122.8 738.5 L123.7 738.6 L124.6 738.7 L125.6 738.8 L126.5 739 L127.5 739.1 L128.4 739.2 L129.4 739.4 L130.3 739.5 L131.3 739.7 L132.2 739.8 L133.2 740 L134.1 740.1 L135.1 740.3 L136 740.4 L137 740.6 L137.9 740.7 L138.8 740.9 L139.8 741.1 L140.7 741.2 L141.7 741.4 L142.6 741.6 L143.6 741.8 L144.5 742 L145.5 742.1 L146.4 742.3 L147.4 742.5 L148.3 742.7 L149.3 742.9 L150.2 743.1 L151.2 743.3 L152.1 743.6 L153 743.8 L154 744 L154.9 744.2 L155.9 744.5 L156.8 744.7 L157.8 744.9 L158.7 745.2 L159.7 745.4 L160.6 745.7 L161.6 746 L162.5 746.2 L163.5 746.5 L164.4 746.8 L165.4 747.1 L166.3 747.4 L167.2 747.7 L168.2 748 L169.1 748.3 L170.1 748.6 L171 748.9 L172 749.3 L172.9 749.6 L173.9 750 L174.8 750.3 L175.8 750.7 L176.7 751.1 L177.7 751.5 L178.6 751.9 L179.6 752.3 L180.5 752.7 L181.4 753.1 L182.4 753.5 L183.3 754 L184.3 754.4 L185.2 754.9 L186.2 755.4 L187.1 755.9 L188.1 756.4 L189 756.9 L190 757.4 L190.9 758 L191.9 758.5 L192.8 759.1 L193.8 759.7 L194.7 760.3 L195.6 760.9 L196.6 761.6 L197.5 762.2 L198.5 762.9 L199.4 763.6 L200.4 764.3 L201.3 765 L202.3 765.8 L203.2 766.6 L204.2 767.4 L205.1 768.2 L206.1 769 L207 769.9 L208 770.8 L208.9 771.7 L209.8 772.7 L210.8 773.7 L211.7 774.7 L212.7 775.7 L213.6 776.8 L214.6 777.9 L215.5 779 L216.5 780.2 L217.4 781.4 L218.4 782.7 L219.3 784 L220.3 785.3 L221.2 786.7 L222.1 788.1 L223.1 789.6 L224 791.1 L225 792.7 L225.9 794.3 L226.9 796 L227.8 797.7 L228.8 799.5 L229.7 801.4 L230.7 803.3 L231.6 805.3 L232.6 807.3 L233.5 809.5 L234.5 811.7 L235.4 813.9 L236.3 816.3 L237.3 818.7 L238.2 821.2 L239.2 823.8 L240.1 826.5 L241.1 829.3 L242 832.2 L243 835.1 L243.9 838.2 L244.9 841.4 L245.8 844.6 L246.8 848 L247.7 851.5 L248.7 855.1 L249.6 858.8 L250.5 862.6 L251.5 866.5 L252.4 870.5 L253.4 874.6 L254.3 878.9 L255.3 883.2 L256.2 887.6 L257.2 892.2 L258.1 896.8 L259.1 901.5 L260 906.3 L261 911.1 L261.9 916 L262.9 920.9 L263.8 925.9 L264.7 930.8 L265.7 935.8 L266.6 940.7 L267.6 945.5 L268.5 950.3 L269.5 955 L270.4 959.5 L271.4 963.9 L272.3 968.1 L273.3 972.1 L274.2 975.9 L275.2 979.3 L276.1 982.5 L277.1 985.4 L278 987.9 L278.9 990 L279.9 991.7 L280.8 993.1 L281.8 994 L282.7 994.4 L283.7 994.5 L284.6 994.1 L285.6 993.3 L286.5 992 L287.5 990.3 L288.4 988.3 L289.4 985.8 L290.3 983 L291.3 979.9 L292.2 976.5 L293.1 972.8 L294.1 968.8 L295 964.7 L296 960.3 L296.9 955.8 L297.9 951.1 L298.8 946.4 L299.8 941.5 L300.7 936.6 L301.7 931.7 L302.6 926.7 L303.6 921.8 L304.5 916.8 L305.5 911.9 L306.4 907.1 L307.3 902.3 L308.3 897.6 L309.2 893 L310.2 888.4 L311.1 884 L312.1 879.6 L313 875.4 L314 871.2 L314.9 867.2 L315.9 863.2 L316.8 859.4 L317.8 855.7 L318.7 852.1 L319.7 848.6 L320.6 845.2 L321.5 841.9 L322.5 838.7 L323.4 835.7 L324.4 832.7 L325.3 829.8 L326.3 827 L327.2 824.3 L328.2 821.7 L329.1 819.1 L330.1 816.7 L331 814.3 L332 812 L332.9 809.8 L333.9 807.7 L334.8 805.6 L335.7 803.6 L336.7 801.7 L337.6 799.8 L338.6 798 L339.5 796.3 L340.5 794.6 L341.4 793 L342.4 791.4 L343.3 789.9 L344.3 788.4 L345.2 786.9 L346.2 785.6 L347.1 784.2 L348.1 782.9 L349 781.6 L349.9 780.4 L350.9 779.2 L351.8 778.1 L352.8 777 L353.7 775.9 L354.7 774.8 L355.6 773.8 L356.6 772.8 L357.5 771.9 L358.5 771 L359.4 770.1 L360.4 769.2 L361.3 768.3 L362.3 767.5 L363.2 766.7 L364.1 765.9 L365.1 765.2 L366 764.4 L367 763.7 L367.9 763 L368.9 762.3 L369.8 761.7 L370.8 761 L371.7 760.4 L372.7 759.8 L373.6 759.2 L374.6 758.6 L375.5 758.1 L376.5 757.5 L377.4 757 L378.3 756.5 L379.3 756 L380.2 755.5 L381.2 755 L382.1 754.5 L383.1 754.1 L384 753.6 L385 753.2 L385.9 752.7 L386.9 752.3 L387.8 751.9 L388.8 751.5 L389.7 751.1 L390.7 750.8 L391.6 750.4 L392.5 750 L393.5 749.7 L394.4 749.3 L395.4 749 L396.3 748.7 L397.3 748.3 L398.2 748 L399.2 747.7 L400.1 747.4 L401.1 747.1 L402 746.8 L403 746.6 L403.9 746.3 L404.9 746 L405.8 745.7 L406.7 745.5 L407.7 745.2 L408.6 745 L409.6 744.7 L410.5 744.5 L411.5 744.3 L412.4 744 L413.4 743.8 L414.3 743.6 L415.3 743.4 L416.2 743.2 L417.2 743 L418.1 742.8 L419.1 742.6 L420 742.4 L420.9 742.2 L421.9 742 L422.8 741.8 L423.8 741.6 L424.7 741.4 L425.7 741.3 L426.6 741.1 L427.6 740.9 L428.5 740.8 L429.5 740.6 L430.4 740.4 L431.4 740.3 L432.3 740.1 L433.3 740 L434.2 739.8 L435.1 739.7 L436.1 739.5 L437 739.4 L438 739.3 L438.9 739.1 L439.9 739 L440.8 738.9 L441.8 738.7 L442.7 738.6 L443.7 738.5 L444.6 738.4 L445.6 738.2 L446.5 738.1 L447.5 738 L448.4 737.9 L449.3 737.8 L450.3 737.7 L451.2 737.6 L452.2 737.5 L453.1 737.3 L454.1 737.2 L455 737.1 L456 737 L456.9 736.9 L457.9 736.8 L458.8 736.7 L459.8 736.7 L460.7 736.6 L461.7 736.5 L462.6 736.4 L463.5 736.3 L464.5 736.2 L465.4 736.1 L466.4 736 L467.3 735.9" fill="none" stroke="#d1302f" stroke-width="4.2" stroke-linejoin="round"/>
<circle cx="101.6" cy="932.5" r="4.1" fill="#1f77b4"/>
<text x="127" y="940" font-size="19" font-weight="bold" textLength="86" lengthAdjust="spacingAndGlyphs">Exp. data</text>
<line x1="82" y1="969.5" x2="120" y2="969.5" stroke="#d1302f" stroke-width="4.5" />
<text x="127" y="977.5" font-size="19" font-weight="bold" textLength="95" lengthAdjust="spacingAndGlyphs">Lorent Fit.</text>
<text x="308.5" y="951" font-size="19" font-weight="bold" textLength="189" lengthAdjust="spacingAndGlyphs"><tspan font-style="italic">f</tspan><tspan font-size="12" dy="4" font-style="italic">0</tspan><tspan dy="-4">=2869.62±0.03 MHz</tspan></text>
<text x="310" y="977" font-size="19" font-weight="bold" textLength="122.5" lengthAdjust="spacingAndGlyphs"><tspan font-style="italic">Q</tspan><tspan font-size="11" dy="5" font-weight="normal">F</tspan><tspan dy="-5"> = 11.0 MHz</tspan></text>
<text x="557.5" y="734" font-size="29" font-weight="bold" textLength="16" lengthAdjust="spacingAndGlyphs" stroke="#000" stroke-width="0.5">F</text>
<rect x="619" y="724" width="429" height="279" fill="none" stroke="#3a3a3a" stroke-width="1.8"/>
<line x1="614" y1="736" x2="619.5" y2="736" stroke="#333" stroke-width="1.3" />
<text x="611.5" y="743.2" font-size="20.5" text-anchor="end" fill="#222" textLength="33.6" lengthAdjust="spacingAndGlyphs">600</text>
<line x1="614" y1="781" x2="619.5" y2="781" stroke="#333" stroke-width="1.3" />
<text x="611.5" y="788.2" font-size="20.5" text-anchor="end" fill="#222" textLength="33.6" lengthAdjust="spacingAndGlyphs">400</text>
<line x1="614" y1="826" x2="619.5" y2="826" stroke="#333" stroke-width="1.3" />
<text x="611.5" y="833.2" font-size="20.5" text-anchor="end" fill="#222" textLength="33.6" lengthAdjust="spacingAndGlyphs">200</text>
<line x1="614" y1="871" x2="619.5" y2="871" stroke="#333" stroke-width="1.3" />
<text x="611.5" y="878.2" font-size="20.5" text-anchor="end" fill="#222" textLength="11.2" lengthAdjust="spacingAndGlyphs">0</text>
<line x1="614" y1="916" x2="619.5" y2="916" stroke="#333" stroke-width="1.3" />
<text x="611.5" y="923.2" font-size="20.5" text-anchor="end" fill="#222" textLength="40.6" lengthAdjust="spacingAndGlyphs">-200</text>
<line x1="614" y1="961" x2="619.5" y2="961" stroke="#333" stroke-width="1.3" />
<text x="611.5" y="968.2" font-size="20.5" text-anchor="end" fill="#222" textLength="40.6" lengthAdjust="spacingAndGlyphs">-400</text>
<line x1="619.5" y1="1003" x2="619.5" y2="1006" stroke="#444" stroke-width="1.2" />
<text x="618" y="1026.1" font-size="21.3" text-anchor="middle" fill="#222" textLength="46" lengthAdjust="spacingAndGlyphs">2830</text>
<line x1="673" y1="1003" x2="673" y2="1006" stroke="#444" stroke-width="1.2" />
<text x="671.9" y="1026.1" font-size="21.3" text-anchor="middle" fill="#222" textLength="46" lengthAdjust="spacingAndGlyphs">2840</text>
<line x1="726.5" y1="1003" x2="726.5" y2="1006" stroke="#444" stroke-width="1.2" />
<text x="725.8" y="1026.1" font-size="21.3" text-anchor="middle" fill="#222" textLength="46" lengthAdjust="spacingAndGlyphs">2850</text>
<line x1="780" y1="1003" x2="780" y2="1006" stroke="#444" stroke-width="1.2" />
<text x="779.7" y="1026.1" font-size="21.3" text-anchor="middle" fill="#222" textLength="46" lengthAdjust="spacingAndGlyphs">2860</text>
<line x1="833.5" y1="1003" x2="833.5" y2="1006" stroke="#444" stroke-width="1.2" />
<text x="833.6" y="1026.1" font-size="21.3" text-anchor="middle" fill="#222" textLength="46" lengthAdjust="spacingAndGlyphs">2870</text>
<line x1="887" y1="1003" x2="887" y2="1006" stroke="#444" stroke-width="1.2" />
<text x="887.5" y="1026.1" font-size="21.3" text-anchor="middle" fill="#222" textLength="46" lengthAdjust="spacingAndGlyphs">2880</text>
<line x1="940.5" y1="1003" x2="940.5" y2="1006" stroke="#444" stroke-width="1.2" />
<text x="941.4" y="1026.1" font-size="21.3" text-anchor="middle" fill="#222" textLength="46" lengthAdjust="spacingAndGlyphs">2890</text>
<line x1="994" y1="1003" x2="994" y2="1006" stroke="#444" stroke-width="1.2" />
<text x="995.3" y="1026.1" font-size="21.3" text-anchor="middle" fill="#222" textLength="46" lengthAdjust="spacingAndGlyphs">2900</text>
<line x1="1047.5" y1="1003" x2="1047.5" y2="1006" stroke="#444" stroke-width="1.2" />
<text x="1049.2" y="1026.1" font-size="21.3" text-anchor="middle" fill="#222" textLength="46" lengthAdjust="spacingAndGlyphs">2910</text>
<text x="850" y="1048.5" font-size="20" font-weight="bold" text-anchor="middle" textLength="172" lengthAdjust="spacingAndGlyphs">Frequency (MHz)</text>
<text x="561" y="878" font-size="20" text-anchor="middle" dominant-baseline="central" font-weight="bold" textLength="214.5" lengthAdjust="spacingAndGlyphs" transform="rotate(-90 561 878)">Event Summion (a.u.)</text>
<rect x="634.9" y="750.8" width="90.4" height="76" fill="#fff" stroke="#555" stroke-width="1.4"/>
<g clip-path="url(#ins11)">
<path d="M648 788.7h0M639.4 763.5h0M643 762.1h0M690.6 779.4h0M705 801.1h0M707.5 792.3h0M654.6 792.7h0M695.1 767.4h0M666.8 786.6h0M650.7 824.5h0M639 813.2h0M642.2 795.9h0M699.7 788.3h0M674.6 775.4h0M640.4 757.7h0M658.1 813.7h0M684.1 800.4h0M691 763.1h0M704.8 817.2h0M667.8 757.2h0M691.9 764.3h0M640.2 761.1h0M691.9 776.2h0M644.3 793.2h0M677.1 756.4h0M699 810.7h0M648.8 780.9h0M661.6 796.4h0M700.4 773.7h0M672.8 792.6h0M681.7 771.3h0M645.2 776.2h0M639.4 764h0M704.6 798.7h0M702.2 774.3h0M650.1 815.9h0M701.2 793.1h0M684.9 811.5h0M706.3 788.5h0M644.8 797.4h0M690.2 782.6h0M680 762.5h0M642.7 785.9h0M640.7 824.1h0M659 815.2h0M674.6 782h0M640.8 785.3h0M716 779.1h0M717.2 782.1h0M668.5 763.9h0M644.4 800.6h0M714.9 815.5h0M684.5 797.8h0M677.5 767.6h0M698.8 810.2h0M679.2 796.6h0M688.8 789h0M692.8 770.8h0M681.1 791.8h0M679.7 798.4h0M693.7 791.2h0M691.6 784.8h0M672.3 785.7h0M655.8 744.9h0M695.9 782.8h0M694.4 774.1h0M682.4 780.9h0M669.8 753.7h0M694 798h0M676.7 817.2h0M686.3 790.4h0M685.9 788.8h0M684.7 785.9h0M639.9 795.8h0M692.6 794.8h0M687.9 786.9h0M683.1 787.7h0M691.7 781.6h0M696.2 813.9h0M681.2 784.2h0M685.4 792.7h0M708.1 772.9h0M673.5 821h0M687.8 781h0M682 765.4h0M668.1 793.7h0M687.6 788.1h0M679.1 799.4h0M685.5 769.7h0M687.6 791.1h0M686.1 788.9h0M685.5 788.8h0M693.4 789.9h0M691.8 767.7h0M711 787.7h0M680 789.5h0M691.6 787.9h0M670.9 789.6h0M690.9 787.2h0M686.1 791.3h0M678.7 759.6h0M689 792.6h0M657.2 800.5h0M712.2 798.3h0M697.7 814.9h0M707.5 785.2h0M690.6 790.4h0M685.5 800.2h0M715.9 779.2h0M697.7 810.5h0M651.3 795.2h0M687.4 792.6h0M692.6 793.5h0M686 789.7h0M663 780.5h0M717.2 786.3h0M688.8 790.8h0M691.1 800.1h0M687.3 786h0M691.9 795.3h0M652.1 794.8h0M676.7 838h0M689.4 787.5h0M683.4 810.6h0M663.8 797.8h0M690.1 785.7h0M661 811.7h0M686.4 790.4h0M687 783.9h0M670.3 797.4h0M705.1 746.7h0M690.2 780.5h0M698.4 783h0M680.9 800.2h0M685.2 790h0" stroke="#dd8ea4" stroke-width="1.5" stroke-linecap="round" fill="none"/>
<path d="M694.2 772.6h0M667.4 795.4h0M706.2 815.2h0M677.3 772.8h0M714.3 783.8h0M655.7 755.2h0M697.2 777.2h0M696.6 756.7h0M710 795.1h0M664.3 759.2h0M647.9 806h0M639.2 810.8h0M644.9 754.1h0M655.7 775.5h0M721.4 820.6h0M704.4 819.6h0M640 778.7h0M723.2 763.2h0M643.7 796.8h0M667.3 762.2h0M671.1 818.5h0M715.3 803.2h0M706.6 802h0M660 809.7h0M657.6 797.6h0M666.3 806.8h0M675.6 793.5h0M646.3 815.9h0M673.9 814.1h0M711.4 765.1h0M647.3 782.9h0M698.6 791.8h0M720.8 758.5h0M668.2 789.4h0M641.5 768.6h0M700.8 796.7h0M716 785.1h0M688.2 801.3h0M709.5 785.9h0M667.8 823.5h0M676.3 798.2h0M681.1 794.7h0M689.3 781.6h0M693 791.5h0M691.7 826.2h0M685.9 791.2h0M697 781.6h0M673 783.6h0M686 791.5h0M687.2 790.8h0M686.7 786.9h0M697.1 794.1h0M688.4 787h0M686.5 798.1h0M678.2 798.5h0M688.9 791.1h0M684.7 799.4h0M693.1 784.6h0M691.1 800.5h0M676.6 796h0M677.6 798.5h0M691.3 783.7h0M714.2 777h0M685.1 815.7h0M715.5 787.1h0M687.1 796.1h0M695.2 788.7h0M687.4 797.8h0M705.9 817.9h0M683.7 790.1h0M688.8 804.6h0M674.3 784.6h0M695.5 774.5h0M703.6 781.2h0M663.4 794h0M676.8 773h0M676.6 767.5h0M672.9 778.1h0M686.3 791.2h0M702.9 783.6h0M692.5 787.7h0M690.3 785.3h0M674.3 790.6h0M670.7 781.1h0M687.6 772.6h0M681.9 791.7h0M662.8 799.5h0M684.6 795.5h0M724.2 777.5h0M692 805.3h0M690.8 793h0M708.7 830.1h0M679.6 758.9h0M670.5 755.5h0M690.1 788.1h0M685.4 787.9h0M677.7 814.5h0M686.8 762.6h0M685.8 788.8h0M682.9 795.7h0M707.7 784.6h0M678.8 763h0M678.5 805.4h0M691.1 783.5h0M723.1 798.4h0M673.7 795h0M658.1 802.9h0M657.6 819.3h0M684.5 777.5h0M687.2 784.3h0M688.6 792.8h0M691 799.1h0M703.7 802.4h0M676.6 796.2h0M701.9 802.6h0" stroke="#9498c8" stroke-width="1.5" stroke-linecap="round" fill="none"/>
<circle cx="686.4" cy="790.7" r="9.5" fill="#b8386e" filter="url(#b3)" opacity="0.9"/>
<path d="M680.8 787.7h0M686.4 790.7h0M692.5 794.1h0M679.5 792.9h0M683.9 784.4h0M674.4 782.3h0M682.7 793.6h0M689.6 790.3h0M683.6 792.1h0M685.3 791.5h0M683.1 790.3h0M683.4 785.2h0M686.1 791.2h0M684.6 790.1h0M686.4 790.8h0M684.8 788.5h0M686.6 790.1h0M685.8 790.4h0M688.8 792.1h0M695.4 792h0M683.1 793.1h0M690.2 794.9h0M687 797.6h0M683.1 792.9h0M687 791.4h0M699.6 776.2h0M692.3 788.4h0M685.9 792.6h0M687 789.6h0M689.8 787.5h0M690 782.1h0M689.5 789.1h0M686.9 789.2h0M686.4 794.2h0M686.1 790.4h0M681.3 787.5h0M686.5 791.8h0M674.9 790.7h0M678.8 785h0M686.3 782.3h0M685.8 788.7h0M691.4 787.6h0M678 788.4h0M696.5 800.3h0M686.3 790.8h0M685.6 788.7h0M688.3 787.4h0M690.7 787h0M684.8 788.4h0M683.8 785.7h0M698.3 794.7h0M686.9 798h0M675 795.2h0M685.7 789.9h0M686.3 795.4h0M666.6 798.5h0M689.4 787.6h0M677.5 802.7h0M686.1 797.7h0M693.6 791.9h0M677.2 793.9h0M693.1 785.9h0M683.3 787.9h0M690.2 792h0M686.3 791.5h0M684 787.2h0M687.8 787.8h0M684.9 794h0M688.9 779.7h0M673.8 781h0M684.8 795.7h0M688.7 783.1h0M689.3 783.5h0M685.6 790.3h0M686.1 790.6h0M684.7 791.2h0M676.7 790h0M683.4 784.8h0M686.9 789.3h0M689.3 784.4h0M686.6 788.4h0M688.8 789.6h0M687.9 791.5h0M687.3 802.4h0M680.3 786.7h0M678.8 794.1h0M685.6 789.8h0M686.3 791.1h0M684.7 793.6h0M693 798.1h0M690.1 790.9h0M686.5 786.4h0M685.9 790.3h0M676.2 796.1h0M688.8 789.4h0M693.1 785.8h0M679.1 795.1h0M684.8 793.3h0M679.1 787.5h0M686.2 792.5h0M680.2 796.3h0M693.4 791.4h0M685.3 777.1h0M686.2 791.4h0M686.5 790.4h0M686.3 790.3h0M688 790.9h0M691.8 792.2h0M685.2 794.8h0M686.1 789.9h0M687.1 790.8h0M695.2 789h0M686.4 791.3h0M685.6 796.9h0M686.8 790.4h0M686.7 787.4h0M696.6 805.3h0M684.8 791.2h0M684.4 784.5h0M699.1 793.1h0M684.9 790h0M686 784.2h0M686.6 791.8h0M681.2 789.7h0M686.3 792.3h0M687.3 775.9h0M685.9 798.8h0M686.2 790.7h0M685.2 784.9h0M687.3 790.1h0M683.6 786.9h0M695.2 791.9h0M676.6 797.9h0M679.7 793.5h0M693.1 793.7h0M685.8 790.6h0M686.2 790.9h0M687.1 791.8h0M687.4 794.2h0M676.8 784.1h0M680.6 800.8h0M685 789.2h0M684.8 790.2h0M683 789.6h0M685.2 793h0M685.5 787.7h0M690.5 791.7h0M684.6 797.1h0M690.2 771.9h0M693.7 789.7h0M686.7 791h0M679 790h0M686 790.7h0M692.1 796h0M687.6 791.3h0M697.4 787.3h0M684.2 783.5h0M685.4 795.2h0M692.6 797.6h0M687.5 785.2h0M683.7 790.1h0M688.7 787.1h0M680 791.9h0M686.4 791.8h0M687.7 798.8h0M688.8 784.7h0M681.4 792.9h0M683.7 790.9h0M687.5 785.8h0M696.5 796.9h0M681.6 788.3h0M686.5 790h0M685.9 803.9h0M686.4 790.8h0M688 788.1h0M684.7 792.2h0M682.3 781.6h0M685.8 789.7h0M691.3 775.6h0M685 789.6h0M684.4 790.4h0M682 774.2h0M685.4 792.3h0M684.9 797.1h0M688.6 786.9h0M691.2 789.9h0M683.4 785.9h0M676.8 799.2h0M686.2 790.7h0M681.4 787.5h0M679.9 782.8h0M686.6 799h0M686.1 807.9h0M690.3 798.5h0M680.2 809.1h0" stroke="#7a3a90" stroke-width="1.7" stroke-linecap="round" fill="none"/>
<path d="M686.2 791.6h0M684.1 800.3h0M684 791.5h0M691.1 792.4h0M686.3 791.5h0M687.9 789.8h0M687.6 801.5h0M677.4 789.9h0M684.4 794.1h0M678.4 791.8h0M679.5 787.5h0M687 795.1h0M681.8 787.5h0M678.6 792h0M686.3 796.2h0M678.3 795.5h0M686.1 789.9h0M685.2 792.2h0M684.3 786.4h0M691 790.9h0M682.1 795.1h0M685.3 791.4h0M685.5 791h0M688 790.1h0M686 790.7h0M681.4 780.5h0M686.1 790.1h0M686.2 789h0M681.4 801.2h0M692.2 788.6h0M685.6 792.3h0M686.4 791h0M682.5 792.6h0M685.9 792.3h0M687.8 793.3h0M689.2 783.3h0M682.4 782.1h0M690.5 799.3h0M698.1 799.3h0M680.6 799.7h0M674 801.6h0M686.5 791.7h0M682.5 796.6h0M685.6 784.7h0M691.8 791.4h0M693.5 777.9h0M684.9 794.7h0M685.9 796.5h0M683.1 794.9h0M687.5 795.7h0M686.2 789.5h0M684 786h0M681.6 792h0M692.2 794.3h0M680.3 789.7h0M686.8 787.1h0M686.9 805.8h0M689.3 786.6h0M689.8 793h0M686 784.4h0M700.9 792.1h0M692.5 786.3h0M683 790.1h0M674.3 793.6h0M684 792.4h0M693.8 807.2h0M679.3 787.1h0M686.1 790.3h0M685.1 791.9h0M688.7 791.4h0M687 791.6h0M678.6 800.7h0M678.6 794.4h0M688.4 789.8h0M685.9 795.8h0M685.7 800.3h0M689.1 793.1h0M693.1 782.5h0M687 798.5h0M685.5 789.7h0M686.2 790.7h0M684.4 792.5h0M687.4 793.8h0M686.3 791.8h0M686.4 790.8h0M676.8 782.8h0M690.7 791.6h0M687.4 795.8h0M687.1 788.4h0M682.1 781.9h0M681.8 789h0M685.7 797.6h0M686.9 792.1h0M686.3 790.7h0M683.5 790.9h0M683.4 796.6h0M685.2 791h0M687.1 786.6h0M689.5 795.4h0M678.8 796.7h0M685.5 788.8h0M688 791.3h0M673.9 773.8h0M688.3 782.2h0M692.6 783.4h0M688.5 793.1h0M697.4 783.8h0M684.1 788.4h0M683.8 794.9h0M688.2 792.5h0M684.9 785.5h0M686.3 787.1h0M683.4 789.9h0M687.7 795.7h0M685.5 788.5h0M686.9 793.3h0M687.7 780.9h0M685.8 788.3h0M684.9 791.2h0M689.1 789.7h0M693.7 790.5h0M686.6 782.5h0M687.6 787.7h0M689.5 787.2h0M692 788.3h0M686.4 789.5h0M686 790.5h0M687.1 794.7h0M686.4 792.4h0M692 792.5h0M688.6 793.5h0M685.8 786.7h0M686.2 790.9h0M686.6 800.3h0M685.5 790.4h0M684.3 791.8h0M687.1 791.1h0M685.8 791.1h0M687.2 785.5h0M689.7 801h0M690.9 794.8h0M694.1 792.1h0M686.3 792.4h0M683.6 785.3h0M679.7 793.3h0M686 789.7h0M687.1 796h0M683.4 793.4h0M686.7 788.7h0M681.7 803.6h0M688.3 789.3h0M675.5 792.5h0M688.2 785.9h0M693.9 792.7h0M687.5 789.2h0M686.4 801.3h0M689.5 779.6h0M689.2 793.2h0M687 795.1h0M680.1 786.9h0M686.5 790.7h0M687.3 791.2h0M687.5 783.8h0M689.4 784.4h0M688.2 788.2h0M682.3 791.4h0M695 787.2h0M678.1 782.9h0M686.9 792.4h0M671.6 776.3h0M684.1 787h0M689 799.9h0M683.8 786.6h0M687.4 792h0M685.9 784.7h0M685.5 788.3h0M693.2 793h0M692 794.8h0M682.8 780.8h0M692.7 794.6h0M687.8 786.3h0M688.6 791.2h0M678.1 798.7h0M694.7 781.4h0M680.4 795.8h0M684.9 788.3h0M685.9 792.7h0M686.2 790.8h0M684.8 788.1h0M686.4 790.8h0M693.5 786.6h0M687.4 790.6h0M692.7 788.2h0M690.1 797.6h0M683.6 786h0M684.8 788.8h0M689.6 788.7h0M695.4 785.1h0M683.7 787.1h0M686.4 790.7h0M677.5 796h0M684.7 791.8h0M684.3 790.3h0M689.1 781.2h0M694.6 788.8h0M689.2 790.1h0M683.4 802.7h0M674.4 790.1h0M685.4 788.2h0M680.3 788h0M688.7 791h0M688.5 788.9h0M690.1 789.9h0M687.1 789.6h0M686.3 790.1h0M685 784.2h0M687.9 786.1h0M682.3 791.5h0M685.3 798.6h0M682.8 798.6h0M686.1 783.7h0M684.3 793.7h0M678.2 787.4h0M686.6 790.2h0M680.3 789.8h0M685.9 787.2h0M677.9 793.7h0M694.9 796.6h0M687.9 789.5h0M687.8 790.6h0M685.8 790.9h0M693.7 789.8h0M687.5 787.2h0M687.3 793.5h0M687.3 798.1h0M681.1 786.4h0M684.8 797h0M686.4 790.7h0M686.2 790.3h0M679.9 789.5h0M687.3 791.1h0M686.3 789.5h0M680.1 786.3h0M684.4 791.3h0M685.7 787.9h0M684.7 791.3h0M688.6 785.9h0M681.6 793.5h0M695.1 789.5h0M684.7 794.1h0M688.5 789.9h0M686.8 790.9h0M676.3 793.5h0M681.8 788.5h0M690.1 793h0M688.9 783.3h0M692.1 800.4h0M687.7 785.6h0M678.1 792.4h0M684.8 790.1h0M689.2 790.1h0M688.7 800h0M677.1 786.3h0M686.8 798.7h0M688.5 793.4h0M687.6 789.9h0M686.1 791.1h0M679.5 784.6h0M686.6 790.9h0M686.4 790.7h0M684.9 792.6h0M684.9 797.5h0M688.8 794h0M688.7 790.2h0M683.9 789.4h0M679.2 793.5h0M689.3 783.2h0M686.3 793.8h0M692.7 786.7h0M689.3 802.8h0M681.4 784.9h0M693 794.9h0M682.3 780h0M682.5 798.3h0M694.6 797.1h0M676.6 791.7h0M685.9 789.6h0M689.6 791.3h0M686.3 789.8h0M687.1 791.2h0M690.7 788.1h0M693.9 797h0M675.6 774.9h0M691.7 792.5h0M682.2 790.3h0M687.7 790.8h0M682 790.7h0M690.1 793.5h0M688.9 779h0M687.3 783.1h0M685.7 790.9h0M682.9 789h0M685 792.9h0M684.9 795.5h0M689.8 794.1h0M678.5 789.9h0M685.5 779.1h0M704.5 791.2h0M682.1 792.6h0M684.2 792.4h0M682.5 787.1h0M688.2 787.5h0M690.7 795.9h0M683.1 787.1h0M686.1 789.2h0M689.9 795.7h0M690.1 788.3h0M686.2 790h0M679.9 800.7h0M691.1 786.2h0M691 799.1h0M687.7 790.6h0M684.1 786.1h0M685 791.9h0M686 780.4h0M687 790.6h0M683.9 793.2h0M689.2 789.5h0M688.2 781.5h0M689.3 792.6h0M694.1 791.6h0M686.1 792.5h0M692.5 789.7h0M685.8 789.7h0M679.2 803.4h0M687.2 789.5h0M675.4 778.5h0M684.6 790.3h0M685.2 789.8h0M684.4 792.5h0M683.6 792.8h0M685.6 791h0M686.8 794h0M678.3 783.4h0M694.2 782.1h0M694.4 788.9h0M687.8 792.3h0M680.4 799.3h0M684.9 790.9h0M685.5 791.3h0M686.5 790.6h0M685.2 796.6h0M687.1 791.1h0M680.6 788.3h0M679.8 798h0M685.8 789.4h0M688.3 779.9h0M691.1 789.7h0M687.9 788.4h0M682.4 794.5h0M685.3 793.9h0M688 781h0M681 792.2h0M682.1 789.5h0M684 786.1h0M693.6 796.5h0M671.6 787.7h0M686.5 788.1h0M686.4 790.7h0M685.1 794.7h0M684.6 783.4h0M694.4 788.4h0M692.3 796.5h0M682.7 790.4h0M688.9 806h0M689.6 790.3h0M687.5 793.5h0M685.7 786.3h0M684.9 795.4h0M694.8 788.5h0M686.7 787.6h0M688.1 789.4h0M690.3 782.5h0M684.9 788.6h0M696.8 787.1h0M688.1 784.5h0M692.5 783.2h0M692.2 788.9h0M678.4 795h0M692.2 781.9h0M701.6 795.6h0M687.7 794.5h0M687.4 789.1h0M688.8 791.6h0M696.7 794h0M687 786.4h0M690.3 790.5h0M686.3 788.4h0M685.6 790.3h0M687.2 796.3h0M681.2 789.8h0M688.8 779.9h0M685.6 785.9h0M688.2 797.8h0M686.5 790.6h0M689.7 788.4h0M689.6 792.4h0M682.9 792h0M698.3 791.8h0M681.9 791.1h0M684.6 780.8h0M687 790.9h0M686.8 790.8h0M680.2 797.9h0M691.2 792.4h0M689.2 793.6h0M678 799.9h0M686.5 790.5h0M689.6 792.7h0M687.7 788.9h0M685.5 788.1h0M690.5 799h0M686.6 791.8h0M688.8 795.7h0M686.8 790.6h0M695.2 783.4h0M684.9 796.3h0M687.2 791.8h0M686 791h0M690.2 793.8h0M687.1 793.7h0M686.6 790.5h0M683.5 785.8h0M688.6 785.7h0M685 787.8h0M688.8 789.7h0M684.4 786.9h0M688 792.2h0M680.5 803h0M688.9 793.3h0M690.3 794.3h0M686.2 790.6h0M688 789.4h0M685.9 785.1h0M683.5 793h0M680.9 791.8h0M685.8 789.2h0M685.3 791.3h0M682.8 789.9h0M686 790.1h0M683 796.1h0M692.2 793.4h0M685.6 776.1h0M707.3 798.1h0M691.5 799.7h0" stroke="#c8386a" stroke-width="1.8" stroke-linecap="round" fill="none"/>
</g>
<circle cx="686.4" cy="790.7" r="3.4" fill="#000"/>
<rect x="740.9" y="750.8" width="91.4" height="76.5" fill="#fff" stroke="#555" stroke-width="1.4"/>
<g clip-path="url(#ins12)">
<path d="M801.5 761.1h0M817.9 753h0M752.2 771.5h0M782.5 786.7h0M765.5 766.4h0M825.6 819.7h0M748.5 820.7h0M812.2 800.8h0M760.5 762.5h0M757.8 809.4h0M806.6 796.3h0M789.8 793.3h0M767.6 768.9h0M825.3 787.3h0M821.4 789.1h0M802.9 797.5h0M768.3 819.4h0M751.9 782.1h0M803 775.3h0M750 816h0M811.3 796.8h0M803.8 817.2h0M812.3 815.1h0M805.9 809.2h0M786.5 788h0M753.7 819.6h0M778.3 753.3h0M785.3 814.7h0M749.7 758.1h0M762.3 763.7h0M765.8 772.9h0M768.6 816.7h0M810.2 784.2h0M820.3 775.5h0M763.5 753h0M793.5 777.6h0M746.5 781.9h0M746.2 800.2h0M768.2 770.5h0M796.2 787.5h0M813.3 800.8h0M760.3 771.6h0M784.8 784.3h0M829.9 802.6h0M813.1 817.9h0M799.5 762h0M768.7 811.2h0M821.7 797.7h0M753.9 777.9h0M782.6 788.6h0M762.4 815.6h0M749.6 783.6h0M754.9 812.6h0M754.7 793.3h0M749.1 816.6h0M802.4 787.6h0M828.8 787.9h0M824.6 805.1h0M813.2 813.3h0M804.5 751.3h0M832.5 801.1h0M798.4 792.1h0M787.7 759.7h0M796.9 787.7h0M795.6 789.4h0M789.7 799h0M784.1 781.8h0M783.3 822.6h0M820.1 750.3h0M783.4 788.6h0M801.7 774.3h0M827.2 782.3h0M792.9 811.3h0M779.3 771.6h0M772.6 787h0M795.8 791.9h0M781.9 787.9h0M807.6 750.7h0M793.3 830.4h0M791.4 788.3h0M787.3 810.7h0M808.2 791.6h0M794.1 771.6h0M786.1 803.7h0M812.2 799.7h0M786.4 791.6h0M810.6 783.1h0M782.6 791.7h0M799.8 781.4h0M797.4 790.3h0M809.5 780h0M792.8 788.6h0M788.1 796.5h0M786.6 799.1h0M788.1 788.2h0M794.3 790.4h0M797.1 772.6h0M785.4 799.5h0M785.6 788.3h0M801.1 799.1h0M792.3 790.9h0M795.3 792.9h0M796.3 795.6h0M787 836.4h0M782.7 806.8h0M787.2 805.7h0M778.3 804.7h0M806.1 748.3h0M793 756.8h0M805.6 790.9h0M795.1 794.2h0M785.9 782.6h0M778.8 804.6h0M794.4 789.8h0M802 791.9h0M813.7 811h0M792.1 794.9h0M808.5 810.3h0M772.4 790h0M811.3 786h0M799.1 792.4h0M793.2 797.2h0M800.3 785.9h0M783.3 773.7h0M802.4 790.7h0M793 789.7h0M736.7 778.8h0M790.4 808.5h0M812.7 800.4h0M784.8 782.6h0M816.3 783.5h0M789.3 795.4h0M794.9 789.3h0M792.5 791h0M788.1 802.5h0M801.9 760.1h0M822 775.5h0M795.5 814h0M788.6 793.2h0M790.7 810.2h0M742.5 789.2h0M795.1 777.4h0M798.6 794.2h0M814.2 797.8h0M776.6 803.8h0M806 795.8h0" stroke="#dd8ea4" stroke-width="1.5" stroke-linecap="round" fill="none"/>
<path d="M764.8 821.4h0M758.6 778.2h0M819.1 782.4h0M744.7 821.4h0M795.3 783.2h0M807.9 821.6h0M819.7 822.6h0M820.8 803.2h0M761.3 766.5h0M759.8 821.1h0M788.5 761.6h0M810.7 774h0M759.4 753.3h0M808.5 818.3h0M764.3 807.4h0M746 820.5h0M760.1 756.9h0M783.9 825h0M792.2 755.9h0M762.1 774.2h0M792.4 779.6h0M793.2 823.9h0M747.9 766.2h0M760.5 796.5h0M816 821.8h0M759.4 808.3h0M817.8 817.8h0M746 778.2h0M766.5 753.7h0M790.4 760.2h0M815 773.5h0M773.4 789.9h0M804.6 806.4h0M794.6 820.6h0M770.1 787.1h0M774.4 803.8h0M773.6 754h0M798.6 787.8h0M830.4 758.6h0M782.1 799.8h0M807 776.7h0M802.4 780.4h0M807.3 783.2h0M765.5 750.8h0M801.9 795.6h0M782.1 777.2h0M800.7 788.2h0M806.8 783.6h0M794.5 789.4h0M834.7 738.3h0M819.1 758.2h0M802.6 810.7h0M808.7 778.2h0M798.7 806.6h0M797.9 777.7h0M786.4 822.3h0M819 787.9h0M792.6 800.6h0M786.8 794.6h0M796.1 818.5h0M788.4 790.4h0M781.5 755.6h0M795.7 788.9h0M781 807.1h0M797.2 803.2h0M797 792.6h0M754.4 761.3h0M830.1 786.6h0M797.4 794.9h0M794.7 789.1h0M797.4 795.1h0M799.8 788.2h0M796.1 792.5h0M788.2 793h0M799.1 792.9h0M793.2 789h0M798.8 738.4h0M792.9 789.3h0M804.6 787.2h0M811 789.2h0M806 789.4h0M792.7 789.4h0M793 803h0M804.2 789.3h0M791 778.2h0M768 790.8h0M794.8 776.6h0M793.2 780h0M779.2 785.7h0M774.1 788.4h0M816.4 805.8h0M812.1 752h0M774.5 772.2h0M811 748.3h0M790.4 787.5h0M796.5 787.8h0M790.6 759.4h0M797 788.1h0M783.2 791.6h0M795.5 794.4h0M784.9 815h0M792.4 792.7h0M794.1 789.1h0M806.8 783.9h0" stroke="#9498c8" stroke-width="1.5" stroke-linecap="round" fill="none"/>
<circle cx="794.4" cy="789.7" r="10.5" fill="#4050b2" filter="url(#b3)" opacity="0.9"/>
<path d="M794.9 791.1h0M793.4 789.7h0M788.4 792.9h0M799.4 788.5h0M797.6 795.3h0M794.3 782.9h0M798 789.4h0M790.6 789.5h0M789.4 777.5h0M800.8 782.6h0M797.3 791.5h0M793.3 791.3h0M788.1 799.3h0M792.6 792h0M793.5 790.5h0M793 792.9h0M795.3 791.5h0M801.4 786.3h0M794.3 787.4h0M795.1 788.9h0M795 796.4h0M791.7 791.3h0M794.5 791.3h0M794.9 793.4h0M789.4 807.6h0M790.7 789.2h0M814.4 799.4h0M790.9 788.2h0M793 788.7h0M798.4 789.1h0M789.8 787.9h0M796.7 800.1h0M791.6 794.1h0M794 790.3h0M790.1 793.8h0M789 776.3h0M792.6 790.2h0M792.7 789.7h0M782.8 786.7h0M790.4 797.7h0M795.4 783.4h0M795.4 777.8h0M795.8 789.6h0M804.8 781.1h0M795.2 792h0M794.2 789.2h0M795.3 787.8h0M801.6 785.2h0M801.3 781.4h0M782.2 787.8h0M790.4 789.1h0M798.2 793.7h0M792.2 785h0M794 796.1h0M793.6 786.4h0M797.9 790.1h0M783.1 797h0M794.8 789.9h0M793.8 789.6h0M783.2 785.6h0M791.2 793.1h0M794.5 790h0M794.7 791.2h0M794.6 790.3h0M803 787.9h0M788.3 782.9h0M797.4 796h0M793.2 788.8h0" stroke="#b84070" stroke-width="1.7" stroke-linecap="round" fill="none"/>
<path d="M794.4 790.4h0M800.6 786.5h0M797.6 801.4h0M797.2 789.8h0M794.4 789.6h0M790.5 793.7h0M794.8 790h0M795.7 789.6h0M798.3 797.9h0M797.1 792.1h0M788 790.8h0M794.4 789.7h0M794.3 788.3h0M798.4 785.8h0M797.3 794.7h0M793.7 784.8h0M792.8 788.5h0M795 790.2h0M794.9 787.2h0M796.5 785.9h0M791.4 787.9h0M797.4 791.8h0M794.9 790.1h0M802.9 790.9h0M794.4 789.8h0M798.7 787.5h0M792.5 788.6h0M788.3 787.8h0M792.4 793.5h0M792.2 788.9h0M796.6 791.9h0M803.9 782h0M810.8 788.9h0M794.6 790.2h0M799.3 779.6h0M794.2 787.8h0M798 790.5h0M789.9 787.5h0M793.9 790.5h0M794.2 786.8h0M794.7 775.6h0M792 791.4h0M796 785.4h0M791.3 790h0M794.9 788.9h0M793.8 789.9h0M794 791.4h0M795.8 789.6h0M797.5 799h0M794.5 789.6h0M792.5 785.8h0M789.5 780.1h0M792.7 792.3h0M795.1 800.4h0M794.2 785.8h0M808.9 788.3h0M801.1 784.5h0M790.6 781.3h0M794.1 789.8h0M795.4 785.3h0M800.2 791.5h0M796.4 790.2h0M789.9 791.6h0M794.3 789.7h0M795.1 796.1h0M800.2 788.1h0M800.4 792.6h0M797.5 774.8h0M800.2 789.1h0M795 785.5h0M798.3 793.1h0M794.1 785.9h0M788.1 802.6h0M793.5 790.5h0M789.3 792.3h0M797 788h0M797.4 801.7h0M789.1 780.3h0M798 789.7h0M787.5 792.5h0M801 787.4h0M794.6 790h0M785.7 789.5h0M788.5 810.5h0M801.3 794h0M794.5 790.8h0M782.8 779.3h0M797.3 792.7h0M803.2 794h0M791.8 789.4h0M802.7 795.8h0M790 781.6h0M792.3 789.7h0M797.1 788.3h0M800.7 786.1h0M797.1 790.5h0M787.3 786.9h0M795.9 783.4h0M799.5 790.3h0M794.6 789.6h0M785.9 785.9h0M801.4 792.2h0M794.1 785.6h0M786.1 781h0M801.6 779h0M795 789.9h0M797.1 787h0M797.2 790.2h0M794.7 788.5h0M799.5 790.9h0M784.7 786.1h0M792.2 789.5h0M784.3 775.8h0M795.4 797.3h0M796.1 794.8h0M794.1 790.2h0M797.3 785.5h0M793.7 790.4h0M796 783.7h0M798.5 794.5h0M800.4 772.7h0M794.5 789.6h0M783.9 803.3h0M795.6 790.4h0M787.1 790.2h0M793 792.1h0M783.7 786.6h0M795.4 787.1h0M793.5 789.4h0M797.7 790.6h0M794.8 786.9h0M793.7 783.5h0M790.6 791.4h0M793.1 796.2h0M798 790.6h0M794.5 793.7h0M788.1 804.1h0M797.4 792.2h0M794.4 789.7h0M795.5 791h0M802 789h0M794.7 788.3h0M795.2 787.6h0M790.1 790.4h0M798.6 785.9h0M794.1 785h0M795.7 788.8h0M799.1 790.4h0M796.5 798.2h0M803.1 793.2h0M794.5 777.7h0M799.2 797h0M794.4 789.7h0M794.9 780.7h0M794.8 787.1h0M785.8 787.8h0M792.9 790.7h0M802.6 785.5h0M794.1 790.9h0M801.9 779.3h0M784.4 795.1h0M788.1 780.8h0M800.7 791.7h0M788 787.7h0M803.4 783.1h0M794.3 789.4h0M794.1 790.5h0M795.1 791.2h0M786.4 776.1h0M793.5 789.6h0M800.1 796.7h0M785.2 784.7h0M798.8 793.7h0M799.6 799.2h0M794.1 789.3h0M803.6 788.7h0M793.8 787.2h0M791.3 776.5h0M789 798.7h0M797 793.6h0M798.5 791.2h0M790.3 793.3h0M800.8 794.8h0M786.6 795.8h0M798.4 786.6h0M794.6 788.4h0M787.4 788.3h0M795.5 792.5h0M787.2 788.3h0M804.9 785h0M783.4 768.7h0M793.2 788.8h0M784.8 791.5h0M796.8 789.9h0M796.9 792.1h0M790.8 794.7h0M794.9 785.7h0M788.1 784.8h0M782 792.1h0M795.9 796.1h0M793.5 789.5h0M793.4 784.7h0M788.3 789.4h0M793.1 787h0M794.1 800h0M796.1 791.6h0M801.3 794.7h0M793.3 786.2h0M807.9 785.4h0M792 780.2h0M793.6 790.8h0M791.1 789.6h0M793.6 789.4h0M787.8 787.4h0M800.3 778.7h0M796.2 786h0M787.8 796h0M795.1 785.9h0M794.9 790.5h0M788.5 796.7h0M796.4 795.3h0M798 788.6h0M796.1 793.1h0M793.3 792.1h0M783.4 788.8h0M789.6 792.7h0M792.2 800h0M795.2 786.7h0M795.8 792.3h0M789.5 790.2h0M793.6 790.3h0M802.4 782h0M792.1 797.9h0M794.4 796.5h0M789.9 791.1h0M789.2 795h0M791.3 787.9h0M801.3 784.2h0M795.1 790.7h0M783.4 790.3h0M783.8 796.8h0M795.3 792.6h0M803.9 790.8h0M790 782.4h0M795.8 798.2h0M794.4 789.7h0M794.6 791h0M791.9 795.5h0M796.4 790.7h0M794.3 789.7h0M795.8 785h0M788.2 800.3h0M792 792.7h0M782.2 795.7h0M794.1 791.5h0M796.5 789.5h0M791.8 781.4h0M795.3 789.2h0M794.2 789.6h0M782.9 790.5h0M793.3 790.3h0M797.4 785.6h0M799.9 786.4h0M792.9 789.9h0M792.6 789.8h0M786.1 788.9h0M792.1 789.7h0M799.5 789.4h0M798.5 797h0M802.2 774.6h0M795.1 792.8h0M793.4 787.9h0M795.8 793.4h0M795.6 790h0M794.5 772.9h0M792.3 793.8h0M798.4 789.7h0M793.7 783.7h0M796.2 784h0M794.1 790.6h0M797.6 795.5h0M791.3 777.5h0M803.3 787h0M793.9 786.2h0M794.4 787.9h0M794.5 788.6h0M795.2 793h0M788.7 797.7h0M796.1 791.6h0M783.3 794.9h0M791.5 788.3h0M792.9 784.7h0M800 792.7h0M787.2 786.3h0M792 780h0M792.3 789h0M797.5 789h0M813.1 793.9h0M794.6 791.4h0M789.7 788.2h0M794.3 790.3h0M794.2 797.1h0M792.9 789.6h0M795.6 784.5h0M777.9 784.3h0M794.2 789.2h0M795 788.6h0M791.4 791.5h0M794.4 789.3h0M794.6 789.8h0M793 782.1h0M787.5 797.5h0M790.4 784.7h0M794 787.3h0M798.5 795.3h0M788.7 791h0M793.5 802.9h0M802.7 782.4h0M794.1 789.8h0M796 789.3h0M794.6 790.3h0M790.5 785.9h0M799.8 804.8h0M785.9 793.6h0M796.7 788.9h0M790.3 782.2h0M794.3 800.6h0M790.9 796.5h0M786.8 779.5h0M782.4 786.9h0M793.6 785.4h0M792.4 789.9h0M785.1 788.6h0M790.1 784.3h0M794.5 776.6h0M796.8 788.9h0M784.1 786.8h0M812 788h0M799.7 797h0M793.8 791.8h0M793.7 787.3h0M793.3 781.6h0M788.3 793.3h0M802.1 784.7h0M791.6 786.4h0M794.2 789.6h0M792.8 793.6h0M801.9 796h0M790.2 794.1h0M800.7 794.8h0M797.1 790.4h0M803.9 794.8h0M792.1 787.7h0M796.1 787.5h0M794.5 789.7h0M776.3 790.9h0M796.4 774.4h0M804.7 787.1h0M788.5 797.3h0M794.9 785.8h0M792.4 803.2h0M784.9 790.7h0M790.6 801.1h0M793.9 788.2h0M795.1 789.5h0M796 795.7h0M789.3 792.7h0M785 792.4h0M792.4 792.4h0M804.5 791.8h0M792.8 789.1h0M793.8 799.8h0M789.1 792.6h0M796.8 796.6h0M791 783.1h0M797.9 797.5h0M799.1 790.8h0M793.3 791h0M794.5 789.7h0M786.3 793.3h0M797.4 803.1h0M784.2 801.9h0M797.5 788.7h0M800.3 772h0M801.2 785.5h0M798.1 794.5h0M786 793.9h0M800 791.3h0M792.7 789.7h0M791.4 794.2h0M791.1 788.5h0M796.3 794.1h0M794.5 785.6h0M794.5 788.9h0M791.2 789.1h0M794.5 794.7h0M786.5 791.8h0M797.9 793.8h0M794.5 791h0M793.8 790h0M797.4 786.3h0M790.8 794.2h0M803.4 796h0M790.9 798.1h0M791.6 791.6h0M795.3 787.4h0M794.5 790h0M778.1 781.7h0M794.7 788.9h0M798.8 787.5h0M799 789h0M793.4 790h0M805.6 793.4h0M800.8 800.5h0M795.9 796.7h0M797.6 786.6h0M799.1 788.6h0M796.1 790.4h0M793 787h0M787.3 795.1h0M801.6 783.6h0M794.7 792.9h0M795.2 788.2h0M795.6 790.5h0M798.4 793.2h0M787.9 797h0M792.6 781.2h0M794.9 791h0M797.5 785.7h0M794.2 790.5h0M797 789.5h0M792.7 787.8h0M785.5 788.2h0M789.7 790.1h0M796.6 793.3h0M791.4 793.2h0M799.2 790.6h0M795.4 791.2h0M793.3 793.7h0M794.1 789.6h0M794.9 788.8h0M784.3 794.6h0M800.8 800.1h0M781.6 800.7h0M791.7 786.3h0M794 789.4h0M807.3 781.3h0M810.3 790.1h0M799.4 786.7h0M794.5 789.9h0M803 800h0M794.5 788h0M790 791.3h0M795.8 795.9h0M794.6 787.9h0M794.6 789.1h0M780.3 780h0M799.5 794.1h0M795.6 788.2h0M798.1 793h0M790.9 805.9h0M794.6 790h0M794 789.7h0M794.6 789.8h0M792.9 786.9h0M797.8 791.6h0M797.7 788.7h0M802.3 785.7h0M798.5 792h0M804.9 788.9h0M794.5 795.5h0M788.6 794.8h0M791.6 787.6h0M785.2 794h0M803.5 784.3h0M804.1 786.7h0M794.5 789.8h0M794.5 791.7h0M784.6 783.6h0M794 792.6h0M789.2 788.7h0M803.3 795.8h0M790.9 788.7h0M791.5 789.3h0M798.4 790.1h0M788.2 792h0M792.1 786.7h0M790.4 789.3h0M798.5 793.7h0M794.6 783.3h0M801.1 790.7h0M799.8 795.3h0M793.9 790.1h0M790.8 787.5h0M781 794.5h0M782.4 777.1h0M794.2 790.2h0M795.5 793.6h0M797.7 787h0M787.3 786.5h0M792.2 791.7h0M801.2 793.1h0M794 791.6h0M796.7 793.9h0M800.4 796.7h0M795.3 794.8h0M781.9 788h0M799.2 790.5h0M799 801h0M796.9 777.6h0M797.1 786.4h0M794.9 790.3h0M797.7 776.6h0M803 786.8h0M792.1 795h0M795.8 794h0M792.4 792.3h0M795.2 795.9h0M798.2 789.9h0M804.6 788.6h0M790.6 786h0M791 801h0M794.2 789.3h0M804.6 790.3h0M802.7 793.8h0M798.8 785.7h0M794.1 782.2h0M797.7 791.3h0M793.1 791.5h0M792.8 785.5h0M800.5 777.5h0M793.6 789.3h0M792.4 789.4h0M790 779.8h0M802.3 789h0M793.5 790.9h0M794.9 790.1h0M795.5 798.7h0M789.9 792.7h0M790.9 788.6h0M790.9 792.6h0M792.1 789h0M793.7 789.7h0M793.7 787.7h0M794 787.3h0M793 790.5h0M794.9 798.6h0M791.7 790.2h0M788.7 788.9h0M792.1 800h0M788.4 799.9h0M796.5 803.8h0M791.9 790.8h0M785.4 783.8h0M800 791.9h0M793.6 788.7h0M801.6 787.9h0M792.2 798.4h0M798 794.3h0M794.6 796.7h0M793.5 786.3h0M801.1 792.1h0M794 789.9h0M790.2 787.6h0M793.6 795.1h0M792.7 793.6h0M794.8 789.3h0M798.6 787.4h0M786 799.3h0M796.7 785.8h0M797.1 793.9h0M793.3 791.2h0M790 789.2h0M797.3 796.1h0M791.1 788.2h0M793.7 785.6h0M812.8 794h0M801.9 786.1h0M792.7 784.9h0M793.4 789.9h0M797.6 784h0M794.4 789.7h0" stroke="#3d4db0" stroke-width="1.8" stroke-linecap="round" fill="none"/>
</g>
<circle cx="794.4" cy="789.7" r="3.4" fill="#000"/>
<rect x="926" y="751" width="90" height="76" fill="#fff" stroke="#555" stroke-width="1.4"/>
<g clip-path="url(#ins13)">
<path d="M1002.4 814.6h0M950.5 758.6h0M980.8 753.2h0M1012.7 773.6h0M935.1 784.6h0M994.8 823.5h0M947.2 792.6h0M1010.4 800.5h0M980 806.8h0M975.4 819.9h0M964 781.8h0M932.7 819.9h0M979.6 766.5h0M941.9 776.1h0M931.2 779h0M999.4 758.8h0M958.4 781.7h0M997.6 789.5h0M1006.9 780h0M990.7 806.1h0M993.6 787.7h0M968 780h0M961.7 766.1h0M962.4 794.7h0M989 822.1h0M958.8 787.5h0M968.1 765.7h0M1009.8 784.5h0M978.3 782.8h0M933.2 765.9h0M970.7 761.5h0M931.3 761.1h0M1008.3 759.9h0M987.5 784h0M955.3 798.3h0M964.2 779h0M1001.5 767h0M928.1 771.6h0M941.9 777.3h0M991.6 811.9h0M955.8 791.4h0M980.7 794.7h0M938.3 773.8h0M955.2 806.5h0M1013.4 761.6h0M932 799h0M969.6 764.4h0M935.6 788.9h0M961.3 788.5h0M950.9 825h0M988.8 767.6h0M948.7 806.2h0M1002.6 777.2h0M990.5 793.4h0M972.4 781.3h0M1008.7 788h0M941.1 789.2h0M993.1 774.9h0M974.3 790.6h0M960 795.3h0M979.5 784.1h0M973 807.8h0M1017.4 751.2h0M974.1 785h0M973.6 788.5h0M995.7 790.6h0M973.8 791.2h0M993.6 798.8h0M985 780.7h0M972.3 813.9h0M985.9 751.3h0M995.3 791.2h0M985.1 738h0M971.6 825.3h0M978.3 794.7h0M972.2 770.1h0M978.1 784.2h0M983.6 812.9h0M967 777.2h0M981 789.4h0M975 802.2h0M1027.4 777h0M974.3 795.7h0M974.7 763h0M996.2 776.5h0M969.3 792.3h0M1000.2 792.8h0M976.2 785.2h0M981.8 789.1h0M956.7 827.5h0M990.2 789.9h0M993.7 739.3h0M977.6 801.7h0M979 817.5h0M978.1 787.7h0M969.3 780.2h0M981.4 794.8h0M951.2 775.5h0M967.5 792.1h0M977.5 789.9h0M989.6 796h0M978.8 762.9h0M971.6 803.1h0M991 764.4h0M965.9 790.5h0M967.4 783h0M1003.7 814.5h0M996.8 799.4h0M969.1 777h0M977.5 793.9h0M1003.9 811.8h0M969.1 787.9h0M950.7 781.6h0M979 790.5h0M962.7 819.2h0M967 801.8h0M985.5 762.7h0M980.5 790.6h0M985.8 772h0M969.6 761.1h0M972.9 780.1h0M1006.8 793.9h0M994.2 792.1h0M978.1 798h0M936.3 793.7h0M990.6 776.8h0M977.7 787.7h0M974.6 786.5h0M1034 762.4h0M977.4 787.9h0M963.1 789.6h0M972.3 791h0M959.6 782.3h0M977.5 785.5h0M960.4 829.2h0M965.7 784.3h0M977.9 793.3h0M968 797.2h0M973.9 787.6h0M956.6 791.5h0M1005.4 798.5h0M979 788.3h0M977.5 787.2h0M970.5 799.1h0M980.5 787.4h0M969.6 771.9h0M977 818.3h0M1009.4 788.9h0M975 791.2h0M968.7 765h0M972.7 791.9h0M977.2 783.6h0M968.9 793.8h0M977 786.3h0" stroke="#dd8ea4" stroke-width="1.5" stroke-linecap="round" fill="none"/>
<path d="M963.2 790.3h0M998 788.8h0M991.4 824.5h0M979.5 822.6h0M975.5 792.4h0M991.6 776.1h0M991 787.4h0M1003.2 779.8h0M973.6 800.1h0M976.1 784.6h0M964.6 786.2h0M986.9 813.3h0M983.7 790.8h0M994.2 775.9h0M950.3 798.8h0M931.7 806.5h0M1006.1 808.8h0M950.2 755.3h0M1007.8 791.2h0M937.8 817.6h0M984.1 790.9h0M1013.8 798.8h0M981 787.2h0M1009.6 811.8h0M1009.3 817.6h0M949.1 771.9h0M972.8 766h0M965.6 767.6h0M929.9 803.1h0M994 759.5h0M1004.9 781.1h0M996.9 822.3h0M996.8 802.8h0M978.3 788.6h0M933.8 779.3h0M979.7 789.3h0M971.3 776.5h0M977.9 787.1h0M981.6 780.5h0M985.1 785.8h0M991.6 815.5h0M975.4 763.7h0M978 790h0M925.8 803.9h0M967 775h0M971.9 780.6h0M995 774.4h0M981.2 789.2h0M998 779.7h0M969.1 793.5h0M986.6 810.1h0M980 791.6h0M946 791h0M973.1 795.7h0M967.2 781.5h0M979.5 790.9h0M1008.6 813.7h0M977.2 793.1h0M973.5 789.8h0M967.2 794.5h0M967.8 761.2h0M978.2 786h0M979.3 790.5h0M979.1 786.8h0M969.8 801.5h0M969.4 766.1h0M996 809.3h0M978.1 788.2h0M1011.9 793.9h0M972.7 781.7h0M993.2 743.2h0M975.4 785h0M980 801.6h0M1006.9 799.7h0M975.6 784.9h0M954.4 782.9h0M976.9 782.6h0M990.7 787.9h0M982.3 796.1h0M961.2 787.8h0M984.4 791.7h0M976.1 800.5h0M977.3 772.1h0M990.8 748.5h0M965.2 780.3h0M973.1 764.3h0M1000.2 823.4h0M978.9 788h0M989.8 778.2h0M975.4 773.1h0M988.3 778.2h0M977.9 786.5h0M984.5 788.2h0M951.7 784.8h0M978 782.5h0M977.7 788.1h0" stroke="#9498c8" stroke-width="1.5" stroke-linecap="round" fill="none"/>
<circle cx="978" cy="787.5" r="10" fill="#e2243a" filter="url(#b3)" opacity="0.9"/>
<path d="M976.7 785.6h0M970 783.6h0M979.5 784h0M975.1 787.3h0M974.2 794.9h0M977.4 785.9h0M974.1 790.7h0M969.7 794.1h0M975.2 782.6h0M978.6 790.5h0M979.6 788.5h0M985.9 789.3h0M985.6 783.3h0M976.1 783.9h0M979.9 799h0M987.9 793.2h0M977.9 787.6h0M984.9 787.5h0M983.6 789.8h0M978.8 787.5h0M973.1 789h0M977 780.9h0M979.5 782.6h0M978.7 783.8h0M981.9 783.4h0M974.9 788.1h0M983.8 791.3h0M979.7 786.5h0M977 784.2h0M985.9 785.8h0M971.5 788h0M980.8 792.1h0M985.7 795.2h0M977.4 788.2h0M983.6 785.5h0M977.4 785.7h0M970.4 789h0M975.8 799.7h0M979 788.6h0M977.9 790.6h0M977.1 786.3h0M980 787.2h0M979.2 785.6h0M977.1 786.9h0M975.4 782.9h0M978 787.9h0M975.2 787.4h0M978.3 796.8h0M973.2 784.4h0M971.7 798.6h0M988.1 776.9h0M997.6 782.1h0M986.3 800.9h0M988.6 786.8h0M981.8 784h0M978.9 787.7h0M978.1 787.5h0M981.4 788.5h0M974 789.3h0M975.1 789h0M976.4 789.8h0M983.9 787.6h0M981.7 786.1h0M973.1 793.1h0M980.6 782.6h0M972.3 789h0" stroke="#7040a0" stroke-width="1.7" stroke-linecap="round" fill="none"/>
<path d="M980 786.7h0M968.9 787.3h0M974.9 783.4h0M976.3 788.1h0M970.7 784.1h0M977.9 797h0M981 792.6h0M972.4 792.1h0M976.5 788.3h0M977.7 795.3h0M981.8 790.5h0M980.5 789.5h0M973.9 794h0M977.1 788h0M980.3 795.3h0M991.7 779.4h0M974.3 793.9h0M974.2 776.6h0M972.4 781.7h0M978 787.5h0M972.9 773.2h0M974.4 788.6h0M981.8 784.1h0M978 787.5h0M978.2 784h0M981.1 789.2h0M977.9 779.6h0M977 787h0M978.5 786.5h0M975.4 791.4h0M962.7 782.7h0M980.4 783.9h0M976.5 787.8h0M989.3 789.4h0M974.7 786.8h0M978.1 786.5h0M981.1 781.5h0M977.4 787.3h0M982.4 790.5h0M977.8 787.4h0M973.9 787.3h0M977.3 790.2h0M968.9 787.6h0M973.9 786.3h0M979 780.7h0M962.8 775.1h0M975.1 777.5h0M978.9 791.3h0M969.6 776.2h0M975.2 792.7h0M984.6 790.3h0M974.5 787.4h0M979.4 787.9h0M992.2 788.2h0M970.6 785h0M978.3 784.2h0M970.3 792.1h0M978.6 787.9h0M977 785.9h0M977.2 779.8h0M972.9 783h0M986.3 785.2h0M988.2 782.2h0M983.9 805.4h0M979.9 791.7h0M984 780.2h0M964.1 789.3h0M974.9 770h0M979 786.5h0M978.7 787.6h0M988.7 783.2h0M978.2 789.6h0M977.5 784.3h0M968.4 789.6h0M983.8 788.8h0M976.1 789.2h0M968.2 786.9h0M978.5 786h0M974.5 780.5h0M981.5 787.1h0M988.6 791.6h0M978.9 780.2h0M982.9 791.4h0M978.4 787.3h0M981.5 791h0M978.9 797.5h0M981.3 787.8h0M978 787.6h0M986 790.7h0M978.2 787.6h0M972.7 786.1h0M979.1 786.3h0M969.6 786.9h0M978.9 786.9h0M978.1 786.6h0M976.9 784h0M974.6 772.3h0M972.9 792.4h0M983.3 788.8h0M977.4 789h0M977.5 784.2h0M982.3 791.7h0M974.6 788h0M978.6 787.8h0M980.8 790.5h0M981.6 785.4h0M978.1 786.2h0M988.9 786.1h0M983.2 784.9h0M974.3 788.6h0M975.2 785.2h0M976.3 794.3h0M982.4 786h0M974.6 790.6h0M978.3 789.1h0M978.1 786.9h0M978 787.7h0M975.1 795.1h0M977 788.1h0M977.8 785.9h0M975.7 788.5h0M977.9 789.2h0M982.1 789h0M973.1 789.9h0M973.3 785.7h0M977.5 784.7h0M974.4 792h0M974.6 783.7h0M975.9 788.4h0M972 775h0M978.3 790.6h0M979.9 782.3h0M981.4 780.5h0M972.5 785.2h0M975.1 792.8h0M979.5 784.9h0M981.4 795.4h0M977 770.2h0M974.1 788.8h0M973.3 784h0M989.4 803.3h0M970.3 796.7h0M985.2 783.8h0M983 778.4h0M966.4 790.4h0M978.7 784.5h0M972.9 786.2h0M975.4 784.4h0M979.3 789.7h0M980.6 789.2h0M978.7 787.6h0M979.7 787.8h0M977 785.2h0M975.2 788h0M968.1 791.9h0M980.1 792.2h0M978.7 787.7h0M977.5 785.3h0M989.5 779.2h0M980.1 789.6h0M993.5 791.9h0M976 782.6h0M970.7 791.4h0M988 791.3h0M974.2 785.1h0M981.4 781.4h0M974.7 779.5h0M981.9 792.7h0M976.5 793h0M974.2 784h0M982.5 789h0M978 787.5h0M980.3 783.7h0M970.8 783.6h0M978.7 786.2h0M976.6 788.3h0M985.2 794.4h0M977.7 788.4h0M975.7 787.3h0M977.6 787.6h0M978.6 784.7h0M978 787.5h0M977.7 777.8h0M980.7 791.5h0M978.3 792.5h0M980.3 791h0M974.5 789.3h0M976 780.7h0M979.2 783h0M984.6 781.9h0M975.9 783h0M972.1 789.9h0M979.1 785.2h0M976.6 782.2h0M975.7 783.9h0M977.2 787.9h0M976.7 786.3h0M965.4 776.9h0M989.4 788.2h0M974.3 788.5h0M966.3 772.3h0M979.2 789.3h0M977.7 786.9h0M979.5 792.4h0M975 787.4h0M978.8 783.4h0M978.8 787.4h0M978.2 776.6h0M976.5 785h0M978.2 799h0M978.2 786.9h0M980.3 788.3h0M979.2 787.6h0M978.6 789.1h0M977.5 785.2h0M977.1 787.3h0M977.1 788.1h0M985.4 775.7h0M975.3 790.7h0M978.2 788.3h0M983.2 788.3h0M975.2 791.3h0M978.9 788.2h0M977.5 775.9h0M977 787.1h0M985.5 797.7h0M982.2 786.2h0M979.5 794.9h0M977.2 787.7h0M977.1 785.5h0M976.8 791.8h0M975.7 792.6h0M966.4 790.7h0M980.2 786.1h0M975.3 778.6h0M985.8 786.8h0M972.5 782.5h0M987 788.9h0M977 785.8h0M977.8 790.7h0M977.6 784.8h0M977.9 793.1h0M980.1 784.4h0M976.3 783h0M979.7 779.5h0M980.4 780.3h0M973.3 787.6h0M969 776.5h0M975.1 786.7h0M985.1 777h0M976.8 780.5h0M965.9 785.9h0M974.8 782.4h0M985.4 787.2h0M978.3 783.7h0M973.7 788.7h0M970.2 793.8h0M978.4 784.7h0M970 795h0M981.5 789.7h0M973.9 789.2h0M976.8 786.5h0M986.6 799.1h0M975.1 792.9h0M975.4 778.5h0M980.6 786.5h0M969.8 791.5h0M976.2 785.9h0M982.2 784.6h0M975.5 791.2h0M969.8 782.9h0M980.6 788.3h0M986.7 795.1h0M978.5 787.6h0M983 776h0M982.7 791.5h0M978.4 787.4h0M980.4 786.3h0M986.2 787.8h0M965.4 788.2h0M971.3 789.3h0M976.7 788.1h0M984.4 778.9h0M986.1 784.2h0M974.9 790.3h0M981.5 792.1h0M979.6 789.7h0M983 792.3h0M974.4 793.3h0M980.8 781.4h0M977.8 788.3h0M974.5 781.7h0M971.8 785.3h0M978.7 787.2h0M975.9 790.3h0M973.2 795.1h0M978.7 787.3h0M975.4 776.6h0M991.3 781.3h0M974.7 790.7h0M972.6 781.6h0M979 788.1h0M966.9 796.3h0M978.1 787.6h0M980.3 784.2h0M978.4 787.9h0M978.4 787.3h0M977.2 784.7h0M973.6 779.9h0M978.3 788h0M977.8 777.8h0M977.7 791.3h0M962.4 788.8h0M977.3 786.6h0M978.2 787.5h0M976.7 785.6h0M969.7 785.3h0M969.1 793.7h0M975.2 795.9h0M980.6 791.8h0M974.5 783.8h0M982.8 785.8h0M971.4 793.3h0M970.9 782.9h0M985.2 789.2h0M978.4 787.8h0M981.4 796.7h0M975.7 794.4h0M978.8 789.2h0M982.1 791.6h0M978.1 791.3h0M977.5 784.7h0M972.4 788.6h0M973.1 777.7h0M982.8 782.2h0M984.5 791.7h0M966.8 788.4h0M986.5 792h0M977.9 785.6h0M981.6 783.6h0M978.8 789h0M980.9 786.1h0M973.1 784.2h0M977.5 787.7h0M973 797.5h0M978.8 789.4h0M978.9 786.5h0M975.6 784.1h0M985.3 784.4h0M972 795.2h0M981.9 787h0M960.8 775.1h0M975.8 793.3h0M978.4 788.1h0M962.6 782.2h0M975.6 783.7h0M982.4 789.4h0M973.4 786.2h0M986.3 781.3h0M984.9 785.3h0M977 787.5h0M974.5 784.5h0M988.3 780.5h0M977 787.5h0M976.2 785.2h0M981.3 795.1h0M980.2 787.3h0M982.1 779.3h0M972.7 788.6h0M975.4 791.9h0M978.1 789.3h0M974.8 792.8h0M985.1 787.6h0M974.3 787.3h0M977.6 788.9h0M975.8 783.4h0M978.5 787.1h0M978.4 786.6h0M981.4 789.8h0M974.6 786.5h0M978.2 787.4h0M977.4 786.8h0M980.5 787.2h0M984.1 786.6h0M981.9 786h0M984.4 779.6h0M975.9 782.9h0M966.1 790.3h0M975.5 785.3h0M980.6 792.1h0M980.9 793.5h0M966.5 780.8h0M977.8 786.6h0M970.7 799.2h0M975 786.4h0M982.9 783.2h0M977 788.4h0M977.9 785.7h0M977.5 781h0M980.6 785.7h0M979.7 782.2h0M968.6 789.6h0M976 790.2h0M984.4 786.2h0M977.3 787.5h0M980.6 775.8h0M986.2 782.6h0M978.2 788.9h0M980.3 785.9h0M987.5 793.8h0M973.9 783.1h0M978.5 783.8h0M972 786.6h0M983.2 791.1h0M975.5 787h0M974.6 793.4h0M978.2 791.1h0M972.5 798.8h0M976.1 787.8h0M979.3 791.3h0M978.2 788.2h0M982.3 781.5h0M983.6 787.8h0M972 789.1h0M971.2 782h0M977.5 787h0M976.9 781.6h0M976.1 787.4h0M972.7 786h0M977.7 787.4h0M990.5 790.8h0M987.3 791.3h0M975.6 790.2h0M990.2 784.1h0M982.3 792h0M985.7 786.9h0M982.3 799.4h0M977.7 790.9h0M977.4 786.4h0M970.9 790.3h0M987 770.3h0M983.6 785.1h0M977.7 776.8h0M979.1 786.5h0M978 787.6h0M985.1 789h0M978 787.4h0M965.8 789.2h0M978.1 787.7h0M977 789.7h0M986 791.2h0M978.9 785.1h0M980.4 785.6h0M974.9 784.9h0M978.8 787.1h0M976.1 785.6h0M990.8 782.1h0M983.3 791h0M968.8 779.4h0M976.1 787.7h0M978.3 790.7h0M977.8 787.1h0M966 790.8h0M975.7 789.8h0M978 788.3h0M980 783.5h0M975.5 786.3h0M977.5 787.8h0M988 782.2h0M973 788.5h0M978.2 787.4h0M973.8 785.7h0M979.6 786.8h0M975.9 782.4h0M972 784.3h0M977.8 790.2h0M979.9 786.9h0M976.3 785.4h0M975 782.2h0M978.2 787.6h0M977.8 789.7h0M982.1 794h0M979.1 790.5h0M965.4 796.1h0M975.9 787.3h0M976.6 785.9h0M977.9 786.4h0M974.5 787h0M979.5 784.8h0M976.5 789.2h0M977.3 789h0M981.3 786.3h0M978.1 788.1h0M978.9 787.9h0M977.4 784.1h0M978 787.8h0M977.8 778.2h0M975.9 788.1h0M975.5 788.6h0M975.5 787.9h0M980.1 777.9h0M978.5 787.9h0M983.2 787.6h0M972.5 778.5h0M977.7 788.3h0M977.8 791.5h0M975.9 790.3h0M972.8 779.3h0M979.1 789.7h0M979.5 788h0M980 789.5h0M979 792.3h0M980.5 791h0M975.4 790.5h0M985.3 782.8h0M981.7 797.1h0M984.8 792.1h0M977.7 786.6h0M983.2 791.7h0M978.3 784.6h0M982.2 790.6h0M975.2 777.5h0M988.6 784h0M978.5 788.6h0M976.7 784h0M979.1 788h0M977.6 786.8h0M976.8 776.9h0M985.3 790.8h0M978.7 793h0M977.6 789.7h0M981.5 784.1h0M977.6 777h0M981.8 779.5h0M972.2 772.9h0M976.4 786h0M981.8 796.9h0M983.2 782.3h0M981.8 789.8h0M983.1 786.6h0M980.2 798.6h0M977.2 788.2h0M982.5 792.8h0M980.6 785.6h0M977.7 785.9h0M975.9 788.8h0M977.4 787.8h0M971.9 780.9h0M983.7 790.2h0M976.3 787.9h0M977.3 791.4h0M986.7 784.2h0M981.6 791h0M978.4 782.7h0M980.1 787.2h0M986.7 789.6h0M974.6 789.6h0M977.8 792.1h0M981.6 797.5h0M978 788h0M983.8 791.5h0M987.7 792.3h0M974.7 785.5h0M983.8 790.1h0M978.7 787.4h0M976.4 786.3h0M978 787.5h0M978 787.6h0M981.1 787.6h0M982.3 793.9h0M975.4 800.2h0M975.2 791.1h0M970.2 790.2h0M977.2 787.1h0M979.1 788.8h0M972.9 777.3h0M972.9 787.4h0M973.3 780.4h0M975.9 788.4h0M975.8 788h0M967.2 792.9h0M977.1 788h0M977 786.6h0M977.1 787h0" stroke="#e2223a" stroke-width="1.8" stroke-linecap="round" fill="none"/>
</g>
<circle cx="978" cy="787.5" r="3.4" fill="#000"/>
<text x="637" y="812" font-size="17.5" textLength="44" lengthAdjust="spacingAndGlyphs">50μm</text>
<line x1="643" y1="820" x2="666" y2="820" stroke="#000" stroke-width="4" />
<path d="M635.5 860 L636.3 860 L637.1 860 L637.9 860 L638.6 860 L639.4 860 L640.2 860.1 L641 860.1 L641.7 860.1 L642.5 860.1 L643.3 860.1 L644 860.1 L644.8 860.2 L645.6 860.2 L646.4 860.2 L647.1 860.2 L647.9 860.2 L648.7 860.3 L649.4 860.3 L650.2 860.3 L651 860.3 L651.8 860.3 L652.5 860.4 L653.3 860.4 L654.1 860.4 L654.8 860.4 L655.6 860.4 L656.4 860.5 L657.2 860.5 L657.9 860.5 L658.7 860.5 L659.5 860.5 L660.3 860.6 L661 860.6 L661.8 860.6 L662.6 860.6 L663.3 860.7 L664.1 860.7 L664.9 860.7 L665.7 860.7 L666.4 860.8 L667.2 860.8 L668 860.8 L668.7 860.9 L669.5 860.9 L670.3 860.9 L671.1 860.9 L671.8 861 L672.6 861 L673.4 861 L674.1 861.1 L674.9 861.1 L675.7 861.1 L676.5 861.2 L677.2 861.2 L678 861.2 L678.8 861.3 L679.6 861.3 L680.3 861.3 L681.1 861.4 L681.9 861.4 L682.6 861.4 L683.4 861.5 L684.2 861.5 L685 861.6 L685.7 861.6 L686.5 861.6 L687.3 861.7 L688 861.7 L688.8 861.8 L689.6 861.8 L690.4 861.9 L691.1 861.9 L691.9 862 L692.7 862 L693.4 862.1 L694.2 862.1 L695 862.2 L695.8 862.2 L696.5 862.3 L697.3 862.3 L698.1 862.4 L698.8 862.4 L699.6 862.5 L700.4 862.5 L701.2 862.6 L701.9 862.7 L702.7 862.7 L703.5 862.8 L704.3 862.8 L705 862.9 L705.8 863 L706.6 863 L707.3 863.1 L708.1 863.2 L708.9 863.3 L709.7 863.3 L710.4 863.4 L711.2 863.5 L712 863.6 L712.7 863.6 L713.5 863.7 L714.3 863.8 L715.1 863.9 L715.8 864 L716.6 864.1 L717.4 864.2 L718.1 864.3 L718.9 864.4 L719.7 864.5 L720.5 864.6 L721.2 864.7 L722 864.8 L722.8 864.9 L723.6 865 L724.3 865.1 L725.1 865.2 L725.9 865.3 L726.6 865.4 L727.4 865.6 L728.2 865.7 L729 865.8 L729.7 865.9 L730.5 866.1 L731.3 866.2 L732 866.4 L732.8 866.5 L733.6 866.7 L734.4 866.8 L735.1 867 L735.9 867.1 L736.7 867.3 L737.4 867.4 L738.2 867.6 L739 867.8 L739.8 868 L740.5 868.2 L741.3 868.3 L742.1 868.5 L742.9 868.7 L743.6 868.9 L744.4 869.1 L745.2 869.4 L745.9 869.6 L746.7 869.8 L747.5 870 L748.3 870.3 L749 870.5 L749.8 870.8 L750.6 871 L751.3 871.3 L752.1 871.5 L752.9 871.8 L753.7 872.1 L754.4 872.4 L755.2 872.7 L756 873 L756.7 873.3 L757.5 873.7 L758.3 874 L759.1 874.3 L759.8 874.7 L760.6 875 L761.4 875.4 L762.1 875.8 L762.9 876.2 L763.7 876.6 L764.5 877 L765.2 877.5 L766 877.9 L766.8 878.4 L767.6 878.8 L768.3 879.3 L769.1 879.8 L769.9 880.3 L770.6 880.8 L771.4 881.4 L772.2 881.9 L773 882.5 L773.7 883.1 L774.5 883.7 L775.3 884.3 L776 885 L776.8 885.6 L777.6 886.3 L778.4 887 L779.1 887.8 L779.9 888.5 L780.7 889.3 L781.4 890.1 L782.2 890.9 L783 891.7 L783.8 892.6 L784.5 893.5 L785.3 894.4 L786.1 895.3 L786.9 896.3 L787.6 897.3 L788.4 898.3 L789.2 899.3 L789.9 900.4 L790.7 901.5 L791.5 902.7 L792.3 903.8 L793 905 L793.8 906.3 L794.6 907.5 L795.3 908.8 L796.1 910.1 L796.9 911.5 L797.7 912.9 L798.4 914.3 L799.2 915.8 L800 917.2 L800.7 918.7 L801.5 920.3 L802.3 921.8 L803.1 923.4 L803.8 925 L804.6 926.6 L805.4 928.3 L806.1 929.9 L806.9 931.6 L807.7 933.3 L808.5 935 L809.2 936.6 L810 938.3 L810.8 939.9 L811.6 941.6 L812.3 943.2 L813.1 944.7 L813.9 946.3 L814.6 947.7 L815.4 949.1 L816.2 950.4 L817 951.7 L817.7 952.8 L818.5 953.8 L819.3 954.7 L820 955.5 L820.8 956.1 L821.6 956.5 L822.4 956.7 L823.1 956.7 L823.9 956.5 L824.7 956 L825.4 955.3 L826.2 954.3 L827 953 L827.8 951.5 L828.5 949.6 L829.3 947.3 L830.1 944.8 L830.9 941.9 L831.6 938.6 L832.4 935.1 L833.2 931.1 L833.9 926.8 L834.7 922.2 L835.5 917.3 L836.3 912.1 L837 906.6 L837.8 900.8 L838.6 894.8 L839.3 888.6 L840.1 882.2 L840.9 875.7 L841.7 869.1 L842.4 862.4 L843.2 855.7 L844 849 L844.7 842.4 L845.5 835.8 L846.3 829.4 L847.1 823.2 L847.8 817.2 L848.6 811.4 L849.4 805.8 L850.2 800.5 L850.9 795.6 L851.7 790.9 L852.5 786.6 L853.2 782.6 L854 779 L854.8 775.7 L855.6 772.8 L856.3 770.2 L857.1 767.9 L857.9 766 L858.6 764.4 L859.4 763.1 L860.2 762 L861 761.3 L861.7 760.8 L862.5 760.6 L863.3 760.6 L864 760.8 L864.8 761.1 L865.6 761.7 L866.4 762.4 L867.1 763.3 L867.9 764.3 L868.7 765.4 L869.4 766.7 L870.2 768 L871 769.4 L871.8 770.8 L872.5 772.3 L873.3 773.9 L874.1 775.5 L874.9 777.1 L875.6 778.8 L876.4 780.4 L877.2 782.1 L877.9 783.8 L878.7 785.4 L879.5 787.1 L880.3 788.8 L881 790.4 L881.8 792 L882.6 793.7 L883.3 795.2 L884.1 796.8 L884.9 798.3 L885.7 799.8 L886.4 801.3 L887.2 802.8 L888 804.2 L888.7 805.6 L889.5 806.9 L890.3 808.3 L891.1 809.6 L891.8 810.8 L892.6 812.1 L893.4 813.3 L894.2 814.4 L894.9 815.6 L895.7 816.7 L896.5 817.8 L897.2 818.8 L898 819.9 L898.8 820.9 L899.6 821.8 L900.3 822.8 L901.1 823.7 L901.9 824.6 L902.6 825.4 L903.4 826.3 L904.2 827.1 L905 827.9 L905.7 828.7 L906.5 829.4 L907.3 830.1 L908 830.8 L908.8 831.5 L909.6 832.2 L910.4 832.8 L911.1 833.5 L911.9 834.1 L912.7 834.7 L913.4 835.2 L914.2 835.8 L915 836.3 L915.8 836.9 L916.5 837.4 L917.3 837.9 L918.1 838.4 L918.9 838.8 L919.6 839.3 L920.4 839.7 L921.2 840.2 L921.9 840.6 L922.7 841 L923.5 841.4 L924.3 841.8 L925 842.2 L925.8 842.5 L926.6 842.9 L927.3 843.2 L928.1 843.6 L928.9 843.9 L929.7 844.2 L930.4 844.5 L931.2 844.8 L932 845.1 L932.7 845.4 L933.5 845.7 L934.3 845.9 L935.1 846.2 L935.8 846.5 L936.6 846.7 L937.4 847 L938.2 847.2 L938.9 847.4 L939.7 847.6 L940.5 847.9 L941.2 848.1 L942 848.3 L942.8 848.5 L943.6 848.7 L944.3 848.9 L945.1 849.1 L945.9 849.3 L946.6 849.4 L947.4 849.6 L948.2 849.8 L949 850 L949.7 850.1 L950.5 850.3 L951.3 850.4 L952 850.6 L952.8 850.7 L953.6 850.9 L954.4 851 L955.1 851.2 L955.9 851.3 L956.7 851.4 L957.5 851.5 L958.2 851.7 L959 851.8 L959.8 851.9 L960.5 852 L961.3 852.1 L962.1 852.3 L962.9 852.4 L963.6 852.5 L964.4 852.6 L965.2 852.7 L965.9 852.8 L966.7 852.9 L967.5 853 L968.3 853.1 L969 853.2 L969.8 853.3 L970.6 853.3 L971.3 853.4 L972.1 853.5 L972.9 853.6 L973.7 853.7 L974.4 853.8 L975.2 853.8 L976 853.9 L976.7 854 L977.5 854.1 L978.3 854.1 L979.1 854.2 L979.8 854.3 L980.6 854.3 L981.4 854.4 L982.2 854.5 L982.9 854.5 L983.7 854.6 L984.5 854.6 L985.2 854.7 L986 854.8 L986.8 854.8 L987.6 854.9 L988.3 854.9 L989.1 855 L989.9 855 L990.6 855.1 L991.4 855.1 L992.2 855.2 L993 855.2 L993.7 855.3 L994.5 855.3 L995.3 855.4 L996 855.4 L996.8 855.5 L997.6 855.5 L998.4 855.6 L999.1 855.6 L999.9 855.6 L1000.7 855.7 L1001.5 855.7 L1002.2 855.8 L1003 855.8 L1003.8 855.8 L1004.5 855.9 L1005.3 855.9 L1006.1 856 L1006.9 856 L1007.6 856 L1008.4 856.1 L1009.2 856.1 L1009.9 856.1 L1010.7 856.2 L1011.5 856.2 L1012.3 856.2 L1013 856.2 L1013.8 856.3 L1014.6 856.3 L1015.3 856.3 L1016.1 856.4 L1016.9 856.4 L1017.7 856.4 L1018.4 856.5 L1019.2 856.5 L1020 856.5 L1020.8 856.5" fill="none" stroke="#f39237" stroke-width="5" stroke-linejoin="round"/>
<g fill="#1f8a3f"><circle cx="650" cy="861.2" r="4.1"/><circle cx="655.6" cy="863.4" r="4.1"/><circle cx="661" cy="861" r="4.1"/><circle cx="665.7" cy="864" r="4.1"/><circle cx="671" cy="869.4" r="4.1"/><circle cx="675.8" cy="866" r="4.1"/><circle cx="681.4" cy="864" r="4.1"/><circle cx="688" cy="865" r="4.1"/><circle cx="693.4" cy="862" r="4.1"/><circle cx="698" cy="868" r="4.1"/><circle cx="703.5" cy="881" r="4.1"/><circle cx="709" cy="873.7" r="4.1"/><circle cx="714.4" cy="868.4" r="4.1"/><circle cx="719.4" cy="861.2" r="4.1"/><circle cx="724.7" cy="854.4" r="4.1"/><circle cx="730" cy="859" r="4.1"/><circle cx="735" cy="861" r="4.1"/><circle cx="740" cy="869" r="4.1"/><circle cx="745.7" cy="863.6" r="4.1"/><circle cx="751" cy="862" r="4.1"/><circle cx="756.7" cy="864" r="4.1"/><circle cx="762" cy="867.7" r="4.1"/><circle cx="767.3" cy="869.4" r="4.1"/><circle cx="772.9" cy="870.8" r="4.1"/><circle cx="778.4" cy="873.2" r="4.1"/><circle cx="783.2" cy="876" r="4.1"/><circle cx="788.5" cy="882" r="4.1"/><circle cx="793.3" cy="890" r="4.1"/><circle cx="798" cy="901.4" r="4.1"/><circle cx="803.4" cy="942.3" r="4.1"/><circle cx="809.7" cy="989.7" r="4.1"/><circle cx="814.5" cy="971.2" r="4.1"/><circle cx="819.8" cy="946" r="4.1"/><circle cx="825.8" cy="944.7" r="4.1"/><circle cx="830.6" cy="905.5" r="4.1"/><circle cx="836" cy="899" r="4.1"/><circle cx="839.7" cy="863.9" r="4.1"/><circle cx="846" cy="836" r="4.1"/><circle cx="851.7" cy="806.4" r="4.1"/><circle cx="857.2" cy="764.7" r="4.1"/><circle cx="862" cy="742" r="4.1"/><circle cx="867.5" cy="736" r="4.1"/><circle cx="873" cy="759" r="4.1"/><circle cx="877.8" cy="782.5" r="4.1"/><circle cx="882.8" cy="794" r="4.1"/><circle cx="888.3" cy="807" r="4.1"/><circle cx="893.9" cy="818" r="4.1"/><circle cx="899.4" cy="821.4" r="4.1"/><circle cx="904.4" cy="822" r="4.1"/><circle cx="909" cy="833" r="4.1"/><circle cx="914.7" cy="838" r="4.1"/><circle cx="920" cy="842.5" r="4.1"/><circle cx="925.8" cy="852" r="4.1"/><circle cx="931.4" cy="852.8" r="4.1"/><circle cx="937" cy="852" r="4.1"/><circle cx="942.5" cy="853.6" r="4.1"/><circle cx="948" cy="855.6" r="4.1"/><circle cx="953.6" cy="854" r="4.1"/><circle cx="959" cy="855.6" r="4.1"/><circle cx="964.7" cy="855.6" r="4.1"/><circle cx="971.7" cy="861" r="4.1"/><circle cx="977.8" cy="861" r="4.1"/><circle cx="984" cy="870" r="4.1"/><circle cx="989" cy="860.6" r="4.1"/><circle cx="994.4" cy="855" r="4.1"/><circle cx="999.4" cy="864.4" r="4.1"/><circle cx="1005" cy="857" r="4.1"/><circle cx="1010" cy="861" r="4.1"/><circle cx="1015.6" cy="864" r="4.1"/></g>
<line x1="687" y1="798" x2="693" y2="856" stroke="#111" stroke-width="1.6" stroke-dasharray="6 4.5"/>
<path d="M685.5 851 L692.5 858 L699 851" fill="none" stroke="#111" stroke-width="1.5" />
<line x1="796" y1="796" x2="816.5" y2="937" stroke="#111" stroke-width="1.6" stroke-dasharray="6 4.5"/>
<path d="M810.5 932 L817 940 L822 931" fill="none" stroke="#111" stroke-width="1.5" />
<line x1="972" y1="786" x2="865" y2="766.5" stroke="#111" stroke-width="1.6" stroke-dasharray="6 4.5"/>
<path d="M870.5 760 L862.5 766 L869.5 773" fill="none" stroke="#111" stroke-width="1.5" />
<line x1="686" y1="791" x2="688" y2="800" stroke="#000" stroke-width="2" />
<circle cx="644" cy="932" r="4.1" fill="#1f8a3f"/>
<text x="677" y="938.3" font-size="19" font-weight="bold" textLength="85" lengthAdjust="spacingAndGlyphs">Exp. data</text>
<line x1="623" y1="970" x2="662" y2="970" stroke="#f39237" stroke-width="5" />
<text x="677" y="967.3" font-size="19" font-weight="bold" textLength="92" lengthAdjust="spacingAndGlyphs">Derivative</text>
<text x="677" y="991.5" font-size="19" font-weight="bold" textLength="93" lengthAdjust="spacingAndGlyphs">Lorent Fit.</text>
<text x="845.5" y="951" font-size="19" font-weight="bold" textLength="192" lengthAdjust="spacingAndGlyphs"><tspan font-style="italic">f</tspan><tspan font-size="12" dy="4" font-weight="normal">0</tspan><tspan dy="-4">*=2869.63±0.03 MHz</tspan></text>
<text x="847.5" y="976" font-size="19" font-weight="bold" textLength="116" lengthAdjust="spacingAndGlyphs"><tspan font-style="italic">Q</tspan><tspan font-size="11" dy="5" font-weight="normal">E</tspan><tspan dy="-5">=13.5 MHz</tspan></text>
<text x="13.4" y="1075.8" font-size="32.5" font-weight="bold" textLength="22.9" lengthAdjust="spacingAndGlyphs" stroke="#000" stroke-width="1">G</text>
<path d="M69 1079.1H1053.5M69 1124.2H1053.5M69 1201.2H1053.5M69 1213H1053.5M69 1226.1H1053.5M69 1240.9H1053.5M69 1258H1053.5M69 1278.3H1053.5M69 1303.1H1053.5M69 1335.1H1053.5M69 1380.2H1053.5M69 1457.2H1053.5M83.2 1062V1469M109.3 1062V1469M132.3 1062V1469M188.6 1062V1469M288.4 1062V1469M332 1062V1469M367.6 1062V1469M423.9 1062V1469M467.5 1062V1469M503.1 1062V1469M533.2 1062V1469M559.3 1062V1469M582.3 1062V1469M602.9 1062V1469M738.4 1062V1469M817.6 1062V1469M873.9 1062V1469M917.5 1062V1469M953.1 1062V1469M983.2 1062V1469M1009.3 1062V1469M1032.3 1062V1469" fill="none" stroke="#b4b4b4" stroke-width="1.5" />
<path d="M69 1062H1053.5V1469H69Z" fill="none" stroke="#444" stroke-width="1.8" />
<line x1="69" y1="1469" x2="1053.5" y2="1469" stroke="#333" stroke-width="2.4" />
<line x1="66.5" y1="1079.1" x2="69" y2="1079.1" stroke="#333" stroke-width="1.2" />
<line x1="66.5" y1="1124.2" x2="69" y2="1124.2" stroke="#333" stroke-width="1.2" />
<line x1="66.5" y1="1201.2" x2="69" y2="1201.2" stroke="#333" stroke-width="1.2" />
<line x1="66.5" y1="1213" x2="69" y2="1213" stroke="#333" stroke-width="1.2" />
<line x1="66.5" y1="1226.1" x2="69" y2="1226.1" stroke="#333" stroke-width="1.2" />
<line x1="66.5" y1="1240.9" x2="69" y2="1240.9" stroke="#333" stroke-width="1.2" />
<line x1="66.5" y1="1258" x2="69" y2="1258" stroke="#333" stroke-width="1.2" />
<line x1="66.5" y1="1278.3" x2="69" y2="1278.3" stroke="#333" stroke-width="1.2" />
<line x1="66.5" y1="1303.1" x2="69" y2="1303.1" stroke="#333" stroke-width="1.2" />
<line x1="66.5" y1="1335.1" x2="69" y2="1335.1" stroke="#333" stroke-width="1.2" />
<line x1="66.5" y1="1380.2" x2="69" y2="1380.2" stroke="#333" stroke-width="1.2" />
<line x1="66.5" y1="1457.2" x2="69" y2="1457.2" stroke="#333" stroke-width="1.2" />
<text x="72.8" y="1492.5" font-size="19.5" text-anchor="middle" fill="#222" textLength="39.5" lengthAdjust="spacingAndGlyphs">0.06</text>
<text x="194" y="1492.5" font-size="19.5" text-anchor="middle" fill="#222" textLength="39.5" lengthAdjust="spacingAndGlyphs">0.12</text>
<text x="336.8" y="1492.5" font-size="19.5" text-anchor="middle" fill="#222" textLength="39.5" lengthAdjust="spacingAndGlyphs">0.25</text>
<text x="473.8" y="1492.5" font-size="19.5" text-anchor="middle" fill="#222" textLength="39.5" lengthAdjust="spacingAndGlyphs">0.50</text>
<text x="608" y="1492.5" font-size="19.5" text-anchor="middle" fill="#222" textLength="39.5" lengthAdjust="spacingAndGlyphs">1.00</text>
<text x="741" y="1492.5" font-size="19.5" text-anchor="middle" fill="#222" textLength="39.5" lengthAdjust="spacingAndGlyphs">2.00</text>
<text x="874" y="1492.5" font-size="19.5" text-anchor="middle" fill="#222" textLength="39.5" lengthAdjust="spacingAndGlyphs">4.00</text>
<text x="1008" y="1492.5" font-size="19.5" text-anchor="middle" fill="#222" textLength="39.5" lengthAdjust="spacingAndGlyphs">8.00</text>
<line x1="188.6" y1="1469" x2="188.6" y2="1473" stroke="#333" stroke-width="1.2" />
<line x1="332" y1="1469" x2="332" y2="1473" stroke="#333" stroke-width="1.2" />
<line x1="467.5" y1="1469" x2="467.5" y2="1473" stroke="#333" stroke-width="1.2" />
<line x1="602.9" y1="1469" x2="602.9" y2="1473" stroke="#333" stroke-width="1.2" />
<line x1="738.4" y1="1469" x2="738.4" y2="1473" stroke="#333" stroke-width="1.2" />
<line x1="873.9" y1="1469" x2="873.9" y2="1473" stroke="#333" stroke-width="1.2" />
<line x1="1009.3" y1="1469" x2="1009.3" y2="1473" stroke="#333" stroke-width="1.2" />
<text x="31.4" y="1209" font-size="20.5" fill="#222">10<tspan font-size="12" dy="-7">-1</tspan></text>
<text x="31.4" y="1466.3" font-size="20" fill="#222">10<tspan font-size="12" dy="-7">-2</tspan></text>
<text x="25" y="1337" font-size="21.5" font-weight="bold" textLength="157" lengthAdjust="spacingAndGlyphs" transform="rotate(-90 25 1337)">Precision (MHz)</text>
<text x="553" y="1514" font-size="20.5" font-weight="bold" text-anchor="middle" textLength="166" lengthAdjust="spacingAndGlyphs">Sensing Time (s)</text>
<g fill="#e0232b"><rect x="144.5" y="1237" width="9" height="9"/><rect x="170.5" y="1248" width="9" height="9"/><rect x="194" y="1263.5" width="9" height="9"/><rect x="214" y="1316.5" width="9" height="9"/><rect x="349.5" y="1330" width="9" height="9"/><rect x="428.5" y="1274.5" width="9" height="9"/><rect x="485" y="1361" width="9" height="9"/><rect x="528" y="1344" width="9" height="9"/><rect x="564.2" y="1371.2" width="9" height="9"/><rect x="593.5" y="1364.2" width="9" height="9"/><rect x="619.5" y="1361.2" width="9" height="9"/><rect x="643" y="1300" width="9" height="9"/><rect x="663" y="1377.5" width="9" height="9"/><rect x="798" y="1331.2" width="9" height="9"/></g>
<g fill="#1d7d3b"><circle cx="718.8" cy="1331" r="4.3"/><circle cx="781.2" cy="1366.2" r="4.3"/><circle cx="830" cy="1384.5" r="4.3"/><circle cx="868.8" cy="1393" r="4.3"/><circle cx="900.5" cy="1399" r="4.3"/><circle cx="928.2" cy="1427" r="4.3"/><circle cx="952" cy="1430" r="4.3"/><circle cx="973.8" cy="1439.2" r="4.3"/><circle cx="993" cy="1420.5" r="4.3"/><circle cx="1010.8" cy="1450.8" r="4.3"/></g>
<line x1="146.5" y1="1250.5" x2="803.8" y2="1410.5" stroke="#f0a22e" stroke-width="5" stroke-linecap="butt"/>
<path d="M718.75 1331.25 Q840 1395 1008.75 1441.25" fill="none" stroke="#29b6cf" stroke-width="5" />
<polygon points="391,1072.5 393.1,1078.1 399.1,1078.4 394.4,1082.1 396,1087.9 391,1084.6 386,1087.9 387.6,1082.1 382.9,1078.4 388.9,1078.1" fill="#1f77b4" />
<polygon points="672.5,1257.5 674.6,1263.1 680.6,1263.4 675.9,1267.1 677.5,1272.9 672.5,1269.6 667.5,1272.9 669.1,1267.1 664.4,1263.4 670.4,1263.1" fill="#1f77b4" />
<text x="171" y="1087" font-size="20.5" font-weight="bold" fill="#1a1a1a" textLength="212" lengthAdjust="spacingAndGlyphs">Lock-in Camera [15a]</text>
<text x="586" y="1257.5" font-size="20.5" font-weight="bold" fill="#1a1a1a" textLength="215" lengthAdjust="spacingAndGlyphs">Lock-in Camera [15b]</text>
<rect x="739" y="1072.5" width="304.5" height="120" fill="#fff" rx="4" stroke="#d8d8d8" stroke-width="1.3" fill-opacity="0.95"/>
<rect x="763" y="1083" width="9" height="9" fill="#e0232b" />
<circle cx="767.5" cy="1116.5" r="4.2" fill="#1d7d3b"/>
<line x1="745" y1="1144" x2="790" y2="1144" stroke="#f0a22e" stroke-width="5" />
<line x1="745" y1="1173" x2="790" y2="1173" stroke="#29b6cf" stroke-width="5" />
<text x="804" y="1094.5" font-size="19.5" fill="#222" textLength="232" lengthAdjust="spacingAndGlyphs">EventCamera-Experiment</text>
<text x="804" y="1123.5" font-size="19.5" fill="#222" textLength="181" lengthAdjust="spacingAndGlyphs">EMCCD-Experiment</text>
<text x="804" y="1151.5" font-size="19.5" fill="#222" textLength="183.5" lengthAdjust="spacingAndGlyphs">EventCamera-Fitting</text>
<text x="804" y="1180.5" font-size="19.5" fill="#222" textLength="134.5" lengthAdjust="spacingAndGlyphs">EMCCD-Fitting</text>
<g stroke="#c8c8c8" stroke-width="1.3" fill="#fff"><ellipse cx="937.5" cy="1465" rx="13" ry="11"/><path d="M929 1474 l-3 6 l8 -3Z"/><ellipse cx="952" cy="1476" rx="12" ry="10.5"/><path d="M960 1484 l3 5 l-7 -2Z"/><circle cx="933" cy="1462" r="1.3" fill="#ccc" stroke="none"/><circle cx="942" cy="1462" r="1.3" fill="#ccc" stroke="none"/><circle cx="948" cy="1474" r="1.1" fill="#ccc" stroke="none"/><circle cx="956" cy="1474" r="1.1" fill="#ccc" stroke="none"/></g>
<text x="973.3" y="1484" font-size="23.5" fill="#fff" textLength="70.7" lengthAdjust="spacingAndGlyphs" fill-opacity="0.45" stroke="#bdbdbd" stroke-width="1">MEMS</text>
<text x="901.7" y="1495" font-size="15.5" font-weight="bold" textLength="62.3" lengthAdjust="spacingAndGlyphs" font-family="Liberation Mono">ybx8.cn</text>
</svg>
</body></html>
